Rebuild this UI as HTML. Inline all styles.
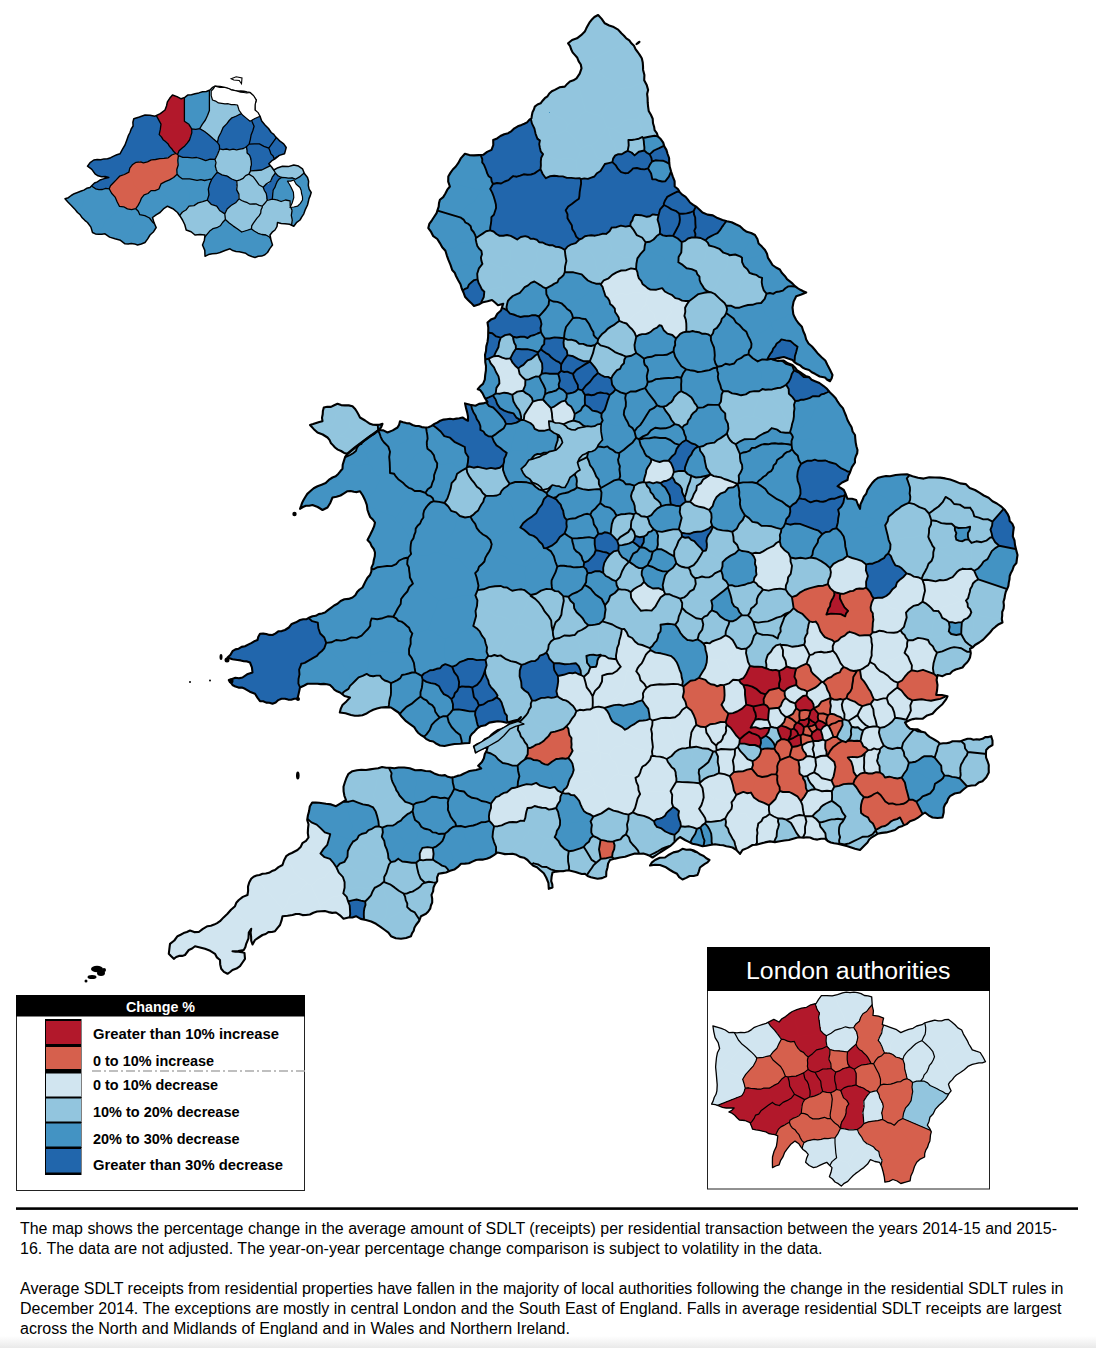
<!DOCTYPE html>
<html><head><meta charset="utf-8"><title>SDLT map</title>
<style>
html,body{margin:0;padding:0;background:#fff;}
body{width:1096px;height:1348px;position:relative;overflow:hidden;font-family:"Liberation Sans",sans-serif;}
svg{position:absolute;left:0;top:0;}
.t{font-family:"Liberation Sans",sans-serif;font-size:16px;fill:#000;}
.lg{font-family:"Liberation Sans",sans-serif;font-weight:bold;font-size:14.5px;fill:#000;}
</style></head><body>
<svg width="1096" height="1348" viewBox="0 0 1096 1348">
<rect width="1096" height="1348" fill="#fff"/>
<clipPath id="land"><path d="M598.1,15 l 3.6,3.9 3.1,4.4 4.4,2.2 4.6,1.6 4.3,2.5 3.3,3.7 2.6,2.4 2.3,2.7 3,2 2.1,2.9 2.6,2.5 1.5,3.3 2.2,2.9 2,2.9 2.1,3.4 0.9,3.9 0.3,3.8 0.1,3.9 1.3,5.1 -0.2,5.2 2.5,4.7 1.4,5 -1,4.1 0.5,4.2 0.1,4.2 0.4,4.2 0.6,4.3 2.2,3.9 1.8,4 0.3,4.4 1.1,3.5 0.5,3.5 2.2,2.9 1.2,3.4 2.9,2.8 2.3,3.3 1.1,3.8 2.1,3.5 1.2,4.1 1.5,4 0.1,4.2 0.5,4.3 1.4,5 1.6,4.9 1.9,4.8 0.1,5.3 3.2,2.5 2.1,3.5 2.6,2.4 3,2 2.3,2.7 2.1,2.9 3.2,2.4 3.4,2.1 3,2.7 2.9,2.8 5,2.1 5.3,0.8 4.7,2.7 5,1.9 4.5,1.2 4.6,1 4.2,2.1 4.2,1.9 3.2,3.1 3.6,2.5 4.3,1.2 3.9,2 2.4,4 1.2,4.5 3.3,3.1 3.1,3.4 2,3.7 1,4.2 2.3,3.5 2.2,3.6 3.5,2.5 3.8,2 2.2,3.6 3,3.1 2,3 2.9,2.2 2.7,2.2 2.4,2.6 2.6,1.9 2.8,1.7 2.9,1.5 2.9,1.2 -4.9,2 -5.1,1.7 -2.6,5.4 -1.1,5.9 0.4,3.3 0.4,3.3 1.3,3 1.6,2.9 2.6,3.6 3.1,3.1 1.3,4.3 1.8,4 1.2,4.5 2.3,4 3.5,3 3,3.5 3.1,3.8 3.5,3.4 3.7,3.3 2.2,4.5 2.6,5 2.4,5 -0.8,3.3 -1.7,2.9 -2.8,-1.4 -2.2,-2.3 -5.3,-1 -4.7,-2.7 -3.2,-1.5 -2.7,-2.3 -3.4,-0.9 -3.2,-1.6 -2.3,-2.1 -2.9,-1.4 -2.7,-1.6 -2.1,-2.4 -4.4,-1.4 -4.3,-1.6 -5.7,1.1 -5.6,1.4 5.5,1.4 5.8,-0.4 4,2.8 4.7,1.7 2.4,2.4 2,2.7 2.8,1.7 2.8,2 3,2.1 3.5,1.2 2.6,2.7 3.4,1.4 4.4,1.8 3.9,2.8 3.7,3 3,3.7 2.9,2.8 2.8,2.9 2,3.5 2.3,3.3 2.9,3.1 1.6,4 1.6,3.9 1.4,4 2,3.7 2.1,3.6 1,4.2 2.4,3.5 0.3,3.8 0.4,3.8 0.7,3.7 1.1,3.7 -0.3,3.2 -1.4,3 -0.9,3.1 0.1,3.2 -3.1,4.7 -1.9,5.3 -1.8,3.6 -0.7,3.9 -5.4,2.5 -4.6,3.7 3.2,1.8 3.1,2 2,4.3 1.7,4.5 4.5,-0.1 4.2,1.3 1.7,4.5 2.1,4.3 0.5,-4.6 2,-4.2 1.3,-3.4 2.4,-2.8 1.3,-4 2.3,-3.4 2.4,-3.4 2.8,-3 3.3,-2.3 3.9,-0.9 3.8,-0.8 4,0.2 5.6,-1.2 5.6,-0.5 5.8,-0.2 5.5,1.9 5.5,1.5 5.7,0.9 5.6,-1.4 5.7,0.3 5.1,0.1 5.1,0.8 5,1.2 4.8,1.6 5.1,2.2 5.6,0.7 4,3.9 5.3,2 4.4,2.7 4.4,2.8 4.8,2.2 3.9,3.5 4.4,2.3 4.1,2.8 3.6,3.4 2.9,4.1 1.6,3.4 0.6,3.8 2.7,2.9 1.4,3.6 -0.6,4.4 -0.4,4.5 1.7,4.1 0.5,4.5 1.2,5 1.3,5 -0.6,4 -0.5,4 -2.6,3.1 -1.3,3.9 -1.6,2.9 -1.2,3.1 -0.2,3.3 -0.7,3.2 -0.4,3.3 -1.2,3 -1.4,3 -0.8,3.2 -0.5,3.4 -1,3.4 0.4,3.5 -0.3,3.4 -1.4,3.3 0,3.6 -0.4,3.4 0.7,3.5 -3.7,1.7 -3.2,2.5 -3.1,2.6 -2.5,3.2 -3.4,3.5 -3.4,3.6 -4,2.9 -4.2,2.5 -2.1,2.3 -2.9,1.5 0.8,4.3 -0.8,4.4 -1.4,2.8 -1.9,2.5 -2.3,2.2 -1.9,2.5 -3.4,1.1 -3.4,0.9 -3.2,1.6 -2.5,2.7 -4,0.5 -3.5,1.9 -5,-1.2 -0.9,5 0.9,5 -0.4,5 -0.9,5 5.7,0 5.6,1.2 -1.3,2.9 -1.9,2.6 -1.9,2.5 -2.4,2 -3.9,3.6 -3.6,4 -5.4,1.6 -4.6,3.4 -3.2,-0.1 -3.1,-0.2 -3.2,0.6 -3,0.9 -5,2.5 2.1,3.4 2.9,2.9 3.9,0.5 3.9,0.1 3.3,2.1 3.9,1 2.1,2.4 2.5,1.9 2.7,1.6 2.7,1.6 2.7,1.6 2.3,2.2 3.2,-0.5 3.2,-0.1 3.2,-0.6 2.9,-1.4 3.9,0 3.8,0.2 3.6,-1.5 3.7,-1.1 3.1,0 2.9,0.9 3,-0.5 3.1,0.4 3,-0.8 2.6,-1.7 3.1,0 2.9,-0.9 1.3,4.3 0,4.5 -3.5,2.1 -2.8,2.9 -0.3,3.9 0.2,3.8 1.5,3.6 1.2,3.7 -0.1,3.8 0.1,3.7 -2.5,4.8 -3.8,3.9 -3.9,1.4 -3.1,2.6 -4,0.3 -4,0.7 -3.8,3.1 -3.7,3.2 -5.3,1 -4.7,2.7 -1.9,2.7 -1.1,3.1 -2,2.5 -1.2,3 -0.1,5.1 -1.2,4.9 -5,0.5 -5,-0.5 -4,-2.2 -3.5,-2.8 -3.6,2.5 -3.4,2.7 -3.8,2.1 -4.2,1.4 -3.3,2.9 -4.1,1.8 -4.1,1.4 -3.5,2.7 -4.3,1.3 -4.3,1.1 -4.5,0.5 -4.4,0.9 -2.8,1.8 -2.9,1.7 -2.6,2.2 -1.7,3 -3.8,3.7 -3.7,3.8 -5,-1.2 -3.7,-1.3 -3.8,-1.3 -5,-1.2 -5,-1.2 -3.4,-0.6 -3.3,-0.7 -3.2,-1.5 -2.6,-2.2 -3.9,-0.1 -3.7,0.9 -3.9,-0.6 -3.5,-1.5 -3.1,-0.2 -3.1,0.3 -3.2,-0.1 -3.1,0 -4.3,1.2 -4.3,1.3 -4.5,0.5 -4.4,0.7 -5.1,0.9 -5,-0.7 -5,1 -4.9,1.4 -3.7,1 -3.8,0.2 -4.8,2.9 -5.2,2.1 -2.5,3.8 -3.4,-3.6 -4.1,-2.7 -3.1,-0.7 -3.1,-0.6 -3.1,-0.9 -3.2,-0.3 -5,-0.8 -5,0.8 -3.7,0.7 -3.8,0.5 -4.9,-1.4 -5.1,-1 -3.7,-1.9 -3.8,-1.9 -5,-3 -2.7,2.1 -2.3,2.5 -2.5,2.4 -2.5,2.2 -5,3.1 -5,3.2 -3.7,2.5 -3.8,2.5 -2.8,-1.7 -3.1,-1.3 -3.3,-0.9 -3.3,0.2 -5.1,-0.3 -4.9,1.5 -4.9,1.7 -5.1,0.8 -5,1.1 -5,1.4 -1.9,3.5 -0.6,4 -1.2,4.3 -0.1,4.4 -4.1,1.9 -4.6,0.7 -3.3,-0.8 -3.3,-0.8 -3.3,-1.2 -2.6,-2.2 -3.2,0.2 -3.2,-0.9 -3,-1.1 -3.1,-0.8 -3.1,-0.8 -3.2,0.1 -3,0.8 -3.2,-0.1 -3.8,0.4 -3.7,0.9 -0.9,4.3 -0.4,4.4 1.1,3.1 0.2,3.2 -3.7,1.3 -0.4,-5.9 -2.2,-5.4 -2.4,-4.3 -3.8,-3.2 -3,-2.8 -3.8,-1.5 -3,-2.7 -2.7,-3 -3.5,-2.3 -4,-0.8 -3.5,-2.1 -4,-1 -3.8,0.2 -3.8,0.1 -3.7,-0.8 -3.7,-0.8 -3.6,2.7 -3.9,2.3 -3.3,1.3 -3.5,0.8 -3.6,-0.1 -3.6,0.5 -3.6,1.6 -3.5,1.7 -4,0.3 -3.9,0.2 -3.1,3.1 -3.6,2.7 -4.2,1.2 -4.1,1.7 -3.8,0.6 -3.7,0.7 -1.4,3.5 0.1,3.8 -2.2,3 -1.5,3.4 -0.4,3.9 -1.6,3.5 0.7,3.8 0,3.8 -1.3,3 -0.7,3.2 -1.9,2.7 -2.3,2.4 -5,2.4 -1.9,4.8 -3.1,4 -1.6,2.7 -0.7,3 -1.7,2.6 -1,2.9 -4.9,1.8 -5.1,0.8 -5.2,-0.6 -4.8,-2 -2.6,-3.6 -3.6,-2.6 -4.3,-3.2 -4.5,-3 -4.8,-2.3 -5.2,-1.5 -5.3,-1.1 -4.7,-2.7 -3.6,1.3 -3.9,0 -5,1.3 -3.5,-3.5 -4,-2.8 -3.8,0.4 -3.7,-0.8 -3.7,-1.1 -3.8,0.2 -3.9,0.3 -3.7,1.2 -3.5,1.8 -3.9,0.5 -3.5,0.1 -3.3,-1.1 -3.4,0 -3.3,1 -5,0.7 -5,0.5 -1,4.5 -1.5,4.3 -2.6,3.1 -2.4,3.1 -3.2,0.8 -3.4,0.1 -2.7,1.9 -3.2,1 -3.8,2.5 -3.7,2.5 -2.5,4.5 -1.3,-3.8 -0.1,-4 -0.5,-4 0.6,-3.9 -2.4,3.7 -0.3,5.8 -2.3,5.5 -0.8,3.2 -1.6,3 -5.6,1 -5.7,0.2 3,0.6 3.1,-0.1 3,0.4 2.9,0.9 0.5,5.8 -2.5,3.7 -2.5,3.7 -3.5,2.4 -4,1.4 -2.4,2 -2.6,1.8 -3.6,-1.9 -2.7,-3.1 -1,-4.4 -0.2,-4.4 -3.1,-2.6 -1.9,-3.6 -4.8,-3 -5.2,-2 -5,-1.4 -5,-1.2 -2.9,2.3 -3.3,1.5 -1.9,2.5 -1.9,2.5 -2.9,0.9 -3.1,0 -2.8,1.1 -2.4,1.8 -2.6,-2.5 -2.4,-2.5 0.6,-5.1 0.6,-4.9 4.3,-3.3 3.2,-4.3 3.1,-1.5 3,-1.6 3.3,-1.1 3.1,-1.5 4.2,1.6 4.6,-0.1 4.1,-3.2 4.6,-2.6 3.4,-0.5 3.2,-1.1 3,-1.5 2.9,-1.9 3.6,-3.8 3.9,-3.6 3.5,-4 4,-3.6 1.3,-3.4 2.5,-2.8 4,-3.1 4.7,-1.9 0.6,-4.2 -0.1,-4.2 1.2,-4.1 2,-3.7 2.4,-2.1 2.9,-1.2 3.1,-0.5 2.9,-1.2 3.3,-0.3 3.2,-0.7 2.9,-1.7 3.1,-1.1 3.5,-2.9 4,-2.1 1.5,-4.5 2.2,-4.3 2.6,-1.9 3,-1.3 2.8,-1.5 2.9,-1.5 3.1,-2.9 1.8,-3.9 3.6,-2.3 2.5,-3.4 -0.7,-4.4 0.2,-4.4 0.5,-4.4 -1.3,-4.3 0.7,-4.5 1.2,-4.4 0.7,-4.6 2.4,-4 3.5,0.1 3.5,0.2 3.4,0.5 3.4,0.5 5.1,0.6 4.9,1.8 5,-3.1 5,-3.1 -1.6,-4.2 -0.8,-4.4 -0.1,-4.6 1.3,-4.3 1.6,-4.5 2.1,-4.2 3.9,-2.6 4.5,-0.9 4.5,-0.5 4.6,0.2 4.1,-0.6 4,-0.6 4.1,-0.5 3.9,-1.3 4.1,0.7 4.1,0.1 4.1,0.5 4.1,-0.8 5.7,0 5.6,0.8 5.4,1.9 5.8,-0.2 4.5,1 4.6,0.3 4.1,2.1 4.3,1.6 3.2,0.5 3.3,-0.4 2.8,1.7 3.2,0.7 3.2,-0.5 3.1,-1.1 3.3,-0.7 2.9,-1.4 3,-1.4 3,-1.4 3.2,-0.5 3.3,-0.5 5.2,-1.4 -3,-2.9 3.7,-3.7 2,-3.8 0.9,-4.2 1.9,-3.5 1,-3.8 -3.2,1 -3.2,1.2 -3.1,1.4 -2.5,2.3 -0.7,-3.2 -1.1,-3 3.8,-2.4 4.2,-1.6 3.2,-3.3 4.1,-1.9 2.5,-2.6 2.8,-2.3 2.9,-2 3.5,-1.1 4.7,-2 4,-3.1 3.7,-1 3.7,-1.1 2.1,-2.4 1.9,-2.6 -3,2.8 -3.5,0.7 -3.5,1 -4.3,1.3 -4.3,-1.1 -4.4,-0.5 -4.4,0.7 -4.4,0.7 -4,2.7 -4.8,1 -3.2,2.2 -2.6,2.9 -2.5,2.3 -1.9,2.8 -0.4,3.2 -0.3,3.3 -4.8,0.3 -4.7,0.5 -5.5,0.2 -5.5,1 -4.5,1 -4.5,-0.5 -3.5,-1.7 -3.2,-2.3 -3.9,-0.8 -3.4,-1.9 -2.5,-2.3 -2.9,-1.7 -2.6,-2.1 -2,-2.7 -1.8,-2.9 -2.8,-2 -2.7,-1.9 -2.7,-2 -4,-4.1 -3.5,-4.6 -3.8,-2.5 -3.7,-2.5 -5,-0.4 -5,0.4 -4,1 -3.8,1.3 -3.7,1.8 -3.5,2.2 -3.6,1.4 -3.8,0.4 -3.8,0.1 -3.8,-0.7 -5.5,-1.8 -5.7,-0.7 1,-3.9 1.7,-3.6 3.9,-3.6 3.6,-3.9 -5.5,-1.5 -4.5,-3.5 -3,-1.2 -2.7,-1.7 -2,-2.4 -2.3,-2.2 -3.1,-0.8 -3.1,-0.3 -3.2,0.2 -3.1,-0.3 -5,-0.1 -5,0.1 -3.7,1.9 -3.8,1.8 -1.2,5.6 -1.3,5.7 -3.2,-0.1 -3.1,1 -3.1,-0.1 -3.1,-0.8 -3.5,0 -3.2,1.3 -2.6,2.4 -3.2,1.3 -3.1,-1 -3.2,-0.2 -3,-1.3 -3.2,-0.1 -2.6,-3.6 -2.4,-3.8 -5.2,-2.1 -4.8,-2.9 -3.1,-1.2 -3.4,0 -3.1,-1 -2.9,-1.6 -1.8,-2.6 -1.9,-2.4 3.3,-1.1 3.3,-1.1 3.6,0.5 3.5,-0.8 4.6,-3.2 5.4,-1.8 -0.6,-5.2 -1.9,-4.8 -3,-1.1 -3.2,-0.2 -3.1,-0.8 -3.2,-0.4 -5.1,-0.7 -4.9,-1.8 3,-2.7 2,-3.6 2.9,-1.8 3.3,-0.7 2.9,-1.8 3.4,-0.7 3.1,-1.6 3.1,-1.5 3,-1.8 3.3,-1.3 0.8,-3.3 1.7,-2.9 3.2,-0.2 3.1,0.4 3,0.9 3.2,0.1 3.1,-1.6 2.7,-2.1 3.4,-0.2 3.3,-1.1 3.9,-2.5 2.8,-3.6 4.3,-1.6 4,-2.3 3.2,-0.7 3.4,-0.2 2.9,-1.6 3,-1.3 3.3,-0.4 2.9,-1.7 3.2,-0.7 3.1,-0.9 2.9,-2.4 3.1,-2.3 3.1,-2.3 3.4,-1.7 3.1,-2.8 3.8,-1.7 4.2,-0.4 3.9,-1.4 2.8,-2.3 1.8,-3.1 2.5,-2.6 2.9,-2 1.6,-3.3 1.6,-3.3 1.8,-3.2 2.5,-2.7 1.4,-3.7 0.1,-3.9 1.7,-3.5 0.6,-3.9 1,-3.7 0.2,-3.8 -1.2,-3.5 -2.2,-2.9 -1.5,-3.4 -2.6,-2.7 2.6,-5 2.4,-5 1.6,-3.6 0.9,-3.9 -2.2,-3 -2.7,-2.6 -1.4,-3.4 -1.2,-3.5 -0.7,-5.1 -1.8,-4.9 -2.2,-4.5 -2.8,-4.3 -3.1,0.9 -3.1,-0.3 -3.1,-0.8 -3.2,0.2 -3.5,2.2 -3.5,2.1 -4,1.2 -4,0.8 -2.1,5.2 -2.9,4.8 -5,2.5 -4.8,-3 -5.2,-2 -3.3,0.7 -3.3,0 -3,1.3 -2.9,1.8 1.1,-2.9 1,-3 1.3,-2.7 1.6,-2.7 2.3,-3.6 3.2,-2.9 3.2,-2.8 3.8,-2 4.1,-1.5 4.1,-1.6 3.1,-3.2 3.7,-2.4 3.2,-1.2 2.5,-2.4 2.1,-2.6 2.2,-2.5 0.2,-4.1 1.2,-3.8 1.2,-3.9 2.4,-3.2 -3.4,-0.9 -3,-1.9 -3.3,-1.4 -2.8,-2.1 -2.1,-2.4 -2.1,-2.2 -1.3,-3 -2,-2.4 -4.8,-3 -5.2,-2 -3.9,-3.6 -3.6,-3.9 3.1,-1 3.1,-1.1 3.1,-1 3.2,-0.7 -0.5,-3.4 0.7,-3.5 0.2,-3.4 0.9,-3.4 3.5,-0.8 3.7,0.2 3.2,-1.6 3.3,-1.5 3.6,1.3 3.8,0.3 3.9,0 3.7,0.8 2.4,2.5 1.9,2.8 1.7,3 1.5,3 5.1,3 4.9,3.3 3,1 3.2,0.1 3.3,-0.1 3,-1 -1.3,3.4 -2.4,2.8 4.6,0.4 4.1,2.1 5.2,-2.1 4.8,-2.9 1.7,-2.9 0.8,-3.4 3.1,1.1 3.2,0.8 3.3,0.3 2.9,1.6 3.1,1 3.2,0 3,1.1 3.2,0.4 3.5,-0.2 3.1,-1.4 2.8,-2 3.1,-1.4 2.8,-1.8 3.2,-1.1 3.2,-0.4 3.3,-0.4 3.2,0.4 3.1,-0.6 3.1,-0.3 3.1,-0.8 2.6,1.7 2.9,1.5 0,-4.2 -0.8,-4.1 -1.2,-4.4 -1,-4.6 5.2,1.3 5.3,1 3.5,-1.8 4,-0.5 4.5,-1.5 -3,-4.5 -1.9,-4 -2.6,-3.5 -2.3,-0.7 2.4,-2.9 2.9,-2.4 1.8,-4.3 0.4,-4.7 0.7,-4.4 0.1,-4.5 -0.7,-3.8 -0.1,-3.7 -0.2,-3.8 1,-3.7 0.3,-4.6 1.2,-4.4 0.6,-4.5 0.1,-4.5 0.1,-5.3 -0.8,-5.2 3.4,-2.9 4.1,-1.6 2.3,-4.3 3.7,-3.2 1.1,-3.4 1.1,-3.4 -5.2,1.5 -3,-2.7 -3,-2.5 -4.5,1.3 -4.5,0.9 -4.3,2.4 -4.7,1.4 -2.9,-3.1 -3.1,-2.9 -3,-3.3 -1.5,-4.2 -1.8,-4 -1.2,-4.3 -2.3,-4 -2.2,-4.2 -1.3,-3.3 -2.5,-2.7 -1.7,-5.2 -2.2,-5.1 -1.5,-4.4 -1.4,-4.5 -3.2,-3.6 -2.3,-4.1 -2.6,-4.1 -4,-2.8 -2.2,-4.3 -2.8,-3.8 1,-4.2 2.6,-3.6 2.3,-3.6 2.4,-3.6 1,-3.3 1.1,-3.2 0.3,-3.5 0.9,-3.3 3.3,-2.7 2.2,-3.6 1.9,-3.8 2.6,-3.2 -1.7,-4.9 0.1,-5.1 2.1,-3.6 2.4,-3.4 3,-3 2.4,-3.3 2.8,-5.1 3.9,-4.3 4.5,1.3 4.6,0.3 4.6,-0.3 4.6,-0.3 3.9,-2.9 4.4,-2 1.8,-4.9 -0.1,-5.1 3.9,-1.5 3.3,-2.4 3.8,-1.8 4,-1 3.3,-2.1 2.9,-2.8 3.4,-2 3.7,-1.4 2.8,-1.2 2.8,-1.3 1.9,-2.3 2.5,-1.9 0.4,-3 0.6,-3 1.4,-2.7 0.9,-2.9 2.7,-2.1 3.1,-1.2 2,-2.6 2.2,-2.5 2.7,-1.9 1.8,-2.8 2.5,-2.2 3,-1.4 4.7,-2.6 5.3,-0.7 2.4,-2.7 2.7,-2.5 3.5,-1.1 3.1,-2 3.2,-4.7 1.8,-5.3 -0.7,-3.8 -2.1,-3.2 -1.4,-3.5 -2.5,-2.9 -2.2,-2.5 -1.5,-3.1 -1,-3.2 -2,-2.8 4,-3.3 4.9,-1.7 4.1,-3.1 3.7,-3.6 1.4,-3 1.6,-3 1.6,-2.9 2,-2.7 3,-3Z"/><path d="M655,860 l 4.8,-2.2 5.2,-0.3 4,-2.8 4.4,-2.3 4.9,-1 4.2,-2.6 3.8,1 4,-0.3 3.8,1.1 3.4,1.9 2.9,2.1 3.3,1.3 2.6,2.4 3.2,1.7 -2,2.4 -2.6,1.5 -2.5,1.8 -2.4,1.8 -1.1,3.8 -1.4,3.7 -3.9,1 -4,0 -3.4,1.9 -3.7,1.6 -3.3,-2.4 -2.2,-3.3 -3.6,-1.8 -3.4,-2 -4.7,-3.1 -5.3,-1.9 -5,-0.3 -5,0.8 2,-3.2Z"/></clipPath>
<g clip-path="url(#land)">
<rect x="0" y="0" width="1096" height="1000" fill="#4393c3"/>
<g shape-rendering="crispEdges">
<path d="M697.6,639.4 l 1.3,-5.3 3.3,-4.4 1.1,-5.3 -1.4,-5.3 2.4,-2.5 3.2,-1.3 1.9,-2.8 2.5,-2.2 4.9,2.1 3.4,4 4.3,2.9 4.9,1.8 -0.8,3.6 -1.6,3.3 -1.2,3.5 -0.3,3.7 -5,3.2 -5.6,2 -2.9,1.1 -2.5,1.9 -3,-0.6 -3.1,0.7 -2.7,-2.3Z" fill="#92c5de" stroke="#92c5de" stroke-width="0.9"/>
<path d="M746.5,648.5 l -5,0.6 -4.7,-1.6 -2,-3.8 -2.1,-3.7 -3.3,-2.9 -3.9,-1.9 0.3,-3.7 1.2,-3.5 1.6,-3.3 0.8,-3.6 3.7,0.1 3.3,-1.6 2.7,-2.4 2.9,-2.1 5.9,0.3 3.1,2.8 2.3,3.5 1.5,5.6 1.9,5.6 -2.7,3 -1.2,3.8 -1.3,3.8 -2.5,3.1Z" fill="#92c5de" stroke="#92c5de" stroke-width="0.9"/>
<path d="M790.1,611.8 l -4.5,1.8 -4.1,2.7 -4.7,1.3 -4.3,2.1 -4.6,1.7 -4.9,0.5 -4.8,0.7 -4.9,-0.9 1.5,5.6 1.9,5.6 5.2,1.8 5.5,0.2 5.5,0.7 4.8,2.9 1,-3.7 2,-3.2 -0.3,-3.8 1.4,-3.6 1.4,-3.6 1.3,-3.6 2.5,-2.8Z" fill="#92c5de" stroke="#92c5de" stroke-width="0.9"/>
<path d="M749,646.6 l 2.5,-3.1 1.3,-3.8 1.2,-3.8 2.7,-3 5.2,1.8 5.5,0.2 5.5,0.7 4.8,2.9 1.9,2.6 0.5,3.2 -4,1.1 -3.1,2.9 -2.1,3.5 -3,2.9 -5.4,0.1 -4.9,-2.1 -4.3,-3.1Z" fill="#92c5de" stroke="#92c5de" stroke-width="0.9"/>
<path d="M790.1,611.8 l 3.5,-3.7 4,3.4 4.8,2.3 3.5,3.9 3.7,3.7 -1,2.8 -0.5,3 -0.7,2.9 0,3.1 -1.6,2.6 -1.1,2.9 0.3,3.1 -0.9,3 -5.8,1.2 -5.9,0.8 -5.7,-1.6 -5.9,-0.4 -0.7,-0.5 -0.5,-3.2 -1.9,-2.6 1,-3.7 2,-3.2 -0.3,-3.8 1.4,-3.6 1.4,-3.6 1.3,-3.6 2.5,-2.8Z" fill="#92c5de" stroke="#92c5de" stroke-width="0.9"/>
<path d="M766,668.4 l -3.9,-1.5 -4,-0.3 -4.1,0.2 -4,-0.9 -2,-4 -0.9,-4.4 -1.1,-4.4 0.5,-4.6 2.5,-1.9 4.3,3 4.3,3.1 4.9,2.1 5.4,-0.1 -1.2,3.2 -0.9,3.4 0.6,3.4 -0.1,3.5Z" fill="#92c5de" stroke="#92c5de" stroke-width="0.9"/>
<path d="M824.9,615.9 l -4.7,2.6 -4.4,3.1 2.1,2.9 1.3,3.5 1.2,3.4 2.1,2.9 2.3,2.9 3.4,1.5 3.5,1.1 2.8,2.3 3.7,-1.8 2.8,-2.9 3.7,-1.8 2.9,-2.8 -3.2,-1.9 -2.8,-2.5 -2.4,-2.9 -1.1,-3.6 -3.3,-1.9 -3.8,-0.1 -2.9,-2.1Z" fill="#d6604d" stroke="#d6604d" stroke-width="0.9"/>
<path d="M857.1,670.5 l -3.5,0.5 -3.5,-0.8 -3.1,-1.8 -3.3,-1.4 -3.2,-3.8 -2,-4.5 -2.3,-4.3 -3.3,-3.7 -0.2,-4.5 1.8,-4.1 3.7,-1.8 2.8,-2.9 3.7,-1.8 2.9,-2.8 2,-1 5.1,1.6 4.8,2.2 5.3,-0.4 5.3,0.1 1.3,3.2 0.1,3.5 0.7,3.3 -0.3,3.5 -0.3,3.4 0.1,3.4 -1.2,3.2 -0.7,3.4 -1.6,2.9 -2.7,1.7 -2.7,1.8 -2.8,1.4Z" fill="#d1e5f0" stroke="#d1e5f0" stroke-width="0.9"/>
<path d="M809.6,655.1 l 3,-0.7 2.5,-1.8 2.9,-0.5 3,-0.3 3,0.7 3,-0.3 3,-0.4 2.9,-1.1 -0.2,-4.5 1.8,-4.1 -2.8,-2.3 -3.5,-1.1 -3.4,-1.5 -2.3,-2.9 -2.1,-2.9 -1.2,-3.4 -1.3,-3.5 -2.1,-2.9 -3.1,0.5 -3.1,-0.7 -1,2.8 -0.5,3 -0.7,2.9 0,3.1 -1.6,2.6 -1.1,2.9 0.3,3.1 -0.9,3 3,5Z" fill="#d1e5f0" stroke="#d1e5f0" stroke-width="0.9"/>
<path d="M806.6,663.7 l 1.4,-4.4 1.6,-4.2 -2.5,-5.3 -3,-5 -5.8,1.2 -5.9,0.8 -5.7,-1.6 -5.9,-0.4 2.2,5.3 -0.1,5.7 2.7,5 0.9,5.7 4.8,1.5 5,0.5 5,-2.6Z" fill="#d1e5f0" stroke="#d1e5f0" stroke-width="0.9"/>
<path d="M766.3,668.2 l 0.1,-3.5 -0.6,-3.4 0.9,-3.4 1.2,-3.2 3,-2.9 2.1,-3.5 3.1,-2.9 4,-1.1 0.7,0.5 2.2,5.3 -0.1,5.7 2.7,5 0.9,5.7 -3.4,2.7 -4,1.8 -3.2,-1.1 -3.3,0.4 -3.3,-0.7Z" fill="#d1e5f0" stroke="#d1e5f0" stroke-width="0.9"/>
<path d="M821.7,681.8 l 1.5,0.3 2.4,-2.1 2.6,-1.9 3.1,-1.1 2.4,-2.1 2.9,-1.5 3.2,-1.1 1.5,-3 2.4,-2.3 -3.2,-3.8 -2,-4.5 -2.3,-4.3 -3.3,-3.7 -2.9,1.1 -3,0.4 -3,0.3 -3,-0.7 -3,0.3 -2.9,0.5 -2.5,1.8 -3,0.7 -1.6,4.2 -1.4,4.4 2.5,1.7 1.5,2.8 0.6,3 1.8,2.5 4.5,3.9Z" fill="#d1e5f0" stroke="#d1e5f0" stroke-width="0.9"/>
<path d="M703.4,643.5 l 3.1,-0.7 3,0.6 2.5,-1.9 2.9,-1.1 5.6,-2 5,-3.2 3.9,1.9 3.3,2.9 2.1,3.7 2,3.8 -1.4,4.3 -2.9,3.4 -3.4,2.8 -3.2,3.1 -4.9,-0.2 -4.5,-1.8 -5,0 -4.4,-2.4 -0.6,-3.4 -1,-3.3 -0.3,-3.5Z" fill="#d1e5f0" stroke="#d1e5f0" stroke-width="0.9"/>
<path d="M723.9,685.1 l 5.2,-1.7 4,-3.6 -1.8,-4.7 -1.2,-4.9 -2,-4.6 -2.2,-4.5 -4.9,-0.2 -4.5,-1.8 -5,0 -4.4,-2.4 -0.4,5.8 -1.7,5.5 -3,4.8 -3,5 3.3,1 3.2,1 2.2,2.6 3,1.8 3.4,0.5 3.1,1.6 3.2,-1.3Z" fill="#d1e5f0" stroke="#d1e5f0" stroke-width="0.9"/>
<path d="M746.5,648.5 l -5,0.6 -4.7,-1.6 -1.4,4.3 -2.9,3.4 -3.4,2.8 -3.2,3.1 2.2,4.5 2,4.6 1.2,4.9 1.8,4.7 5.9,0.4 4.3,-2 2.8,-3.9 1.9,-4.2 2,-4.2 -2,-4 -0.9,-4.4 -1.1,-4.4Z" fill="#d1e5f0" stroke="#d1e5f0" stroke-width="0.9"/>
<path d="M779.1,671 l 4,-1.8 3.4,-2.7 4.8,1.5 5,0.5 -1.2,4.1 -0.7,4.2 1.9,3.9 0,4.3 -3.3,0.8 -3.3,1.3 -2.9,1.8 -2.2,2.6 -3.1,-1.3 -2.4,-2.4 0,-4.3 1.2,-4.1 -0.8,-4.1Z" fill="#b2182b" stroke="#b2182b" stroke-width="0.9"/>
<path d="M807.2,691.5 l -2.9,-1.6 -3.1,-0.7 -2.8,-1.6 -2.1,-2.6 0,-4.3 -1.9,-3.9 0.7,-4.2 1.2,-4.1 5,-2.6 5.3,-2.2 2.5,1.7 1.5,2.8 0.6,3 1.8,2.5 4.5,3.9 4.2,4.2 -3.1,3.1 -3.5,2.8 -4,1.9Z" fill="#d6604d" stroke="#d6604d" stroke-width="0.9"/>
<path d="M857.1,670.5 l -3.5,0.5 -3.5,-0.8 -3.1,-1.8 -3.3,-1.4 -2.4,2.3 -1.5,3 -3.2,1.1 -2.9,1.5 -2.4,2.1 -3.1,1.1 -2.6,1.9 -2.4,2.1 2.8,3.4 1.3,4.2 2.2,3.9 1,4.2 0.6,0.4 2.9,1.4 3.2,0.1 3.1,-0.7 3.1,0.8 3.1,-1.6 1.1,-3.7 2.7,-2.8 1.6,-3.4 0.4,-3.8 0.7,-3.7 0.3,-3.8 2,-3.2Z" fill="#d6604d" stroke="#d6604d" stroke-width="0.9"/>
<path d="M857.1,670.5 l -1.8,3.3 -2,3.2 -0.3,3.8 -0.7,3.7 -0.4,3.8 -1.6,3.4 -2.7,2.8 -1.1,3.7 4,1.9 4.2,1.5 3.6,2.7 4.1,1.8 4,-1.3 4.2,-0.9 3.3,-4.5 -1.7,-3.7 -1.5,-3.8 -2.3,-3.4 -2,-3.5 -2.4,-3.6 -2.7,-3.1 -0.7,-4.2 -0.6,-4.1Z" fill="#d6604d" stroke="#d6604d" stroke-width="0.9"/>
<path d="M721.5,704.8 l 2.8,4.8 4.1,3.9 4.5,-0.4 4.2,-1.6 5,-2.8 4.1,-4.1 -0.6,-5 -0.6,-4.9 0,-5 -1.7,-4.8 -2.6,-1.9 -1.7,-2.8 -5.9,-0.4 -4,3.6 -5.2,1.7 0.5,5 0.2,5.1 -0.5,5.1Z" fill="#d1e5f0" stroke="#d1e5f0" stroke-width="0.9"/>
<path d="M747.1,685.2 l -3.8,-0.3 1.7,4.8 0,5 0.6,4.9 0.6,5 3.5,0.8 3.6,1.1 5.3,-1.1 5.3,-1.2 -0.3,-5.1 2.1,-4.7 -5,-1.6 -3.9,-3.6 -4.6,-2.6Z" fill="#b2182b" stroke="#b2182b" stroke-width="0.9"/>
<path d="M785.7,698.1 l -1,-3.2 -0.1,-3.4 -3.1,-1.3 -2.4,-2.4 -4.9,1.2 -4.9,1.2 -3.6,4.2 -2.1,4.7 0.3,5.1 3.1,1.7 2.1,2.8 4.8,-0.4 4.8,-0.5 2.2,-2.1 1,-2.9 1.5,-2.7Z" fill="#d6604d" stroke="#d6604d" stroke-width="0.9"/>
<path d="M795.2,703.4 l 2.2,-2.8 2.8,-2.3 2.8,-2.3 3.6,-0.6 0.6,-3.9 -2.9,-1.6 -3.1,-0.7 -2.8,-1.6 -2.1,-2.6 -3.3,0.8 -3.3,1.3 -2.9,1.8 -2.2,2.6 0.1,3.4 1,3.2 4.3,3.4Z" fill="#d1e5f0" stroke="#d1e5f0" stroke-width="0.9"/>
<path d="M806.6,695.4 l 0.6,-3.9 3.9,-1.9 4,-1.9 3.5,-2.8 3.1,-3.1 1.5,0.3 2.8,3.4 1.3,4.2 2.2,3.9 1,4.2 -4.6,2 -4.6,1.9 -2.9,4.2 -4.6,2.4 0,0 -0.3,-3.9 -1.8,-3.4 -3,-2.4Z" fill="#d1e5f0" stroke="#d1e5f0" stroke-width="0.9"/>
<path d="M796.2,708.3 l 3.5,2.5 5.4,-0.9 5.5,0.9 3.2,-2.5 -0.3,-3.9 -1.8,-3.4 -3,-2.4 -2.1,-3.2 -3.6,0.6 -2.8,2.3 -2.8,2.3 -2.2,2.8Z" fill="#b2182b" stroke="#b2182b" stroke-width="0.9"/>
<path d="M686.7,706.8 l 0.5,0.4 4.5,-0.7 4.5,0.1 4,2.2 4.4,1 4.4,-1.2 3.6,-2.8 4.4,-1 4.5,0 2.6,-4.5 0.5,-5.1 -0.2,-5.1 -0.5,-5 -3.5,-0.1 -3.2,1.3 -3.1,-1.6 -3.4,-0.5 -3,-1.8 -2.2,-2.6 -3.2,-1 -3.3,-1 -4,2.3 -4.5,0.7 -3.5,2.8 -3.6,2.8 0.5,5.3 -1.1,5.3 2.6,4.6Z" fill="#d6604d" stroke="#d6604d" stroke-width="0.9"/>
<path d="M721.5,704.8 l 2.8,4.8 4.1,3.9 -1.3,4.3 -1.4,4.3 -5.2,-0.1 -5,1.6 -5.4,0.6 -4.4,2.9 -5,-0.3 -4.4,-2 -0.8,-5.1 -1.8,-4.7 -2.4,-4.6 -4.1,-3.2 4.5,-0.7 4.5,0.1 4,2.2 4.4,1 4.4,-1.2 3.6,-2.8 4.4,-1Z" fill="#d6604d" stroke="#d6604d" stroke-width="0.9"/>
<path d="M755.2,719.8 l 0.8,-3.4 -0.6,-3.4 -1.5,-3.1 -0.6,-3.4 5.3,-1.1 5.3,-1.2 3.1,1.7 2.1,2.8 -0.6,5.6 -0.4,5.5 -3.2,0.1 -3.2,-0.5 -3.3,-0.4Z" fill="#b2182b" stroke="#b2182b" stroke-width="0.9"/>
<path d="M777.3,728.1 l -3.3,-0.6 -3.3,-0.7 -1.2,-3.5 -1.4,-3.5 0.4,-5.5 0.6,-5.6 4.8,-0.4 4.8,-0.5 2.6,5.3 4.4,3.9 -1.5,4.8 -3.3,3.8Z" fill="#d1e5f0" stroke="#d1e5f0" stroke-width="0.9"/>
<path d="M796.2,708.3 l -1.7,2.6 -1.5,2.8 -2.6,1.7 -2.7,1.4 -2,0.2 -4.4,-3.9 -2.6,-5.3 2.2,-2.1 1,-2.9 1.5,-2.7 2.3,-2 4.3,3.4 5.2,1.9Z" fill="#d1e5f0" stroke="#d1e5f0" stroke-width="0.9"/>
<path d="M750.4,727.8 l -4.8,-2.5 -3.1,-4.6 -2.2,-4.9 -3.2,-4.3 -4.2,1.6 -4.5,0.4 -1.3,4.3 -1.4,4.3 1,2.6 3.9,3 3,4 2.8,4 3.4,3.5 4.5,-3.9 4.8,-3.6Z" fill="#b2182b" stroke="#b2182b" stroke-width="0.9"/>
<path d="M750.6,727.7 l -0.2,0.1 -1.3,3.9 3,1.7 3.4,0.9 3.2,1.7 2,2.9 5.1,-3.1 2.6,-3.7 1.3,-4.4 -4.9,0.3 -4.7,0.9 -4.6,-1.8Z" fill="#b2182b" stroke="#b2182b" stroke-width="0.9"/>
<path d="M750.6,727.7 l -0.2,0.1 -4.8,-2.5 -3.1,-4.6 -2.2,-4.9 -3.2,-4.3 5,-2.8 4.1,-4.1 3.5,0.8 3.6,1.1 0.6,3.4 1.5,3.1 0.6,3.4 -0.8,3.4 -2.5,3.9Z" fill="#b2182b" stroke="#b2182b" stroke-width="0.9"/>
<path d="M750.6,727.7 l 4.9,-0.6 4.6,1.8 4.7,-0.9 4.9,-0.3 1,-0.9 -1.2,-3.5 -1.4,-3.5 -3.2,0.1 -3.2,-0.5 -3.3,-0.4 -3.2,0.8 -2.5,3.9Z" fill="#d1e5f0" stroke="#d1e5f0" stroke-width="0.9"/>
<path d="M798,722.6 l 1.7,-2.5 -0.4,-4.7 0.4,-4.6 -3.5,-2.5 -1.7,2.6 -1.5,2.8 -2.6,1.7 -2.7,1.4 4.7,2.6 4.2,3.5Z" fill="#d6604d" stroke="#d6604d" stroke-width="0.9"/>
<path d="M807,726.2 l 1.9,-3.5 0,-3.9 -0.3,-1 -4.2,2.2 -4.7,0.1 -1.7,2.5 3.4,1.8 2.5,2.8Z" fill="#b2182b" stroke="#b2182b" stroke-width="0.9"/>
<path d="M818.4,720.4 l -2.9,2.9 -3.4,-2 -3.2,-2.5 -0.3,-1 1.1,-3.5 0.9,-3.5 3.2,-2.5 0,0 2.3,2.7 2.3,2.6 -0.7,3.4Z" fill="#b2182b" stroke="#b2182b" stroke-width="0.9"/>
<path d="M826.7,724.9 l -3.5,2.1 -2.4,3.2 -3.6,-1.2 -1.8,-4.6 0.1,-1.1 2.9,-2.9 4.4,1.5 3.8,2.7Z" fill="#b2182b" stroke="#b2182b" stroke-width="0.9"/>
<path d="M796.6,722.9 l -4.2,-3.5 -4.7,-2.6 -2,0.2 -1.5,4.8 -3.3,3.8 5.2,1.6 4.8,2.4 2.9,-1 0.7,-3.2Z" fill="#d6604d" stroke="#d6604d" stroke-width="0.9"/>
<path d="M802.8,734 l -2.2,1.5 -2.1,-0.6 -1.6,-3.7 -3.1,-2.6 0.7,-3.2 2.1,-2.5 1.4,-0.3 3.4,1.8 2.5,2.8 -0.3,3.4Z" fill="#b2182b" stroke="#b2182b" stroke-width="0.9"/>
<path d="M788.3,740 l 2.4,-4.9 0.2,-5.5 -4.8,-2.4 -5.2,-1.6 -3.6,2.5 1.6,5.6 2.4,5.4 3.4,0.2 3.3,1.1Z" fill="#b2182b" stroke="#b2182b" stroke-width="0.9"/>
<path d="M811.1,736.2 l -4.2,-0.9 -4.1,-1.3 0.8,-3.4 0.3,-3.4 3.1,-1 1.4,0.5 1.8,3.1 2.1,2.8Z" fill="#d6604d" stroke="#d6604d" stroke-width="0.9"/>
<path d="M811.1,736.2 l 2.2,4.6 5,0.2 4.8,-1.3 -0.9,-4.8 -1.4,-4.7 -3.6,-1.2 -2.4,1.9 -2.5,1.7Z" fill="#b2182b" stroke="#b2182b" stroke-width="0.9"/>
<path d="M826.6,724.6 l -3.8,-2.7 -4.4,-1.5 -0.7,-3.4 0.7,-3.4 5,-0.1 4.7,1.7 -1.8,4.6Z" fill="#d6604d" stroke="#d6604d" stroke-width="0.9"/>
<path d="M828.8,726 l -2.1,-1.1 -0.1,-0.3 -0.3,-4.8 1.8,-4.6 2.1,-1.5 3.6,0.5 3.3,1.7 3.4,1.2 2.6,2.6 -0.8,0.9 -3.7,0.4 -3.2,1.8 -3.6,1.1Z" fill="#d6604d" stroke="#d6604d" stroke-width="0.9"/>
<path d="M833.4,736.8 l -2,-5.5 -2.6,-5.3 3,-2.1 3.6,-1.1 3.2,-1.8 3.7,-0.4 0.3,4.5 -2,4.1 -2.2,3.8 -1.6,4.1Z" fill="#d6604d" stroke="#d6604d" stroke-width="0.9"/>
<path d="M833.4,736.8 l -3.8,2.2 -4,1.9 -2.5,-1.2 -0.9,-4.8 -1.4,-4.7 2.4,-3.2 3.5,-2.1 2.1,1.1 2.6,5.3Z" fill="#d1e5f0" stroke="#d1e5f0" stroke-width="0.9"/>
<path d="M807,726.2 l 1.9,-3.5 0,-3.9 3.2,2.5 3.4,2 -0.1,1.1 -3.4,1.4 -3.6,0.9Z" fill="#b2182b" stroke="#b2182b" stroke-width="0.9"/>
<path d="M799.7,720.1 l 4.7,-0.1 4.2,-2.2 1.1,-3.5 0.9,-3.5 -5.5,-0.9 -5.4,0.9 -0.4,4.6Z" fill="#d6604d" stroke="#d6604d" stroke-width="0.9"/>
<path d="M812.3,732.6 l 2.5,-1.7 2.4,-1.9 -1.8,-4.6 -3.4,1.4 -3.6,0.9 1.8,3.1Z" fill="#d6604d" stroke="#d6604d" stroke-width="0.9"/>
<path d="M798.5,734.9 l -4.9,2.9 -5.3,2.2 2.4,-4.9 0.2,-5.5 2.9,-1 3.1,2.6Z" fill="#b2182b" stroke="#b2182b" stroke-width="0.9"/>
<path d="M828.1,715.2 l -4.7,-1.7 -5,0.1 -2.3,-2.6 -2.3,-2.7 4.6,-2.4 2.9,-4.2 4.6,-1.9 4.6,-2 0.6,0.4 -1,3.9 0.8,3.9 -0.8,3.8 0.1,3.9Z" fill="#d6604d" stroke="#d6604d" stroke-width="0.9"/>
<path d="M843.1,719.7 l 1.2,-0.4 0.2,-5.1 -1.9,-4.6 -0.8,-5 1.6,-4.8 -3.1,-0.8 -3.1,0.7 -3.2,-0.1 -2.9,-1.4 -1,3.9 0.8,3.9 -0.8,3.8 0.1,3.9 3.6,0.5 3.3,1.7 3.4,1.2Z" fill="#d1e5f0" stroke="#d1e5f0" stroke-width="0.9"/>
<path d="M846.5,698.2 l -3.1,1.6 -1.6,4.8 0.8,5 1.9,4.6 -0.2,5.1 4.4,1.5 4.4,-2.8 4.4,-2.9 2.2,-4.6 2.7,-4.4 -4.1,-1.8 -3.6,-2.7 -4.2,-1.5Z" fill="#d1e5f0" stroke="#d1e5f0" stroke-width="0.9"/>
<path d="M836.8,737.1 l 2.5,2.3 3.1,1.6 3.4,1.2 1.5,-1.2 2.8,-2.8 1.1,-3.8 -0.3,-3.8 0.9,-3.8 -1.5,-3 -1.6,-3 -4.4,-1.5 -1.2,0.4 -0.8,0.9 0.3,4.5 -2,4.1 -2.2,3.8Z" fill="#92c5de" stroke="#92c5de" stroke-width="0.9"/>
<path d="M847.3,741 l 2.8,-2.8 1.1,-3.8 -0.3,-3.8 0.9,-3.8 3,0.7 3.1,-0.2 2.3,2 2.9,1.1 -1.6,5.2 -1,5.5 -3.3,-0.3 -3.3,0.2 -3.3,-0.5Z" fill="#92c5de" stroke="#92c5de" stroke-width="0.9"/>
<path d="M857.5,715.1 l 2,3.8 2.8,3.2 3.2,2.9 3.7,2.1 -3.4,0.9 -2.7,2.4 -2.9,-1.1 -2.3,-2 -3.1,0.2 -3,-0.7 -1.5,-3 -1.6,-3 4.4,-2.8Z" fill="#d1e5f0" stroke="#d1e5f0" stroke-width="0.9"/>
<path d="M777.3,728.1 l -3.3,-0.6 -3.3,-0.7 -1,0.9 -1.3,4.4 -2.6,3.7 3.1,1.9 2.6,2.5 2.2,2.9 1.3,3.3 2.2,-4.5 4.1,-2.8 -2.4,-5.4Z" fill="#92c5de" stroke="#92c5de" stroke-width="0.9"/>
<path d="M761.2,749.7 l -1.4,-2.7 1.2,-4 -0.3,-4.1 5.1,-3.1 3.1,1.9 2.6,2.5 2.2,2.9 1.3,3.3 -0.6,2.4 -3.3,-0.1 -3.4,-0.3 -3.3,0.2Z" fill="#4393c3" stroke="#4393c3" stroke-width="0.9"/>
<path d="M761.2,749.7 l -1.4,-2.7 -4.9,-2 -5.3,0 -5,-1.4 -5.2,0 -1.6,3.5 2.8,4.3 3.6,3.8 3.4,4 4.9,2 3.5,-2 2.9,-2.9 1.5,-3.2Z" fill="#92c5de" stroke="#92c5de" stroke-width="0.9"/>
<path d="M760.7,738.9 l -2,-2.9 -3.2,-1.7 -3.4,-0.9 -3,-1.7 -4.8,3.6 -4.5,3.9 -0.4,4.4 5.2,0 5,1.4 5.3,0 4.9,2 1.2,-4Z" fill="#b2182b" stroke="#b2182b" stroke-width="0.9"/>
<path d="M788,740.4 l -3.3,-1.1 -3.4,-0.2 -4.1,2.8 -2.2,4.5 -0.6,2.4 1.6,2.8 2.2,2.4 1.3,2.9 0.6,3.2 4.7,-2 4.9,-1.7 1,-4.7 1.4,-4.7 -1.6,-3.6Z" fill="#d6604d" stroke="#d6604d" stroke-width="0.9"/>
<path d="M800.6,735.5 l 0.3,4.5 0.3,4.6 -4.4,1.7 -4.7,0.7 -1.6,-3.6 -2.5,-3 0.3,-0.4 5.3,-2.2 4.9,-2.9Z" fill="#b2182b" stroke="#b2182b" stroke-width="0.9"/>
<path d="M792.1,747 l -1.4,4.7 -1,4.7 4.2,2.4 4.5,1.7 4.6,-1.1 3.6,-3.1 -1,-2.9 -2,-2.4 -1.4,-2.8 0,-3.1 -1,-0.5 -4.4,1.7Z" fill="#d6604d" stroke="#d6604d" stroke-width="0.9"/>
<path d="M811.1,736.2 l 2.2,4.6 -0.2,0.3 -5.7,1.3 -5.2,2.7 -1,-0.5 -0.3,-4.6 -0.3,-4.5 2.2,-1.5 4.1,1.3Z" fill="#d6604d" stroke="#d6604d" stroke-width="0.9"/>
<path d="M813.1,741.1 l 0.7,4.2 -1.2,4 1.3,3.9 0.4,4.1 -3.8,-1 -3.9,0 -1,-2.9 -2,-2.4 -1.4,-2.8 0,-3.1 5.2,-2.7Z" fill="#d1e5f0" stroke="#d1e5f0" stroke-width="0.9"/>
<path d="M813.3,740.8 l 5,0.2 4.8,-1.3 2.5,1.2 -0.4,3.7 0.1,3.7 1.3,3.5 -0.2,3.7 -5.7,0.5 -5.3,2 -1.1,-0.7 -0.4,-4.1 -1.3,-3.9 1.2,-4 -0.7,-4.2Z" fill="#d1e5f0" stroke="#d1e5f0" stroke-width="0.9"/>
<path d="M833.4,736.8 l -3.8,2.2 -4,1.9 -0.4,3.7 0.1,3.7 1.3,3.5 -0.2,3.7 1,0.5 2.5,-4.8 3.4,-4.3 4.3,-3.2 4.8,-2.7 -3.1,-1.6 -2.5,-2.3Z" fill="#d6604d" stroke="#d6604d" stroke-width="0.9"/>
<path d="M847.8,757.7 l -3.3,1.3 -3.3,1.4 -3.2,1.7 -3.7,-0.1 1.1,4.8 -0.8,4.8 -1,4.7 -2,4.4 1.3,3 1.4,3 4.8,-0.8 4.5,-1.8 4.8,-0.3 4.9,0 1.2,-3.8 2.3,-3.4 -3.1,-4.5 -0.8,-5.3 -1.6,-5.1Z" fill="#d6604d" stroke="#d6604d" stroke-width="0.9"/>
<path d="M847.9,757.4 l 1,-3.9 -0.6,-3.9 -0.4,-4 -2.1,-3.4 1.5,-1.2 3.3,-0.5 3.3,0.5 3.3,-0.2 3.3,0.3 1.6,2.5 1.2,2.8 2.8,1.4 2.1,2.3 -3.3,3 -3.4,3.1 -4.5,1.1 -4.6,-0.4Z" fill="#d6604d" stroke="#d6604d" stroke-width="0.9"/>
<path d="M847.9,757.4 l 4.5,-0.5 4.6,0.4 4.5,-1.1 3.4,-3.1 -0.8,4.8 0.1,4.9 -0.3,4.9 0.9,4.8 -4.5,1.1 -3.5,3 -3.1,-4.5 -0.8,-5.3 -1.6,-5.1 -3.5,-4Z" fill="#d1e5f0" stroke="#d1e5f0" stroke-width="0.9"/>
<path d="M737.8,747.1 l -2.8,2 -4.6,0.4 -4.6,-0.3 -4.7,-0.2 -4.5,1.3 -0.4,-4.7 1.8,-2.5 2.7,-1.5 1.8,-2.6 0.7,-3 2.1,-2.3 0.9,-3 -0.3,-3 0.8,-3 3.9,3 3,4 2.8,4 3.4,3.5 -0.4,4.4Z" fill="#d1e5f0" stroke="#d1e5f0" stroke-width="0.9"/>
<path d="M725.7,722.1 l 1,2.6 -0.8,3 0.3,3 -0.9,3 -2.1,2.3 -0.7,3 -1.8,2.6 -2.7,1.5 -1.8,2.5 -4.2,-3.5 -2.5,-4.9 -3.1,-4.6 -0.7,-5.5 4.4,-2.9 5.4,-0.6 5,-1.6Z" fill="#d1e5f0" stroke="#d1e5f0" stroke-width="0.9"/>
<path d="M713.2,751.5 l 2.4,-0.1 1,-1.1 -0.4,-4.7 -4.2,-3.5 -2.5,-4.9 -3.1,-4.6 -0.7,-5.5 -5,-0.3 -4.4,-2 -2,2.3 -1.5,2.6 -1.4,2.7 -0.4,3 -1,5.9 -0.1,6 0.4,0.2 5.9,-0.8 5.7,1.5 6,0.5Z" fill="#d1e5f0" stroke="#d1e5f0" stroke-width="0.9"/>
<path d="M729.7,776.2 l 4.1,-4.1 0,-5.8 -1,-5.8 2,-5.5 0.2,-5.9 -4.6,0.4 -4.6,-0.3 -4.7,-0.2 -4.5,1.3 -1,1.1 2.4,5.1 -0.3,5.7 1.3,5.4 -0.1,5.6 5.6,0.9Z" fill="#d1e5f0" stroke="#d1e5f0" stroke-width="0.9"/>
<path d="M737.8,747.1 l -2.8,2 -0.2,5.9 -2,5.5 1,5.8 0,5.8 4.5,-0.6 4.6,-0.1 4.3,-1.8 4.5,-0.9 1.3,-3.7 -0.5,-3.8 -4.9,-2 -3.4,-4 -3.6,-3.8Z" fill="#d1e5f0" stroke="#d1e5f0" stroke-width="0.9"/>
<path d="M699.9,782.7 l -0.4,-3.3 0,-3.3 -0.8,-3.2 0.4,-3.3 4.7,-3.6 4.5,-3.8 2.7,-5.2 2.2,-5.5 2.4,-0.1 2.4,5.1 -0.3,5.7 1.3,5.4 -0.1,5.6 -4.9,2.1 -5.3,1.3 -4.7,2.6Z" fill="#92c5de" stroke="#92c5de" stroke-width="0.9"/>
<path d="M758.9,756.3 l -2.9,2.9 -3.5,2 0.5,3.8 -1.3,3.7 2.8,3.5 3,3.4 4.6,1.4 4.9,-0.7 4.5,-1.9 4.8,-0.1 1.1,-3.9 -0.2,-4.1 -5.5,-0.4 -4.6,-3 -4.6,-2.7Z" fill="#d6604d" stroke="#d6604d" stroke-width="0.9"/>
<path d="M761.2,749.7 l 3.2,-1.1 3.3,-0.2 3.4,0.3 3.3,0.1 1.6,2.8 2.2,2.4 1.3,2.9 0.6,3.2 -1.9,2.9 -1,3.3 -5.5,-0.4 -4.6,-3 -4.6,-2.7 -3.6,-3.9 1.5,-3.2Z" fill="#d6604d" stroke="#d6604d" stroke-width="0.9"/>
<path d="M736.3,794.9 l 3.5,-1.5 3.5,-1.5 3.7,1.3 3.9,-0.6 2.3,-4 1,-4.5 0.9,-4.6 2.4,-3.9 -3,-3.4 -2.8,-3.5 -4.5,0.9 -4.3,1.8 -4.6,0.1 -4.5,0.6 -4.1,4.1 2,4.5 1.3,4.8 0.9,5Z" fill="#d6604d" stroke="#d6604d" stroke-width="0.9"/>
<path d="M757.5,775.6 l 4.6,1.4 4.9,-0.7 4.5,-1.9 4.8,-0.1 1.1,1.6 -0.3,3.8 0.6,3.9 1.9,3.4 0.2,4 -2.6,3.8 -1.7,4.2 -3.3,3.2 -3.2,3.2 -5,-2.6 -5.4,-2 -4.7,-3.3 -3,-4.9 2.3,-4 1,-4.5 0.9,-4.6Z" fill="#d6604d" stroke="#d6604d" stroke-width="0.9"/>
<path d="M777.2,766.3 l 0.2,4.1 -1.1,3.9 1.1,1.6 5.3,-2.2 5.7,-0.6 5.7,-0.3 5.6,0.9 -0.4,-3.3 0.2,-3.3 -0.7,-3.3 -0.4,-3.3 -4.5,-1.7 -4.2,-2.4 -4.9,1.7 -4.7,2 -1.9,2.9Z" fill="#d6604d" stroke="#d6604d" stroke-width="0.9"/>
<path d="M802.9,778.1 l 0.4,-1.5 -3.6,-2.9 -5.6,-0.9 -5.7,0.3 -5.7,0.6 -5.3,2.2 -0.3,3.8 0.6,3.9 1.9,3.4 0.2,4 3.1,1 3.2,-0.1 3.2,0.1 2.9,1.4 2.6,-4.1 4.3,-2.5 1.2,-4.6Z" fill="#d6604d" stroke="#d6604d" stroke-width="0.9"/>
<path d="M806.6,756.3 l -3.6,3.1 -4.6,1.1 0.4,3.3 0.7,3.3 -0.2,3.3 0.4,3.3 3.6,2.9 3.9,-0.6 3.2,-2.2 3.7,-1.4 1.1,-3.6 1,-3.5 -0.6,-3.6 -0.2,-3.7 -1.1,-0.7 -3.8,-1Z" fill="#d1e5f0" stroke="#d1e5f0" stroke-width="0.9"/>
<path d="M826.4,755.5 l -5.7,0.5 -5.3,2 0.2,3.7 0.6,3.6 -1,3.5 -1.1,3.6 4.4,2.4 3.5,3.5 4.9,1.1 4.7,1.3 2,-4.4 1,-4.7 0.8,-4.8 -1.1,-4.8 -3.4,-3 -3.5,-3Z" fill="#d1e5f0" stroke="#d1e5f0" stroke-width="0.9"/>
<path d="M807.4,791.4 l 3.8,-1.6 4.1,-0.6 -2.2,-3.2 -2.7,-2.9 -1.9,-3.4 -1.3,-3.7 -3.9,0.6 -0.4,1.5 2,3 0.8,3.5 0.2,3.5Z" fill="#92c5de" stroke="#92c5de" stroke-width="0.9"/>
<path d="M699.9,782.7 l 4.1,-3.5 4.7,-2.6 5.3,-1.3 4.9,-2.1 5.6,0.9 5.2,2.1 2,4.5 1.3,4.8 0.9,5 2.4,4.4 -2.1,3.9 -2.7,3.5 -3.7,-0.6 -3.7,-0.4 -3.4,-1.5 -3.8,-0.1 -3.4,-1.7 -2.8,-2.5 -3.7,-1.1 -3.6,-0.8 -0.9,-5.6 -3,-4.7Z" fill="#d1e5f0" stroke="#d1e5f0" stroke-width="0.9"/>
<path d="M705.9,821.5 l 5,0.4 4.9,-0.6 5,-0.7 4.5,-2.2 2.6,-5 3.6,-4.4 0.6,-3.3 -0.6,-3.4 -3.7,-0.6 -3.7,-0.4 -3.4,-1.5 -3.8,-0.1 -3.4,-1.7 -2.8,-2.5 -3.7,-1.1 -3.6,-0.8 0.3,4 -1.1,3.9 -1.3,3.9 -2.2,3.3 1.9,3.1 2.1,3 2,3.1Z" fill="#d1e5f0" stroke="#d1e5f0" stroke-width="0.9"/>
<path d="M736.3,794.9 l 3.5,-1.5 3.5,-1.5 3.7,1.3 3.9,-0.6 3,4.9 4.7,3.3 5.4,2 5,2.6 -0.1,4.4 0.7,4.2 -3,2.3 -3.4,1.5 -1.8,3.5 -3.1,2.2 -3.9,-1.3 -3.3,-2.2 -2.9,-2.9 -1.8,-3.6 -4,-0.5 -4,0.1 -3,-2.8 -3.9,-1.3 0.6,-3.3 -0.6,-3.4 2.7,-3.5Z" fill="#d1e5f0" stroke="#d1e5f0" stroke-width="0.9"/>
<path d="M800.8,801.2 l 1.6,3.9 0.7,5.3 1.1,5.2 -4.7,-0.6 -4.6,1.2 -4.2,2.1 -4.4,1.4 -4,-1.2 -4.1,0 -4.4,-2 -4.2,-2.5 -0.7,-4.2 0.1,-4.4 3.2,-3.2 3.3,-3.2 1.7,-4.2 2.6,-3.8 3.1,1 3.2,-0.1 3.2,0.1 2.9,1.4 5.2,2.9Z" fill="#d1e5f0" stroke="#d1e5f0" stroke-width="0.9"/>
<path d="M802.4,805.1 l 0.7,5.3 1.1,5.2 0.8,0.5 3.7,0.2 3.7,-0.1 2.1,-2.4 2.3,-2.1 2.5,-1.9 1.7,-2.7 2.4,-2 2.7,-1.6 2.9,-1.3 2.9,-1.3 0.2,-4.8 -0.2,-4.8 -4.9,-0.6 -5,0.6 -2.8,1.2 -2.7,1.4 -3,0.8 -2.7,1.4 -1.7,2.7 -2.3,2 -2.4,1.9Z" fill="#d1e5f0" stroke="#d1e5f0" stroke-width="0.9"/>
<path d="M845.5,816.3 l 3.6,-2 3.9,-1.2 4,-0.7 4.1,0.5 -0.3,-4.1 0.3,-4.1 1,-4 1.8,-3.7 -3.1,-2.9 -2.4,-3.5 -2.3,-3.6 -2.8,-3.2 -4.9,0 -4.8,0.3 -4.5,1.8 -4.8,0.8 -2.4,4.6 0.2,4.8 -0.2,4.8 4.3,3 4.1,3.3 2,4.9Z" fill="#92c5de" stroke="#92c5de" stroke-width="0.9"/>
<path d="M812.4,816.2 l 2.1,-2.4 2.3,-2.1 2.5,-1.9 1.7,-2.7 2.4,-2 2.7,-1.6 2.9,-1.3 2.9,-1.3 4.3,3 4.1,3.3 2,4.9 3.2,4.2 -1.3,2.7 -3.2,0.3 -3.1,-0.5 -3.1,0.4 -3.2,0.2 -3.1,0.7 -3,1 -3,0.9 -3.1,0.5 -3.2,-3.5Z" fill="#92c5de" stroke="#92c5de" stroke-width="0.9"/>
<path d="M587,457.2 l 1.1,-4.8 3,-3.9 -3.4,-3.2 -4.4,-1.3 -4.5,-1.2 -3.4,-3.2 -4.4,-0.7 -4.5,-0.2 -4.6,-0.6 -4.1,-1.8 -0.1,4 -1.3,3.7 -1.1,3.8 0,4 1.5,5.2 3.7,4 3.3,-0.1 3.2,1.2 3.2,0.6 3.3,0.4 3.6,-1 3.2,-1.8 3.4,-1.5Z" fill="#92c5de" stroke="#92c5de" stroke-width="0.9"/>
<path d="M600.9,488 l 4.4,-2.5 4.4,-2.5 4.5,-2.6 5,-1.1 1,-3.2 -0.3,-3.3 -0.5,-3.3 0.5,-3.3 -1.3,-3.1 -0.6,-3.4 1.1,-3.2 0.1,-3.4 -3.4,-0.7 -2.7,-2.2 -3.1,-1.5 -2.6,-2.3 -3.4,1 -3.4,-0.7 -3.5,-0.1 -3.3,-0.4 -2.7,2.3 -3,3.9 -1.1,4.8 1.8,3.8 1.2,4.1 2.7,3.4 1.9,3.8 1.6,4 2.6,3.4 0.1,4.4Z" fill="#4393c3" stroke="#4393c3" stroke-width="0.9"/>
<path d="M600.9,488 l -2,-3.9 -0.1,-4.4 -2.6,-3.4 -1.6,-4 -1.9,-3.8 -2.7,-3.4 -1.2,-4.1 -1.8,-3.8 -3.3,1.6 -3.4,1.5 -3.2,1.8 -3.6,1 0.4,3.1 1.3,2.9 0.1,3.1 -0.3,3.1 1.5,2.7 0.4,3.2 -0.4,3.1 0.4,3.1 5.7,1.7 5.8,0.9 5.9,-0.6 5.9,-0.4Z" fill="#92c5de" stroke="#92c5de" stroke-width="0.9"/>
<path d="M576.9,487.4 l -2.5,2.1 -3.1,1.1 -2.8,1.7 -3.2,0.7 -3.3,0.6 -3.1,1 -2.4,2.4 -3.2,0.9 -2.8,-1.2 -2.8,-1.4 -1.3,-2.3 2.9,-3.3 2.1,-4 1.1,-4.3 2.6,-3.6 0.5,-4.5 2,-4 2.2,-3.8 0.7,-4.5 3.3,-0.1 3.2,1.2 3.2,0.6 3.3,0.4 0.4,3.1 1.3,2.9 0.1,3.1 -0.3,3.1 1.5,2.7 0.4,3.2 -0.4,3.1Z" fill="#4393c3" stroke="#4393c3" stroke-width="0.9"/>
<path d="M619.2,479.3 l 1,-3.2 -0.3,-3.3 -0.5,-3.3 0.5,-3.3 -1.3,-3.1 -0.6,-3.4 1.1,-3.2 0.1,-3.4 4.7,-3.4 4.3,-3.7 4.5,-3.6 3.4,-4.6 2.7,1.4 0.4,0.4 1.5,5.7 2.9,5.1 1.1,2.8 1.6,2.6 2.7,1.4 2.3,2 -0.4,3.1 -1.6,2.6 -1.7,2.6 -1.3,2.7 -0.4,3 -0.9,2.9 -0.8,2.9 -0.5,3 -5,1 -4.4,2.7 -4,-1.4 -4.3,0 -2.8,-3.2Z" fill="#4393c3" stroke="#4393c3" stroke-width="0.9"/>
<path d="M672.2,476.8 l -2.3,2.4 -3.1,1.5 -3.3,0.6 -3,1.7 -3.7,-0.8 -3.7,1.1 -3.7,-1.2 -3.7,0.6 -2,-0.7 0.5,-3 0.8,-2.9 0.9,-2.9 0.4,-3 1.3,-2.7 1.7,-2.6 1.6,-2.6 0.4,-3.1 4.1,1.7 4.3,1.1 4.4,-1.3 4.4,-0.1 2.4,2.3 1.4,3 1.2,3.1 0.3,3.2Z" fill="#d1e5f0" stroke="#d1e5f0" stroke-width="0.9"/>
<path d="M639.2,439.6 l 1.5,5.7 2.9,5.1 1.1,2.8 1.6,2.6 2.7,1.4 2.3,2 4.1,1.7 4.3,1.1 4.4,-1.3 4.4,-0.1 3.1,-3.8 3.6,-3.2 1.4,-4.7 2.9,-4 -5,-1.6 -4.2,-3.3 -5,-2.1 -5.4,0.1 -5.2,-0.7 -5.2,0.9 -5.2,0.2Z" fill="#4393c3" stroke="#4393c3" stroke-width="0.9"/>
<path d="M684.8,471 l 0.2,-3.6 1.2,-3.4 1.3,-3.3 1.4,-3.3 2.4,-2.7 1.4,-3.4 2.3,-2.8 3.1,-1.9 -2.8,-2.2 -3.4,-0.9 -2.9,-1.8 -3,-1.7 -3.5,2.1 -3,2.8 -2.9,4 -1.4,4.7 -3.6,3.2 -3.1,3.8 2.4,2.3 1.4,3 1.2,3.1 0.3,3.2 5.4,-1.3Z" fill="#2166ac" stroke="#2166ac" stroke-width="0.9"/>
<path d="M691.3,475.8 l 4.7,1.7 4.9,-0.5 4.7,-1.2 4.7,-1.2 0.3,-0.2 -2.1,-3.1 -2.1,-3.2 -0.8,-3.7 -0.8,-3.6 -0.5,-3.8 -1.9,-3.2 -2.3,-3.1 -0.5,-3.8 -1.5,-0.3 -3.1,1.9 -2.3,2.8 -1.4,3.4 -2.4,2.7 -1.4,3.3 -1.3,3.3 -1.2,3.4 -0.2,3.6 2.8,3Z" fill="#4393c3" stroke="#4393c3" stroke-width="0.9"/>
<path d="M691.3,475.8 l -1.3,5.6 -2.2,5.3 -1.4,5.6 -1.7,5.4 -1.4,-2.8 -1.2,-2.8 -0.2,-3.2 -1.6,-2.8 -2.4,-2 -2.7,-1.7 -1.3,-2.9 -1.7,-2.7 1.6,-4.6 5.4,-1.3 5.6,0.1 2.8,3Z" fill="#92c5de" stroke="#92c5de" stroke-width="0.9"/>
<path d="M691.3,475.8 l 4.7,1.7 4.9,-0.5 4.7,-1.2 4.7,-1.2 -3.6,2.5 -3.6,2.4 -2.3,3.9 -3.9,2.3 -0.6,4.4 -2.4,3.8 -1.5,4.1 -2.3,3.8 -4.4,0 -1,-4.1 1.7,-5.4 1.4,-5.6 2.2,-5.3Z" fill="#92c5de" stroke="#92c5de" stroke-width="0.9"/>
<path d="M735.7,444.2 l 2.1,4.9 2.1,4.9 0.1,3.8 0.5,3.7 1.6,3.4 0.2,3.8 -1.6,3.6 -2,3.2 0.3,3.9 -0.4,3.8 -0.9,0.8 -3.4,-1.3 -3.3,-1.4 -3.4,-1.3 -3.4,-1 -3.3,-1.6 -3.6,-0.6 -3.5,-0.7 -3.2,-1.7 -2.1,-3.1 -2.1,-3.2 -0.8,-3.7 -0.8,-3.6 -0.5,-3.8 -1.9,-3.2 -2.3,-3.1 -0.5,-3.8 3.8,-0.9 3.3,-2.1 3.8,-0.8 3.9,-0.5 2.8,-2.6 3.4,-1.9 3.2,-2.2 3.1,-2.3 1.3,3.3 1.8,3.1 2.5,2.5Z" fill="#92c5de" stroke="#92c5de" stroke-width="0.9"/>
<path d="M739.9,454 l 0.1,3.8 0.5,3.7 1.6,3.4 0.2,3.8 -1.6,3.6 -2,3.2 0.3,3.9 -0.4,3.8 4.5,-0.8 4.6,0 4.6,-0.1 4.5,0.9 1.9,-2.5 2.5,-1.8 2.3,-2.1 2.6,-1.6 2.1,-2.5 2.9,-1.5 1.8,-2.7 0.7,-3.1 2.4,-2.2 1.1,-3.1 2.5,-1.8 2.7,-1.7 1.9,-2.5 2.4,-1.9 3.1,-0.9 2.4,-2.1 -0.5,-4.2 -3.3,-0.7 -3.4,-0.4 -3.3,-0.4 -3.4,0.2 -3.3,-0.4 -3.4,0.2 -3.3,0.8 -3.4,-0.3 -3.3,0.6 -3.1,1.5 -3,1.6 -3.5,0.2 -2.2,2.7 -3.3,1.4 -3.4,0.5Z" fill="#4393c3" stroke="#4393c3" stroke-width="0.9"/>
<path d="M672.2,476.8 l -2.3,2.4 -3.1,1.5 -3.3,0.6 -3,1.7 2,2.4 2.5,1.8 1.6,2.6 1.5,2.8 1.5,2.7 0.5,3.1 0.2,3.1 0.7,3 4.6,1.2 4.7,0.4 2.6,-2.3 2.8,-2 -1,-4.1 -1.4,-2.8 -1.2,-2.8 -0.2,-3.2 -1.6,-2.8 -2.4,-2 -2.7,-1.7 -1.3,-2.9Z" fill="#2166ac" stroke="#2166ac" stroke-width="0.9"/>
<path d="M660.5,483 l 2,2.4 2.5,1.8 1.6,2.6 1.5,2.8 1.5,2.7 0.5,3.1 0.2,3.1 0.7,3 -4.9,0.4 -4.8,1.3 -1.1,-3.4 -2.6,-2.6 -2.9,-2.2 -1.6,-3.3 -2.5,-2.6 -1,-3.5 -2.6,-2.6 -1.3,-3.3 3.7,-0.6 3.7,1.2 3.7,-1.1Z" fill="#4393c3" stroke="#4393c3" stroke-width="0.9"/>
<path d="M600.2,489 l 1.3,3.4 -0.2,3.6 -0.4,3.6 -0.7,3.5 -2.7,2.7 -2.4,3 -3.1,2.4 -1.6,3.5 -3,-0.9 -3.2,0.6 -2.8,1.2 -2.9,1.1 -2.8,1.5 -3,0.3 -3.1,0.4 -2.9,0.9 -2.2,-2.5 -0.9,-3.2 -0.4,-3.3 -1.6,-3 -0.9,-3.2 -2.3,-2.5 -2.1,-2.7 -3,-1.5 3.2,-0.9 2.4,-2.4 3.1,-1 3.3,-0.6 3.2,-0.7 2.8,-1.7 3.1,-1.1 2.5,-2.1 5.7,1.7 5.8,0.9 5.9,-0.6Z" fill="#4393c3" stroke="#4393c3" stroke-width="0.9"/>
<path d="M616.6,515.7 l -2.7,-4.7 -4.2,-3.4 -5.2,-1.3 -4.3,-3.2 0.7,-3.5 0.4,-3.6 0.2,-3.6 -1.3,-3.4 0.7,-1 4.4,-2.5 4.4,-2.5 4.5,-2.6 5,-1.1 4,1.8 2.8,3.2 4.3,0 4,1.4 -0.7,3.5 -1.7,3.2 -0.9,3.6 0.8,3.6 1.8,3 1.1,3.4 0.2,3.6 1.2,3.4 -2.2,1.3 -4.3,-0.9 -4.4,0.6 -4.4,0.3Z" fill="#4393c3" stroke="#4393c3" stroke-width="0.9"/>
<path d="M645.7,482.7 l -2,-0.7 -5,1 -4.4,2.7 -0.7,3.5 -1.7,3.2 -0.9,3.6 0.8,3.6 1.8,3 1.1,3.4 0.2,3.6 1.2,3.4 2.7,1.3 2.4,1.9 3.1,0.3 3,0.6 4.1,-2 2.8,-3.6 3.2,-3.1 3.9,-2.2 -1.1,-3.4 -2.6,-2.6 -2.9,-2.2 -1.6,-3.3 -2.5,-2.6 -1,-3.5 -2.6,-2.6Z" fill="#92c5de" stroke="#92c5de" stroke-width="0.9"/>
<path d="M710.3,474.6 l 0.3,-0.2 3.2,1.7 3.5,0.7 3.6,0.6 3.3,1.6 3.4,1 3.4,1.3 3.3,1.4 3.4,1.3 -0.1,0.2 -4.1,3 -5.1,0.7 -3.3,3.9 -4.8,1.9 -3.7,3.3 -2.5,4.4 -1.5,4.8 -3.4,3.8 -4.8,-2.2 -5.1,-1 -5.1,-1.7 -4.1,-3.3 2.3,-3.8 1.5,-4.1 2.4,-3.8 0.6,-4.4 3.9,-2.3 2.3,-3.9 3.6,-2.4Z" fill="#d1e5f0" stroke="#d1e5f0" stroke-width="0.9"/>
<path d="M671,504.5 l 4.6,1.2 4.7,0.4 -0.2,3 -0.4,3 0.8,2.9 1.2,2.8 -1.5,5.7 -1.4,5.7 -5.7,0.2 -5.5,1.1 -5.6,1.4 -5.7,-0.8 -2.6,-1.9 -2.3,-2.6 -1.8,-2.9 -0.9,-3.4 -1.4,-3.2 4.1,-2 2.8,-3.6 3.2,-3.1 3.9,-2.2 4.8,-1.3Z" fill="#4393c3" stroke="#4393c3" stroke-width="0.9"/>
<path d="M744.9,515.2 l -2.2,-3.5 -1.9,-3.6 -0.9,-4.1 0.3,-4.1 -1.1,-3.9 0.2,-4 -0.6,-4 -1.1,-3.8 -4.1,3 -5.1,0.7 -3.3,3.9 -4.8,1.9 -3.7,3.3 -2.5,4.4 -1.5,4.8 -3.4,3.8 2.1,3.6 0.3,4.1 -0.7,4.2 1.3,3.9 0.8,1 4.4,2.6 5,1 5,0.3 4.9,1.2 4.4,-3.1 2.4,-4.9 3.6,-3.9Z" fill="#4393c3" stroke="#4393c3" stroke-width="0.9"/>
<path d="M790,507.4 l -4.3,-2.8 -4,-3.3 -4.7,-2.1 -4.3,-3 -4.4,-2.9 -2.9,-4.4 -4.2,-3 -4.4,-2.7 -4.5,-0.9 -4.6,0.1 -4.6,0 -4.5,0.8 -0.9,0.8 -0.1,0.2 1.1,3.8 0.6,4 -0.2,4 1.1,3.9 -0.3,4.1 0.9,4.1 1.9,3.6 2.2,3.5 4.1,2.9 3.4,3.8 5.2,0.8 4.1,3.2 5,0 5,0.4 4.7,1.6 4.9,1.2 2.4,-2.5 1.5,-3.2 1.1,-4.2 2.9,-3.3 1.1,-4.1Z" fill="#4393c3" stroke="#4393c3" stroke-width="0.9"/>
<path d="M685.7,501.8 l -2.8,2 -2.6,2.3 -0.2,3 -0.4,3 0.8,2.9 1.2,2.8 -1.5,5.7 -1.4,5.7 2.7,3.5 4,0.7 4.1,0.4 3.8,-1.5 4,-0.5 4.1,-0.2 3.9,-1.5 3.6,-1.8 3.2,-2.5 -1.3,-3.9 0.7,-4.2 -0.3,-4.1 -2.1,-3.6 -4.8,-2.2 -5.1,-1 -5.1,-1.7 -4.1,-3.3Z" fill="#92c5de" stroke="#92c5de" stroke-width="0.9"/>
<path d="M781.3,529.1 l -4.9,-1.2 -4.7,-1.6 -5,-0.4 -5,0 -4.1,-3.2 -5.2,-0.8 -3.4,-3.8 -4.1,-2.9 -2.2,4.8 -3.6,3.9 -2.4,4.9 -4.4,3.1 1.1,4.8 0.3,4.8 3.5,3.5 1.7,4.6 3,1.4 3.4,0.4 3.3,0.6 3,1.6 4,-0.8 4,0.3 3.5,-1.7 3.4,-2.2 3.5,-1.7 3.5,-1.7 2.8,-2.8 3.5,-1.8 0.4,-3.1 -0.4,-3.1 1.2,-2.8Z" fill="#92c5de" stroke="#92c5de" stroke-width="0.9"/>
<path d="M617.2,540.7 l 3,-3.6 4,-2.5 4,-2.5 2.7,-4 0.1,-3.5 0.4,-3.6 1.7,-3.1 0.8,-3.6 -4.3,-0.9 -4.4,0.6 -4.4,0.3 -4.2,1.4 -3.2,3.7 -1.6,4.7 -0.6,4.8 -0.5,4.9 3.3,3.4Z" fill="#92c5de" stroke="#92c5de" stroke-width="0.9"/>
<path d="M594.7,538.4 l 3.6,-4.6 -1.4,-5.1 -3,-4.3 -0.9,-5.1 -2.6,-4.6 -3,-0.9 -3.2,0.6 -2.8,1.2 -2.9,1.1 -2.8,1.5 -3,0.3 -3.1,0.4 -2.9,0.9 -0.3,3.5 0.4,3.5 -0.9,3.4 -1.4,3.2 3.7,2.6 3.8,2.4 5.7,-0.2 5.7,-0.4 5.7,-0.7Z" fill="#4393c3" stroke="#4393c3" stroke-width="0.9"/>
<path d="M610.7,533.8 l -3,-1 -3.2,-0.5 -2.9,1.5 -3.3,0 -1.4,-5.1 -3,-4.3 -0.9,-5.1 -2.6,-4.6 1.6,-3.5 3.1,-2.4 2.4,-3 2.7,-2.7 4.3,3.2 5.2,1.3 4.2,3.4 2.7,4.7 -3.2,3.7 -1.6,4.7 -0.6,4.8Z" fill="#4393c3" stroke="#4393c3" stroke-width="0.9"/>
<path d="M713,526.8 l -1.3,2.8 -1.4,2.9 -1.9,2.5 -1.4,2.9 -0.6,3.1 0.5,3.2 -0.1,3.2 -0.9,3.1 -2.9,0.6 -1.9,-2.7 -2.4,-2.3 -2.3,-2.4 -2.1,-2.5 -3.1,-1.4 -2.5,-2.5 -3.4,0.5 -3.3,-1.3 -0.5,-3.8 4,0.7 4.1,0.4 3.8,-1.5 4,-0.5 4.1,-0.2 3.9,-1.5 3.6,-1.8 3.2,-2.5Z" fill="#2166ac" stroke="#2166ac" stroke-width="0.9"/>
<path d="M656.7,549.2 l 4.9,0.1 4.4,2.3 4,2.6 4.2,2.2 0,-5.5 2.5,-5 1.9,-5.1 3.4,-4.3 -0.5,-3.8 -2.7,-3.5 -5.7,0.2 -5.5,1.1 -5.6,1.4 -5.7,-0.8 1.8,4.4 -0.4,4.6 0.2,4.7Z" fill="#92c5de" stroke="#92c5de" stroke-width="0.9"/>
<path d="M632.7,541.7 l 1.7,-2.6 0.8,-3.1 4.3,1.2 4.5,-0.7 -0.3,5.7 -2.8,5.1 -0.9,0.2 -3.5,-3Z" fill="#2166ac" stroke="#2166ac" stroke-width="0.9"/>
<path d="M643,568.1 l -3.9,0 -3.5,-1.8 -3,-2.2 -3.2,-2.2 1.7,-4.2 2.1,-4.1 4.1,-2.3 2.7,-3.8 0.9,-0.2 3.2,0.4 2.9,1.5 2.6,2 3.2,0.6 -1,3.5 -0.7,3.6 -2,3 -1.5,3.4Z" fill="#4393c3" stroke="#4393c3" stroke-width="0.9"/>
<path d="M609.9,554.4 l 3.7,-3 4.7,-1.1 0.4,-4.9 -1.5,-4.7 -3.2,-3.5 -3.3,-3.4 -3,-1 -3.2,-0.5 -2.9,1.5 -3.3,0 -3.6,4.6 0,5.9 1,5.9 3.7,0.7 3.5,1 3.8,0.6Z" fill="#2166ac" stroke="#2166ac" stroke-width="0.9"/>
<path d="M587.6,573.1 l 4.1,-0.4 3.7,-1.5 4.2,-0.1 3.7,1.9 -0.1,-5.1 1.1,-5 2.5,-4.5 3.1,-4 -3.2,-1.9 -3.8,-0.6 -3.5,-1 -3.7,-0.7 -1.5,4.1 -2.9,3.3 -3.1,3.3 -4,1.7 -0.7,4 2.8,2.7Z" fill="#2166ac" stroke="#2166ac" stroke-width="0.9"/>
<path d="M595.7,550.2 l -1,-5.9 0,-5.9 -5.6,-1.3 -5.7,0.7 -5.7,0.4 -5.7,0.2 0.4,3.4 1,3.3 0.7,3.5 2.2,2.8 3,1.9 2.2,2.8 0.9,3.4 1.8,3.1 4,-1.7 3.1,-3.3 2.9,-3.3Z" fill="#4393c3" stroke="#4393c3" stroke-width="0.9"/>
<path d="M609.9,554.4 l 3.7,-3 4.7,-1.1 1.6,3.7 2.4,3.3 3.5,2 3.1,2.6 -4,4.2 -2.8,5.2 -2,5.5 -4,4.4 -3.6,-1.3 -3.2,-2.2 -3.5,-1.7 -2.5,-3 -0.1,-5.1 1.1,-5 2.5,-4.5Z" fill="#92c5de" stroke="#92c5de" stroke-width="0.9"/>
<path d="M647.6,565.3 l 1.5,-3.4 2,-3 0.7,-3.6 1,-3.5 3.9,-2.6 4.9,0.1 4.4,2.3 4,2.6 4.2,2.2 1.1,3.4 1,3.3 -3.3,4.7 -4.8,3.4 -5.5,0.2 -5.2,-1.8 -4.7,-2.6Z" fill="#4393c3" stroke="#4393c3" stroke-width="0.9"/>
<path d="M643,568.1 l -1.2,3.4 -0.1,3.6 1.6,3.3 0.7,3.5 3.9,4 4.9,2.6 5.6,-0.3 5.2,2.2 -0.9,-5.1 1.1,-5 1.3,-5 3.1,-4.1 -5.5,0.2 -5.2,-1.8 -4.7,-2.6 -5.2,-1.7Z" fill="#4393c3" stroke="#4393c3" stroke-width="0.9"/>
<path d="M688.6,567.7 l 5.1,-2.5 3.6,-4.4 3,-4.8 2.7,-4.9 -1.9,-2.7 -2.4,-2.3 -2.3,-2.4 -2.1,-2.5 -3.1,-1.4 -2.5,-2.5 -3.4,0.5 -3.3,-1.3 -3.4,4.3 -1.9,5.1 -2.5,5 0,5.5 1.1,3.4 1,3.3 2.5,2.3 3.1,1.4 3.3,0.7Z" fill="#92c5de" stroke="#92c5de" stroke-width="0.9"/>
<path d="M738.9,549.6 l -3.7,3.7 -4.6,2.3 -4.3,2.9 -3.7,3.6 -4,-3.1 -4.4,-2.6 -4.7,-2.2 -3.6,-3.7 0.9,-3.1 0.1,-3.2 -0.5,-3.2 0.6,-3.1 1.4,-2.9 1.9,-2.5 1.4,-2.9 1.3,-2.8 4.4,2.6 5,1 5,0.3 4.9,1.2 1.1,4.8 0.3,4.8 3.5,3.5Z" fill="#92c5de" stroke="#92c5de" stroke-width="0.9"/>
<path d="M688.6,567.7 l 5.1,-2.5 3.6,-4.4 3,-4.8 2.7,-4.9 2.9,-0.6 3.6,3.7 4.7,2.2 4.4,2.6 4,3.1 -0.1,4.3 -1.4,4.1 -3.2,1.3 -3.2,1.5 -2.5,2.6 -3.2,1.5 -3.6,0 -3.4,-0.9 -3.4,1.1 -3.5,0.7 -2.4,-2.1 -1.8,-2.6 -0.7,-3.1Z" fill="#92c5de" stroke="#92c5de" stroke-width="0.9"/>
<path d="M663.6,590.4 l 1.6,3.7 4,0.1 3.7,1.6 3.6,1.4 3.6,1.5 4,-1.3 3.3,-2.7 2.6,-3.3 3.7,-2 2.1,-5.4 -0.7,-5.7 -2.4,-2.1 -1.8,-2.6 -0.7,-3.1 -1.6,-2.8 -3.4,-0.2 -3.3,-0.7 -3.1,-1.4 -2.5,-2.3 -3.3,4.7 -4.8,3.4 -3.1,4.1 -1.3,5 -1.1,5Z" fill="#92c5de" stroke="#92c5de" stroke-width="0.9"/>
<path d="M738.9,549.6 l -3.7,3.7 -4.6,2.3 -4.3,2.9 -3.7,3.6 -0.1,4.3 -1.4,4.1 1.4,4.1 0.6,4.2 3.4,2.8 2.1,3.8 3.3,-0.3 3.1,1.3 3.2,-0.3 3.2,-0.7 3.2,-0.6 2.9,-1.3 3.2,-0.6 2.9,-1.3 0.7,-3.7 2.2,-3.2 -0.5,-3.6 0.2,-3.8 -1.3,-3.5 0.4,-3.8 -1.4,-3.4 -2.3,-3 -3,-1.6 -3.3,-0.6 -3.4,-0.4Z" fill="#4393c3" stroke="#4393c3" stroke-width="0.9"/>
<path d="M779.8,541.2 l 1.1,4.9 3.4,3.8 4.1,3 2.1,4.6 0.1,4.2 1.4,4 -0.6,4.1 -0.7,4.1 -2.6,3.4 -0.5,4.3 -1.7,3.8 -0.2,4.2 -5.6,-1 -5.8,0.6 -5.6,1.4 -5.7,-1 -2.1,-2.3 -2.8,-1.5 -1.8,-2.6 -2.7,-1.6 0.7,-3.7 2.2,-3.2 -0.5,-3.6 0.2,-3.8 -1.3,-3.5 0.4,-3.8 -1.4,-3.4 -2.3,-3 4,-0.8 4,0.3 3.5,-1.7 3.4,-2.2 3.5,-1.7 3.5,-1.7 2.8,-2.8Z" fill="#d1e5f0" stroke="#d1e5f0" stroke-width="0.9"/>
<path d="M583.5,566.6 l 0.7,-4 -1.8,-3.1 -0.9,-3.4 -2.2,-2.8 -3,-1.9 -2.2,-2.8 -0.7,-3.5 -1,-3.3 -0.4,-3.4 -3.8,-2.4 -3.7,-2.6 -4.7,3.7 -3.3,5 -4.7,3.6 -5.4,2.5 4.6,3.2 2.9,4.8 1.4,5.3 2,5.1 3.2,-0.9 3.4,0.1 3.2,0.5 3.3,0.2 3.2,0.9 3.4,-0.2 3.3,-0.2Z" fill="#4393c3" stroke="#4393c3" stroke-width="0.9"/>
<path d="M568.4,596.7 l 4.2,-2.9 4.7,-1.8 4.4,-2.7 2.8,-4.4 1.6,-2.7 0.2,-3.2 0.3,-3 1,-2.9 -1.3,-3.8 -2.8,-2.7 -3.2,0.4 -3.3,0.2 -3.4,0.2 -3.2,-0.9 -3.3,-0.2 -3.2,-0.5 -3.4,-0.1 -3.2,0.9 -1.7,5.6 -2.7,5.4 -1.3,2.8 -0.1,3 0.3,3 0.4,3 2.9,1.7 3.4,0.3 2.4,2.3 2.3,2.4Z" fill="#4393c3" stroke="#4393c3" stroke-width="0.9"/>
<path d="M604.9,605.4 l 3.4,-4.3 1.9,-5.2 4.6,-2.9 3.8,-4 -1.9,-3.7 -0.6,-4.1 -3.6,-1.3 -3.2,-2.2 -3.5,-1.7 -2.5,-3 -3.7,-1.9 -4.2,0.1 -3.7,1.5 -4.1,0.4 -1,2.9 -0.3,3 -0.2,3.2 -1.6,2.7 3.3,1.7 3,2.1 2.2,3 2.4,2.8 3.1,2.1 3.1,2.1 1.7,3.3Z" fill="#4393c3" stroke="#4393c3" stroke-width="0.9"/>
<path d="M618.6,589 l -1.9,-3.7 -0.6,-4.1 4,-4.4 2,-5.5 2.8,-5.2 4,-4.2 0.5,0 3.2,2.2 3,2.2 3.5,1.8 3.9,0 -1.2,3.4 -0.1,3.6 1.6,3.3 0.7,3.5 -2.9,3.2 -3.8,1.9 -3.6,2.3 -3,2.9 -2.7,-1.8 -3.1,-0.8 -3.2,0Z" fill="#92c5de" stroke="#92c5de" stroke-width="0.9"/>
<path d="M640.8,610.7 l 5.4,-0.6 5.4,0.5 3.7,-3.9 2.6,-4.8 2.8,-4.7 4.5,-3.1 -1.6,-3.7 -5.2,-2.2 -5.6,0.3 -4.9,-2.6 -3.9,-4 -2.9,3.2 -3.8,1.9 -3.6,2.3 -3,2.9 0.4,5.5 2.8,4.7 3.5,4.1Z" fill="#d1e5f0" stroke="#d1e5f0" stroke-width="0.9"/>
<path d="M695.1,578.3 l 3.5,-0.7 3.4,-1.1 3.4,0.9 3.6,0 3.2,-1.5 2.5,-2.6 3.2,-1.5 3.2,-1.3 1.4,4.1 0.6,4.2 3.4,2.8 2.1,3.8 -0.7,1.8 -4.1,3.5 -4.2,3.3 -4.1,3.3 -4.2,3.3 -4.7,-3 -5.5,-0.4 -4.3,-3.4 -3.1,-4.4 2.1,-5.4Z" fill="#92c5de" stroke="#92c5de" stroke-width="0.9"/>
<path d="M682,607.7 l 4.1,4.3 4.9,3 5.1,3.2 5.8,0.9 2.4,-2.5 3.2,-1.3 1.9,-2.8 2.5,-2.2 0.5,-4.9 -1.1,-4.8 -4.7,-3 -5.5,-0.4 -4.3,-3.4 -3.1,-4.4 -3.7,2 -2.6,3.3 -3.3,2.7 -4,1.3 2.1,4.3Z" fill="#92c5de" stroke="#92c5de" stroke-width="0.9"/>
<path d="M727.9,587.2 l 1.3,3.8 1.2,3.8 1,3.9 0.6,3.9 2.1,3.6 3.6,2.1 1.6,3.7 2.7,3.1 -2.9,2.1 -2.7,2.4 -3.3,1.6 -3.7,-0.1 -4.9,-1.8 -4.3,-2.9 -3.4,-4 -4.9,-2.1 0.5,-4.9 -1.1,-4.8 4.2,-3.3 4.1,-3.3 4.2,-3.3Z" fill="#4393c3" stroke="#4393c3" stroke-width="0.9"/>
<path d="M763,589.6 l -2.1,-2.3 -2.8,-1.5 -1.8,-2.6 -2.7,-1.6 -2.9,1.3 -3.2,0.6 -2.9,1.3 -3.2,0.6 -3.2,0.7 -3.2,0.3 -3.1,-1.3 -3.3,0.3 -0.7,1.8 1.3,3.8 1.2,3.8 1,3.9 0.6,3.9 2.1,3.6 3.6,2.1 1.6,3.7 2.7,3.1 5.9,0.3 2.2,-3.2 1,-3.8 3.1,-2.2 2.6,-2.9 0,-3.9 1.5,-3.7 2.3,-3Z" fill="#92c5de" stroke="#92c5de" stroke-width="0.9"/>
<path d="M790.1,611.8 l 3.5,-3.7 -0.8,-5.5 -0.9,-5.5 -3.5,-3.4 -2.7,-4.1 -5.6,-1 -5.8,0.6 -5.6,1.4 -5.7,-1 -2.4,3.1 -2.3,3 -1.5,3.7 0,3.9 -2.6,2.9 -3.1,2.2 -1,3.8 -2.2,3.2 3.1,2.8 2.3,3.5 4.9,0.9 4.8,-0.7 4.9,-0.5 4.6,-1.7 4.3,-2.1 4.7,-1.3 4.1,-2.7Z" fill="#92c5de" stroke="#92c5de" stroke-width="0.9"/>
<path d="M552.8,631.3 l 1.2,-4.6 1.6,-4.5 3.6,-3.2 2.2,-4.3 0.5,-4.6 0.9,-4.6 1,-4.7 -0.6,-4.7 5.2,0.6 2.1,4 3.3,3.1 0.4,4.5 2.4,4 3.2,2.9 3.1,3.3 2.2,3.9 3.3,2.9 -3.3,2.6 -3.5,2.1 -3.9,1.7 -2.8,3.2 -5.3,0.8 -5.4,-0.2 -4.8,2.5 -5.2,1.1 -1.1,-3.8Z" fill="#92c5de" stroke="#92c5de" stroke-width="0.9"/>
<path d="M588.4,625.3 l 3.5,-0.2 3.4,-0.5 4,-0.8 3.1,-2.5 2.1,-3.6 0.4,-4.1 0.7,-4.1 -0.7,-4.1 -1.6,-3.4 -1.7,-3.3 -3.1,-2.1 -3.1,-2.1 -2.4,-2.8 -2.2,-3 -3,-2.1 -3.3,-1.7 -2.8,4.4 -4.4,2.7 -4.7,1.8 -4.2,2.9 2.1,4 3.3,3.1 0.4,4.5 2.4,4 3.2,2.9 3.1,3.3 2.2,3.9Z" fill="#4393c3" stroke="#4393c3" stroke-width="0.9"/>
<path d="M604.9,605.4 l 3.4,-4.3 1.9,-5.2 4.6,-2.9 3.8,-4 3.1,0.6 3.2,0 3.1,0.8 2.7,1.8 0.4,5.5 2.8,4.7 3.5,4.1 3.4,4.2 -2.1,2.4 -2,2.5 -3.2,0.7 -2.7,2 -1.9,2.6 -2.6,2 -0.9,3 -1.2,3 -2.4,0.3 -4.8,-2 -4.6,-2.7 -5,-1.7 -5,-1.5 2.1,-3.6 0.4,-4.1 0.7,-4.1Z" fill="#92c5de" stroke="#92c5de" stroke-width="0.9"/>
<path d="M624.2,628.9 l 2.6,3.4 1.5,3.9 3.9,1.8 2.7,3.4 3.2,2.7 4.1,0.9 3.9,1.6 3.8,1.5 2.5,-2.1 1.8,-2.8 2.4,-2.4 1.3,-3.1 0.5,-3.5 2.1,-2.7 0.3,-3.4 -0.3,-3.3 -1.3,-4.1 -2.3,-3.5 -2.9,-3 -2.4,-3.6 -5.4,-0.5 -5.4,0.6 -2.1,2.4 -2,2.5 -3.2,0.7 -2.7,2 -1.9,2.6 -2.6,2 -0.9,3Z" fill="#92c5de" stroke="#92c5de" stroke-width="0.9"/>
<path d="M682,607.7 l -1.3,4.4 -1.9,4.2 -0.8,4.6 -2.8,3.9 -3.6,-0.7 -3.7,-0.3 -3.7,0.5 -3.7,0.5 -1.3,-4.1 -2.3,-3.5 -2.9,-3 -2.4,-3.6 3.7,-3.9 2.6,-4.8 2.8,-4.7 4.5,-3.1 4,0.1 3.7,1.6 3.6,1.4 3.6,1.5 2.1,4.3Z" fill="#92c5de" stroke="#92c5de" stroke-width="0.9"/>
<path d="M682,607.7 l 4.1,4.3 4.9,3 5.1,3.2 5.8,0.9 1.4,5.3 -1.1,5.3 -3.3,4.4 -1.3,5.3 -5,1.4 -5.2,-0.9 -3.8,-3.1 -3.1,-3.8 -2.3,-4.3 -3,-3.9 2.8,-3.9 0.8,-4.6 1.9,-4.2Z" fill="#92c5de" stroke="#92c5de" stroke-width="0.9"/>
<path d="M675.2,624.8 l 3,3.9 2.3,4.3 3.1,3.8 3.8,3.1 -3.5,4.7 -3,5 -2.8,1.1 -2.8,1 -1.8,2.5 -2.3,1.9 -5.2,-1.5 -5.2,-1.3 -5.4,-0.7 -4.9,-2.5 -0.6,-2 2.5,-2.1 1.8,-2.8 2.4,-2.4 1.3,-3.1 0.5,-3.5 2.1,-2.7 0.3,-3.4 -0.3,-3.3 3.7,-0.5 3.7,-0.5 3.7,0.3Z" fill="#4393c3" stroke="#4393c3" stroke-width="0.9"/>
<path d="M683.4,686.4 l 3.6,-2.8 3.5,-2.8 4.5,-0.7 4,-2.3 3,-5 3,-4.8 1.7,-5.5 0.4,-5.8 -0.6,-3.4 -1,-3.3 -0.3,-3.5 -1.8,-3 -2.7,-2.3 -3.1,-1.8 -5,1.4 -5.2,-0.9 -3.5,4.7 -3,5 -2.8,1.1 -2.8,1 -1.8,2.5 -2.3,1.9 3,2.7 2.5,3.4 1.6,3.7 1.3,3.9 1.6,3.7 0.5,4 1.1,4 -0.6,4.1Z" fill="#4393c3" stroke="#4393c3" stroke-width="0.9"/>
<path d="M624.2,628.9 l 2.6,3.4 1.5,3.9 3.9,1.8 2.7,3.4 3.2,2.7 4.1,0.9 3.9,1.6 3.8,1.5 0.6,2 -2.4,2.1 -2.2,2.5 -1.4,2.9 -1.3,2.9 -1.5,2.9 -2.4,2.3 -1.8,2.7 -1.2,2.9 -4.3,-0.1 -4.4,-0.3 -3.5,-2 -3.4,-2.2 -2.5,-3.5 -2,-3.9 -0.2,-3.9 0.7,-3.8 0.5,-3.8 1.6,-3.6 0.5,-3.8 1.1,-3.7 0.9,-3.7 0.5,-3.8Z" fill="#d1e5f0" stroke="#d1e5f0" stroke-width="0.9"/>
<path d="M604.6,707.9 l 4.4,-3.6 3.5,-4.4 4.2,-3.8 4.1,-3.8 2.8,-4.9 1.4,-5.5 0.3,-5.7 2.3,-5.3 -3.5,-2 -3.4,-2.2 -3.6,4 -4.5,2.8 -5.3,0.5 -5,1.6 -0.3,5.9 -2.7,5.3 -4.3,4.1 -2.4,5.5 0.2,5.7 -0.2,5.8 2.9,-0.8 3.1,-0.5 3,0.6 2.9,0.8Z" fill="#d1e5f0" stroke="#d1e5f0" stroke-width="0.9"/>
<path d="M604.6,707.9 l 4.4,-3.6 3.5,-4.4 4.2,-3.8 4.1,-3.8 2.8,-4.9 1.4,-5.5 0.3,-5.7 2.3,-5.3 4.4,0.3 4.3,0.1 3,4.1 1.2,4.8 3.6,3.4 2.5,4.2 -2.2,2.6 -1.5,3.1 0.3,3.4 -1,3.4 -4.7,1.3 -4.3,2.1 -4.8,0.7 -4.7,1.3 -4.8,-1.1 -4.9,0.5 -4.7,1.4Z" fill="#d1e5f0" stroke="#d1e5f0" stroke-width="0.9"/>
<path d="M646.6,687.8 l -2.5,-4.2 -3.6,-3.4 -1.2,-4.8 -3,-4.1 1.2,-2.9 1.8,-2.7 2.4,-2.3 1.5,-2.9 1.3,-2.9 1.4,-2.9 2.2,-2.5 2.4,-2.1 4.9,2.5 5.4,0.7 5.2,1.3 5.2,1.5 3,2.7 2.5,3.4 1.6,3.7 1.3,3.9 1.6,3.7 0.5,4 1.1,4 -0.6,4.1 -4.3,-1.5 -4.6,-0.2 -4.5,0.3 -4.5,0.3 -4.6,-0.3 -4.5,0.6 -4.6,0.6Z" fill="#d1e5f0" stroke="#d1e5f0" stroke-width="0.9"/>
<path d="M642.2,700.3 l 1,-3.4 -0.3,-3.4 1.5,-3.1 2.2,-2.6 4,-2.4 4.6,-0.6 4.5,-0.6 4.6,0.3 4.5,-0.3 4.5,-0.3 4.6,0.2 4.3,1.5 1.2,0.8 0.5,5.3 -1.1,5.3 2.6,4.6 1.3,5.2 -4.4,2.9 -2.9,4.3 -4.3,3.3 -5.2,0.7 -4.5,-0.2 -4.4,0.3 -4.2,1.2 -4.3,1.2 -2.7,-1.7 -0.6,-5.1 -1,-5.1 -3.2,-4Z" fill="#d1e5f0" stroke="#d1e5f0" stroke-width="0.9"/>
<path d="M475.2,573.2 l 1.4,4.1 1,4.2 0.9,4.3 -0.9,4.3 -2.2,5.3 -4.7,0 -4.7,-0.2 -4.6,0.6 -4.5,1.1 -4.5,1.4 -4.6,0.4 -4.6,0.9 -4.4,1.2 -2.8,-2.8 -3.4,-1.9 -3.1,-2.4 -3.1,-2.3 -3.6,-1.7 -2.8,-2.8 -3.8,-1.1 -3.3,-2.2 -1.4,-3.1 -1.6,-3 -0.2,-3.4 -0.5,-3.3 -0.3,-3.5 -1.7,-3 0.2,-3.5 0.7,-3.3 3,-3.5 3,1.8 3.6,0.2 3.4,-0.7 3.5,0.4 3.5,-0.2 3.1,-1.6 3.2,-1.5 3.5,0.2 5.3,1.7 5.2,1.6 5,2.5 5.6,0.1 3.4,4.3 3.6,4.2 3.8,4.3Z" fill="#4393c3" stroke="#4393c3" stroke-width="0.9"/>
<path d="M427.7,629.7 l 1.9,-3.4 1.3,-3.7 0.9,-3.7 1.3,-3.7 1.6,-3.5 1.2,-3.7 1.1,-3.7 1.8,-3.5 4.4,-1.2 4.6,-0.9 4.6,-0.4 4.5,-1.4 4.5,-1.1 4.6,-0.6 4.7,0.2 4.7,0 2,5 -0.4,5.5 -1.5,5 0.6,5.2 -1.4,5 -1.4,4.9 -3.4,1.9 -3.2,2.2 -3.6,1.5 -3.4,1.8 -4,-0.2 -3.8,1.6 -3.3,2.2 -3.3,2.1 -4.3,-2.5 -4.6,-2 -3.7,-3.6Z" fill="#4393c3" stroke="#4393c3" stroke-width="0.9"/>
<path d="M427.7,629.7 l 5,1.3 3.7,3.6 4.6,2 4.3,2.5 0,3.2 -1.1,3 0.8,3.1 -0.7,3.2 -0.3,3.2 0.9,3.1 0.7,3.1 -0.3,3.2 -3.1,1.5 -2.2,2.6 -3.4,0.5 -3.2,1.2 -3.4,0.2 -2.9,1.8 -3.1,1.5 -2.3,2.5 -3.1,-1.9 -3.2,-1.6 -0.8,-4.8 -0.7,-4.9 -2,-4.5 -2.8,-3.9 -0.1,-5.4 1.7,-5.1 -0.1,-5.3 1.7,-5.1 3.9,-0.5 3.9,-0.9 3.7,-1.5Z" fill="#4393c3" stroke="#4393c3" stroke-width="0.9"/>
<path d="M445.3,639.1 l 3.3,-2.1 3.3,-2.2 3.8,-1.6 4,0.2 3.4,-1.8 3.6,-1.5 3.2,-2.2 3.4,-1.9 3.6,2.5 3,3.2 2,3.9 2.7,3.4 1,4.3 1.4,4.1 -0.4,4.4 1.7,4.1 -2.8,3.8 -4.4,0.2 -4.4,0.2 -4.3,-1.2 -4.4,0.1 -4.1,1.7 -4.2,1.4 -3.3,3 -4.2,1.7 -3.4,-1.4 -3.5,-1.2 0.3,-3.2 -0.7,-3.1 -0.9,-3.1 0.3,-3.2 0.7,-3.2 -0.8,-3.1 1.1,-3Z" fill="#4393c3" stroke="#4393c3" stroke-width="0.9"/>
<path d="M427.7,629.7 l 1.9,-3.4 1.3,-3.7 0.9,-3.7 1.3,-3.7 1.6,-3.5 1.2,-3.7 1.1,-3.7 1.8,-3.5 -2.8,-2.8 -3.4,-1.9 -3.1,-2.4 -3.1,-2.3 -3.6,-1.7 -2.8,-2.8 -3.8,-1.1 -3.3,-2.2 -3.6,3.4 -2,4.5 -3.3,3.6 -2.9,3.9 -0.4,5 -2.8,4.2 -2.2,4.3 -2.4,4.3 3,1.5 2.1,2.6 3.2,0.7 2.7,1.9 2.4,2.2 2.4,2.1 1.1,3.1 2.1,2.6 3.9,-0.5 3.9,-0.9 3.7,-1.5Z" fill="#4393c3" stroke="#4393c3" stroke-width="0.9"/>
<path d="M412.3,633.5 l -2.1,-2.6 -1.1,-3.1 -2.4,-2.1 -2.4,-2.2 -2.7,-1.9 -3.2,-0.7 -2.1,-2.6 -3,-1.5 -5.5,-0.5 -5.2,1.9 -5.4,1 -5.5,-0.8 -1.3,3.6 -0.2,3.9 -2.2,3.1 -2.7,2.7 1.3,5.8 0.4,5.9 3.1,5.1 1.2,5.9 4.9,-0.6 4.3,-2.6 4.8,0.7 4.9,0.2 4.8,0 4.7,0.4 4.8,0.6 4.6,1.3 -0.1,-5.4 1.7,-5.1 -0.1,-5.3Z" fill="#4393c3" stroke="#4393c3" stroke-width="0.9"/>
<path d="M415.4,672.5 l -3.4,0 -3.3,1 -3.3,0.9 -3.4,0.6 -1.7,3.1 -2.9,2 -3.1,1.6 -3.3,1.4 -3,-1.6 -3.3,-1 -2.7,-2 -2,-2.9 -3.5,0 -3.3,0.7 -3.5,-0.6 -3,-1.8 0.9,-4.9 0.9,-5 0.2,-5.2 2.6,-4.4 4.9,-0.6 4.3,-2.6 4.8,0.7 4.9,0.2 4.8,0 4.7,0.4 4.8,0.6 4.6,1.3 2.8,3.9 2,4.5 0.7,4.9Z" fill="#4393c3" stroke="#4393c3" stroke-width="0.9"/>
<path d="M408.1,557.5 l -4.6,1 -4.3,2 -3.1,3.7 -4.5,1.9 -4.7,-0.1 -4.6,0.6 -4.7,0.6 -4.2,2.2 -4.4,-1.6 -4.4,-1.6 -4.7,0.1 -4.5,-1.6 -4.6,-1 -4.6,0.5 -4.6,0.8 -4.7,-0.3 1.9,3.6 1.2,3.9 1.7,3.8 3.3,2.6 1.8,3.7 2.5,3.2 2.5,3.2 3.4,2.3 1.2,4.1 -0.2,4.2 1.6,4 2.9,3.1 2.7,3.1 2.9,2.8 2.5,3.2 2.9,2.9 5.5,0.8 5.4,-1 5.2,-1.9 5.5,0.5 2.4,-4.3 2.2,-4.3 2.8,-4.2 0.4,-5 2.9,-3.9 3.3,-3.6 2,-4.5 3.6,-3.4 -1.4,-3.1 -1.6,-3 -0.2,-3.4 -0.5,-3.3 -0.3,-3.5 -1.7,-3 0.2,-3.5Z" fill="#4393c3" stroke="#4393c3" stroke-width="0.9"/>
<path d="M490.8,548.1 l 3.3,4 4.5,2.5 4.9,1.4 4.1,3 3.6,3.7 4.8,1.9 5.1,0.7 4.8,1.7 -1.2,5.7 0.8,5.8 -1.5,5.7 0.4,5.9 -3,-0.8 -3.2,0.3 -3,0.5 -3,0.7 -2.6,-1.6 -2.6,-1.7 -3.2,-0.1 -2.8,-1.4 -6,0.2 -5.9,0.9 -5.5,2.2 -6,0.8 0.9,-4.3 -0.9,-4.3 -1,-4.2 -1.4,-4.1 2.6,-2.8 1.2,-3.6 2.8,-2.5 2.6,-2.8 0.9,-3.6 1.8,-3.3 2.1,-3.1Z" fill="#4393c3" stroke="#4393c3" stroke-width="0.9"/>
<path d="M552.2,589.4 l -5.7,-0.5 -5.5,1.7 -4.8,3.2 -5.5,1.2 -3.2,-2.4 -3.1,-2.5 -0.4,-5.9 1.5,-5.7 -0.8,-5.8 1.2,-5.7 2.4,-2.4 1.6,-2.8 2.5,-2.2 2.7,-1.9 2.4,-2.2 2.3,-2.3 1.8,-2.8 2.2,-2.4 2.6,0.2 4.6,3.2 2.9,4.8 1.4,5.3 2,5.1 -1.7,5.6 -2.7,5.4 -1.3,2.8 -0.1,3 0.3,3Z" fill="#4393c3" stroke="#4393c3" stroke-width="0.9"/>
<path d="M530.7,595.9 l -2.7,2.9 -1.3,3.7 -1.1,3.7 -1.6,3.5 -1.4,3.7 -2.7,3 -1.1,3.8 0.1,3.9 -3.4,1.2 -3.9,-4 -4.8,-2.8 -5.3,-1.7 -5.5,-0.6 -4.3,-3.4 -4.8,-2.4 -5,-2.3 -4.9,-2.2 0.4,-5.5 -2,-5 2.2,-5.3 6,-0.8 5.5,-2.2 5.9,-0.9 6,-0.2 2.8,1.4 3.2,0.1 2.6,1.7 2.6,1.6 3,-0.7 3,-0.5 3.2,-0.3 3,0.8 3.1,2.5 3.2,2.4Z" fill="#92c5de" stroke="#92c5de" stroke-width="0.9"/>
<path d="M546.3,652.6 l 1.9,-3.6 0.5,-4 -3.9,-2.4 -3.7,-2.9 -2.3,-4 -3.8,-2.8 -3.2,-3.5 -4.2,-2 -4,-2.5 -4.7,-0.8 -3.4,1.2 -2.4,3.5 -2.2,3.7 -3.1,3 -2.6,3.4 -1.3,4.2 -2,3.8 -1.7,4.1 0.3,4.4 4.8,3.4 5.4,2.3 5.7,1.2 5.2,2.6 3.4,-1 3.2,-1.5 3.3,-1.3 3.6,-0.1 3,-2.2 1.8,-3.2 3.4,-1.1Z" fill="#92c5de" stroke="#92c5de" stroke-width="0.9"/>
<path d="M515.5,625.3 l -2.4,3.5 -2.2,3.7 -3.1,3 -2.6,3.4 -1.3,4.2 -2,3.8 -1.7,4.1 0.3,4.4 -3.1,0.6 -3,-1 -3,1.2 -3.1,-0.3 -1.7,-4.1 0.4,-4.4 -1.4,-4.1 -1,-4.3 -2.7,-3.4 -2,-3.9 -3,-3.2 -3.6,-2.5 1.4,-4.9 1.4,-5 -0.6,-5.2 1.5,-5 4.9,2.2 5,2.3 4.8,2.4 4.3,3.4 5.5,0.6 5.3,1.7 4.8,2.8Z" fill="#92c5de" stroke="#92c5de" stroke-width="0.9"/>
<path d="M552.8,631.3 l -1.2,-5.3 -0.4,-5.4 -2.8,-4.8 -3.6,-4.1 -2.6,-4.7 -3.2,-4.3 -3.8,-3.8 -4.5,-3 -2.7,2.9 -1.3,3.7 -1.1,3.7 -1.6,3.5 -1.4,3.7 -2.7,3 -1.1,3.8 0.1,3.9 4.7,0.8 4,2.5 4.2,2 3.2,3.5 3.8,2.8 2.3,4 3.7,2.9 3.9,2.4 2.2,-3.4 3.3,-2.5 -1.1,-3.8Z" fill="#92c5de" stroke="#92c5de" stroke-width="0.9"/>
<path d="M497.5,695.6 l -1.8,-3.1 -2.3,-2.8 -2.5,-2.6 -1.9,-3 -0.7,-3.5 -1.6,-3.3 -1.3,-3.3 -0.4,-3.6 1.6,-5.2 -1.1,-5.5 2.8,-3.8 3.1,0.3 3,-1.2 3,1 3.1,-0.6 4.8,3.4 5.4,2.3 5.7,1.2 5.2,2.6 -1.8,5.5 -0.2,5.8 1.6,5.5 0.4,5.8 -3.2,1 -3,1.4 -1.9,2.8 -3,1.7 -3.1,1.4 -3.3,0.1 -3.3,-0.7Z" fill="#92c5de" stroke="#92c5de" stroke-width="0.9"/>
<path d="M527.9,712.8 l 1.1,-3.1 1.9,-2.8 -0.1,-3.3 1.2,-3.1 -1.7,-3.9 -2.1,-3.7 -3.6,-2.4 -3,-3 -3.2,1 -3,1.4 -1.9,2.8 -3,1.7 -3.1,1.4 -3.3,0.1 -3.3,-0.7 -3.3,0.4 -0.9,1.8 3.1,2 1.9,3.1 1,3.4 1.2,3.4 0.9,3.5 2.2,2.8 0,3.6 0.9,3.5 4.7,0.4 4.7,-0.5 3.4,-1.6 2.6,-2.6 2.5,-2.7Z" fill="#92c5de" stroke="#92c5de" stroke-width="0.9"/>
<path d="M557.9,676 l 0.3,5.1 -0.7,5 -1.1,5.1 1.2,5 -3.1,1.2 -3.2,0.5 -3.3,-0.8 -3.3,0.8 -3.3,0 -3,1.3 -3.1,1.4 -3.3,-0.1 -1.7,-3.9 -2.1,-3.7 -3.6,-2.4 -3,-3 -0.4,-5.8 -1.6,-5.5 0.2,-5.8 1.8,-5.5 3.4,-1 3.2,-1.5 3.3,-1.3 3.6,-0.1 3,-2.2 1.8,-3.2 3.4,-1.1 3,-1.9 1.8,2.7 1.1,3.2 2.2,2.4 2.4,2.3 0,3.5 0.5,3.4 1.7,3Z" fill="#2166ac" stroke="#2166ac" stroke-width="0.9"/>
<path d="M552.8,631.3 l -1.2,-5.3 -0.4,-5.4 -2.8,-4.8 -3.6,-4.1 -2.6,-4.7 -3.2,-4.3 -3.8,-3.8 -4.5,-3 0,-0.9 5.5,-1.2 4.8,-3.2 5.5,-1.7 5.7,0.5 2.9,1.7 3.4,0.3 2.4,2.3 2.3,2.4 0.6,4.7 -1,4.7 -0.9,4.6 -0.5,4.6 -2.2,4.3 -3.6,3.2 -1.6,4.5Z" fill="#92c5de" stroke="#92c5de" stroke-width="0.9"/>
<path d="M551,732.4 l 4.1,-0.8 4,-1.3 4.2,-1.3 3.2,-2.9 3,-3.3 2.3,-3.9 2.9,-3.5 1.7,-4.2 -1.6,-2.6 -1.7,-2.6 -2.4,-2 -2.3,-2.1 -2.7,-1.5 -3,-0.7 -2.7,-1.5 -2.4,-2 -3.1,1.2 -3.2,0.5 -3.3,-0.8 -3.3,0.8 -3.3,0 -3,1.3 -3.1,1.4 -3.3,-0.1 -1.2,3.1 0.1,3.3 -1.9,2.8 -1.1,3.1 2.9,2.6 2.3,3.2 1.4,3.7 2.7,2.9 3.7,1.3 3.9,1 3.3,2.2Z" fill="#92c5de" stroke="#92c5de" stroke-width="0.9"/>
<path d="M548.5,736.1 l -2.2,2.1 -2.1,2.2 -2.4,1.9 -2.6,1.6 -3,0.7 -2.6,1.7 -2.7,1.4 -3,0.7 -0.8,-3.5 -2.3,-2.8 -1.6,-3.2 -2.4,-2.6 -1.1,-3.5 -1.9,-3 0.5,-3.7 -1.1,-3.5 3.4,-1.6 2.6,-2.6 2.5,-2.7 2.2,-2.9 2.9,2.6 2.3,3.2 1.4,3.7 2.7,2.9 3.7,1.3 3.9,1 3.3,2.2 2.9,2.7Z" fill="#92c5de" stroke="#92c5de" stroke-width="0.9"/>
<path d="M548.5,736.1 l 0,3.1 0.1,3.1 0.9,3 1.5,2.7 0.8,3 1,2.9 2,2.4 1.4,2.7 -4.3,2.7 -3.9,3.1 -3,-0.4 -2.9,-1.2 -2.3,-2.1 -2.9,-0.9 -3.2,-0.1 -2.8,-1.6 -3.2,-0.3 -2.9,1.3 2.9,-5.2 0.2,-5.9 3,-0.7 2.7,-1.4 2.6,-1.7 3,-0.7 2.6,-1.6 2.4,-1.9 2.1,-2.2Z" fill="#d6604d" stroke="#d6604d" stroke-width="0.9"/>
<path d="M548.5,736.1 l 0,3.1 0.1,3.1 0.9,3 1.5,2.7 0.8,3 1,2.9 2,2.4 1.4,2.7 3,-0.3 3.1,-0.4 3,0.5 3,-0.8 2.3,-3.5 2,-3.7 -1.3,-3.1 0.3,-3.3 -0.3,-3.2 0.2,-3.2 -2,-2.7 -0.7,-3.2 -0.4,-3.3 -1.9,-2.7 -3.2,2.9 -4.2,1.3 -4,1.3 -4.1,0.8Z" fill="#d6604d" stroke="#d6604d" stroke-width="0.9"/>
<path d="M527.9,748.4 l -0.2,5.9 -2.9,5.2 -3.8,2.7 -3.4,3.3 -5.1,0.1 -4.8,-1.7 -5,-0.9 -4.1,-3.2 -3.3,-3.8 -4.4,-2.5 -4.8,-1.5 -4.4,-2.5 1.1,-3.3 2.2,-2.8 0.3,-3.5 0.9,-3.3 3.1,-1.3 2.6,-2.1 3.4,0 3.2,-1.2 2.4,-2.3 2.8,-1.8 1.6,-3 2.5,-2.2 4.7,0.4 4.7,-0.5 1.1,3.5 -0.5,3.7 1.9,3 1.1,3.5 2.4,2.6 1.6,3.2 2.3,2.8Z" fill="#92c5de" stroke="#92c5de" stroke-width="0.9"/>
<path d="M481.7,749.5 l 4.4,2.5 4.8,1.5 4.4,2.5 3.3,3.8 4.1,3.2 5,0.9 4.8,1.7 5.1,-0.1 0.5,5.4 1.3,5.3 -1.4,5.2 -0.4,5.4 -3,1 -3,0.5 -2.3,2 -2.4,2 -3,0.6 -2.7,1.4 -2.4,1.9 -2.9,0.9 0.5,-3.2 -1,-3.1 -1.5,-2.8 -1.5,-2.7 -1.9,-2.5 -1,-2.9 -1.8,-2.6 -1.2,-2.9 -2.2,-2.2 -2.6,-1.7 -1.9,-2.6 -0.9,-3 -1.7,-2.7 -2.7,-1.6 -2.6,-1.9 -1.5,-2.7 2.3,-2.4 2.5,-2.2 3.1,-1.4Z" fill="#4393c3" stroke="#4393c3" stroke-width="0.9"/>
<path d="M470.4,756 l -4.7,1.1 -2.4,2.2 -3.3,0.8 -2.8,1.7 -2,2.6 -1,3 -1.3,2.8 0.1,3.2 -0.6,3.1 0.2,3.2 0.2,3.1 0.8,3 0.6,3.1 4.8,1.8 5,0.8 3.5,3.8 4.5,2.5 5,0.8 4.4,2.4 4.9,0.9 4.7,1.7 2.4,-3.3 2.5,-3.2 0.5,-3.2 -1,-3.1 -1.5,-2.8 -1.5,-2.7 -1.9,-2.5 -1,-2.9 -1.8,-2.6 -1.2,-2.9 -2.2,-2.2 -2.6,-1.7 -1.9,-2.6 -0.9,-3 -1.7,-2.7 -2.7,-1.6 -2.6,-1.9Z" fill="#4393c3" stroke="#4393c3" stroke-width="0.9"/>
<path d="M517.6,765.5 l 3.4,-3.3 3.8,-2.7 2.9,-1.3 3.2,0.3 2.8,1.6 3.2,0.1 2.9,0.9 2.3,2.1 2.9,1.2 3,0.4 1,5.8 2.7,5.2 1.1,5.6 1.9,5.5 -4.8,1.2 -4.9,-1.2 -4.8,-1.2 -4,-2.8 -4.6,1.7 -4.9,-0.5 -4.5,1.3 -4.5,1.5 -0.1,-0.1 0.4,-5.4 1.4,-5.2 -1.3,-5.3Z" fill="#4393c3" stroke="#4393c3" stroke-width="0.9"/>
<path d="M556.2,759 l -4.3,2.7 -3.9,3.1 1,5.8 2.7,5.2 1.1,5.6 1.9,5.5 3.1,3.8 4.5,2.1 1.5,-3 2.6,-2 1.5,-2.9 0.8,-3.1 1.2,-3.1 1.7,-2.7 1.2,-2.9 0.9,-3.1 -0.6,-3.3 -0.7,-3.3 -1.8,-2.8 -2.3,-2.6 -3,0.8 -3,-0.5 -3.1,0.4Z" fill="#4393c3" stroke="#4393c3" stroke-width="0.9"/>
<path d="M422.6,679.5 l -0.9,-3.5 -3.1,-1.9 -3.2,-1.6 -3.4,0 -3.3,1 -3.3,0.9 -3.4,0.6 -1.7,3.1 -2.9,2 -3.1,1.6 -3.3,1.4 -0.1,3 0.1,3.1 0,3 -0.2,3.1 -0.9,2.9 -0.6,3 -0.3,3 -0.5,3 -0.3,3.1 1,3 -0.3,3 -0.1,3.1 0.7,3.1 1.6,2.7 -0.8,3 0.7,3.2 1.7,-2.6 1.4,-2.6 -0.2,-3.1 1.1,-2.9 2,-2.2 2.5,-1.7 0.8,-3 2,-2.3 4.1,-4.2 5.1,-2.9 4.5,-3.8 4.5,-3.6 0,-4.4 1.3,-4.1 0.6,-4.3Z" fill="#4393c3" stroke="#4393c3" stroke-width="0.9"/>
<path d="M391,683.1 l -3,-1.6 -3.3,-1 -2.7,-2 -2,-2.9 -3.5,0 -3.3,0.7 -3.5,-0.6 -3,-1.8 -4,1.9 -4.1,1.5 -3.1,3.2 -3.1,3.1 -2.4,2.3 -1.5,3 -2.8,1.7 -2.6,2 -1.2,3.2 0.2,3.4 -1.7,2.9 -2.3,2.4 -0.2,3.2 -1.1,3 -0.4,3.2 -1.1,3 -0.5,3.3 -1.7,2.8 0.2,3.3 0.5,3.2 3.5,-0.1 3.3,1.2 3.1,1.4 3.3,1.1 3.4,-0.5 3.2,-1.3 3.4,-0.1 3.3,-1.1 2.5,2.3 2.8,2 3.2,1.3 3.4,0.3 3.3,0.8 3,1.7 2.2,2.6 3,1.6 3.8,-1.5 2.1,-4.8 1.4,-5 -0.7,-3.2 0.8,-3 -1.6,-2.7 -0.7,-3.1 0.1,-3.1 0.3,-3 -1,-3 0.3,-3.1 0.5,-3 0.3,-3 0.6,-3 0.9,-2.9 0.2,-3.1 0,-3 -0.1,-3.1Z" fill="#92c5de" stroke="#92c5de" stroke-width="0.9"/>
<path d="M439.8,717.6 l -4.3,3.3 -3.8,3.9 -2,5.2 -3.2,4.4 -4,3.7 -5.1,1.9 -4.2,3.6 -5.3,1.5 -5.2,0.6 -5.2,-1.2 -5.1,-1.2 -4.9,-2.1 2.1,-4.8 1.4,-5 1.7,-2.6 1.4,-2.6 -0.2,-3.1 1.1,-2.9 2,-2.2 2.5,-1.7 0.8,-3 2,-2.3 4.1,-4.2 5.1,-2.9 4.5,-3.8 4.5,-3.6 2.8,2.3 3.3,1.6 2.3,3 3.3,1.7 2.3,3 0.8,3.7 2.1,3Z" fill="#4393c3" stroke="#4393c3" stroke-width="0.9"/>
<path d="M439.8,717.6 l -2.4,-2.8 -2.1,-3 -0.8,-3.7 -2.3,-3 -3.3,-1.7 -2.3,-3 -3.3,-1.6 -2.8,-2.3 0,-4.4 1.3,-4.1 0.6,-4.3 0.2,-4.2 3.8,2.4 4.4,1.2 4.4,0.8 3.9,2.4 2,4.1 2.7,3.7 4.2,2 3.4,3 1.6,5.2 -0.1,5.4 -2.7,3.4 -2.9,3.1 -3.9,0Z" fill="#4393c3" stroke="#4393c3" stroke-width="0.9"/>
<path d="M451.4,699.1 l 2.5,-2.5 0.9,-3.4 2.6,-2.5 1.3,-3.2 0.4,-5.6 -1.5,-5.4 -3.4,-4.4 -2,-5.3 -3.4,-1.4 -3.5,-1.2 -3.1,1.5 -2.2,2.6 -3.4,0.5 -3.2,1.2 -3.4,0.2 -2.9,1.8 -3.1,1.5 -2.3,2.5 0.9,3.5 3.8,2.4 4.4,1.2 4.4,0.8 3.9,2.4 2,4.1 2.7,3.7 4.2,2Z" fill="#2166ac" stroke="#2166ac" stroke-width="0.9"/>
<path d="M452.9,709.7 l 5.6,-0.3 5.6,0.8 5.5,1.2 5.7,-0.1 1.6,-3 2,-2.8 -1.7,-4.7 -3.3,-3.7 -0.8,-4.8 -0.9,-4.8 -3.4,-0.9 -3.4,0.2 -3.4,-0.4 -3.3,1.1 -1.3,3.2 -2.6,2.5 -0.9,3.4 -2.5,2.5 1.6,5.2Z" fill="#2166ac" stroke="#2166ac" stroke-width="0.9"/>
<path d="M458.7,687.5 l 0.4,-5.6 -1.5,-5.4 -3.4,-4.4 -2,-5.3 4.2,-1.7 3.3,-3 4.2,-1.4 4.1,-1.7 4.4,-0.1 4.3,1.2 4.4,-0.2 4.4,-0.2 1.1,5.5 -1.6,5.2 -1.8,5.3 -2.5,4.9 -3.6,4.2 -4.9,2.7 -3.4,-0.9 -3.4,0.2 -3.4,-0.4Z" fill="#2166ac" stroke="#2166ac" stroke-width="0.9"/>
<path d="M496.6,697.4 l -4.1,2.7 -4.8,1.3 -4,2.9 -4.8,1.2 -1.7,-4.7 -3.3,-3.7 -0.8,-4.8 -0.9,-4.8 4.9,-2.7 3.6,-4.2 2.5,-4.9 1.8,-5.3 0.4,3.6 1.3,3.3 1.6,3.3 0.7,3.5 1.9,3 2.5,2.6 2.3,2.8 1.8,3.1Z" fill="#2166ac" stroke="#2166ac" stroke-width="0.9"/>
<path d="M496.6,697.4 l -4.1,2.7 -4.8,1.3 -4,2.9 -4.8,1.2 -2,2.8 -1.6,3 -0.2,3.6 1,3.4 0.7,3.5 0.9,3.4 1.9,3.1 1.4,3.3 3,2.1 2.2,2.9 3.1,-1.3 2.6,-2.1 3.4,0 3.2,-1.2 2.4,-2.3 2.8,-1.8 1.6,-3 2.5,-2.2 -0.9,-3.5 0,-3.6 -2.2,-2.8 -0.9,-3.5 -1.2,-3.4 -1,-3.4 -1.9,-3.1Z" fill="#2166ac" stroke="#2166ac" stroke-width="0.9"/>
<path d="M447.3,716.2 l 1.4,5.8 2.9,5 4,4.4 4.6,3.6 1.4,5.5 0.7,5.7 2.8,5.1 0.6,5.8 4.7,-1.1 2.3,-2.4 2.5,-2.2 3.1,-1.4 3.4,-0.5 1.1,-3.3 2.2,-2.8 0.3,-3.5 0.9,-3.3 -2.2,-2.9 -3,-2.1 -1.4,-3.3 -1.9,-3.1 -0.9,-3.4 -0.7,-3.5 -1,-3.4 0.2,-3.6 -5.7,0.1 -5.5,-1.2 -5.6,-0.8 -5.6,0.3 -2.7,3.4Z" fill="#4393c3" stroke="#4393c3" stroke-width="0.9"/>
<path d="M439.8,717.6 l -4.3,3.3 -3.8,3.9 -2,5.2 -3.2,4.4 -4,3.7 -5.1,1.9 -4.2,3.6 -5.3,1.5 3.6,4.1 3.9,3.7 5.5,1 4.4,3.3 3.9,-0.1 4,0 3.8,0.7 3.9,0.4 3.8,1.1 3.5,1.6 4,0.8 3,2.7 2,-2.6 2.8,-1.7 3.3,-0.8 2.4,-2.2 -0.6,-5.8 -2.8,-5.1 -0.7,-5.7 -1.4,-5.5 -4.6,-3.6 -4,-4.4 -2.9,-5 -1.4,-5.8 -3.9,0Z" fill="#4393c3" stroke="#4393c3" stroke-width="0.9"/>
<path d="M375.3,805.3 l -0.2,-5.7 -2.1,-5.3 2.8,-5 0.4,-5.7 1.2,-5.3 1,-5.4 1.6,-5.4 -1.2,-5.5 1.3,-2.8 0.6,-3.1 1.8,-2.6 1.1,-2.9 1.2,2.8 1.3,2.7 0.8,3 2.1,2.3 0.6,3.1 -0.8,3.1 1.3,2.8 1.5,2.7 -0.5,3 0.5,3.1 1,2.9 1.4,2.8 1.4,2.6 1,2.9 1.8,2.4 1.3,2.7 -3.4,-0.6 -3.3,0.9 -3.2,1.1 -3,1.6 -2.9,1.7 -2.4,2.3 -3.2,1Z" fill="#92c5de" stroke="#92c5de" stroke-width="0.9"/>
<path d="M393,825.5 l 2.6,-1.5 2.4,-1.9 2.8,-1.4 1.9,-2.5 2.3,-2 2.4,-2 2.7,-1.4 2.5,-1.8 0.7,-3.1 0.1,-3.1 -3.9,-1.7 -4.2,-1.2 -2.9,-3.2 -2.9,-3.2 -3.4,-0.6 -3.3,0.9 -3.2,1.1 -3,1.6 -2.9,1.7 -2.4,2.3 -3.2,1 -2.8,1.8 -2.3,2 2.7,4.3 1.5,4.8 1.2,4.9 0.5,5 3.4,1.4 5.1,-2.1Z" fill="#92c5de" stroke="#92c5de" stroke-width="0.9"/>
<path d="M448.7,798.8 l -4.1,-1.1 -4.3,0.4 -4.1,-1.1 -4.3,-0.2 -3.7,2.2 -3.6,2.4 -4.2,0.7 -4.2,0.9 -0.4,-3 -1,-2.9 0,-3 -0.1,-3 0.6,-3.1 1.2,-2.8 0.2,-3.2 -1.1,-2.9 0.2,-3.1 1.3,-2.9 2,-2.3 1.8,-2.5 1.7,-2.6 2,-2.4 0.8,-3 -0.1,-3.1 3.9,-0.1 4,0 3.8,0.7 3.9,0.4 3.8,1.1 3.5,1.6 4,0.8 3,2.7 -1,3 -1.3,2.8 0.1,3.2 -0.6,3.1 0.2,3.2 0.2,3.1 0.8,3 0.6,3.1 -2.6,5.1Z" fill="#4393c3" stroke="#4393c3" stroke-width="0.9"/>
<path d="M425.3,757.2 l -4.4,-3.3 -5.5,-1 -3.9,-3.7 -3.6,-4.1 -5.2,0.6 -5.2,-1.2 -5.1,-1.2 -4.9,-2.1 -3.8,1.5 -0.8,3.9 0.7,4 1.2,2.8 1.3,2.7 0.8,3 2.1,2.3 0.6,3.1 -0.8,3.1 1.3,2.8 1.5,2.7 -0.5,3 0.5,3.1 1,2.9 1.4,2.8 1.4,2.6 1,2.9 1.8,2.4 1.3,2.7 2.9,3.2 2.9,3.2 4.2,1.2 3.9,1.7 2.8,-1.8 -0.4,-3 -1,-2.9 0,-3 -0.1,-3 0.6,-3.1 1.2,-2.8 0.2,-3.2 -1.1,-2.9 0.2,-3.1 1.3,-2.9 2,-2.3 1.8,-2.5 1.7,-2.6 2,-2.4 0.8,-3Z" fill="#4393c3" stroke="#4393c3" stroke-width="0.9"/>
<path d="M448.7,798.8 l -0.9,3.7 0.3,3.7 -0.2,3.7 1.5,3.5 1.3,3.4 2.1,3 2.4,2.8 1.1,3.6 0.4,0.1 4.2,-0.3 4.2,1.2 4,-1.1 4.2,-0.6 4,-1.4 3.8,-1.8 4.2,-0.2 4,-1.3 -0.4,-4.4 0.6,-4.3 1.5,-4.1 0,-4.4 -4.7,-1.7 -4.9,-0.9 -4.4,-2.4 -5,-0.8 -4.5,-2.5 -3.5,-3.8 -5,-0.8 -4.8,-1.8 -2.6,5.1Z" fill="#4393c3" stroke="#4393c3" stroke-width="0.9"/>
<path d="M421.3,826.8 l -2.4,-4.1 -3.9,-2.8 -1.4,-4.4 -1,-4.5 0.7,-3.1 0.1,-3.1 2.8,-1.8 4.2,-0.9 4.2,-0.7 3.6,-2.4 3.7,-2.2 4.3,0.2 4.1,1.1 4.3,-0.4 4.1,1.1 -0.9,3.7 0.3,3.7 -0.2,3.7 1.5,3.5 1.3,3.4 2.1,3 2.4,2.8 1.1,3.6 -3.4,0.8 -2.8,2 -2.3,2.5 -2.7,2 -3.2,0.2 -3.2,0.3 -2.9,-1.4 -3.2,-0.2 -2.4,-2.2 -3.1,-1 -3.1,-0.7Z" fill="#4393c3" stroke="#4393c3" stroke-width="0.9"/>
<path d="M524.1,820.9 l -4,-0.1 -3.6,1.5 -3.8,-0.3 -3.9,0.3 -3.6,1.4 -3.5,1.6 -3.8,0.9 -3.8,0.2 -2.3,-2.9 -2.5,-2.7 -0.4,-4.4 0.6,-4.3 1.5,-4.1 0,-4.4 2.4,-3.3 2.5,-3.2 2.9,-0.9 2.4,-1.9 2.7,-1.4 3,-0.6 2.4,-2 2.3,-2 3,-0.5 3,-1 0.1,0.1 3.4,4.9 4,4.5 1.7,5.7 0.7,6 -1,3.2 -0.7,3.3 -0.5,3.3Z" fill="#d1e5f0" stroke="#d1e5f0" stroke-width="0.9"/>
<path d="M562.3,792.8 l 0,0 -4.5,-2.1 -3.1,-3.8 -4.8,1.2 -4.9,-1.2 -4.8,-1.2 -4,-2.8 -4.6,1.7 -4.9,-0.5 -4.5,1.3 -4.5,1.5 3.4,4.9 4,4.5 1.7,5.7 0.7,6 3.8,-0.2 3.3,-1.8 3.6,1 3.6,0.7 3.8,0.2 3.3,1.7 3.6,-0.6 3.6,-1 1.7,-3.8 2.3,-3.4 0.3,-4.2Z" fill="#d1e5f0" stroke="#d1e5f0" stroke-width="0.9"/>
<path d="M574.4,795.3 l 2.5,2.7 2.3,2.8 1.3,3.5 1.5,3.3 1.8,3.3 3.1,2.3 3.5,1.3 3,2.1 -2.8,4.8 -3.8,-0.2 -3.9,0.5 -3.8,0.1 -3.8,0.6 -3.9,0.5 -3.6,1.4 -3.9,0.7 -3.9,-0.2 0.1,-4.4 -1.1,-4.2 -0.9,-4.3 -2,-3.9 1.7,-3.8 2.3,-3.4 0.3,-4.2 1.9,-3.8 3.1,0.8 3.1,-0.2 2.7,1.7Z" fill="#4393c3" stroke="#4393c3" stroke-width="0.9"/>
<path d="M534.4,281.5 l 2.9,1.8 2.9,1.8 2.8,2 3.1,1.3 0.3,5.9 2.8,5.3 -0.6,5.2 -3,4.2 -3.4,3.8 -3.4,3.7 -3.5,-1.3 -3.7,0.1 -3.6,1 -3.7,-0.1 -3.7,0.8 -3.6,-1.1 -3.4,-1.4 -3.6,-0.9 -2.9,-3.2 -0.6,-3.1 0.6,-3.2 0.8,-3.1 2.2,-2.5 2.7,-2.5 3.5,-1.6 3.5,-1.5 2.5,-2.9 2.4,-2.8 3.4,-1.8 2.8,-2.5Z" fill="#4393c3" stroke="#4393c3" stroke-width="0.9"/>
<path d="M538.8,316.5 l 3.4,-3.7 3.4,-3.8 3,-4.2 0.6,-5.2 3.9,1.9 4.3,0.4 4.1,1.4 3.2,2.9 2.4,2.8 3.2,2.1 1.8,3.3 0.9,3.6 -3.5,4.5 -3.5,4.5 -1.4,5.5 -0.6,5.7 -4.8,-0.5 -4.8,-0.3 -4.8,1.1 -4.9,-0.3 -2.1,-2.9 -1.6,-3.2 -0.5,-4.1 1,-3.9 -0.9,-4Z" fill="#4393c3" stroke="#4393c3" stroke-width="0.9"/>
<path d="M726.2,313.1 l 0.9,-3.7 -0.9,-3.7 -1.7,-2.8 -3.4,-2.8 -3.1,-3 -3.2,-3.1 -4,-1.8 -1.3,-0.2 -5.6,0.8 -5.5,1.3 -4.5,3.5 -4.6,3.3 -2.3,3.3 -1.9,3.6 0.2,4.1 -0.9,4 1.4,3.8 0.5,4 0.1,4 -0.2,4 3.2,0.1 3.2,-0.8 3.1,0.8 3.2,0.4 2.9,1.5 3.3,-0.1 3.1,0.8 2.7,1.8 2.1,-2.9 0.9,-3.5 3,-1.9 2.1,-3 1.9,-2.9 1,-3.4 2.6,-2.4Z" fill="#92c5de" stroke="#92c5de" stroke-width="0.9"/>
<path d="M750.3,340.2 l -2.2,-4.1 -1.7,-4.3 -3.6,-2.9 -3,-3.6 -3.8,-2.7 -2.4,-4 -3.7,-2.8 -3.7,-2.7 -1.7,3.1 -2.6,2.4 -1,3.4 -1.9,2.9 -2.1,3 -3,1.9 -0.9,3.5 -2.1,2.9 0,4 1.5,3.7 1.6,3.6 0.5,3.9 0.3,4 -0.4,4 1,3.9 2,3.5 4.4,-0.8 3.7,-2.2 4.4,0.9 4.3,-1.2 2.6,-3.5 4.1,-1.8 3.4,-2.7 4.2,-1.2 0.5,-3.7 2.2,-3.1 0.3,-3.8Z" fill="#4393c3" stroke="#4393c3" stroke-width="0.9"/>
<path d="M510,334.2 l -4.9,0.9 -4.4,2.6 -4.6,-1.3 -3.8,-3.1 -4.7,-0.8 -4.7,0.1 -3.9,-2.8 -3.2,-3.5 -4.3,-2.2 -4.8,-0.7 2.8,-4.1 4.5,-2.3 3.8,-3.2 4.7,-1.5 3.1,-1 2.6,-1.8 3.2,-0.2 3.1,-0.9 3.3,-0.3 3.3,-0.2 3.1,0.8 2.9,1.7 2.9,3.2 1.2,5.1 -0.8,5.2 1.1,5.2Z" fill="#2166ac" stroke="#2166ac" stroke-width="0.9"/>
<path d="M538.8,316.5 l -3.5,-1.3 -3.7,0.1 -3.6,1 -3.7,-0.1 -3.7,0.8 -3.6,-1.1 -3.4,-1.4 -3.6,-0.9 1.2,5.1 -0.8,5.2 1.1,5.2 -1.5,5.1 3,2.6 3.6,0.7 3.7,-0.8 3.8,0 3.5,1.3 3,-2.1 3.7,-0.9 3.3,-1.5 3.4,-1.4 -0.5,-4.1 1,-3.9 -0.9,-4Z" fill="#2166ac" stroke="#2166ac" stroke-width="0.9"/>
<path d="M500.7,337.7 l -4.6,-1.3 -3.8,-3.1 -4.7,-0.8 -4.7,0.1 -3.9,-2.8 -3.2,-3.5 -4.3,-2.2 -4.8,-0.7 -4,2.1 -3.5,3 -4.4,1.1 -4.4,1 -2.9,3.6 -3.3,3 -4.2,1.8 -4.2,1.8 -4.5,0.9 -4.6,-0.4 -4.4,-1.6 -4.6,0.6 -4.7,0.4 -4.4,1.4 -3.5,3.1 -4.2,2.1 3.1,2.2 2.1,3.1 4.8,-2.7 4.9,-2.6 5.4,-0.5 5.5,0.1 5.3,0.7 5.2,1.4 5.5,-0.6 5.1,2.2 4.8,2 5,1.8 5.1,1.2 5.1,1 4.9,2.3 5.5,-0.2 5.2,1 5.3,-1 5.3,-2.5 2,-4.5 2.4,-4.4 0.7,-4.9Z" fill="#2166ac" stroke="#2166ac" stroke-width="0.9"/>
<path d="M513,336.8 l 0.4,3 0.8,3 1.6,2.7 0.1,3.2 -3,4.6 -2.5,5 -4.2,0.5 -4,-1.1 -3.9,-1.8 -4.3,0.3 2,-4.5 2.4,-4.4 0.7,-4.9 1.6,-4.7 4.4,-2.6 4.9,-0.9Z" fill="#92c5de" stroke="#92c5de" stroke-width="0.9"/>
<path d="M541,332.1 l 1.6,3.2 2.1,2.9 -0.4,2.9 -0.1,3 -2.2,2.2 -1.1,2.9 -2.8,3.2 -5.3,-2 -5.5,-1.3 -5.7,0.1 -5.7,-0.5 -0.1,-3.2 -1.6,-2.7 -0.8,-3 -0.4,-3 3.6,0.7 3.7,-0.8 3.8,0 3.5,1.3 3,-2.1 3.7,-0.9 3.3,-1.5Z" fill="#4393c3" stroke="#4393c3" stroke-width="0.9"/>
<path d="M597.5,342.5 l -2.4,2.4 -4,1.1 -4.1,-0.5 -3.8,-1.6 -4.1,-0.2 -3.1,-2.7 -4,-1.2 -4.2,0.1 -3.7,-1.7 -0.1,0 0.6,-5.7 1.4,-5.5 3.5,-4.5 3.5,-4.5 3.1,-0.3 3.2,0.2 3.1,0.9 3.2,0.3 3.5,4.9 2.5,5.4 1.8,2.6 0.3,3.1 1.9,2.4 2.5,1.8Z" fill="#4393c3" stroke="#4393c3" stroke-width="0.9"/>
<path d="M636.2,353 l -4.8,2.8 -5.5,0.9 -3.5,-1.7 -3.8,-1.3 -3.7,-1.6 -3.2,-2.4 -3.4,-2.1 -3.9,-1.2 -3.9,-1 -3,-2.9 0.6,-3.2 2,-3 2.3,-2.6 2.9,-2.2 2.3,-2.6 2.9,-2 3.1,-1.7 2.8,-2.2 2.8,-2.1 3.6,1.4 3.7,1.2 2.8,3.2 3,2.8 2.4,3.4 1.5,4 -0.8,4 -0.9,4.1 0.4,4.1Z" fill="#92c5de" stroke="#92c5de" stroke-width="0.9"/>
<path d="M673.6,351.3 l -3.5,1.8 -3.4,1.7 -3.9,0.3 -3.9,0 -3.9,0.2 -3.5,1.5 -3.8,0.4 -3.6,1.5 -3.9,-2.9 -4,-2.8 -1.3,-3.9 -0.4,-4.1 0.9,-4.1 0.8,-4 2.8,-1.9 3.2,-0.9 3.4,0 3.2,-1.1 2.7,-1.8 2.5,-2.2 3,-1.4 2.4,-2.3 2.1,0.4 2.2,4.5 3.7,3.4 4.9,1.4 3.7,3.5 -1,3.2 0.2,3.3 -1.3,3Z" fill="#4393c3" stroke="#4393c3" stroke-width="0.9"/>
<path d="M673.6,351.3 l 1.6,5.4 2.9,4.8 3.3,4.7 4.7,3.1 3.8,0.9 4,0.5 3.8,1.3 4,-0.4 3.9,-0.8 3.9,-0.7 3.5,-1.8 4,-0.8 0.4,-0.7 -2,-3.5 -1,-3.9 0.4,-4 -0.3,-4 -0.5,-3.9 -1.6,-3.6 -1.5,-3.7 0,-4 -2.7,-1.8 -3.1,-0.8 -3.3,0.1 -2.9,-1.5 -3.2,-0.4 -3.1,-0.8 -3.2,0.8 -3.2,-0.1 -3.1,0.7 -2.9,1.4 -2,2.4 -2.2,2.3 -1,3.2 0.2,3.3 -1.3,3Z" fill="#4393c3" stroke="#4393c3" stroke-width="0.9"/>
<path d="M484.5,399.1 l -3.4,0.9 -3.6,-0.1 -3.4,1.1 -3.6,0 -1.4,-3.1 -2.1,-2.6 -2.8,-1.8 -2.4,-2.3 -2.5,-2.3 -3.3,-1 -3.2,-0.5 -3.3,-0.8 -3.1,-0.8 -3.1,-0.5 -3.2,-0.5 -3.2,0 -2.8,-1.7 -3.1,-0.8 -3.1,-0.8 -3.1,-0.9 -2.6,-3.4 -3.6,-2.4 -3,-3.2 -1.4,-4.1 -1,-4.2 -2.5,-3.6 -2.9,-3.2 -1.7,-3.9 4.8,-2.7 4.9,-2.6 5.4,-0.5 5.5,0.1 5.3,0.7 5.2,1.4 5.5,-0.6 5.1,2.2 4.8,2 5,1.8 5.1,1.2 5.1,1 4.9,2.3 5.5,-0.2 5.2,1 5.3,-1 2,4.7 3.3,3.9 2,4.7 2.5,4.4 0.7,3.5 0.2,3.5 -3,4.5 -0.7,5.5 -2.8,2.1 -4.1,1.9Z" fill="#4393c3" stroke="#4393c3" stroke-width="0.9"/>
<path d="M537.8,353.8 l -2.6,1.7 -2.2,2 -2.5,1.9 -2.9,1 -2.2,2.2 -2,2.3 -2.7,1.5 -2.3,2 1.2,5.4 2.7,3.2 3.1,2.8 3.6,-0.4 3.3,-1.5 3.3,-1.4 3.7,0.1 2.2,-2.8 0.9,-5.2 -0.3,-5.2 -2.5,-4.7Z" fill="#92c5de" stroke="#92c5de" stroke-width="0.9"/>
<path d="M537.8,353.8 l -2.6,1.7 -2.2,2 -2.5,1.9 -2.9,1 -2.2,2.2 -2,2.3 -2.7,1.5 -2.3,2 -3.2,-2.7 -2.7,-3.2 -2.1,-4.2 2.5,-5 3,-4.6 5.7,0.5 5.7,-0.1 5.5,1.3 5.3,2Z" fill="#2166ac" stroke="#2166ac" stroke-width="0.9"/>
<path d="M567.5,355.1 l 5.7,1.2 5.2,2.8 5.5,2.2 6,-0.2 1.6,-4 1.5,-3.9 1,-4.2 1.1,-4.1 -4,1.1 -4.1,-0.5 -3.8,-1.6 -4.1,-0.2 -3.1,-2.7 -4,-1.2 -4.2,0.1 -3.7,-1.7 -0.6,4.4 0.5,4.4 2.8,3.6Z" fill="#92c5de" stroke="#92c5de" stroke-width="0.9"/>
<path d="M540.9,349.2 l 1.1,-2.9 2.2,-2.2 0.1,-3 0.4,-2.9 4.9,0.3 4.8,-1.1 4.8,0.3 4.8,0.5 0.1,0 -0.6,4.4 0.5,4.4 2.8,3.6 0.7,4.5 -3.4,4.5 -2.9,4.8 -2.2,-2.2 -3,-1.4 -2.6,-1.8 -2.5,-2 -2.1,-2.4 -2.9,-1.5 -2.6,-1.9Z" fill="#2166ac" stroke="#2166ac" stroke-width="0.9"/>
<path d="M537.8,353.8 l 1.8,4.9 2.5,4.7 0.3,5.2 -0.9,5.2 4.1,-0.7 4.2,0.7 4.1,0 4.2,0 3.1,-3 -0.2,-3.2 0.2,-3.2 -2.2,-2.2 -3,-1.4 -2.6,-1.8 -2.5,-2 -2.1,-2.4 -2.9,-1.5 -2.6,-1.9 -2.4,-2 -2.8,3.2Z" fill="#2166ac" stroke="#2166ac" stroke-width="0.9"/>
<path d="M561.2,370.8 l 3,1.2 3.1,-0.4 2.8,1.3 2.9,1 3.4,-4 4.5,-2.9 4.5,-2.9 4.6,-2.5 -0.1,-0.5 -6,0.2 -5.5,-2.2 -5.2,-2.8 -5.7,-1.2 -3.4,4.5 -2.9,4.8 -0.2,3.2Z" fill="#2166ac" stroke="#2166ac" stroke-width="0.9"/>
<path d="M625.9,356.7 l -1.6,3.1 -0.3,3.4 -2.5,2.4 -1.4,3.2 -3.1,1.4 -2.3,2.7 -2.1,2.7 -1.3,3.1 -3.3,-1.8 -3.8,-0.2 -3.2,-1.7 -3,-2 -1.4,-3.3 -2.1,-2.8 -2.3,-2.7 -2.2,-2.6 -0.1,-0.5 1.6,-4 1.5,-3.9 1,-4.2 1.1,-4.1 2.4,-2.4 3,2.9 3.9,1 3.9,1.2 3.4,2.1 3.2,2.4 3.7,1.6 3.8,1.3Z" fill="#92c5de" stroke="#92c5de" stroke-width="0.9"/>
<path d="M636.2,353 l -4.8,2.8 -5.5,0.9 -1.6,3.1 -0.3,3.4 -2.5,2.4 -1.4,3.2 -3.1,1.4 -2.3,2.7 -2.1,2.7 -1.3,3.1 0.8,5.9 3.4,4.9 5,2.8 5.5,1.7 4.5,-2.5 5.2,0 4.6,-1.9 4.8,-1.5 1.8,-2.8 0.8,-3.3 -0.7,-3 -0.2,-3 0.7,-3 0.7,-3 -1.1,-3 -2.4,-2.2 -0.7,-3 0.1,-3.1 -3.9,-2.9Z" fill="#4393c3" stroke="#4393c3" stroke-width="0.9"/>
<path d="M673.6,351.3 l 1.6,5.4 2.9,4.8 3.3,4.7 4.7,3.1 -3,4 -1.9,4.5 -4.2,-0.8 -4.2,1.1 -4.3,-0.1 -4.2,0.3 -4.3,0.5 -4.2,0.3 -3.8,2.2 -4.3,0.7 -0.7,-3 -0.2,-3 0.7,-3 0.7,-3 -1.1,-3 -2.4,-2.2 -0.7,-3 0.1,-3.1 3.6,-1.5 3.8,-0.4 3.5,-1.5 3.9,-0.2 3.9,0 3.9,-0.3 3.4,-1.7Z" fill="#4393c3" stroke="#4393c3" stroke-width="0.9"/>
<path d="M663.2,406.7 l 3,-0.8 2.4,-2 2.5,-1.6 1.9,-2.4 1.2,-2.9 2.1,-2.2 2.2,-2.2 2.7,-1.4 0,-3.3 -0.1,-3.4 0.3,-3.3 -0.2,-3.4 -4.2,-0.8 -4.2,1.1 -4.3,-0.1 -4.2,0.3 -4.3,0.5 -4.2,0.3 -3.8,2.2 -4.3,0.7 -0.8,3.3 -1.8,2.8 2.8,4.4 3.2,4.2 3.3,4.1 2.7,4.5 2.9,1.2Z" fill="#4393c3" stroke="#4393c3" stroke-width="0.9"/>
<path d="M718.9,404.8 l -5.4,0.1 -5.4,-0.2 -4.8,2.7 -5.5,0.4 -1.4,-2.7 -1.9,-2.3 -1.3,-2.7 -1.7,-2.5 -2.3,-1.9 -2.5,-1.8 -2.8,-1.3 -2.7,-1.4 0,-3.3 -0.1,-3.4 0.3,-3.3 -0.2,-3.4 1.9,-4.5 3,-4 3.8,0.9 4,0.5 3.8,1.3 4,-0.4 3.9,-0.8 3.9,-0.7 3.5,-1.8 4,-0.8 0.3,3.2 1,2.9 -0.5,3.1 0.5,3.2 1.1,2.8 1.1,3 0.7,3.1 2,2.4 -1.6,3.3 -0.3,3.6 -0.4,3.6Z" fill="#4393c3" stroke="#4393c3" stroke-width="0.9"/>
<path d="M578,389.1 l -0.2,-4.1 -2,-3.6 -1.7,-3.6 -1.1,-3.9 -2.9,-1 -2.8,-1.3 -3.1,0.4 -3,-1.2 -3.1,3 1.1,3.4 0.7,3.6 -1.2,3.5 0.4,3.6 4.3,2.3 3.3,3.5 3.1,-0.4 3.1,-0.7 2.8,-1.3Z" fill="#2166ac" stroke="#2166ac" stroke-width="0.9"/>
<path d="M578,389.1 l -0.2,-4.1 -2,-3.6 -1.7,-3.6 -1.1,-3.9 3.4,-4 4.5,-2.9 4.5,-2.9 4.6,-2.5 2.2,2.6 2.3,2.7 2.1,2.8 1.4,3.3 -4.4,4 -3.5,4.7 -4.4,4 -3.5,4.7Z" fill="#2166ac" stroke="#2166ac" stroke-width="0.9"/>
<path d="M609.7,395 l 3.2,-2.4 2.6,-3.1 -3.4,-4.9 -0.8,-5.9 -3.3,-1.8 -3.8,-0.2 -3.2,-1.7 -3,-2 -4.4,4 -3.5,4.7 -4.4,4 -3.5,4.7 2.8,4.6 3.2,-0.5 3.1,0.7 3.2,-0.4 2.8,-1.7 3.2,-0.6 3.1,0.6 3.2,0.3Z" fill="#2166ac" stroke="#2166ac" stroke-width="0.9"/>
<path d="M541.5,373.8 l -2.2,2.8 1.9,4.3 2.3,4.1 1.9,4.4 -0.3,4.8 3.5,-1.7 3.8,-0.8 3.7,-1.2 3,-2.6 -0.4,-3.6 1.2,-3.5 -0.7,-3.6 -1.1,-3.4 -4.2,0 -4.1,0 -4.2,-0.7Z" fill="#4393c3" stroke="#4393c3" stroke-width="0.9"/>
<path d="M532.9,401.6 l 5,-1.5 5.1,-0.6 2.1,-5.3 0.3,-4.8 -1.9,-4.4 -2.3,-4.1 -1.9,-4.3 -3.7,-0.1 -3.3,1.4 -3.3,1.5 -3.6,0.4 -0.2,5.7 -2.2,5.2 2.9,2.5 3.3,1.8 2.7,2.9Z" fill="#4393c3" stroke="#4393c3" stroke-width="0.9"/>
<path d="M601.5,413.6 l -4.3,-2.1 -4.8,-0.9 -3.4,-3.3 -4,-2.6 -0.2,-4.8 0.2,-4.9 3.2,-0.5 3.1,0.7 3.2,-0.4 2.8,-1.7 3.2,-0.6 3.1,0.6 3.2,0.3 2.9,1.6 -1.8,4.8 -1.5,4.9 -1.6,4.9Z" fill="#2166ac" stroke="#2166ac" stroke-width="0.9"/>
<path d="M657.1,405.3 l -2.7,-4.5 -3.3,-4.1 -3.2,-4.2 -2.8,-4.4 -4.8,1.5 -4.6,1.9 -5.2,0 -4.5,2.5 -0.8,4.1 0.7,4.1 -0.1,4.2 -1.6,3.9 -0.4,4.2 1.7,3.9 2.1,3.6 1.6,3.8 3.4,2.3 1.9,3.5 2.4,-3.7 3.3,-2.8 2.5,-3.6 2.3,-3.8 2.3,-3.8 2.4,-3.7 4,-2Z" fill="#4393c3" stroke="#4393c3" stroke-width="0.9"/>
<path d="M663.2,406.7 l 3,-0.8 2.4,-2 2.5,-1.6 1.9,-2.4 1.2,-2.9 2.1,-2.2 2.2,-2.2 2.7,-1.4 2.7,1.4 2.8,1.3 2.5,1.8 2.3,1.9 1.7,2.5 1.3,2.7 1.9,2.3 1.4,2.7 -1.6,2.9 -2.6,2 -2.1,2.4 -1.2,3.1 -2.2,2.5 -0.9,3.2 -3.1,1.4 -2,2.7 -3.2,-2.8 -4.1,-1.1 -3.3,-4.1 -2.4,-4.7 -3.3,-4.1Z" fill="#92c5de" stroke="#92c5de" stroke-width="0.9"/>
<path d="M523.8,420 l 0.6,-5.3 2.8,-4.5 2.9,-4.3 2.8,-4.3 -1,-3.7 -2.7,-2.9 -3.3,-1.8 -2.9,-2.5 -5.7,0.9 -4.9,3.2 0.4,3.3 0.7,3.4 1.6,2.9 1.8,2.9 2.2,2.7 1.2,3.2 0.8,3.4 0,3.4Z" fill="#92c5de" stroke="#92c5de" stroke-width="0.9"/>
<path d="M520.6,420.1 l -4.3,-2.5 -2.7,-4.2 -4.8,-1.1 -4.6,-1.7 -4.2,-2.5 -2.8,-4 -1.6,-4.6 -2.7,-4 -4.1,1.9 -4.3,1.7 2,3.7 2.6,3.4 4.1,1.3 3.1,3.1 2.8,3 2.6,3.1 2.6,3.3 1.7,3.8 5.3,0.1 5.2,-1.3Z" fill="#2166ac" stroke="#2166ac" stroke-width="0.9"/>
<path d="M521.1,420 l 0,-3.4 -0.8,-3.4 -1.2,-3.2 -2.2,-2.7 -1.8,-2.9 -1.6,-2.9 -0.7,-3.4 -0.4,-3.3 -4,-1.5 -4.2,-0.6 -4.2,1 -4.3,-0.3 -2.8,2.1 2.7,4 1.6,4.6 2.8,4 4.2,2.5 4.6,1.7 4.8,1.1 2.7,4.2 4.3,2.5Z" fill="#4393c3" stroke="#4393c3" stroke-width="0.9"/>
<path d="M534.7,428.8 l 4.4,2 4.8,0 4.6,-1.2 4.7,-0.8 0.3,-5.3 -1.2,-5.1 -0.4,-5.3 -1,-5.1 -4,-4.2 -3.9,-4.3 -5.1,0.6 -5,1.5 -2.8,4.3 -2.9,4.3 -2.8,4.5 -0.6,5.3 3.2,1.5 3.3,1.5 2.8,2.4Z" fill="#d1e5f0" stroke="#d1e5f0" stroke-width="0.9"/>
<path d="M574.7,414 l -0.4,3.3 -0.9,3.2 -4.9,1.3 -4.6,2.2 -3.7,3.5 -3.9,3.2 -3.1,-1.9 0.3,-5.3 -1.2,-5.1 -0.4,-5.3 -1,-5.1 3.7,-1.7 3.3,-2.4 3.4,-2.2 4,-1 2.3,3.6 3.6,2.3 2,3.6Z" fill="#d1e5f0" stroke="#d1e5f0" stroke-width="0.9"/>
<path d="M566.7,393.7 l -3.3,-3.5 -4.3,-2.3 -3,2.6 -3.7,1.2 -3.8,0.8 -3.5,1.7 -2.1,5.3 3.9,4.3 4,4.2 3.7,-1.7 3.3,-2.4 3.4,-2.2 4,-1 1.4,-3.4Z" fill="#4393c3" stroke="#4393c3" stroke-width="0.9"/>
<path d="M585,404.7 l -2.6,2.5 -1.6,3.2 -3.1,1.8 -3,1.8 -1.5,-3.8 -2,-3.6 -3.6,-2.3 -2.3,-3.6 1.4,-3.4 0,-3.6 3.1,-0.4 3.1,-0.7 2.8,-1.3 2.3,-2.2 4.2,1.3 2.8,4.6 -0.2,4.9Z" fill="#4393c3" stroke="#4393c3" stroke-width="0.9"/>
<path d="M601.5,413.6 l -0.1,3.6 1.3,3.3 -1.7,3 -1.8,3 -3.1,1.5 -2.3,2.6 -5.1,-2.5 -5.2,-2.4 -4.5,-3.6 -5.6,-1.6 0.9,-3.2 0.4,-3.3 3,-1.8 3.1,-1.8 1.6,-3.2 2.6,-2.5 4,2.6 3.4,3.3 4.8,0.9Z" fill="#4393c3" stroke="#4393c3" stroke-width="0.9"/>
<path d="M601.5,413.6 l -0.1,3.6 1.3,3.3 2.7,2.2 3.3,1.3 3.4,0.9 3.4,0.6 3.4,0.3 3.5,-0.3 3.4,0.2 3.4,0.1 -1.6,-3.8 -2.1,-3.6 -1.7,-3.9 0.4,-4.2 1.6,-3.9 0.1,-4.2 -0.7,-4.1 0.8,-4.1 -5.5,-1.7 -5,-2.8 -2.6,3.1 -3.2,2.4 -1.8,4.8 -1.5,4.9 -1.6,4.9Z" fill="#4393c3" stroke="#4393c3" stroke-width="0.9"/>
<path d="M593.8,446.2 l 0,-4 1.5,-3.8 -0.3,-4 -1.2,-3.8 2.3,-2.6 3.1,-1.5 1.8,-3 1.7,-3 2.7,2.2 3.3,1.3 3.4,0.9 3.4,0.6 3.4,0.3 3.5,-0.3 3.4,0.2 3.4,0.1 3.4,2.3 1.9,3.5 0.8,3.1 0.8,3.1 -3.4,4.6 -4.5,3.6 -4.3,3.7 -4.7,3.4 -3.4,-0.7 -2.7,-2.2 -3.1,-1.5 -2.6,-2.3 -3.4,1 -3.4,-0.7 -3.5,-0.1Z" fill="#4393c3" stroke="#4393c3" stroke-width="0.9"/>
<path d="M491.9,436.6 l -3.5,-0.3 -3,-1.9 -1.9,-2.9 -3.1,-1.6 0,-3.9 -1.4,-3.7 -2.2,-3.2 -1.3,-3.7 -2.1,-3.2 -1.5,-3.6 -0.8,-3.8 -0.6,-3.8 3.6,0 3.4,-1.1 3.6,0.1 3.4,-0.9 2,3.7 2.6,3.4 4.1,1.3 3.1,3.1 2.8,3 2.6,3.1 2.6,3.3 1.7,3.8 -2.2,4.4 -4.1,2.9 -3.8,3Z" fill="#4393c3" stroke="#4393c3" stroke-width="0.9"/>
<path d="M510.8,451.2 l 0.3,-3.6 0.7,-3.6 1.3,-3.4 0.4,-3.7 1.9,-3.2 0.4,-3.8 -0.4,-3.7 1.1,-3.6 4.1,-2.5 0.5,-0.1 2.7,0 3.2,1.5 3.3,1.5 2.8,2.4 1.6,3.4 -1.2,2.8 -2.3,2.1 -0.8,3 -1.6,2.7 -1.5,2.7 -0.1,3.1 0.3,3.2 -1.3,2.8 -3.8,-0.6 -3.9,0.2 -3.9,-0.4Z" fill="#4393c3" stroke="#4393c3" stroke-width="0.9"/>
<path d="M526.2,451.2 l 2.9,3.4 3.4,2.9 2.1,-2.3 2.9,-1.2 3.1,0.1 2.9,-1.3 5.9,-0.4 5.9,-0.6 0,-4 1.1,-3.8 1.3,-3.7 0.1,-4 -1.5,-5.6 -3.1,-1.9 -4.7,0.8 -4.6,1.2 -4.8,0 -4.4,-2 -1.2,2.8 -2.3,2.1 -0.8,3 -1.6,2.7 -1.5,2.7 -0.1,3.1 0.3,3.2Z" fill="#4393c3" stroke="#4393c3" stroke-width="0.9"/>
<path d="M510.8,451.2 l -4.1,1.7 -3.4,-2.4 -3.2,-2.8 -3.6,-2.3 -2.4,-3.6 -2.2,-5.2 4,-2.5 3.8,-3 4.1,-2.9 2.2,-4.4 5.3,0.1 5.2,-1.3 -1.1,3.6 0.4,3.7 -0.4,3.8 -1.9,3.2 -0.4,3.7 -1.3,3.4 -0.7,3.6Z" fill="#4393c3" stroke="#4393c3" stroke-width="0.9"/>
<path d="M510.8,451.2 l -4.1,1.7 -1,3 -1.5,2.7 -0.1,3.1 -0.9,3 -0.2,5.2 1.7,4.9 2.1,4.7 2.8,4.3 5.6,-1.8 5.8,0 5.8,0.3 5.7,1.5 -1.5,-3.2 -0.1,-3.4 -1.3,-3.2 -0.3,-3.4 0,-3.5 -0.1,-3.5 1.2,-3.3 2.1,-2.8 -3.4,-2.9 -2.9,-3.4 -3.8,-0.6 -3.9,0.2 -3.9,-0.4Z" fill="#4393c3" stroke="#4393c3" stroke-width="0.9"/>
<path d="M593.8,446.2 l 0,-4 1.5,-3.8 -0.3,-4 -1.2,-3.8 -5.1,-2.5 -5.2,-2.4 -4.5,-3.6 -5.6,-1.6 -4.9,1.3 -4.6,2.2 -3.7,3.5 -3.9,3.2 1.5,5.6 4.1,1.8 4.6,0.6 4.5,0.2 4.4,0.7 3.4,3.2 4.5,1.2 4.4,1.3 3.4,3.2Z" fill="#92c5de" stroke="#92c5de" stroke-width="0.9"/>
<path d="M546.4,493 l -3.5,-2.4 -4.1,-1.3 -3.3,-2.6 -3,-2.9 -1.5,-3.2 -0.1,-3.4 -1.3,-3.2 -0.3,-3.4 0,-3.5 -0.1,-3.5 1.2,-3.3 2.1,-2.8 2.1,-2.3 2.9,-1.2 3.1,0.1 2.9,-1.3 5.9,-0.4 5.9,-0.6 1.5,5.2 3.7,4 -0.7,4.5 -2.2,3.8 -2,4 -0.5,4.5 -2.6,3.6 -1.1,4.3 -2.1,4Z" fill="#92c5de" stroke="#92c5de" stroke-width="0.9"/>
<path d="M674.8,424.1 l 4.1,1.1 3.2,2.8 1.6,2.8 0.7,3.1 1.4,2.9 0.2,3.2 -3.5,2.1 -3,2.8 -5,-1.6 -4.2,-3.3 -5,-2.1 -5.4,0.1 -5.2,-0.7 -5.2,0.9 -5.2,0.2 -5.1,1.2 -0.4,-0.4 4.2,-2.8 4.6,-2 3.2,-4 4.4,-2.6 5.1,0.7 5.1,-0.2 5,-1.5Z" fill="#4393c3" stroke="#4393c3" stroke-width="0.9"/>
<path d="M663.2,406.7 l 2.6,4.5 3.3,4.1 2.4,4.7 3.3,4.1 -4.4,2.7 -5,1.5 -5.1,0.2 -5.1,-0.7 -4.4,2.6 -3.2,4 -4.6,2 -4.2,2.8 -2.7,-1.4 -0.8,-3.1 -0.8,-3.1 2.4,-3.7 3.3,-2.8 2.5,-3.6 2.3,-3.8 2.3,-3.8 2.4,-3.7 4,-2 3.4,-2.9 2.9,1.2Z" fill="#4393c3" stroke="#4393c3" stroke-width="0.9"/>
<path d="M727.9,423.8 l -2.5,-4.9 -0.2,-5.5 -3.9,-3.8 -2.4,-4.8 -5.4,0.1 -5.4,-0.2 -4.8,2.7 -5.5,0.4 -1.6,2.9 -2.6,2 -2.1,2.4 -1.2,3.1 -2.2,2.5 -0.9,3.2 -3.1,1.4 -2,2.7 1.6,2.8 0.7,3.1 1.4,2.9 0.2,3.2 3,1.7 2.9,1.8 3.4,0.9 2.8,2.2 1.5,0.3 3.8,-0.9 3.3,-2.1 3.8,-0.8 3.9,-0.5 2.8,-2.6 3.4,-1.9 3.2,-2.2 3.1,-2.3 1.5,-4.8Z" fill="#4393c3" stroke="#4393c3" stroke-width="0.9"/>
<path d="M485.9,495.8 l -3.2,-2.8 -2.3,-3.7 -3.5,-2.6 -2.4,-3.5 -2.8,-3.3 -2.5,-3.6 -2,-3.9 -0.7,-4.3 0.4,-0.7 2.4,-0.9 4.3,1.2 4.4,-0.9 4.2,1.1 4.3,1 4.4,-1 4.4,0.8 4.5,-1 3.4,-3 -0.2,5.2 1.7,4.9 2.1,4.7 2.8,4.3 -2.5,2.5 -3,1.9 -2.5,2.6 -1.5,3.2 -3.3,1.5 -3.6,0.4 -3.6,0Z" fill="#92c5de" stroke="#92c5de" stroke-width="0.9"/>
<path d="M520.3,527.5 l 3,-4.5 4.2,-3.5 4.5,-2.9 4.2,-3.3 2.5,-4.8 3.3,-4.2 1.9,-5.1 3.8,-3.9 2.8,1.4 2.8,1.2 3,1.5 2.1,2.7 2.3,2.5 0.9,3.2 1.6,3 0.4,3.3 0.9,3.2 2.2,2.5 -0.3,3.5 0.4,3.5 -0.9,3.4 -1.4,3.2 -4.7,3.7 -3.3,5 -4.7,3.6 -5.4,2.5 -2.6,-0.2 -1.5,-3.8 -3,-2.7 -2.4,-3.3 -3.3,-2.3 -3.9,-1.2 -3,-2.7 -3,-2.5Z" fill="#2166ac" stroke="#2166ac" stroke-width="0.9"/>
<path d="M491.7,544.3 l 2.4,-3.1 2.3,-3 3.8,-1.5 2.6,-3 3.4,-1.9 3.9,-0.6 3.3,-2 3.5,-1.7 -0.9,-4.8 -1.7,-4.5 -0.7,-4.8 -0.9,-4.7 -2.2,-4.4 -2.6,-4.2 -4.4,-2.4 -3.4,-3.7 -3.3,1.5 -3.6,0.4 -3.6,0 -3.7,-0.1 -1.8,2.8 -0.8,3.2 -2,2.7 -1.6,2.9 -1.5,3 -2.7,2.1 -2.3,2.4 -2.8,1.7 2.1,3.9 2.7,3.4 1.6,4.2 2.8,3.5 3.4,2.9 3.9,2.2 3.3,3.2Z" fill="#4393c3" stroke="#4393c3" stroke-width="0.9"/>
<path d="M491.7,544.3 l 2.4,-3.1 2.3,-3 3.8,-1.5 2.6,-3 3.4,-1.9 3.9,-0.6 3.3,-2 3.5,-1.7 3.4,0 3.4,2 3,2.5 3,2.7 3.9,1.2 3.3,2.3 2.4,3.3 3,2.7 1.5,3.8 -2.2,2.4 -1.8,2.8 -2.3,2.3 -2.4,2.2 -2.7,1.9 -2.5,2.2 -1.6,2.8 -2.4,2.4 -4.8,-1.7 -5.1,-0.7 -4.8,-1.9 -3.6,-3.7 -4.1,-3 -4.9,-1.4 -4.5,-2.5 -3.3,-4Z" fill="#4393c3" stroke="#4393c3" stroke-width="0.9"/>
<path d="M516.9,527.5 l -0.9,-4.8 -1.7,-4.5 -0.7,-4.8 -0.9,-4.7 -2.2,-4.4 -2.6,-4.2 -4.4,-2.4 -3.4,-3.7 1.5,-3.2 2.5,-2.6 3,-1.9 2.5,-2.5 5.6,-1.8 5.8,0 5.8,0.3 5.7,1.5 3,2.9 3.3,2.6 4.1,1.3 3.5,2.4 1.3,2.3 -3.8,3.9 -1.9,5.1 -3.3,4.2 -2.5,4.8 -4.2,3.3 -4.5,2.9 -4.2,3.5 -3,4.5Z" fill="#4393c3" stroke="#4393c3" stroke-width="0.9"/>
<path d="M791.6,445 l 0.5,4.2 2.4,3.6 3.3,3 1,4.3 2.3,3.8 3.2,-1.7 3.3,-1.6 3.7,0.2 3.5,-1.1 3.4,1.1 3.7,0 3.6,-0.3 3.4,1.5 3.5,1 3.4,0.9 2.7,2.4 2.9,2.1 3.2,1.4 3.1,1.8 3.6,-0.1 3.3,1.4 1.6,-1.7 1.4,-2.7 1.9,-2.6 2.2,-2.2 3,-1.2 2,-2.4 1.6,-2.6 2.6,-1.6 2.7,-1.7 2.2,-2.2 1.2,-2.9 1.2,-2.9 0.8,-3 -0.9,-3.1 0.2,-3.2 1.1,-3 1,-2.9 -5.8,0.1 -5.1,2.7 -5.4,1.5 -5.6,0.7 -5.6,1.1 -5.3,1.9 -5,2.7 -5.3,2 -5.1,-2.5 -5.8,-0.2 -5.6,-0.4 -5.7,-0.4 -5.5,-1.7 -5.7,1 -5.8,0.1 -5.2,-2.4 -1.4,3.8Z" fill="#4393c3" stroke="#4393c3" stroke-width="0.9"/>
<path d="M846,494 l 1.5,-1.5 2.4,-4.7 2.1,-4.8 1.2,-5.1 1.4,-5 -3.3,-1.4 -3.6,0.1 -3.1,-1.8 -3.2,-1.4 -2.9,-2.1 -2.7,-2.4 -3.4,-0.9 -3.5,-1 -3.4,-1.5 -3.6,0.3 -3.7,0 -3.4,-1.1 -3.5,1.1 -3.7,-0.2 -3.3,1.6 -3.2,1.7 -2.2,3.9 -1.2,4.3 -0.5,4.4 0.6,4.5 1.7,4.1 0.9,4.4 0.1,4.5 -1.6,4.3 3.1,0.6 3.2,0.4 2.6,1.7 2.8,1.4 3,-1.1 3.1,-0.7 3.1,0.9 3.2,0.2 3,-0.7 2.7,-1.5 3,-0.7 3.1,-0.1 2.8,-1.2 2.8,-1 3.1,-0.6Z" fill="#2166ac" stroke="#2166ac" stroke-width="0.9"/>
<path d="M836.6,527 l -2.3,-2 -2.3,-2 -2.2,-2.1 -2.9,-1.1 -3.1,-0.3 -2.8,-1.2 -3,-0.5 -2.7,-1.5 -2.7,-1.3 -3,-0.8 -2.7,-1.3 -2.4,-1.9 -2.8,-1.4 -1.9,-2.4 -1.8,-2.5 -2.1,-2.1 3,-4.3 3.1,0.6 3.2,0.4 2.6,1.7 2.8,1.4 3,-1.1 3.1,-0.7 3.1,0.9 3.2,0.2 3,-0.7 2.7,-1.5 3,-0.7 3.1,-0.1 2.8,-1.2 2.8,-1 3.1,-0.6 2.5,-1.9 -1.8,4.1 -0.8,4.4 -2.1,4 -3.2,3.1 1,4.3 -0.9,4.4 -0.4,4.4Z" fill="#2166ac" stroke="#2166ac" stroke-width="0.9"/>
<path d="M836.6,527 l 0.1,1.3 -3.9,0.8 -3.1,2.5 -4,0.4 -3.4,2.1 -3.7,-3.4 -4.7,-1.6 -4.6,-1.8 -4.7,-1.6 -4.6,-1.8 -5,-0.3 -4.9,1.1 -4.9,-1.3 1.1,-4.2 2.9,-3.3 1.1,-4.1 -0.3,-4.4 2.6,-2.8 3.3,-2 2.1,2.1 1.8,2.5 1.9,2.4 2.8,1.4 2.4,1.9 2.7,1.3 3,0.8 2.7,1.3 2.7,1.5 3,0.5 2.8,1.2 3.1,0.3 2.9,1.1 2.2,2.1 2.3,2Z" fill="#2166ac" stroke="#2166ac" stroke-width="0.9"/>
<path d="M822.3,534.1 l -2.1,2.5 -2,2.7 -0.5,3.3 -1.9,2.9 -1.8,2.7 -1.1,3.1 -0.4,3.4 -1.9,2.8 5.6,1 5,2.6 4.7,3.2 4.1,3.8 3.4,-4.2 4.7,-2.7 4.9,-1.9 4.3,-3.2 -0.8,-4.9 -1.2,-4.8 -0.4,-5 -1.2,-4.8 -3,-4.6 -4,-3.7 -3.9,0.8 -3.1,2.5 -4,0.4Z" fill="#4393c3" stroke="#4393c3" stroke-width="0.9"/>
<path d="M854.6,472.9 l -1.4,5 -1.2,5.1 -2.1,4.8 -2.4,4.7 2.4,5.1 3.5,4.3 4.2,3.7 3.6,4.2 4.1,3.7 4.1,3.8 5.2,2.1 3.9,4.1 3.5,0.4 3.2,1.4 2.4,-4 1,-4.6 3.6,-2.9 3.4,-3.2 -2.8,-2.3 -2.1,-2.9 -2.5,-2.8 -1.1,-3.5 -2.9,-2.2 -3.3,-1.3 -3.1,-1.9 -3.4,-1.3 -2.5,-2.5 -1.4,-3.3 -3.1,-1.9 -2.5,-2.4 -1.3,-3.4 -2.6,-2.5 -2.2,-2.7 -2.6,-2.5Z" fill="#4393c3" stroke="#4393c3" stroke-width="0.9"/>
<path d="M843.7,536.6 l 1.2,4.8 0.4,5 1.2,4.8 0.8,4.9 4.9,1.9 5,1.3 4.9,1.9 4.1,3.2 3.2,-0.6 3.2,-0.1 2.9,-1.3 3,-1 2.6,-1.8 2.9,-1.4 1.7,-2.8 2.5,-2 2,-4.3 0.3,-4.7 -1.9,-4.6 -1,-4.9 -1.3,-4.8 -1.1,-4.8 -3.2,-1.4 -3.5,-0.4 -4.4,2 -4.7,1.3 -4.9,0.9 -4.8,-1.3 -3.9,2.7 -3.9,2.8 -4.5,1.6Z" fill="#4393c3" stroke="#4393c3" stroke-width="0.9"/>
<path d="M856.2,471.2 l 2.6,2.5 2.2,2.7 2.6,2.5 1.3,3.4 2.5,2.4 3.1,1.9 1.4,3.3 2.5,2.5 3.4,1.3 3.1,1.9 3.3,1.3 2.9,2.2 1.1,3.5 2.5,2.8 2.1,2.9 2.8,2.3 3.2,-2.1 3,-2.4 3.4,-1.8 3.6,-1.5 1.3,-3 0.2,-3.1 -0.7,-3.2 0.4,-3.1 -0.1,-3.2 -1,-3 -1,-2.9 -1.1,-3 2.1,-2.4 1.3,-3 1.1,-3 -0.1,-3.3 0.7,-3.1 -0.5,-3.1 -1,-3.1 0.2,-3.1 0.4,-3.1 1,-2.9 -0.3,-3.2 1,-3 0.6,-3 -0.5,-3.1 -0.6,-3 0.1,-3.1 -2,-2.6 -0.7,-3.1 -0.2,-3.1 -0.7,-3.1 1.3,-2.9 0.3,-3.3 -1,-3 -0.5,-3.1 -3.9,3.1 -2.6,4.2 -4.4,2.3 -4.6,1.6 -2.6,4.2 -2,4.5 -3.6,3.5 -4.7,2 -1,2.9 -1.1,3 -0.2,3.2 0.9,3.1 -0.8,3 -1.2,2.9 -1.2,2.9 -2.2,2.2 -2.7,1.7 -2.6,1.6 -1.6,2.6 -2,2.4 -3,1.2 -2.2,2.2 -1.9,2.6Z" fill="#4393c3" stroke="#4393c3" stroke-width="0.9"/>
<path d="M836.6,527 l 0.1,1.3 4,3.7 3,4.6 3.7,-3.1 4.5,-1.6 3.9,-2.8 3.9,-2.7 4.8,1.3 4.9,-0.9 4.7,-1.3 4.4,-2 -3.9,-4.1 -5.2,-2.1 -4.1,-3.8 -4.1,-3.7 -3.6,-4.2 -4.2,-3.7 -3.5,-4.3 -2.4,-5.1 -1.5,1.5 -1.8,4.1 -0.8,4.4 -2.1,4 -3.2,3.1 1,4.3 -0.9,4.4 -0.4,4.4Z" fill="#4393c3" stroke="#4393c3" stroke-width="0.9"/>
<path d="M908.8,405.6 l 2,-2.7 2.8,-1.9 2.9,-1.7 2.2,-2.5 1.9,-2.8 1.3,-3 2.2,-2.5 1.8,-2.9 3.2,-1.4 2.4,-2.7 1,-3.3 2.1,-2.9 0.4,-3.3 1.4,-3.1 0.7,-3.3 0.8,-3.3 3,-0.2 3,-0.5 2.5,-1.7 2.5,-1.7 3.3,-4.9 4.6,-3.8 2.6,-5.1 2.9,-5 3.7,-4.5 5,-3.1 -0.6,5.4 -1.1,5.3 -0.4,5.4 -0.4,5.4 1.2,5.3 -0.4,5.5 -0.1,5.5 1.9,5.1 -2.8,5.1 -0.2,5.7 0.7,5.6 -0.2,5.6 2.1,5.5 -0.5,5.9 3.5,4.5 3.3,4.6 -1.9,5.2 -0.9,5.4 -0.2,5.5 -0.5,5.5 0.1,5.5 -1.5,5.3 -1.4,5.3 -1.8,5.2 -2.3,5.1 -0.9,5.5 -3.2,4.5 -3.2,4.6 -2.6,4.9 -4,3.9 -4,3.8 -3.1,4.5 -2.9,5.3 -4.1,4.3 -4.9,3.4 -4.7,3.6 -4,-4.4 -5.6,-2 -5,-2.9 -5.6,-1.4 1.3,-3 0.2,-3.1 -0.7,-3.2 0.4,-3.1 -0.1,-3.2 -1,-3 -1,-2.9 -1.1,-3 2.1,-2.4 1.3,-3 1.1,-3 -0.1,-3.3 0.7,-3.1 -0.5,-3.1 -1,-3.1 0.2,-3.1 0.4,-3.1 1,-2.9 -0.3,-3.2 1,-3 0.6,-3 -0.5,-3.1 -0.6,-3 0.1,-3.1 -2,-2.6 -0.7,-3.1 -0.2,-3.1 -0.7,-3.1 1.3,-2.9 0.3,-3.3 -1,-3Z" fill="#92c5de" stroke="#92c5de" stroke-width="0.9"/>
<path d="M970.2,507.8 l 323,-484.4 -206.4,177.5 -1,2.9 -1.8,2.5 -2.1,2.1 -1.9,2.4 -5.4,2.5 -5.2,2.9 -2.6,5.4 -4.7,3.7 -1.6,2.6 -2.1,2.2 0.1,3 -1.2,2.9 -1.9,5.6 -1.9,5.6 -2.2,2.1 -2.3,1.9 -1.9,2.4 -0.9,3 -0.2,3 -0.1,3 -1,3 -1.8,2.4 1.4,2.8 0,3.1 -0.2,3 -0.2,3 -2.7,5.2 -2.5,5.3 -3.9,4.5 -5.1,3 -2.4,2 -2,2.3 -1.4,2.7 -0.5,3.1 -5.5,2.4 -4.9,3.4 -3,-0.1 -2.9,1 -2.9,0.9 -2.7,1.4 -1.6,2.6 -1.9,2.3 -2.3,2 -2.8,1.4 -5.7,1.4 -5,3.1 -5.9,-0.3 -5.5,2.3 -0.6,5.4 -1.1,5.3 -0.4,5.4 -0.4,5.4 1.2,5.3 -0.4,5.5 -0.1,5.5 1.9,5.1 -2.8,5.1 -0.2,5.7 0.7,5.6 -0.2,5.6 2.1,5.5 -0.5,5.9 3.5,4.5 3.3,4.6 -1.9,5.2 -0.9,5.4 -0.2,5.5 -0.5,5.5 0.1,5.5 -1.5,5.3 -1.4,5.3 -1.8,5.2 -2.3,5.1 -0.9,5.5 -3.2,4.5 -3.2,4.6 -2.6,4.9 -4,3.9 -4,3.8 -3.1,4.5 4.9,2.8 3.6,4.3 5.7,0.6 4.7,3.2Z" fill="#92c5de" stroke="#92c5de" stroke-width="0.9"/>
<path d="M992.5,521.6 l 897.7,-1026 -307.2,266.3 -289.8,261.5 -323,484.4 2.7,4 1.4,4.6 4.6,1.2 4.4,1.8 4.9,-0.1Z" fill="#92c5de" stroke="#92c5de" stroke-width="0.9"/>
<path d="M895.6,510.6 l -3.4,3.2 -3.6,2.9 -1,4.6 -2.4,4 1.1,4.8 1.3,4.8 1,4.9 1.9,4.6 4.8,-1.7 3.6,-3.7 4.9,-0.9 4.9,-0.7 5.1,0.3 4.7,-2.1 4.9,0.7 4.9,0.5 0.7,-4.2 0.1,-4.2 1.9,-3.9 0.3,-4.3 -1.1,-3.3 -1.2,-3.4 -4,-4.4 -5.6,-2 -5,-2.9 -5.6,-1.4 -3.6,1.5 -3.4,1.8 -3,2.4Z" fill="#92c5de" stroke="#92c5de" stroke-width="0.9"/>
<path d="M921.7,578.8 l -3.8,-1.6 -4,-0.6 -3.4,-2.1 -3.9,-1.1 -2.4,-2.6 -2.5,-2.5 -3,-2 -3.4,-1 -1.7,-3 -1.5,-3.1 -1.3,-3.3 -2.6,-2.5 2,-4.3 0.3,-4.7 4.8,-1.7 3.6,-3.7 4.9,-0.9 4.9,-0.7 5.1,0.3 4.7,-2.1 4.9,0.7 4.9,0.5 1.2,3 1.6,2.9 1.3,2.9 2,2.6 -1.1,4.1 -0.1,4.3 -1.5,4.1 -3.2,3 -1.4,3.9 -1.9,3.7 -2.1,3.6Z" fill="#92c5de" stroke="#92c5de" stroke-width="0.9"/>
<path d="M964.5,507.8 l -4.7,-3.2 -5.7,-0.6 -3.6,-4.3 -4.9,-2.8 -2.9,5.3 -4.1,4.3 -4.9,3.4 -4.7,3.6 1.2,3.4 1.1,3.3 5.2,0.8 4.8,2.1 5.2,0.7 5.2,-0.1 3.6,-3.7 3.6,-3.6 2,-4.9Z" fill="#92c5de" stroke="#92c5de" stroke-width="0.9"/>
<path d="M990.3,537.5 l -5.3,-2.9 -5.9,-0.3 -4.7,-3.6 -4.2,-4 2.7,-4.9 1.4,-5.4 4.6,1.2 4.4,1.8 4.9,-0.1 4.3,2.3 -0.4,4.1 -1.6,3.9 1.2,3.9 0.8,4Z" fill="#92c5de" stroke="#92c5de" stroke-width="0.9"/>
<path d="M970.1,526.8 l -3.7,0.8 -3.9,0.3 -3.9,0.1 -3.7,-1.2 0,3.3 1.5,3 -0.9,3.2 0.8,3.3 3,1.3 3.2,0.3 2.9,-1.6 3.3,0 -0.8,-3.2 0,-3.4 1.8,-2.9Z" fill="#4393c3" stroke="#4393c3" stroke-width="0.9"/>
<path d="M992.5,537.5 l 2.7,4.7 4,3.6 1075.6,215.2 1170.1,136.8 -10,-1616.4 -529,-506.7 -815.7,720.9 -897.7,1026 -0.4,4.1 -1.6,3.9 1.2,3.9Z" fill="#2166ac" stroke="#2166ac" stroke-width="0.9"/>
<path d="M971.2,568.8 l -4.3,0.3 -4.4,-0.3 -1.6,-4 -3.1,-2.9 -3.2,-2.7 -2.5,-3.4 -4.3,-0.1 -3.7,-2.2 -3.1,-2.9 -3.7,-2 4.2,-1.1 4.4,-0.1 3.2,-3.1 4.3,-1.3 2.6,2.2 1.7,2.9 2.8,1.8 2.9,1.7 1.9,2.9 2.6,2.1 0.5,3.4 1.7,3Z" fill="#92c5de" stroke="#92c5de" stroke-width="0.9"/>
<path d="M990.3,537.5 l -4,3.2 -4.8,1.5 -5.1,-0.9 -4.9,1.6 -0.2,5 -0.2,5.1 0.3,5.1 -1.3,4.9 1.1,5.8 3,2 3.9,-2.3 3.1,-3.3 2.4,-3.7 3.9,-2.4 2.2,-4 2.1,-4 3.4,-3 4,-2.3 -4,-3.6 -2.7,-4.7Z" fill="#92c5de" stroke="#92c5de" stroke-width="0.9"/>
<path d="M922.5,580 l 4.4,-0.3 4.3,0.8 4.5,0.9 4.3,-1.4 3.3,0.4 3.3,-0.6 2.9,-1.5 3.1,-1.1 2.2,-2.5 2.1,-2.6 2.5,-2.1 3.1,-1.2 -1.6,-4 -3.1,-2.9 -3.2,-2.7 -2.5,-3.4 -4.3,-0.1 -3.7,-2.2 -3.1,-2.9 -3.7,-2 -2.9,-0.4 -1.1,4.1 -0.1,4.3 -1.5,4.1 -3.2,3 -1.4,3.9 -1.9,3.7 -2.1,3.6 -1.4,3.9Z" fill="#92c5de" stroke="#92c5de" stroke-width="0.9"/>
<path d="M1216.2,658.8 l -237.9,-79.4 -2.2,-4.2 -1.9,-4.4 3.9,-2.3 3.1,-3.3 2.4,-3.7 3.9,-2.4 2.2,-4 2.1,-4 3.4,-3 4,-2.3 1075.6,215.2 -758.7,-75.4 -3.5,-0.1 -3.1,-1.6 -3,-1.7 -3.3,-1 -2.8,-2.1 -3.4,-1 -3.5,0.4 -3.3,-1.1 -3.4,0.8 -3.1,1.6 -3.3,1.1 -3.4,-0.1 -3.5,-0.7 -3.3,1.1 -3.5,0.1 -3.3,1 -3.5,0.4 -3.4,1 -3.5,-0.8 -3.5,-0.5 -3.2,-1.4 -3.1,-1.6 -3.3,-1.3 -3.1,-1.5 -1.7,-3.1 -2.8,-2.1 -2.4,-2.5 -2.8,-1.8 -1.9,-3 -2.9,-2 -2.7,-2.2Z" fill="#4393c3" stroke="#4393c3" stroke-width="0.9"/>
<path d="M960.6,600.6 l -2.4,-2.8 -3.1,-2 -3.4,-1.6 -2.5,-2.7 -2.3,-3.2 -0.9,-3.7 -3.2,-2 -2.8,-2.6 -4.3,1.4 -4.5,-0.9 -4.3,-0.8 -4.4,0.3 1.8,5.3 0.7,5.5 -1.4,5.4 -1.1,5.5 3.2,1.6 2.8,2.2 2.6,2.4 2.3,2.8 5,0.4 2.2,-2.2 2.4,-2.1 3.3,-0.2 2.7,-1.8 3.2,-0.1 2.8,-1.5 3,-0.9Z" fill="#d1e5f0" stroke="#d1e5f0" stroke-width="0.9"/>
<path d="M960.6,600.6 l -2.4,-2.8 -3.1,-2 -3.4,-1.6 -2.5,-2.7 -2.3,-3.2 -0.9,-3.7 -3.2,-2 -2.8,-2.6 3.3,0.4 3.3,-0.6 2.9,-1.5 3.1,-1.1 2.2,-2.5 2.1,-2.6 2.5,-2.1 3.1,-1.2 4.4,0.3 4.3,-0.3 3,2 1.9,4.4 2.2,4.2 -2.8,1.6 -2.4,2.2 -1.1,3 -1.7,2.8 -0.5,3 -0.9,3.1 -0.8,3.1 -2.1,2.4Z" fill="#d1e5f0" stroke="#d1e5f0" stroke-width="0.9"/>
<path d="M966,600.6 l 2.1,-2.4 0.8,-3.1 0.9,-3.1 0.5,-3 1.7,-2.8 1.1,-3 2.4,-2.2 2.8,-1.6 237.9,79.4 -240.7,-43.8 -4.2,-2.7 -1.2,-3.1 -2.3,-2.4 -0.2,-3.3Z" fill="#92c5de" stroke="#92c5de" stroke-width="0.9"/>
<path d="M974.5,652.6 l 2.5,2 2.4,2 0.8,3.2 1.7,2.7 2.5,1.8 2.4,2 2,2.3 2.3,2.1 3,1 2.4,2 2.4,2.1 3,1 2.8,1.5 2.2,2.3 2.3,2.1 1.4,2.9 305.5,0 -3.5,-0.1 -3.1,-1.6 -3,-1.7 -3.3,-1 -2.8,-2.1 -3.4,-1 -3.5,0.4 -3.3,-1.1 -3.4,0.8 -3.1,1.6 -3.3,1.1 -3.4,-0.1 -3.5,-0.7 -3.3,1.1 -3.5,0.1 -3.3,1 -3.5,0.4 -3.4,1 -3.5,-0.8 -3.5,-0.5 -3.2,-1.4 -3.1,-1.6 -3.3,-1.3 -3.1,-1.5 -1.7,-3.1 -2.8,-2.1 -2.4,-2.5 -2.8,-1.8 -1.9,-3 -2.9,-2 -2.7,-2.2 -3.4,-1.1 -240.7,-43.8 -1.7,3.7 0.1,4.1 -0.5,4 -0.8,3.9 -1.3,3.9 -0.6,4.1 -0.2,4.2 1.7,3.8 1.8,2.7Z" fill="#92c5de" stroke="#92c5de" stroke-width="0.9"/>
<path d="M922.5,580 l 1.8,5.3 0.7,5.5 -1.4,5.4 -1.1,5.5 -4.1,3.1 -5,1.1 -4.1,3 -3.3,3.8 -3.5,-1.1 -3.7,-0.3 -2.9,-2.4 -3.7,-0.7 -3,-2.1 -2.9,-2.2 -1.7,-3.3 -2.4,-2.8 4,-1.8 3.4,-2.8 2.6,-3.6 3.4,-2.8 1.4,-4.3 3.2,-3.1 3.5,-2.7 2.9,-3.3 3.9,1.1 3.4,2.1 4,0.6 3.8,1.6Z" fill="#d1e5f0" stroke="#d1e5f0" stroke-width="0.9"/>
<path d="M872.5,632.5 l -0.1,-3.2 0.3,-3.2 0.1,-3.2 0.6,-3.2 -0.5,-3.2 -0.1,-3.2 -1.9,-2.8 -0.3,-3.3 1.1,-4.6 2,-4.2 4.2,-0.7 4.3,0.1 2.4,2.8 1.7,3.3 2.9,2.2 3,2.1 3.7,0.7 2.9,2.4 3.7,0.3 3.5,1.1 0.7,4.8 -1.4,4.6 -1.3,4.7 -3.4,3.5 -3.2,1.9 -3.6,0.5 -3.6,-0.1 -3.6,-0.2 -3.4,-1.2 -3.7,-0.5 -3.4,1.3Z" fill="#d1e5f0" stroke="#d1e5f0" stroke-width="0.9"/>
<path d="M906.6,573.4 l -2.4,-2.6 -2.5,-2.5 -3,-2 -3.4,-1 -1.7,-3 -1.5,-3.1 -1.3,-3.3 -2.6,-2.5 -2.5,2 -1.7,2.8 -2.9,1.4 -2.6,1.8 -3,1 -2.9,1.3 -3.2,0.1 -3.2,0.6 -0.3,6 2,5.6 -1.8,5.7 0.1,5.9 2.3,2.4 2,2.6 1.3,3.1 1.9,2.7 4.2,-0.7 4.3,0.1 4,-1.8 3.4,-2.8 2.6,-3.6 3.4,-2.8 1.4,-4.3 3.2,-3.1 3.5,-2.7Z" fill="#2166ac" stroke="#2166ac" stroke-width="0.9"/>
<path d="M840,593.5 l 3.5,0.4 3.2,-1.2 3.1,-1.4 3.4,-0.4 2.9,-1.9 3.4,-0.5 3.5,0.3 3.2,-1.2 -0.1,-5.9 1.8,-5.7 -2,-5.6 0.3,-6 -4.1,-3.2 -4.9,-1.9 -5,-1.3 -4.9,-1.9 -4.3,3.2 -4.9,1.9 -4.7,2.7 -3.4,4.2 0.9,4 -0.6,4.2 -1.8,3.7 -0.6,4.1 2.5,4.3 3.7,3.3 2.9,1.1Z" fill="#d1e5f0" stroke="#d1e5f0" stroke-width="0.9"/>
<path d="M929.9,636.4 l 1.3,-3.1 1.5,-2.9 -0.1,-3.4 0.5,-3.3 0.2,-3.4 1.6,-3 -0.2,-3.4 -1.3,-3.2 -2.3,-2.8 -2.6,-2.4 -2.8,-2.2 -3.2,-1.6 -4.1,3.1 -5,1.1 -4.1,3 -3.3,3.8 0.7,4.8 -1.4,4.6 -1.3,4.7 -3.4,3.5 1.6,2.7 2.4,1.9 1.2,2.8 2,2.3 5.4,0.2 4.8,-2.3 5.1,0.7 5,1.4Z" fill="#92c5de" stroke="#92c5de" stroke-width="0.9"/>
<path d="M947.4,649.2 l -5.1,2.1 -5.3,1.4 -2.6,-3 -1.6,-3.5 -3,-2.6 -1.7,-3.6 1.8,-3.6 5.1,0.9 5,-1 3.9,-3.2 4.9,-1.7 2.4,2.6 -1.6,3.7 -2.1,3.4 -0.5,4.1Z" fill="#92c5de" stroke="#92c5de" stroke-width="0.9"/>
<path d="M951.2,634 l -2.4,-2.6 0.8,-4.6 -0.8,-4.7 3.3,0.1 3.2,0.9 3.2,-0.7 3.4,-0.3 -0.5,6 -0.2,5.9 -5,1Z" fill="#4393c3" stroke="#4393c3" stroke-width="0.9"/>
<path d="M974.5,652.6 l 2.5,2 2.4,2 0.8,3.2 1.7,2.7 2.5,1.8 2.4,2 2,2.3 2.3,2.1 3,1 2.4,2 2.4,2.1 3,1 2.8,1.5 2.2,2.3 2.3,2.1 1.4,2.9 -3,1.5 -3,1.2 -3.3,0.2 -3.2,1 -2,2.7 -2.8,1.8 -2.7,1.9 -3.2,1.1 -3.1,0.8 -3,1.3 -3.2,0.6 -3.2,0.6 -3.3,0.6 -3.2,-1 -3.3,0.8 -3,1.3 -3.6,-2.4 -2.7,-3.4 -4.4,-0.6 -3.6,-2.6 -1.1,-2.9 -1.2,-2.8 -1.8,-2.5 -2.6,-1.7 -1.7,-2.5 -1,-2.9 -2.3,-2 -2.3,-1.9 -0.9,-5.4 0.7,-5.5 1.5,-5.2 1.9,-5 5.3,-1.4 5.1,-2.1 3.3,-1.3 3.5,-0.8 3.6,0.5 3.5,0.6 3,1.9 3.1,1.8 3.7,-0.4Z" fill="#92c5de" stroke="#92c5de" stroke-width="0.9"/>
<path d="M928.1,640 l -5,-1.4 -5.1,-0.7 -4.8,2.3 -5.4,-0.2 -0.7,3.3 0,3.3 -1.3,3.1 -1.2,3.1 3.4,3.6 1.8,4.5 2.1,4.5 -0.3,4.9 5.8,1.1 5.6,-1.6 5.4,2 5.4,2 -0.9,-5.4 0.7,-5.5 1.5,-5.2 1.9,-5 -2.6,-3 -1.6,-3.5 -3,-2.6Z" fill="#d1e5f0" stroke="#d1e5f0" stroke-width="0.9"/>
<path d="M869.8,662.2 l 1,0.3 4.6,-0.7 4.4,1.3 4.5,-1.1 4,-2.1 4.6,-0.4 4.2,-1.8 3.3,-3.1 4.2,-1.8 1.2,-3.1 1.3,-3.1 0,-3.3 0.7,-3.3 -2,-2.3 -1.2,-2.8 -2.4,-1.9 -1.6,-2.7 -3.2,1.9 -3.6,0.5 -3.6,-0.1 -3.6,-0.2 -3.4,-1.2 -3.7,-0.5 -3.4,1.3 -3.6,0.5 -2.4,2.8 1.3,3.2 0.1,3.5 0.7,3.3 -0.3,3.5 -0.3,3.4 0.1,3.4 -1.2,3.2Z" fill="#d1e5f0" stroke="#d1e5f0" stroke-width="0.9"/>
<path d="M870.8,662.5 l 4.6,-0.7 4.4,1.3 4.5,-1.1 4,-2.1 4.6,-0.4 4.2,-1.8 3.3,-3.1 4.2,-1.8 3.4,3.6 1.8,4.5 2.1,4.5 -0.3,4.9 -3.7,2.8 -3.1,3.6 -2.8,3.8 -4.2,2.2 -4,-1.6 -3.4,-2.7 -2.9,-3 -3.5,-2.5 -4,-1.7 -3,-3 -2.4,-3.7Z" fill="#d1e5f0" stroke="#d1e5f0" stroke-width="0.9"/>
<path d="M826.4,614.5 l 1,-2.8 0.9,-2.9 1.8,-2.6 0.3,-3.1 1.2,-2.8 1.6,-2.6 1.2,-2.9 -0.3,-3.1 -3.7,-3.3 -2.5,-4.3 -4.6,1.6 -4.9,0.3 -4.6,1.2 -4.7,1.2 -4.6,1.6 -4.2,2.3 -3.7,3.2 -4.7,1.6 0.9,5.5 0.8,5.5 4,3.4 4.8,2.3 3.5,3.9 3.7,3.7 3.1,0.7 3.1,-0.5 4.4,-3.1 4.7,-2.6Z" fill="#d6604d" stroke="#d6604d" stroke-width="0.9"/>
<path d="M826.4,614.5 l 4.7,-0.9 4.9,0.3 4.8,0.2 4.4,2.2 0.7,4.1 0.1,4 1,4.1 2.6,3.3 -2,1 -3.2,-1.9 -2.8,-2.5 -2.4,-2.9 -1.1,-3.6 -3.3,-1.9 -3.8,-0.1 -2.9,-2.1 -3.2,-1.9Z" fill="#d6604d" stroke="#d6604d" stroke-width="0.9"/>
<path d="M849.6,631.8 l 5.1,1.6 4.8,2.2 5.3,-0.4 5.3,0.1 2.4,-2.8 -0.1,-3.2 0.3,-3.2 0.1,-3.2 0.6,-3.2 -0.5,-3.2 -0.1,-3.2 -1.9,-2.8 -0.3,-3.3 -5.2,2.6 -5.8,1.1 -5.7,-0.3 -5.8,0.3 -2,2.4 -0.9,3 0.7,4.1 0.1,4 1,4.1Z" fill="#d6604d" stroke="#d6604d" stroke-width="0.9"/>
<path d="M840,593.5 l 3.5,0.4 3.2,-1.2 3.1,-1.4 3.4,-0.4 2.9,-1.9 3.4,-0.5 3.5,0.3 3.2,-1.2 2.3,2.4 2,2.6 1.3,3.1 1.9,2.7 -2,4.2 -1.1,4.6 -5.2,2.6 -5.8,1.1 -5.7,-0.3 -5.8,0.3 -3.6,-3.5 -2.3,-4.3 -2.3,-4.6Z" fill="#d6604d" stroke="#d6604d" stroke-width="0.9"/>
<path d="M826.4,614.5 l 1,-2.8 0.9,-2.9 1.8,-2.6 0.3,-3.1 1.2,-2.8 1.6,-2.6 1.2,-2.9 -0.3,-3.1 2.9,1.1 3,0.7 -0.1,5 2.3,4.6 2.3,4.3 3.6,3.5 -2,2.4 -0.9,3 -4.4,-2.2 -4.8,-0.2 -4.9,-0.3Z" fill="#b2182b" stroke="#b2182b" stroke-width="0.9"/>
<path d="M790.5,557.5 l 0.1,4.2 1.4,4 -0.6,4.1 -0.7,4.1 -2.6,3.4 -0.5,4.3 -1.7,3.8 -0.2,4.2 2.7,4.1 3.5,3.4 4.7,-1.6 3.7,-3.2 4.2,-2.3 4.6,-1.6 4.7,-1.2 4.6,-1.2 4.9,-0.3 4.6,-1.6 0.6,-4.1 1.8,-3.7 0.6,-4.2 -0.9,-4 -4.1,-3.8 -4.7,-3.2 -5,-2.6 -5.6,-1 -5,1.1 -5,-0.8 -5.1,0.7Z" fill="#92c5de" stroke="#92c5de" stroke-width="0.9"/>
<path d="M822.3,534.1 l -2.1,2.5 -2,2.7 -0.5,3.3 -1.9,2.9 -1.8,2.7 -1.1,3.1 -0.4,3.4 -1.9,2.8 -5,1.1 -5,-0.8 -5.1,0.7 -5,-1 -2.1,-4.6 -4.1,-3 -3.4,-3.8 -1.1,-4.9 0.4,-3.1 -0.4,-3.1 1.2,-2.8 0.3,-3.1 2.4,-2.5 1.5,-3.2 4.9,1.3 4.9,-1.1 5,0.3 4.6,1.8 4.7,1.6 4.6,1.8 4.7,1.6Z" fill="#4393c3" stroke="#4393c3" stroke-width="0.9"/>
<path d="M860,670 l 2.8,-1.4 2.7,-1.8 2.7,-1.7 1.6,-2.9 1,0.3 3.8,2 2.4,3.7 3,3 4,1.7 3.5,2.5 2.9,3 3.4,2.7 4,1.6 -0.4,4.9 -3.1,2.2 -2.9,2.4 -3,2.5 -1.6,3.5 -3.3,0.2 -3.1,0.8 -3.2,0.9 -3.3,-0.7 -1.7,-3.7 -1.5,-3.8 -2.3,-3.4 -2,-3.5 -2.4,-3.6 -2.7,-3.1 -0.7,-4.2Z" fill="#d1e5f0" stroke="#d1e5f0" stroke-width="0.9"/>
<path d="M947.8,693 l -3,3.9 -4.5,2 -4.7,0.9 -4.6,1 -4.7,-0.7 -4.6,-0.8 -4.7,0.5 -4.6,0.6 -4.5,-2.3 -3.4,-3.6 -3,-4 -4.1,-2.9 0.4,-4.9 4.2,-2.2 2.8,-3.8 3.1,-3.6 3.7,-2.8 5.8,1.1 5.6,-1.6 5.4,2 5.4,2 2.3,1.9 2.3,2 1,2.9 1.7,2.5 2.6,1.7 1.8,2.5 1.2,2.8Z" fill="#d6604d" stroke="#d6604d" stroke-width="0.9"/>
<path d="M906.4,719.8 l 2.3,-4.5 2.2,-4.7 -0.6,-5.3 2.1,-4.9 -4.5,-2.3 -3.4,-3.6 -3,-4 -4.1,-2.9 -3.1,2.2 -2.9,2.4 -3,2.5 -1.6,3.5 1.6,5.3 3.9,3.9 1.9,5 0.9,5.3 5.7,0.8Z" fill="#d1e5f0" stroke="#d1e5f0" stroke-width="0.9"/>
<path d="M906.4,719.8 l 2.3,-4.5 2.2,-4.7 -0.6,-5.3 2.1,-4.9 4.6,-0.6 4.7,-0.5 4.6,0.8 4.7,0.7 4.6,-1 4.7,-0.9 4.5,-2 3,-3.9 3.6,2.6 4.4,0.6 2.7,3.4 3.6,2.4 -2.6,1.8 -1.5,2.9 -0.6,3.1 -1.6,2.7 -1.1,2.9 -0.7,3 -2.1,2.4 -0.7,3.1 -4.1,2.5 -3.7,3 -3.7,0.4 -3.6,0.6 -3.8,0 -3.6,0.8 -3.7,0.7 -3.8,-0.2 -3.8,-0.5 -3.4,-1.8 -1.8,-2.6 -0.9,-3.1 -2.8,-1.5Z" fill="#d1e5f0" stroke="#d1e5f0" stroke-width="0.9"/>
<path d="M870.6,703.9 l 2.7,5.2 0.6,5.9 1.8,5.5 1.2,5.7 2.9,1.7 4.7,-0.9 4.1,-2.5 3.7,-3 2.8,-3.8 -0.9,-5.3 -1.9,-5 -3.9,-3.9 -1.6,-5.3 -3.3,0.2 -3.1,0.8 -3.2,0.9 -3.3,-0.7Z" fill="#d1e5f0" stroke="#d1e5f0" stroke-width="0.9"/>
<path d="M862.4,706.1 l -2.7,4.4 -2.2,4.6 2,3.8 2.8,3.2 3.2,2.9 3.7,2.1 3.9,-0.6 3.8,-0.3 -1.2,-5.7 -1.8,-5.5 -0.6,-5.9 -2.7,-5.2 -4.2,0.9Z" fill="#d1e5f0" stroke="#d1e5f0" stroke-width="0.9"/>
<path d="M822.8,76.9 l 3.1,-0.8 3,-1.5 2.3,-2.3 1.9,-2.7 3.2,-0.9 2.5,-2.1 1.4,-3 2.4,-2.2 1.5,-3 2.6,-2.1 3.1,-1 2.8,-1.8 1.3,-2.9 2.4,-2.3 2.5,-2 2.9,-1.5 -121,211.9 -5.5,-2.2 -5.9,0.7 -0.6,-0.8 0.1,-3.9 -1.1,-3.8 0.2,-3.9 2,-3.4 -1.5,-3.5 -0.4,-3.8 -0.6,-3.8 -0.2,-3.8 1.8,-3.4 0.4,-3.8 1.6,-3.3 1.7,-3.4 0.4,-3.8 1.6,-3.4 0.5,-3.8 1.8,-3.4 2.4,-5.3 2,-5.4 -1,-5.8 0.8,-5.9 3.3,-4.8 4.3,-3.8 2.2,-5.3 3.5,-4.6 2.1,-4 3.6,-2.6 2.7,-3.5 1.7,-4.1 2.6,-3.5 2.7,-3.4 2.6,-3.6 1.8,-3.9 2.7,-3.7 2.8,-3.6 4.3,-1.5 4,-2.2 3.1,-3.2 2.6,-3.6 1.4,-4.3 2.7,-3.5 3.9,-2.3 4.4,-1.2 3.4,-2.9 3.6,-2.7 2.8,-3.7 3.8,-2.7 1.3,-4.4Z" fill="#4393c3" stroke="#4393c3" stroke-width="0.9"/>
<path d="M749.5,272.8 l -2.3,-3.7 -3.2,-2.9 -1.9,-4 -0.1,-4.4 3.3,-0.2 3.1,1.3 3.1,-1 3.2,-0.7 3.1,-1 3,-1.2 2.5,-2 2.3,-2.2 3.1,0.9 3.1,0.2 3.1,0.1 3.1,-0.8 3.1,0 3,-1.3 3,-0.5 3.1,0.4 -3.7,3.2 -3.1,4 -3.8,3.3 -4,2.9 -2.7,4.3 -2.8,4.2 -3.2,4.1 -4.8,2.1 -3.3,-1.1 -2.7,-2 -3.4,-0.8Z" fill="#4393c3" stroke="#4393c3" stroke-width="0.9"/>
<path d="M1583,-238.1 l -792.8,487.9 -3.7,3.2 -3.1,4 -3.8,3.3 -4,2.9 -2.7,4.3 -2.8,4.2 -3.2,4.1 -4.8,2.1 -0.4,4.2 0.7,4.2 1.4,4.1 2.7,3.3 3.4,-0.7 3.3,0.9 2.9,-1.9 3.5,-0.5 3.3,-0.9 2.5,-2.4 2.9,-1.8 3.4,-0.2 3.4,0.3 3.3,-0.6 3.2,1.4 3.4,-0.3 3.4,0.7 3.4,-0.4 3.5,-0.5 2.8,-2.1 3.3,0 3.3,0 3.4,-0.2 3,-1.8 3.2,-0.8 3.3,-0.6 3.4,-0.2 3.2,1.1 3.3,-0.4 3.3,0.7 3.4,-0.2 3.2,-0.9 3.3,-0.8 3.4,0.2 3,1.7 3.3,0.8 4.7,0.5 4.6,-0.7 4.6,-0.4 4.6,-0.6 4.5,-1.1 4.2,-2 4.1,-2.3 4.1,-2.2 3.1,-0.7 3,-1.4 3.3,0.3 3.3,-0.4 3.2,-1 3.3,0.6 3.2,0.5 3.1,1.3 3.3,0.5 3.3,-0.5 3.3,-0.2 3.1,-1.4 3.1,1.2 2.8,1.7 3.2,0.8 3.4,0.1 3.1,-0.9 3.3,-0.4 2.9,-1.5 3.1,-1.1 3.2,1.1 3.4,0.1 3,-1.4 3.3,-0.7 3,-1.4 3,-1.2 2.6,-2 2.5,-2.1 3.3,-0.4 3.1,-1.3 2.4,-2.2 2.8,-1.8 3.2,-0.9 3.2,-0.7 2.4,-2.2 2.8,-1.8 3.2,-0.8 2.9,-1.7 3.2,-0.8 3.3,0.3 3.3,-0.7 2.9,-1.7 2.2,-2.4 2.5,-2.2 3.1,-1.2 3.3,-0.2 2.6,-1.9 3.1,-1.1 3,-1.7 3.1,-1 2.6,-2.2 1.7,-3 2.9,-1.6 2.9,-1.5 1.7,-2.9 2.8,-1.9 2.2,-2.6 1.8,-2.9 2.5,-2.3 2.9,-1.7 1.4,-3.1 0.6,-3.3 1,-3.2 1.7,-2.9 206.4,-177.5Z" fill="#4393c3" stroke="#4393c3" stroke-width="0.9"/>
<path d="M709.1,245.5 l 5.3,1.4 5,1.9 4,3.9 5.3,1.7 0.1,-3.9 -1.1,-3.8 0.2,-3.9 2,-3.4 -1.5,-3.5 -0.4,-3.8 -0.6,-3.8 -0.2,-3.8 1.8,-3.4 0.4,-3.8 1.6,-3.3 1.7,-3.4 0.4,-3.8 1.6,-3.4 0.5,-3.8 1.8,-3.4 -0.1,3.7 -1.3,3.4 -1.4,3.3 0.2,3.7 -2.6,2.5 -2.8,2.4 -1,3.5 -2.1,3 -2.1,2.8 -2.1,2.9 -1.9,3 -2.3,2.7 -3.2,1.4 -3.2,1.6 -3.2,1.7 -2.5,2.6 2.4,2.2Z" fill="#4393c3" stroke="#4393c3" stroke-width="0.9"/>
<path d="M861.7,44.8 l -121,211.9 1.3,1.1 3.3,-0.2 3.1,1.3 3.1,-1 3.2,-0.7 3.1,-1 3,-1.2 2.5,-2 2.3,-2.2 3.1,0.9 3.1,0.2 3.1,0.1 3.1,-0.8 3.1,0 3,-1.3 3,-0.5 3.1,0.4 792.8,-487.9 307.2,-266.3 815.7,-720.9 -2.3,-4.5 -3.9,-3.1 -1.8,-4.5 -2.1,-4.4 -2.1,-4.4 -0.9,-4.8 -1.6,-4.7 -3.3,-3.7 -3.6,-3.4 -3.6,-3.3 -1,-4.9 -2.8,-4.2 -2.8,-4.2 -0.5,-5 -1.7,-4.7 -3.6,-3.4 -4.4,-2.5 -5.1,-0.6 -3.8,-3.2 -3.4,-3.7 -3.9,-3.1 -2.3,-4.4 -3.4,-3.5 -3.7,-3.2 -4.1,-2.6 -3.5,-3.4 -4.3,-2.2 -4.3,-2.2 -3.3,-3.6 -4.3,-2.5 -4.6,-1.6 -4.2,-2.4 -1427.6,1096.6Z" fill="#4393c3" stroke="#4393c3" stroke-width="0.9"/>
<path d="M709.1,245.5 l 5.3,1.4 5,1.9 4,3.9 5.3,1.7 0.6,0.8 -2.3,4.9 0.2,5.5 -2.1,5 -4.1,3.6 -2.7,4.5 -1.4,5.1 -2.3,4.8 -3.8,3.6 -1.3,-0.2 -3,-1.3 -2.4,-2.2 -1.6,-2.8 -1.8,-2.7 -1.1,-3 -0.1,-3.3 -2.1,-2.4 -1.2,-3.1 1.7,-3.2 2.2,-2.9 1.6,-3.3 2.8,-2.5 1.5,-3.5 -0.1,-3.7 0.9,-3.6Z" fill="#92c5de" stroke="#92c5de" stroke-width="0.9"/>
<path d="M710.8,292.2 l 4,1.8 3.2,3.1 3.1,3 3.4,2.8 3.4,-3.5 3.9,-3.1 2.7,-4.3 4.4,-2.6 1.2,-4.9 3.1,-4 2.4,-4.5 3.9,-3.2 -2.3,-3.7 -3.2,-2.9 -1.9,-4 -0.1,-4.4 -1.3,-1.1 -5.5,-2.2 -5.9,0.7 -2.3,4.9 0.2,5.5 -2.1,5 -4.1,3.6 -2.7,4.5 -1.4,5.1 -2.3,4.8Z" fill="#92c5de" stroke="#92c5de" stroke-width="0.9"/>
<path d="M726.2,305.7 l 4.6,-0.1 4.2,2.1 4.5,0 4.3,-1.5 4.2,-1.2 4.5,-0.2 4.2,-1.4 4.4,-0.4 3.6,-4.1 1.8,-5.2 -2.7,-3.3 -1.4,-4.1 -0.7,-4.2 0.4,-4.2 -3.3,-1.1 -2.7,-2 -3.4,-0.8 -3.2,-1.2 -3.9,3.2 -2.4,4.5 -3.1,4 -1.2,4.9 -4.4,2.6 -2.7,4.3 -3.9,3.1 -3.4,3.5Z" fill="#92c5de" stroke="#92c5de" stroke-width="0.9"/>
<path d="M709.1,245.5 l -2.3,3 -0.9,3.6 0.1,3.7 -1.5,3.5 -2.8,2.5 -1.6,3.3 -2.2,2.9 -1.7,3.2 -4.6,-2.1 -5,-0.9 -3.9,-3.3 -4.3,-2.6 0.2,-5.3 2.7,-4.6 0.3,-5.1 0.1,-5.2 3.5,-1.2 2.8,-2.4 3.6,-1 3.6,-0.2 5.4,0.7 4.8,2.4 2.4,2.2Z" fill="#92c5de" stroke="#92c5de" stroke-width="0.9"/>
<path d="M673,235.9 l 4.8,2.6 3.9,3.6 -0.1,5.2 -0.3,5.1 -2.7,4.6 -0.2,5.3 -3.2,1.5 -2.8,2 -3.7,-2 -2.9,-2.9 -2.4,-3.5 -3.8,-1.9 -4,-0.9 -3.5,-2.3 -4.1,-0.6 -3.7,-1.9 0.4,-3.8 0.9,-3.7 4.3,-0.5 3.7,-2.3 2.9,-3.2 3.4,-2.6 3,1.7 3.4,0.6 3.3,-0.4Z" fill="#4393c3" stroke="#4393c3" stroke-width="0.9"/>
<path d="M662.2,288.2 l 1.5,-2.8 2.5,-2 1.4,-2.9 0.5,-3.1 1.4,-2.8 1.1,-2.9 1.1,-2.9 0.7,-3 -3.7,-2 -2.9,-2.9 -2.4,-3.5 -3.8,-1.9 -4,-0.9 -3.5,-2.3 -4.1,-0.6 -3.7,-1.9 -3.7,4.1 -3.2,4.5 -1,5.3 -0.3,5.5 1.3,2.9 0.5,3.2 1,3.1 2.3,2.4 1.3,3.1 2.6,2 2.5,2.2 2.8,1.5 6,0.1Z" fill="#4393c3" stroke="#4393c3" stroke-width="0.9"/>
<path d="M696.2,271.2 l 1.2,3.1 2.1,2.4 0.1,3.3 1.1,3 1.8,2.7 1.6,2.8 2.4,2.2 3,1.3 -5.6,0.8 -5.5,1.3 -4.5,3.5 -4.6,3.3 -3.6,0.1 -3.6,-0.4 -3.2,-1.7 -3.6,-0.8 -3,-2.9 -3.8,-1.7 -3.7,-2 -2.6,-3.3 1.5,-2.8 2.5,-2 1.4,-2.9 0.5,-3.1 1.4,-2.8 1.1,-2.9 1.1,-2.9 0.7,-3 2.8,-2 3.2,-1.5 4.3,2.6 3.9,3.3 5,0.9Z" fill="#4393c3" stroke="#4393c3" stroke-width="0.9"/>
<path d="M750.3,340.2 l 1.8,-2.8 2.6,-1.9 2.7,-1.9 3.1,-0.9 3,-1.3 2.6,-1.8 2.2,-2.4 2.8,-1.6 0.7,-2.8 -2.6,-5.3 -4.6,-3.6 -1.1,-5.7 -2.4,-5.2 -4.4,0.4 -4.2,1.4 -4.5,0.2 -4.2,1.2 -4.3,1.5 -4.5,0 -4.2,-2.1 -4.6,0.1 0.9,3.7 -0.9,3.7 3.7,2.7 3.7,2.8 2.4,4 3.8,2.7 3,3.6 3.6,2.9 1.7,4.3Z" fill="#4393c3" stroke="#4393c3" stroke-width="0.9"/>
<path d="M781.4,339.4 l -2.1,-3.9 -3.7,-2.5 -2.5,-3.5 -2,-3.9 0.7,-2.8 2.7,-2.4 3.3,-1.2 3.5,-0.7 3.2,-1.4 2.8,-2.3 3.5,-1 3.5,-0.2 3.6,-0.3 2,-3 1.4,-3.2 1.9,-3.1 3.2,-1.8 3.1,-1.6 3,-1.9 2.5,-2.5 2.3,-2.6 3.6,-0.1 3.1,-1.6 3.4,0.8 3.5,-0.3 3.6,0.4 3.3,-1.4 3.1,-1.5 2.8,-2.1 3.4,-0.9 3.2,-1.4 3.4,0.7 3.4,-0.3 3.4,-0.9 3.4,0.2 3.1,-1.4 3.4,-0.5 4.7,0.5 4.6,-0.7 4.6,-0.4 4.6,-0.6 4.5,-1.1 4.2,-2 4.1,-2.3 4.1,-2.2 -3.7,2.1 -3.6,2.2 -2.7,3.3 -2.7,3.2 -3.4,2.6 -2.1,3.6 -3.3,2.6 -2.8,3.1 -3.4,2.5 -3.7,2 -4.3,0.9 -3.4,2.6 -4.1,1.3 -4.3,-0.5 -4.3,0.4 -3.8,2.1 -3.1,2.9 -2.4,3.4 -2.9,3.1 -3,2.8 -2,3.9 -1.8,3.8 -3.7,2.3 -2.8,3.3 -3.9,1.9 -4.2,0.7 -4.3,0.2 -4.1,1.2 -3.7,2.2 -4.2,1 -3.9,2.1 -2.7,3.4 -3.7,-2.8 -3.4,-2.9 -4.6,-0.6Z" fill="#4393c3" stroke="#4393c3" stroke-width="0.9"/>
<path d="M792.4,365.9 l 1.6,4.5 5.4,2.6 4.4,4 5.9,0.4 5.8,1.5 5.7,1.1 5.9,-0.3 5.8,0.5 5.4,2.3 3.4,-0.1 3.3,0.1 3,-0.4 2.9,-0.6 2.9,-0.8 2.6,-1.5 2.9,-1.1 2.9,-0.7 3,0.1 3,-0.1 2.9,-1.4 2.1,-2.3 3.1,-0.7 3,-0.5 3,-0.7 3.1,-0.6 3.2,-0.1 2.9,1.3 3,-0.9 2.2,-2.3 3.1,0.1 3,-0.8 2.8,-1 2.7,-1.3 2.9,-1 3.1,0.1 2.9,-0.9 3.2,0.3 2.9,1.2 3.1,0.1 2.6,-1.7 2.7,-1.5 3.1,-1.1 3.1,0.6 3,-0.2 3,-0.5 2.5,-1.7 2.5,-1.7 3.3,-4.9 4.6,-3.8 2.6,-5.1 2.9,-5 3.7,-4.5 5,-3.1 5.5,-2.3 5.9,0.3 5,-3.1 5.7,-1.4 2.8,-1.4 2.3,-2 1.9,-2.3 1.6,-2.6 2.7,-1.4 2.9,-0.9 2.9,-1 3,0.1 4.9,-3.4 5.5,-2.4 0.5,-3.1 1.4,-2.7 2,-2.3 2.4,-2 5.1,-3 3.9,-4.5 2.5,-5.3 2.7,-5.2 0.2,-3 0.2,-3 0,-3.1 -1.4,-2.8 1.8,-2.4 1,-3 0.1,-3 0.2,-3 0.9,-3 1.9,-2.4 2.3,-1.9 2.2,-2.1 1.9,-5.6 1.9,-5.6 1.2,-2.9 -0.1,-3 2.1,-2.2 1.6,-2.6 4.7,-3.7 2.6,-5.4 5.2,-2.9 5.4,-2.5 1.9,-2.4 2.1,-2.1 1.8,-2.5 1,-2.9 -1.7,2.9 -1,3.2 -0.6,3.3 -1.4,3.1 -2.9,1.7 -2.5,2.3 -1.8,2.9 -2.2,2.6 -2.8,1.9 -1.7,2.9 -2.9,1.5 -2.9,1.6 -1.7,3 -2.6,2.2 -3.1,1 -3,1.7 -3.1,1.1 -2.6,1.9 -3.3,0.2 -3.1,1.2 -2.5,2.2 -2.2,2.4 -2.9,1.7 -3.3,0.7 -3.3,-0.3 -3.2,0.8 -2.9,1.7 -3.2,0.8 -2.8,1.8 -2.4,2.2 -3.2,0.7 -3.2,0.9 -2.8,1.8 -2.4,2.2 -3.1,1.3 -3.3,0.4 -2.5,2.1 -2.6,2 -3,1.2 -3,1.4 -3.3,0.7 -3,1.4 -3.4,-0.1 -3.2,-1.1 -3.1,1.1 -2.9,1.5 -3.3,0.4 -3.1,0.9 -3.4,-0.1 -3.2,-0.8 -2.8,-1.7 -3.1,-1.2 -3.1,1.4 -3.3,0.2 -3.3,0.5 -3.3,-0.5 -3.1,-1.3 -3.2,-0.5 -3.3,-0.6 -3.2,1 -3.3,0.4 -3.3,-0.3 -3,1.4 -3.1,0.7 -3.7,2.1 -3.6,2.2 -2.7,3.3 -2.7,3.2 -3.4,2.6 -2.1,3.6 -3.3,2.6 -2.8,3.1 -3.4,2.5 -3.7,2 -4.3,0.9 -3.4,2.6 -4.1,1.3 -4.3,-0.5 -4.3,0.4 -3.8,2.1 -3.1,2.9 -2.4,3.4 -2.9,3.1 -3,2.8 -2,3.9 -1.8,3.8 -3.7,2.3 -2.8,3.3 -3.9,1.9 -4.2,0.7 -4.3,0.2 -4.1,1.2 -3.7,2.2 -4.2,1 -3.9,2.1 -2.7,3.4 -1.2,4.8 -1.4,4.8 -0.3,5Z" fill="#4393c3" stroke="#4393c3" stroke-width="0.9"/>
<path d="M767.1,359.7 l -4.9,-0.3 -4.5,2 -4.9,-3.1 -4.3,-4 0.5,-3.7 2.2,-3.1 0.3,-3.8 -1.2,-3.5 1.8,-2.8 2.6,-1.9 2.7,-1.9 3.1,-0.9 3,-1.3 2.6,-1.8 2.2,-2.4 2.8,-1.6 2,3.9 2.5,3.5 3.7,2.5 2.1,3.9 -2.1,2.4 -2.6,1.7 -1.5,2.9 -2.1,2.3 -1,3 -2,2.5 -1.6,2.7Z" fill="#4393c3" stroke="#4393c3" stroke-width="0.9"/>
<path d="M761.1,303 l 2.4,5.2 1.1,5.7 4.6,3.6 2.6,5.3 2.7,-2.4 3.3,-1.2 3.5,-0.7 3.2,-1.4 2.8,-2.3 3.5,-1 3.5,-0.2 3.6,-0.3 2,-3 1.4,-3.2 1.9,-3.1 3.2,-1.8 3.1,-1.6 3,-1.9 2.5,-2.5 2.3,-2.6 3.6,-0.1 3.1,-1.6 3.4,0.8 3.5,-0.3 3.6,0.4 3.3,-1.4 3.1,-1.5 2.8,-2.1 3.4,-0.9 3.2,-1.4 3.4,0.7 3.4,-0.3 3.4,-0.9 3.4,0.2 3.1,-1.4 3.4,-0.5 -3.3,-0.8 -3,-1.7 -3.4,-0.2 -3.3,0.8 -3.2,0.9 -3.4,0.2 -3.3,-0.7 -3.3,0.4 -3.2,-1.1 -3.4,0.2 -3.3,0.6 -3.2,0.8 -3,1.8 -3.4,0.2 -3.3,0 -3.3,0 -2.8,2.1 -3.5,0.5 -3.4,0.4 -3.4,-0.7 -3.4,0.3 -3.2,-1.4 -3.3,0.6 -3.4,-0.3 -3.4,0.2 -2.9,1.8 -2.5,2.4 -3.3,0.9 -3.5,0.5 -2.9,1.9 -3.3,-0.9 -3.4,0.7 -1.8,5.2Z" fill="#4393c3" stroke="#4393c3" stroke-width="0.9"/>
<path d="M767.1,359.7 l 1.4,-2.8 1.6,-2.7 2,-2.5 1,-3 2.1,-2.3 1.5,-2.9 2.6,-1.7 2.1,-2.4 4.4,1 4.6,0.6 3.4,2.9 3.7,2.8 -1.2,4.8 -1.4,4.8 -0.3,5 -2.2,4.6 -3.2,-1.1 -3.3,-0.9 -2.5,-2.2 -3,-1.6 -3.2,-0.9 -3.4,-0.1 -3.4,-0.1Z" fill="#2166ac" stroke="#2166ac" stroke-width="0.9"/>
<path d="M723.2,391.2 l -2,-2.4 -0.7,-3.1 -1.1,-3 -1.1,-2.8 -0.5,-3.2 0.5,-3.1 -1,-2.9 -0.3,-3.2 0.4,-0.7 4.4,-0.8 3.7,-2.2 4.4,0.9 4.3,-1.2 2.6,-3.5 4.1,-1.8 3.4,-2.7 4.2,-1.2 4.3,4 4.9,3.1 -0.4,3.7 1.2,3.4 2.3,2.9 0.9,3.5 -0.6,3.6 -0.7,3.6 1.7,3.2 0.2,3.7 -0.2,0.4 -3,1.8 -4.7,-0.1 -4.6,0.8 -4,2.5 -4.7,0.9 -4.4,-1.3 -4.6,-0.6 -4.1,-2.2Z" fill="#4393c3" stroke="#4393c3" stroke-width="0.9"/>
<path d="M762.3,389 l -0.2,-3.7 -1.7,-3.2 0.7,-3.6 0.6,-3.6 -0.9,-3.5 -2.3,-2.9 -1.2,-3.4 0.4,-3.7 4.5,-2 4.9,0.3 3.3,-0.7 3.4,0.1 3.4,0.1 3.2,0.9 3,1.6 2.5,2.2 3.3,0.9 3.2,1.1 1.6,4.5 -2.2,3.5 -1.1,4 -1.8,3.7 -2.7,3.1 -2.6,1.6 -2.8,1.4 -3.1,0.3 -3.1,0.7 -3,0.9 -3.1,-0.1 -3.1,0.2Z" fill="#4393c3" stroke="#4393c3" stroke-width="0.9"/>
<path d="M786.2,384.7 l 2.7,-3.1 1.8,-3.7 1.1,-4 2.2,-3.5 5.4,2.6 4.4,4 5.9,0.4 5.8,1.5 5.7,1.1 5.9,-0.3 5.8,0.5 5.4,2.3 -1.9,2.3 -2,2.4 -2,2.3 -2.7,1.5 -2.7,1.5 -2.7,1.2 -3.1,0.7 -2.4,2 -3.1,-0.1 -3.1,-0.1 -2.6,1.7 -3,0.9 -2.9,0.9 -3,-0.1 -2.8,1.2 -3,0.2 -2.8,-3.9 -3.6,-3.3 -0.2,-4.9Z" fill="#2166ac" stroke="#2166ac" stroke-width="0.9"/>
<path d="M752.8,416.3 l 1.2,-3.1 0.1,-3.3 1.4,-2.9 1.1,-3.1 1.1,-3 0.6,-3.2 0.5,-3.2 0.3,-3.3 3,-1.8 2.9,1.7 1.8,2.8 2.2,2.3 1.6,2.8 2.4,2.2 2.2,2.4 2.3,2.3 2.6,1.9 1.8,2.8 0.5,3.2 1.8,2.7 1.4,3 0.8,3.2 -0.1,3.4 2.4,2.3 1.5,3.1 0.1,1.1 -4.9,0.1 -4.8,-0.6 -4.1,-2.8 -4.8,-1.2 -4.1,-3.9 -4.4,-3.4 -5,-2.8Z" fill="#92c5de" stroke="#92c5de" stroke-width="0.9"/>
<path d="M752.8,416.3 l -3.3,0.8 -3.3,-0.5 -3.3,0.6 -2.9,1.8 -2.8,1.7 -2.7,2.1 -3.3,0.6 -3.3,0.4 0.5,5 -1.5,4.8 1.3,3.3 1.8,3.1 2.5,2.5 3.2,1.7 4.3,-2.9 4.7,-2.1 5.1,-0.1 5.2,-0.1 4,-3 4.4,-2.5 4.7,-1.8 3.6,-3.6 -4.1,-3.9 -4.4,-3.4 -5,-2.8Z" fill="#92c5de" stroke="#92c5de" stroke-width="0.9"/>
<path d="M762.1,389.4 l 2.9,1.7 1.8,2.8 2.2,2.3 1.6,2.8 2.4,2.2 2.2,2.4 2.3,2.3 2.6,1.9 1.8,2.8 0.5,3.2 1.8,2.7 1.4,3 0.8,3.2 -0.1,3.4 2.4,2.3 1.5,3.1 1.2,-3.7 0.7,-3.8 1.2,-3.7 0.6,-3.9 0,-3.9 0.6,-3.8 -0.5,-4 1.3,-3.7 -2.8,-3.9 -3.6,-3.3 -0.2,-4.9 -2.5,-4.2 -2.6,1.6 -2.8,1.4 -3.1,0.3 -3.1,0.7 -3,0.9 -3.1,-0.1 -3.1,0.2 -3.1,-0.7Z" fill="#92c5de" stroke="#92c5de" stroke-width="0.9"/>
<path d="M752.8,416.3 l 1.2,-3.1 0.1,-3.3 1.4,-2.9 1.1,-3.1 1.1,-3 0.6,-3.2 0.5,-3.2 0.3,-3.3 -4.7,-0.1 -4.6,0.8 -4,2.5 -4.7,0.9 -4.4,-1.3 -4.6,-0.6 -4.1,-2.2 -4.8,0 -1.6,3.3 -0.3,3.6 -0.4,3.6 -2,3.1 2.4,4.8 3.9,3.8 0.2,5.5 2.5,4.9 3.3,-0.4 3.3,-0.6 2.7,-2.1 2.8,-1.7 2.9,-1.8 3.3,-0.6 3.3,0.5Z" fill="#92c5de" stroke="#92c5de" stroke-width="0.9"/>
<path d="M792.9,437.2 l 5.2,2.4 5.8,-0.1 5.7,-1 5.5,1.7 5.7,0.4 5.6,0.4 5.8,0.2 5.1,2.5 5.3,-2 5,-2.7 5.3,-1.9 5.6,-1.1 5.6,-0.7 5.4,-1.5 5.1,-2.7 5.8,-0.1 4.7,-2 3.6,-3.5 2,-4.5 2.6,-4.2 4.6,-1.6 4.4,-2.3 2.6,-4.2 3.9,-3.1 2,-2.7 2.8,-1.9 2.9,-1.7 2.2,-2.5 1.9,-2.8 1.3,-3 2.2,-2.5 1.8,-2.9 3.2,-1.4 2.4,-2.7 1,-3.3 2.1,-2.9 0.4,-3.3 1.4,-3.1 0.7,-3.3 0.8,-3.3 -3.1,-0.6 -3.1,1.1 -2.7,1.5 -2.6,1.7 -3.1,-0.1 -2.9,-1.2 -3.2,-0.3 -2.9,0.9 -3.1,-0.1 -2.9,1 -2.7,1.3 -2.8,1 -3,0.8 -3.1,-0.1 -2.2,2.3 -3,0.9 -2.9,-1.3 -3.2,0.1 -3.1,0.6 -3,0.7 -3,0.5 -3.1,0.7 -2.1,2.3 -2.9,1.4 -3,0.1 -3,-0.1 -2.9,0.7 -2.9,1.1 -2.6,1.5 -2.9,0.8 -2.9,0.6 -3,0.4 -3.4,3.3 -3.9,2.9 -4.1,2.3 -4.4,1.9 -3.6,3.2 -1.9,4.5 -3.4,3.3 -3.2,3.5 -3.1,3.7 -1.7,4.5 -2.4,4.1 -3.6,3.1 -3.2,3.7 -4.5,1.9 -2.7,4 -3.7,2.9Z" fill="#4393c3" stroke="#4393c3" stroke-width="0.9"/>
<path d="M790.3,432.6 l -0.1,-1.1 1.2,-3.7 0.7,-3.8 1.2,-3.7 0.6,-3.9 0,-3.9 0.6,-3.8 -0.5,-4 1.3,-3.7 3,-0.2 2.8,-1.2 3,0.1 2.9,-0.9 3,-0.9 2.6,-1.7 3.1,0.1 3.1,0.1 2.4,-2 3.1,-0.7 2.7,-1.2 2.7,-1.5 2.7,-1.5 2,-2.3 2,-2.4 1.9,-2.3 3.4,-0.1 3.3,0.1 -3.4,3.3 -3.9,2.9 -4.1,2.3 -4.4,1.9 -3.6,3.2 -1.9,4.5 -3.4,3.3 -3.2,3.5 -3.1,3.7 -1.7,4.5 -2.4,4.1 -3.6,3.1 -3.2,3.7 -4.5,1.9 -2.7,4 -3.7,2.9Z" fill="#4393c3" stroke="#4393c3" stroke-width="0.9"/>
<path d="M771.7,428.1 l 4.8,1.2 4.1,2.8 4.8,0.6 4.9,-0.1 1.9,2.7 0.7,1.9 -1.4,3.8 0.1,4 -3.3,-0.7 -3.4,-0.4 -3.3,-0.4 -3.4,0.2 -3.3,-0.4 -3.4,0.2 -3.3,0.8 -3.4,-0.3 -3.3,0.6 -3.1,1.5 -3,1.6 -3.5,0.2 -2.2,2.7 -3.3,1.4 -3.4,0.5 -3.1,1.5 -2.1,-4.9 -2.1,-4.9 4.3,-2.9 4.7,-2.1 5.1,-0.1 5.2,-0.1 4,-3 4.4,-2.5 4.7,-1.8Z" fill="#4393c3" stroke="#4393c3" stroke-width="0.9"/>
<path d="M795.9,502.6 l -3.3,2 -2.6,2.8 -4.3,-2.8 -4,-3.3 -4.7,-2.1 -4.3,-3 -4.4,-2.9 -2.9,-4.4 -4.2,-3 -4.4,-2.7 1.9,-2.5 2.5,-1.8 2.3,-2.1 2.6,-1.6 2.1,-2.5 2.9,-1.5 1.8,-2.7 0.7,-3.1 2.4,-2.2 1.1,-3.1 2.5,-1.8 2.7,-1.7 1.9,-2.5 2.4,-1.9 3.1,-0.9 2.4,-2.1 2.4,3.6 3.3,3 1,4.3 2.3,3.8 -2.2,3.9 -1.2,4.3 -0.5,4.4 0.6,4.5 1.7,4.1 0.9,4.4 0.1,4.5 -1.6,4.3Z" fill="#4393c3" stroke="#4393c3" stroke-width="0.9"/>
<path d="M844.2,819 l -1.7,2.9 -2.3,2.4 -1,3.1 -0.3,3.3 0.2,3.3 1,3.1 -1,3.1 0.2,3.3 5,1 5,-1.2 4.5,-2.1 4.5,-2.2 4.6,-2.3 5.1,-0.1 4.5,-2.3 3.2,-4 0,-0.3 -1.3,-3.3 -1.5,-3.2 -3.1,-2.6 -1.9,-3.6 -3.7,-1.8 -3.1,-2.6 -4.1,-0.5 -4,0.7 -3.9,1.2 -3.6,2Z" fill="#92c5de" stroke="#92c5de" stroke-width="0.9"/>
<path d="M819.4,822.5 l 0.9,4.1 2.7,3.3 2.4,3.5 0.4,4.2 1.9,3.8 0.7,4.2 3.5,2.6 2.2,3.7 3.5,-3.6 1.7,-4.8 -0.2,-3.3 1,-3.1 -1,-3.1 -0.2,-3.3 0.3,-3.3 1,-3.1 2.3,-2.4 1.7,-2.9 -3.2,0.3 -3.1,-0.5 -3.1,0.4 -3.2,0.2 -3.1,0.7 -3,1 -3,0.9Z" fill="#92c5de" stroke="#92c5de" stroke-width="0.9"/>
<path d="M834.1,851.9 l 3.5,-3.6 1.7,-4.8 5,1 5,-1.2 4.5,-2.1 4.5,-2.2 4.6,-2.3 5.1,-0.1 4.5,-2.3 3.2,-4 1012,2180.5 -885.4,-66.5 -195.9,-1762.9 -2,-3.3 -0.6,-3.8 -2.4,-3 -1.2,-3.7 -2.6,-2.8 -2.9,-2.5 -1.5,-3.6 -2,-3.2 1.4,-3.7 -0.5,-4 0.9,-3.8 1.2,-3.7 -1.8,-3.4 -0.8,-3.8 -1.4,-3.7 -0.3,-3.9 2,-3.4 3,-2.5 1.2,-3.8 2.4,-3.1 -0.7,-3.9 0,-4 1.5,-3.6 0.6,-4 -1,-3.7 -1.7,-3.5 -2.3,-3.2 -0.6,-3.9 0.8,-3.8 -0.4,-3.9 0.6,-3.8 0.3,-3.8 0.7,-3.7 1.1,-3.5 2.3,-3.1 0.8,-3.7 2.2,-3.2 0.8,-3.7 0.3,-3.8 0.1,-3.8 -1.9,-3.3 -1.5,-3.5 -0.1,-3.9 -0.8,-3.7 -0.1,-3.9 -1.3,-3.8 1.9,-3.5 0.7,-3.8 0,-3.8 0.3,-3.8 -0.6,-3.8 -1.3,-3.6 2,-3.2 1.2,-3.6 1.1,-3.5 1.5,-3.5 2.9,-2.7 1.5,-3.6 0.7,-3.8 0.3,-3.8 -1,-3.7 -0.5,-3.7 -0.4,-3.7 0.4,-3.8 3.2,-1.4 2.2,-2.7 2.2,-2.7 1.6,-3 1.6,-3.1 0.8,-3.3 1.4,-3.1 2.1,-2.7 1.3,-3.2 0,-3.5 1.7,-2.9 1.8,-2.9 1.1,-3.2 -0.3,-3.5 0.5,-3.4 1.9,-2.9 1.2,-3.3 0.3,-3.5 1.9,-2.8 1.8,-3 1.3,-3.2 1,-3.4 -0.4,-3.4 -0.2,-3.5 -0.1,-3.6 -1.1,-3.4 0.2,-3.6 1.6,-3.3 -2.3,-2.7 -1.2,-3.3 -0.3,-3.6Z" fill="#92c5de" stroke="#92c5de" stroke-width="0.9"/>
<path d="M875.7,830 l 3,-1.7 3,-1.7 3.4,-0.6 3,-1.9 2.5,-2.4 3,-1.7 3.4,-0.9 3,-1.7 0.8,-3.5 1.7,-3.1 0.8,-3.5 0.1,-3.5 -3.6,0.6 -3.7,0.2 -3.6,-1.2 -3.7,0.4 -3.1,1.4 -3.1,1.3 -2.1,2.6 -1.9,2.7 -2.3,2.5 -1.5,2.9 -0.9,3.2 -1,3.1 1.5,3.2Z" fill="#d6604d" stroke="#d6604d" stroke-width="0.9"/>
<path d="M909.1,799.7 l -2.5,2.5 -3.2,1.6 -0.1,3.5 -0.8,3.5 -1.7,3.1 -0.8,3.5 1118.1,2204.2 4.3,0.6 4.4,0.2 -1110.4,-2220.8 -3.4,-1.8Z" fill="#d6604d" stroke="#d6604d" stroke-width="0.9"/>
<path d="M872.9,823.5 l 1,-3.1 0.9,-3.2 1.5,-2.9 2.3,-2.5 1.9,-2.7 2.1,-2.6 3.1,-1.3 3.1,-1.4 -3.5,-2.3 -2.3,-3.3 -2.4,-3.2 -3.1,-2.5 -3.4,1.5 -3,2 -3.5,1.4 -3.7,-0.4 -1.8,3.7 -1,4 -0.3,4.1 0.3,4.1 3.1,2.6 3.7,1.8 1.9,3.6Z" fill="#d6604d" stroke="#d6604d" stroke-width="0.9"/>
<path d="M875.7,830 l 3,-1.7 3,-1.7 3.4,-0.6 3,-1.9 2.5,-2.4 3,-1.7 3.4,-0.9 3,-1.7 1118.1,2204.2 -3.9,2.1 -4.4,0.9 -4.4,-0.6 -4.4,-0.4 -4.2,1.2 -3.6,2.5 -4,1.5 -3.8,2.2 -4.3,-0.9 -4.4,0.7 -3.8,2.2 -4.3,0.9 -4.2,-1.3 -4.3,0 -4.3,1.1 -4.3,-0.9 -3.6,-2.4 -3.8,-2.3 -4.3,-0.4 -4.3,-0.3 -4.2,-1.3 -3.4,-2.9 -4.3,0.4 -4.3,-1.2 -3.6,-2.4 -4.4,-0.6 -4.3,0.3 -4.2,-1.1 -3.3,-2.9 -3.5,-2.5 -4.3,-0.9 -4,-1.5 -1012,-2180.5Z" fill="#92c5de" stroke="#92c5de" stroke-width="0.9"/>
<path d="M864.8,772.5 l 3.7,1 3.9,0 3.7,-1.3 3.9,0.3 3,2 2,3 -3,3.1 -1.2,4.2 -2.2,3.6 -1.1,4.1 -3.4,1.5 -3,2 -3.5,1.4 -3.7,-0.4 -3.1,-2.9 -2.4,-3.5 -2.3,-3.6 -2.8,-3.2 1.2,-3.8 2.3,-3.4 3.5,-3Z" fill="#d6604d" stroke="#d6604d" stroke-width="0.9"/>
<path d="M877.5,792.5 l 3.1,2.5 2.4,3.2 2.3,3.3 3.5,2.3 3.7,-0.4 3.6,1.2 3.7,-0.2 3.6,-0.6 3.2,-1.6 2.5,-2.5 -1.4,-5.7 -1.6,-5.7 -1.2,-5.8 -3.2,-5 -4.2,1 -4.2,-0.8 -4.1,-1 -4.2,0.8 -3,3.1 -1.2,4.2 -2.2,3.6Z" fill="#d6604d" stroke="#d6604d" stroke-width="0.9"/>
<path d="M906.9,769.7 l 4.1,0.4 3.4,2.1 4,0.5 3.7,1.8 3.1,2.5 3.8,1.5 3.3,2.2 2.7,3.1 -1.3,5.3 -3.5,4.3 -3.8,1.6 -3.8,1.3 -2.8,3 -3.4,2.3 -3.4,-1.8 -3.9,-0.1 -1.4,-5.7 -1.6,-5.7 -1.2,-5.8 -3.2,-5 2.4,-4Z" fill="#4393c3" stroke="#4393c3" stroke-width="0.9"/>
<path d="M935,783.8 l 2.7,-1.7 2.7,-1.7 2.5,-2.1 1.5,-2.9 4,0.3 3.7,1.2 3.9,0.5 3.8,1.1 136.4,147.7 -166,-132.8 3.5,-4.3Z" fill="#4393c3" stroke="#4393c3" stroke-width="0.9"/>
<path d="M930.2,793.4 l 166,132.8 1522.1,1522.1 -536.2,579.2 -3.5,-0.5 -3.2,-1.6 -3.3,-1.4 -3.5,0 -3.6,-0.6 -3.4,1.1 -3.5,-1 -3.5,0.7 -3.6,-0.6 -3.5,1.1 -3.5,0.8 -3.5,0.4 -3.5,-0.6 -3.3,-1.3 -3.6,0 -3.3,-1.6 -1110.4,-2220.8 3.4,-2.3 2.8,-3 3.8,-1.3Z" fill="#4393c3" stroke="#4393c3" stroke-width="0.9"/>
<path d="M805,816.1 l 3.7,0.2 3.7,-0.1 3.8,2.8 3.2,3.5 0.9,4.1 2.7,3.3 2.4,3.5 0.4,4.2 1.9,3.8 0.7,4.2 3.5,2.6 2.2,3.7 1.6,3.1 0.3,3.6 1.2,3.3 2.3,2.7 -1.6,3.3 -0.2,3.6 1.1,3.4 0.1,3.6 0.2,3.5 0.4,3.4 -1,3.4 -1.3,3.2 -1.8,3 -1.9,2.8 -0.3,3.5 -1.2,3.3 -1.9,2.9 -0.5,3.4 0.3,3.5 -1.1,3.2 -1.8,2.9 -1.7,2.9 0,3.5 -1.3,3.2 -2.1,2.7 -1.4,3.1 -0.8,3.3 -1.6,3.1 -1.6,3 -2.2,2.7 -2.2,2.7 -3.2,1.4 -1.4,-2.8 -1.8,-2.6 -0.9,-3 -1.1,-3 0.9,-3.1 0.3,-3.2 -1.1,-3.1 -0.6,-3.1 1.2,-3 1.1,-2.9 1.3,-3 0.2,-3.2 -0.5,-3.1 0,-3.2 -0.6,-3.1 -0.9,-3.1 1.4,-5.7 -1.4,-5.7 0.3,-5.8 2.8,-5.2 -3.2,-4.9 -3.4,-4.8 -1.4,-5.7 0.4,-5.9 0.4,-5.7 -1.4,-5.5 2.1,-5.2 1.2,-5.5 2.3,-5.2 -0.1,-5.7 1.4,-5.5Z" fill="#d1e5f0" stroke="#d1e5f0" stroke-width="0.9"/>
<path d="M805,903.6 l 0.9,3.1 0.6,3.1 0,3.2 0.5,3.1 -0.2,3.2 -1.3,3 -1.1,2.9 -1.2,3 0.6,3.1 1.1,3.1 -0.3,3.2 -0.9,3.1 1.1,3 0.9,3 1.8,2.6 1.4,2.8 -0.4,3.8 0.4,3.7 0.5,3.7 1,3.7 -0.3,3.8 -0.7,3.8 -1.5,3.6 -2.9,2.7 -1.5,3.5 -1.1,3.5 -1.2,3.6 -2,3.2 1.3,3.6 0.6,3.8 -0.3,3.8 0,3.8 -0.7,3.8 -1.9,3.5 1.3,3.8 0.1,3.9 0.8,3.7 0.1,3.9 1.5,3.5 1.9,3.3 -0.1,3.8 -0.3,3.8 -0.8,3.7 -2.2,3.2 -0.8,3.7 -2.3,3.1 -1.1,3.5 -0.7,3.7 -0.6,-4.5 -1.8,-4.1 1.4,-4.4 -0.8,-4.5 -2.5,-3.6 -2.2,-3.8 -3.4,-2.9 -1.9,-4.1 -2.3,-3.7 -2,-3.9 0.2,-4.4 -0.6,-4.4 1.1,-4.3 0.6,-4.3 -0.3,-4.6 -2.4,-3.8 0.4,-3.2 -1,-3 0.5,-3.1 0.4,-3.1 -0.8,-3.1 -2.2,-2.3 -1.2,-2.9 -0.8,-3 0.8,-3 -0.2,-3.2 2.2,-2.3 0.9,-3 0.1,-3.2 -0.6,-3 0.5,-3.1 1.3,-2.8 -0.8,-3 -2.1,-2.3 -1.3,-2.8 -2.5,-1.9 -0.4,-3.1 -0.8,-3 -1.8,-2.6 -2.2,-2.2 -0.5,-3 -0.8,-3 -1.5,-2.7 -1.1,-2.8 0.3,-3.2 1.1,-2.9 -1.2,-3 0,-3.1 -0.5,-3.1 0.6,-3 -0.9,-2.9 -0.9,-2.9 -0.5,-3 -0.7,-2.9 -1,-2.9 -0.6,-2.9 -0.9,-3.1 0.5,-3.1 1.2,-2.9 1.5,-2.7 0.4,-3.1 -0.4,-3 0.5,-3 1.2,-2.8 0.5,-3.1 0.5,-3 1.6,-2.7 1.8,-2.5 2,-2.4 1.3,-2.8 1.6,-2.5 2.4,-2 1.2,-2.8 1.4,-2.7 0.2,-3.1 0.3,-3 1.1,-2.9 0.8,-3 -1,-3 0.2,-3.1 4.1,0 4,1.2 4.7,3.4 2.9,5 2.7,5 3.4,4.5 2,5.3 0.9,5.6 1,5.5 1.1,5.6 0.5,5.7 -1.5,5.6 -1.5,5.6 -2.5,5.1 0.6,5.8 2.9,5 0.2,5.7Z" fill="#92c5de" stroke="#92c5de" stroke-width="0.9"/>
<path d="M805,816.1 l 1.4,5.5 -1.4,5.5 0.1,5.7 -2.3,5.2 -1.2,5.5 -2.1,5.2 1.4,5.5 -0.4,5.7 -0.4,5.9 1.4,5.7 3.4,4.8 3.2,4.9 -2.8,5.2 -0.3,5.8 1.4,5.7 -1.4,5.7 -1.3,-5.5 -0.2,-5.7 -2.9,-5 -0.6,-5.8 2.5,-5.1 1.5,-5.6 1.5,-5.6 -0.5,-5.7 -1.1,-5.6 -1,-5.5 -0.9,-5.6 -2,-5.3 -3.4,-4.5 -2.7,-5 -2.9,-5 -4.7,-3.4 4.4,-1.4 4.2,-2.1 4.6,-1.2 4.7,0.6Z" fill="#d1e5f0" stroke="#d1e5f0" stroke-width="0.9"/>
<path d="M742.7,885.2 l 0.7,3.8 0.1,3.9 0.6,3.9 1.5,3.6 2.1,3.6 0.2,4.1 2.9,2.7 2.3,3.3 -0.7,3.9 -0.3,4 1,3.9 2,3.4 1.9,3.5 0.3,3.9 -0.3,3.9 1.2,3.8 0.5,3.9 1.7,3.6 0.2,3.9 0.2,3.9 0.7,3.9 -0.2,3.9 0.2,4 1.7,3.6 -0.6,4.1 1.3,3.9 2,3.6 1.5,3.7 2.4,3.4 1.8,3.6 3.7,1.8 2.8,3.1 0.4,-3.2 -1,-3 0.5,-3.1 0.4,-3.1 -0.8,-3.1 -2.2,-2.3 -1.2,-2.9 -0.8,-3 0.8,-3 -0.2,-3.2 2.2,-2.3 0.9,-3 0.1,-3.2 -0.6,-3 0.5,-3.1 1.3,-2.8 -0.8,-3 -2.1,-2.3 -1.3,-2.8 -2.5,-1.9 -0.4,-3.1 -0.8,-3 -1.8,-2.6 -2.2,-2.2 -0.5,-3 -0.8,-3 -1.5,-2.7 -1.1,-2.8 0.3,-3.2 1.1,-2.9 -1.2,-3 0,-3.1 -0.5,-3.1 0.6,-3 -0.9,-2.9 -0.9,-2.9 -0.5,-3 -0.7,-2.9 -1,-2.9 -0.6,-2.9 -0.9,-3.1 0.5,-3.1 1.2,-2.9 1.5,-2.7 0.4,-3.1 -0.4,-3 0.5,-3 1.2,-2.8 0.5,-3.1 0.5,-3 1.6,-2.7 1.8,-2.5 2,-2.4 1.3,-2.8 1.6,-2.5 2.4,-2 1.2,-2.8 1.4,-2.7 0.2,-3.1 0.3,-3 1.1,-2.9 0.8,-3 -1,-3 0.2,-3.1 -4.4,-2 -4.2,-2.5 -3,2.3 -3.4,1.5 -1.8,3.5 -3.1,2.2 -0.6,3.2 -0.7,3.1 0.5,3.3 -0.6,3.2 0,3.3 0.1,3.3 -2.1,2.7 -0.6,3.4 -1.5,3 -1.5,3 -2.5,2.2 -2.6,2.2 -0.5,3.3 0.1,3.4 -1.3,3.1 -1.3,3 -0.3,3.3 -1,3.2 -0.3,3.3Z" fill="#d1e5f0" stroke="#d1e5f0" stroke-width="0.9"/>
<path d="M604.5,708 l -2.9,-0.8 -3,-0.6 -3.1,0.5 -2.9,0.8 -2.2,1.5 1.5,5.2 0.5,5.5 3.3,4.3 2.5,4.9 0.1,5.4 0.2,5.4 -0.7,5.4 1.3,5.3 1.9,1.9 4,0.6 4,1 2.9,-4.1 3.7,-3.5 5.1,-0.7 4.3,-2.9 -0.2,-3.4 1.3,-3.3 -0.9,-3.3 -0.2,-3.4 -2.8,-2.6 -3.4,-1.9 -3.4,-1.8 -3.1,-2.2 -1.9,-3.4 -1.3,-3.6 -2,-3.4Z" fill="#d1e5f0" stroke="#d1e5f0" stroke-width="0.9"/>
<path d="M594.6,784.2 l -0.8,-3.3 -0.9,-3.3 -2.4,-2.6 -0.8,-3.4 3.6,-4.5 4.5,-3.5 2.7,-5.1 0.5,-5.8 4,0.6 4,1 2.6,5 4.1,3.8 1.9,5.2 1.2,5.5 -4.9,2.5 -4.1,3.5 -2.1,5.1 -3.9,3.9 -4.8,-2.1Z" fill="#d1e5f0" stroke="#d1e5f0" stroke-width="0.9"/>
<path d="M609,754.3 l 2.6,5 4.1,3.8 1.9,5.2 1.2,5.5 4.1,1.6 4.4,-0.3 3.7,2.5 4.5,0.3 3,-1.9 1.6,-3.1 0.9,-3.3 1.5,-3.1 3.1,-1.7 2.4,-2.5 2.2,-2.7 1,-3.4 -2.5,-2.7 -3,-2.4 -3.4,-1.9 -3.9,-0.1 -3.5,-1.1 -3.1,-2.1 -3.4,-1.4 -3.4,-1.4 -4.3,2.9 -5.1,0.7 -3.7,3.5Z" fill="#d1e5f0" stroke="#d1e5f0" stroke-width="0.9"/>
<path d="M574.4,795.3 l 5.3,-2.4 4.8,-3.1 5.3,-2.4 4.8,-3.2 4.4,2.5 4.8,2.1 0.5,5 2,4.8 1.4,4.8 1,5 -3.6,2.5 -3.6,2.5 -4.1,1.6 -4,1.6 -3,-2.1 -3.5,-1.3 -3.1,-2.3 -1.8,-3.3 -1.5,-3.3 -1.3,-3.5 -2.3,-2.8Z" fill="#d1e5f0" stroke="#d1e5f0" stroke-width="0.9"/>
<path d="M625,729.7 l 0.2,3.4 0.9,3.3 -1.3,3.3 0.2,3.4 3.4,1.4 3.4,1.4 3.1,2.1 3.5,1.1 3.9,0.1 3.4,1.9 3,2.4 2.5,2.7 1.3,-0.4 -0.5,-4.4 0.9,-4.4 -0.5,-4.4 -0.6,-4.4 0.2,-4.5 -0.9,-4.4 1.2,-4.3 0.2,-4.5 -2.7,-1.7 -3.2,1.3 -3.4,0.4 -3.5,0.2 -3.1,1.7 -2.8,2 -3,1.6 -2.7,2.1Z" fill="#d1e5f0" stroke="#d1e5f0" stroke-width="0.9"/>
<path d="M603.8,788.8 l 3.9,-3.9 2.1,-5.1 4.1,-3.5 4.9,-2.5 4.1,1.6 4.4,-0.3 3.7,2.5 4.5,0.3 0.9,4.2 1.8,3.8 0.3,4.3 1.6,3.9 -2.5,4.3 -1.2,4.8 -1.3,4.8 -2.3,4.3 -4.2,2.3 -5.1,-1 -4.9,-1.8 -5.2,-1.2 -4.7,-2.2 -1,-5 -1.4,-4.8 -2,-4.8Z" fill="#d1e5f0" stroke="#d1e5f0" stroke-width="0.9"/>
<path d="M604.6,707.9 l 4.7,-1.4 4.7,-1.4 4.9,-0.5 4.8,1.1 4.7,-1.3 4.8,-0.7 4.3,-2.1 4.7,-1.3 2.8,4.3 3.2,4 1,5.1 0.6,5.1 -3.2,1.3 -3.4,0.4 -3.5,0.2 -3.1,1.7 -2.8,2 -3,1.6 -2.7,2.1 -3.1,1.6 -2.8,-2.6 -3.4,-1.9 -3.4,-1.8 -3.1,-2.2 -1.9,-3.4 -1.3,-3.6 -2,-3.4 -2.6,-2.8Z" fill="#4393c3" stroke="#4393c3" stroke-width="0.9"/>
<path d="M560,824.8 l -1.2,3.2 -1.9,2.8 -0.7,3.3 -1.5,3.1 3.6,3.6 2.3,4.5 3.7,3.5 4.5,2.4 3.9,-0.4 3.7,-1.2 3.8,-1.2 3.5,-1.6 2.3,-2.8 2.9,-2.2 1.4,-3.4 2.8,-2.4 -1.8,-3.4 0,-3.8 0.6,-3.8 -1.3,-3.6 -3.8,-0.2 -3.9,0.5 -3.8,0.1 -3.8,0.6 -3.9,0.5 -3.6,1.4 -3.9,0.7Z" fill="#4393c3" stroke="#4393c3" stroke-width="0.9"/>
<path d="M548,839.1 l -2.7,2.3 -1.7,3.3 -1.6,3.2 -1.1,3.4 -1,3.4 -2.1,2.9 -1.5,3.4 -2.8,2.3 -5.3,1.9 -5.4,1.9 -4.5,3.5 -4.9,2.8 -3.5,4.4 -3.6,4.4 -4.9,2.9 -4.2,4 2.6,-5.1 0.7,-5.6 0.5,-5.6 -1.7,-5.4 2.2,-2.3 0.8,-3 1.5,-2.7 2.4,-2 1.2,-2.8 1.8,-2.5 2.7,-1.5 1.9,-2.5 2.6,-1.8 1.8,-2.5 2.9,-1.2 2.2,-2.3 1,-2.9 1.9,-2.5 2,-2.4 1.3,-2.8 5.2,1.1 4.4,3 3.9,3.6Z" fill="#92c5de" stroke="#92c5de" stroke-width="0.9"/>
<path d="M529.5,829.7 l -1.3,2.8 -2,2.4 -1.9,2.5 -1,2.9 -2.2,2.3 -2.9,1.2 -1.8,2.5 -2.6,1.8 -1.9,2.5 -2.7,1.5 -1.8,2.5 -1.2,2.8 -2.4,2 -1.5,2.7 -0.8,3 -2.2,2.3 -0.8,-5.1 -1.3,-5 -1.2,-5.1 0.1,-5.2 -2.1,-4.9 -1.5,-5.1 0.5,-5.4 1.1,-5.2 3.8,-0.2 3.8,-0.9 3.5,-1.6 3.6,-1.4 3.9,-0.3 3.8,0.3 3.6,-1.5 4,0.1 3.8,3.7Z" fill="#92c5de" stroke="#92c5de" stroke-width="0.9"/>
<path d="M554.7,837.2 l 3.6,3.6 2.3,4.5 3.7,3.5 4.5,2.4 -0.8,5.2 0.1,5.2 1,5.1 -0.3,5.3 -4.6,-0.8 -4.6,0.2 -4.5,-0.8 -4.4,-1.3 -4.1,-2.3 -4.7,-0.2 -3.9,-2.4 -4.5,-1.1 2.8,-2.3 1.5,-3.4 2.1,-2.9 1,-3.4 1.1,-3.4 1.6,-3.2 1.7,-3.3 2.7,-2.3 3.2,-1.5Z" fill="#92c5de" stroke="#92c5de" stroke-width="0.9"/>
<path d="M492.7,898.4 l -0.3,4.2 -1.8,3.7 0.4,3.4 1.9,2.9 2,2.8 0.5,3.4 1.2,3.2 0.2,3.4 -0.7,3.3 0,3.4 2.2,2.8 3.2,1.4 2.3,2.6 2.6,2.1 0.3,3.5 1.2,3.2 2.2,2.8 1,3.3 0.1,3.3 -1.3,3.1 -0.5,3.2 -0.1,3.3 -1.5,3 -0.8,3.3 -0.3,3.3 0.6,3.3 0.4,3.3 0.1,3.2 1.1,3.1 0.6,3.3 -0.4,3.3 1.2,3.2 -0.2,3.2 0.5,3.3 154.4,456.4 -17.4,-204.2 -61.6,-344.1 -2.9,-5 -3.5,-4.5 -1,-5.6 -2.5,-5.2 -0.8,-5.7 -1,-5.6 -3.1,-4.9 -2.4,-5.1 -4.6,-0.8 -4.6,0.2 -4.5,-0.8 -4.4,-1.3 -4.1,-2.3 -4.7,-0.2 -3.9,-2.4 -4.5,-1.1 -5.3,1.9 -5.4,1.9 -4.5,3.5 -4.9,2.8 -3.5,4.4 -3.6,4.4 -4.9,2.9 -4.2,4 -3,4.3Z" fill="#92c5de" stroke="#92c5de" stroke-width="0.9"/>
<path d="M596.2,862.7 l -2.5,2.4 -1.9,2.9 -2,2.8 -2,2.8 -1.4,3.2 -1,3.3 -0.5,3.6 0.9,3.4 -1.5,3.1 -0.7,3.4 0.3,3.4 0.4,3.3 1.7,3.1 0,3.4 -0.1,3.4 0.1,3.4 -2.9,-5 -3.5,-4.5 -1,-5.6 -2.5,-5.2 -0.8,-5.7 -1,-5.6 -3.1,-4.9 -2.4,-5.1 0.3,-5.3 -1,-5.1 -0.1,-5.2 0.8,-5.2 3.9,-0.4 3.7,-1.2 3.8,-1.2 3.5,-1.6 2.7,4.3 2.7,4.3 2.6,4.5Z" fill="#92c5de" stroke="#92c5de" stroke-width="0.9"/>
<path d="M600.6,839.9 l -0.8,4.8 -0.8,4.7 0.9,4.8 0.8,4.7 5.7,-0.7 5.7,-1.4 0.5,-4 1.6,-3.6 0.4,-3.9 -1.2,-3.9 -3.2,0.2 -3.3,-0.4 -3.1,-0.8Z" fill="#d6604d" stroke="#d6604d" stroke-width="0.9"/>
<path d="M593.4,816.6 l 4,-1.6 4.1,-1.6 3.6,-2.5 3.6,-2.5 4.7,2.2 5.2,1.2 4.9,1.8 5.1,1 -0.2,5.1 -1.4,4.8 0.6,5.1 -1.6,4.8 -3.2,2 -2.3,3 -3.6,0.8 -3.5,1.2 -3.2,0.2 -3.3,-0.4 -3.1,-0.8 -3.2,-0.5 -3.6,-2.3 -3.9,-1.6 -1.8,-3.4 0,-3.8 0.6,-3.8 -1.3,-3.6Z" fill="#92c5de" stroke="#92c5de" stroke-width="0.9"/>
<path d="M626,834.4 l 2.9,3 1.2,3.9 2.5,3.2 2.8,2.9 2.6,3.2 1.3,3.8 2.2,3.4 2.8,2.9 -0.6,3.2 -0.2,3.2 -1.1,3.1 -0.9,3.2 -0.2,3.2 -0.6,3.2 -0.7,3.3 0.5,3.2 -1.7,-5 -3.8,-3.7 -3.8,-3.6 -2.9,-4.4 -5,-1.8 -4.1,-3.4 -3.5,-3.9 -3.6,-3.7 0.5,-4 1.6,-3.6 0.4,-3.9 -1.2,-3.9 3.5,-1.2 3.6,-0.8 2.3,-3Z" fill="#92c5de" stroke="#92c5de" stroke-width="0.9"/>
<path d="M626,834.4 l 2.9,3 1.2,3.9 2.5,3.2 2.8,2.9 2.6,3.2 1.3,3.8 2.2,3.4 2.8,2.9 3.9,-3.9 1.9,-3.7 1.1,-3.9 -0.1,-4.1 -0.8,-3.9 1.6,-3.7 1.7,-3.5 1,-3.9 2.2,-3.3 -1.9,-2.6 -0.9,-3 -4.8,-3.2 -5.4,-2.1 -5.7,-1.1 -5.3,-2.5 -4.2,2.3 -0.2,5.1 -1.4,4.8 0.6,5.1Z" fill="#92c5de" stroke="#92c5de" stroke-width="0.9"/>
<path d="M674.5,834.9 l -4.7,-1.4 -4.5,-2 -3.8,-3.1 -4.7,-1.6 -2.2,3.3 -1,3.9 -1.7,3.5 -1.6,3.7 0.8,3.9 0.1,4.1 -1.1,3.9 -1.9,3.7 3.2,-2.3 3.5,-1.6 3.4,-1.9 3.3,-2 3.6,-1.5 3.7,-1.4 3.9,0.2 3.9,-0.2 -2.2,-5.4Z" fill="#92c5de" stroke="#92c5de" stroke-width="0.9"/>
<path d="M680,848.7 l 126.4,332.7 195.9,1762.9 -3.1,-0.3 -3,-0.5 -3.1,0.5 -3,-0.1 -325.1,-1482 -17.4,-204.2 -3.1,-315.5 1.3,-2.9 1.6,-2.9 2.5,-1.9 1.8,-2.8 2.1,-2.4 1.3,-2.9 1.3,-2.9 1.7,-2.7 2,-2.6 1.1,-3.1 0.3,-3.3 -0.2,-3.2 0.5,-3.2 0.1,-3.2 0.9,-3.2 2.3,-2.5 2.3,-2.4 2.8,-1.8 2.5,-2.3 1.5,-3 1,-3.3 -0.2,-3.4 1.5,-3 1.4,-3 0,-3.4 0.3,-3.3 -0.7,-3.4 -1.8,-2.9 1.5,-3 1.3,-3.1 1.4,-3.1Z" fill="#92c5de" stroke="#92c5de" stroke-width="0.9"/>
<path d="M688,847.6 l 3.6,2.6 4,1.9 4.5,0.1 4.2,1.9 5.1,0.5 4.5,2.7 4.9,1.5 4,3.4 3.7,3.5 2.1,4.7 4.1,3.2 2.7,4.3 3.2,4 4.1,3.3 0.7,3.8 0.1,3.9 0.6,3.9 1.5,3.6 2.1,3.6 0.2,4.1 2.9,2.7 2.3,3.3 -0.7,3.9 -0.3,4 1,3.9 2,3.4 1.9,3.5 0.3,3.9 -0.3,3.9 1.2,3.8 0.5,3.9 1.7,3.6 0.2,3.9 0.2,3.9 0.7,3.9 -0.2,3.9 0.2,4 1.7,3.6 -0.6,4.1 1.3,3.9 2,3.6 1.5,3.7 2.4,3.4 1.8,3.6 3.7,1.8 2.8,3.1 2.4,3.8 0.3,4.6 -0.6,4.3 -1.1,4.3 0.6,4.4 -0.2,4.4 2,3.9 2.3,3.7 1.9,4.1 3.4,2.9 2.2,3.8 2.5,3.6 0.8,4.5 -1.4,4.4 1.8,4.1 0.6,4.5 -0.3,3.8 -0.6,3.8 0.4,3.9 -0.8,3.8 0.6,3.9 2.3,3.2 1.7,3.5 1,3.7 -0.6,4 -1.5,3.6 0,4 0.7,3.9 -2.4,3.1 -1.2,3.8 -3,2.5 -2,3.4 0.3,3.9 1.4,3.7 0.8,3.8 1.8,3.4 -1.2,3.7 -0.9,3.8 0.5,4 -1.4,3.7 2,3.2 1.5,3.6 2.9,2.5 2.6,2.8 1.2,3.7 2.4,3 0.6,3.8 2,3.3 -126.4,-332.7 0,-0.3 3.9,-0.9Z" fill="#92c5de" stroke="#92c5de" stroke-width="0.9"/>
<path d="M644.3,860.7 l 3.9,-3.9 3.2,-2.3 3.5,-1.6 3.4,-1.9 3.3,-2 3.6,-1.5 3.7,-1.4 3.9,0.2 3.9,-0.2 3.3,2.3 0,0.3 -0.1,3.4 -1.4,3.1 -1.3,3.1 -1.5,3 1.8,2.9 0.7,3.4 -0.3,3.3 0,3.4 -1.4,3 -1.5,3 0.2,3.4 -1,3.3 -1.5,3 -2.5,2.3 -2.8,1.8 -2.3,2.4 -2.3,2.5 -0.9,3.2 -0.1,3.2 -0.5,3.2 0.2,3.2 -0.3,3.3 -1.1,3.1 -2,2.6 -1.7,2.7 -1.3,2.9 -1.3,2.9 -2.1,2.4 -1.8,2.8 -2.5,1.9 -1.6,2.9 -1.3,2.9 2.7,-2.7 1.1,-3.7 0.5,-3.7 0.7,-3.7 -0.1,-3.7 0.8,-3.7 0,-3.7 -1.6,-3.5 -0.6,-3.6 0.5,-3.7 -1.6,-3.3 -0.1,-3.8 -0.8,-3.6 -0.9,-3.6 -2.2,-3.1 -2.4,-2.8 -0.5,-3.2 0.7,-3.3 0.6,-3.2 0.2,-3.2 0.9,-3.2 1.1,-3.1 0.2,-3.2Z" fill="#92c5de" stroke="#92c5de" stroke-width="0.9"/>
<path d="M680.9,826.2 l -2.4,4.9 -4,3.8 -4.7,-1.4 -4.5,-2 -3.8,-3.1 -4.7,-1.6 -1.9,-2.6 -0.9,-3 2.5,-2 3.1,-0.6 2.9,-1 2.5,-1.8 1.4,-2.7 2.2,-2.2 2.4,-2 2.2,-2 3.1,1.8 2.7,2.5 -0.7,3.8 0.7,3.8 1.4,3.6Z" fill="#2166ac" stroke="#2166ac" stroke-width="0.9"/>
<path d="M651.2,756.2 l -1,3.4 -2.2,2.7 -2.4,2.5 -3.1,1.7 -1.5,3.1 -0.9,3.3 -1.6,3.1 -3,1.9 0.9,4.2 1.8,3.8 0.3,4.3 1.6,3.9 3.6,-1.7 3.6,-1.6 3.9,0.4 4,-0.2 3.8,0.8 3.9,-0.3 3.9,0.3 3.8,-0.7 2.9,-4.8 2.9,-4.7 0,-3.2 -0.6,-3.1 -0.2,-3.2 -1.3,-3 -2.6,-1.8 -1.8,-2.7 -2,-2.6 -1.2,-3 -3.3,-1.5 -3.6,-0.9 -3.7,-0.2 -3.6,-0.6Z" fill="#d1e5f0" stroke="#d1e5f0" stroke-width="0.9"/>
<path d="M640.1,794.1 l 3.6,-1.7 3.6,-1.6 3.9,0.4 4,-0.2 3.8,0.8 3.9,-0.3 3.9,0.3 3.8,-0.7 1.6,3.8 -0.2,4.1 -0.1,4 1.3,3.9 -2.2,2 -2.4,2 -2.2,2.2 -1.4,2.7 -2.5,1.8 -2.9,1 -3.1,0.6 -2.5,2 -4.8,-3.2 -5.4,-2.1 -5.7,-1.1 -5.3,-2.5 2.3,-4.3 1.3,-4.8 1.2,-4.8Z" fill="#d1e5f0" stroke="#d1e5f0" stroke-width="0.9"/>
<path d="M696.9,828.9 l -1.6,4.9 -3,4.4 -2.2,4.7 -2.1,4.7 -4.1,-0.1 -3.9,0.9 -3.3,-2.3 -2.2,-5.4 0,-5.8 4,-3.8 2.4,-4.9 4.1,0.5 4.1,-0.4 4,1Z" fill="#92c5de" stroke="#92c5de" stroke-width="0.9"/>
<path d="M696.9,828.9 l -1.6,4.9 -3,4.4 -2.2,4.7 -2.1,4.7 3.6,2.6 4,1.9 4.5,0.1 4.2,1.9 -1.1,-3.3 -0.3,-3.5 1,-3.4 0.6,-3.4 -1.3,-3.2 -0.9,-3.3 -0.8,-3.3 -1.1,-3.2Z" fill="#4393c3" stroke="#4393c3" stroke-width="0.9"/>
<path d="M700.4,827.5 l 1.1,3.2 0.8,3.3 0.9,3.3 1.3,3.2 -0.6,3.4 -1,3.4 0.3,3.5 1.1,3.3 5.1,0.5 4.5,2.7 4.9,1.5 4,3.4 3.7,3.5 2.1,4.7 4.1,3.2 2.7,4.3 -2.9,-2.9 -3.7,-1.9 -2.2,-3.5 -1.2,-3.9 -1.6,-3.6 -1.9,-3.6 -2.7,-2.9 -3,-2.7 -1.4,-3.8 -2.4,-3.3 -0.8,-4 0,-4 -0.4,-4.1 -1.5,-3.7 -2,-3.5 -2.7,-3.1 -2.6,1.7Z" fill="#4393c3" stroke="#4393c3" stroke-width="0.9"/>
<path d="M705,823.4 l 2.7,3.1 2,3.5 1.5,3.7 0.4,4.1 0,4 0.8,4 2.4,3.3 1.4,3.8 3,2.7 2.7,2.9 1.9,3.6 1.6,3.6 1.2,3.9 2.2,3.5 3.7,1.9 2.9,2.9 3.2,4 4.1,3.3 -1.1,-3.2 0.3,-3.3 1,-3.2 0.3,-3.3 0.7,-3.6 -0.5,-3.6 -1.3,-3.4 -0.9,-3.5 -1.6,-3.4 -2.7,-2.6 -0.6,-3.6 -1.1,-3.5 -0.8,-3.5 -2,-3.1 -1.7,-3.1 -1.7,-3.1 -1,-3.6 -2.5,-2.9 0.5,-3.7 -0.7,-3.6 -4.5,2.2 -5,0.7 -4.9,0.6 -5,-0.4Z" fill="#92c5de" stroke="#92c5de" stroke-width="0.9"/>
<path d="M699.1,808.7 l 2.2,-3.3 1.3,-3.9 1.1,-3.9 -0.3,-4 -0.9,-5.6 -3,-4.7 -5.8,-0.7 -5.8,-0.3 -5.7,-0.2 -5.8,-0.5 -2.9,4.7 -2.9,4.8 1.6,3.8 -0.2,4.1 -0.1,4 1.3,3.9 3.1,1.8 2.7,2.5 5.1,0.3 4.9,-1.5 4.9,-1.9Z" fill="#d1e5f0" stroke="#d1e5f0" stroke-width="0.9"/>
<path d="M696.9,828.9 l -3.8,-1.6 -4,-1 -4.1,0.4 -4.1,-0.5 -0.5,-3.8 -1.4,-3.6 -0.7,-3.8 0.7,-3.8 5.1,0.3 4.9,-1.5 4.9,-1.9 5.2,0.6 1.9,3.1 2.1,3 2,3.1 0.8,3.6 -0.9,1.9 -2.6,1.7 -2,2.4Z" fill="#d1e5f0" stroke="#d1e5f0" stroke-width="0.9"/>
<path d="M743.2,872.2 l 1.3,-3 1.3,-3.1 -0.1,-3.4 0.5,-3.3 2.6,-2.2 2.5,-2.2 1.5,-3 1.5,-3 0.6,-3.4 2.1,-2.7 -0.1,-3.3 0,-3.3 0.6,-3.2 -0.5,-3.3 0.7,-3.1 0.6,-3.2 -3.9,-1.3 -3.3,-2.2 -2.9,-2.9 -1.8,-3.6 -4,-0.5 -4,0.1 -3,-2.8 -3.9,-1.3 -3.6,4.4 -2.6,5 0.7,3.6 -0.5,3.7 2.5,2.9 1,3.6 1.7,3.1 1.7,3.1 2,3.1 0.8,3.5 1.1,3.5 0.6,3.6 2.7,2.6 1.6,3.4 0.9,3.5 1.3,3.4 0.5,3.6Z" fill="#d1e5f0" stroke="#d1e5f0" stroke-width="0.9"/>
<path d="M699.9,782.7 l -0.4,-3.3 0,-3.3 -0.8,-3.2 0.4,-3.3 -1.5,-2.8 -2.1,-2.1 -1.7,-2.6 -1.6,-2.6 -0.4,-3.1 0.4,-3 -0.3,-3.2 -1.6,-2.7 -0.4,-0.2 -3.7,0.9 -3.9,0.2 -3.6,1.2 -3.2,2.1 -3.9,4.3 -4.9,3 1.2,3 2,2.6 1.8,2.7 2.6,1.8 1.3,3 0.2,3.2 0.6,3.1 0,3.2 5.8,0.5 5.7,0.2 5.8,0.3 5.8,0.7Z" fill="#92c5de" stroke="#92c5de" stroke-width="0.9"/>
<path d="M699.1,769.6 l -1.5,-2.8 -2.1,-2.1 -1.7,-2.6 -1.6,-2.6 -0.4,-3.1 0.4,-3 -0.3,-3.2 -1.6,-2.7 5.9,-0.8 5.7,1.5 6,0.5 5.3,2.8 -2.2,5.5 -2.7,5.2 -4.5,3.8Z" fill="#92c5de" stroke="#92c5de" stroke-width="0.9"/>
<path d="M669.9,718 l 0.3,4.4 -0.5,4.4 2.1,3.8 1.5,4.1 0.8,4.2 1,4.2 -0.1,4.3 0.5,4.3 3.2,-2.1 3.6,-1.2 3.9,-0.2 3.7,-0.9 0.1,-6 1,-5.9 0.4,-3 1.4,-2.7 1.5,-2.6 2,-2.3 -0.8,-5.1 -1.8,-4.7 -2.4,-4.6 -4.1,-3.2 -0.5,-0.4 -4.4,2.9 -2.9,4.3 -4.3,3.3Z" fill="#d1e5f0" stroke="#d1e5f0" stroke-width="0.9"/>
<path d="M652.5,720.5 l -0.2,4.5 -1.2,4.3 0.9,4.4 -0.2,4.5 0.6,4.4 0.5,4.4 -0.9,4.4 0.5,4.4 3.6,0.6 3.7,0.2 3.6,0.9 3.3,1.5 4.9,-3 3.9,-4.3 -0.5,-4.3 0.1,-4.3 -1,-4.2 -0.8,-4.2 -1.5,-4.1 -2.1,-3.8 0.5,-4.4 -0.3,-4.4 -4.5,-0.2 -4.4,0.3 -4.2,1.2Z" fill="#d1e5f0" stroke="#d1e5f0" stroke-width="0.9"/>
<path d="M307.2,883.8 l -3.9,2.4 -2.5,4 -3.8,2.7 -4.5,1.1 -3.2,3.2 -1.7,4.3 -2.3,4 -3.1,3.3 -3,-3.8 -3.2,-3.6 -3,-3.7 -3.2,-3.6 -4,-2.9 -2.3,-4.4 -3.2,-3.8 -4.4,-2.1 -4.4,-2.5 -2.9,-4.1 -2.4,-4.3 -2.8,-4 -2.1,-4.7 -4,-3.2 -0.1,-5.1 -1.5,-4.8 -2,-4.8 -3.8,-3.6 -4.3,-2.7 -4.8,-1.9 -2.5,-4.4 -3.6,-3.4 -1.2,-5 -3,-4 -3.7,-3.4 -4.1,-2.8 -4.4,-2.3 -4.4,-2.2 -4.1,-3.1 -4.6,-1.9 -5,-0.6 -5.1,-0.5 3.5,0.6 3.4,0.7 3.3,-1.1 3.5,0 3.5,-0.4 3,-1.7 3.3,-0.9 3.4,-0.6 3.2,2.7 3.4,2.5 3.5,2.4 2.9,3.1 2.8,3.3 3.8,1.9 4,1.6 3,3.2 2.9,3.3 4.1,1.7 4.5,-0.1 3.9,2 3.3,2.7 3.6,2.3 3.3,2.7 4.1,1.3 3.7,2.5 4.2,1.6 3.1,3.2 3.8,2.4 2.8,3.4 3.3,3 1.7,4.2 2.3,3.8 3.6,2.6 3.5,2.7 2.3,3.9 1.6,4.2 3.4,2.8 2.8,3.3 4,2Z" fill="#d1e5f0" stroke="#d1e5f0" stroke-width="0.9"/>
<path d="M307.2,983.8 l -181.8,-181.9 3.1,0.8 3.1,0.4 3.2,0.7 3.3,-0.3 2.6,-2 3,-1.4 3.3,0.5 3.2,-1.1 3.2,-0.2 3.2,0.5 2.8,1.7 3.2,0.5 3.1,-0.7 3.1,-0.4 3.1,0.7 3.2,0 5.1,0.5 5,0.6 4.6,1.9 4.1,3.1 4.4,2.2 4.4,2.3 4.1,2.8 3.7,3.4 3,4 1.2,5 3.6,3.4 2.5,4.4 4.8,1.9 4.3,2.7 3.8,3.6 2,4.8 1.5,4.8 0.1,5.1 4,3.2 2.1,4.7 2.8,4 2.4,4.3 2.9,4.1 4.4,2.5 4.4,2.1 3.2,3.8 2.3,4.4 4,2.9 3.2,3.6 3,3.7 3.2,3.6 3,3.8 2.7,4.3 2.7,4.2 1.4,4.9 0.3,5 0.5,5.1 -0.1,5.1 2.7,4.3 2.3,4.6 1.6,4.9 0.7,5.1 3,4.1 3.6,3.7 0.4,5.1 -0.3,5 1.2,5Z" fill="#d1e5f0" stroke="#d1e5f0" stroke-width="0.9"/>
<path d="M307.2,983.8 l -181.8,-181.9 -5.1,-2.6 -5.7,-0.5 -5.5,0.8 -5.4,1.5 -4.7,-3 -4,-3.9 -5.2,-2 -5.4,-0.9 -4.7,-3.1 -5.5,-0.8 -5.2,-1.8 -4.7,-2.9 -5.4,-0.3 -5.5,0.8 -5.3,1.7 -5.5,-0.6 -5.6,-0.7 -5.5,-1.1 -4.3,-3.6 -5.1,-2.3 -5.5,1.3 -5.5,-1.2 -5.5,-0.3 -5.5,0.1 -5.5,-0.9 -5.5,0.4 -5.6,0.9 -5.5,-0.7 -5.4,1.5 -4.7,3.1 -4.5,3.5 -5.4,1.7 -2029.2,-81.9 -97.5,1023.8 1169.9,1348.2 1505.8,-114.8 -177.1,-1918.6 -2.7,-2.1 -2,-2.8 -2.1,-2.9 -0.7,-3.4 -1.6,-3.1 -0.5,-3.5 0.4,-3.4 0.4,-3.4 -1.3,-3.1 -0.9,-3.3 -2.5,-2.3 -1.7,-3 -0.3,-3.4 -1.5,-3 -0.7,-3.4 0.8,-3.3 -2.3,-5.2Z" fill="#d1e5f0" stroke="#d1e5f0" stroke-width="0.9"/>
<path d="M336.5,867.5 l -3,-4.5 -3.5,-4.2 -5.4,-1.6 -4.1,-3.7 -3.9,-1.3 -4.1,-0.3 -3.7,-1.6 -4.1,-0.7 -3.6,-2.1 -3.9,-1.1 -4.1,-0.5 -4.2,-0.2 -4,-0.9 -4.2,0 -4.1,-0.3 -4,-1.3 -3.4,-2.5 -2.9,-3.2 -3.7,-2.2 -4.3,-0.5 3.7,2.5 4.2,1.6 3.1,3.2 3.8,2.4 2.8,3.4 3.3,3 1.7,4.2 2.3,3.8 3.6,2.6 3.5,2.7 2.3,3.9 1.6,4.2 3.4,2.8 2.8,3.3 4,2 2.8,3.4 4.2,1.3 3.3,-2.2 2.4,-3.1 3.8,-1.3 3.7,-1.2 2.1,-3.4 3.2,-2.4 3.3,-2 3.3,-2Z" fill="#d1e5f0" stroke="#d1e5f0" stroke-width="0.9"/>
<path d="M311.4,885.1 l 1.8,5.3 2.4,4.9 2.7,4.9 1.6,5.4 0.8,5.5 0.5,5.6 0.6,5.6 -1.1,5.5 0.2,5.8 -2.7,5.1 -2.7,5 -1.1,5.5 1.7,5.6 3,5 0.9,5.9 -1.8,5.7 -0.9,5.7 -3,4.9 0.7,5.8 -2,5.5 -2.3,-5.2 -3.5,-4.3 -2.3,-4.6 -1.2,-5 0.3,-5 -0.4,-5.1 -3.6,-3.7 -3,-4.1 -0.7,-5.1 -1.6,-4.9 -2.3,-4.6 -2.7,-4.3 0.1,-5.1 -0.5,-5.1 -0.3,-5 -1.4,-4.9 -2.7,-4.2 -2.7,-4.3 3.1,-3.3 2.3,-4 1.7,-4.3 3.2,-3.2 4.5,-1.1 3.8,-2.7 2.5,-4 3.9,-2.4Z" fill="#d1e5f0" stroke="#d1e5f0" stroke-width="0.9"/>
<path d="M344.6,887.8 l 0,-5.7 -1.8,-5.3 -4,-4.1 -2.3,-5.2 -3.3,2 -3.3,2 -3.2,2.4 -2.1,3.4 -3.7,1.2 -3.8,1.3 -2.4,3.1 -3.3,2.2 1.8,5.3 2.4,4.9 2.7,4.9 1.6,5.4 2.6,-2.2 3.1,-1.3 2.6,-2.1 2.7,-2 3,-1.5 3.5,-0.1 3.1,-1.2 2.8,-1.8Z" fill="#d1e5f0" stroke="#d1e5f0" stroke-width="0.9"/>
<path d="M320.5,853.5 l 3.1,-4.6 3.7,-4.1 1.5,-5.3 1.4,-5.3 -5.4,-1.8 -4,-4 -4.1,-3.8 -5.2,-2.2 -4.2,-3.6 -4,-3.8 -3.2,-4.5 -3.7,-4.1 -2.8,-4.9 -1.7,-5.4 -2.4,-5.1 -3,-4.8 -3.7,-4.3 -4.1,-3.9 -5.7,-1.5 -4.4,-3.9 -3,3.7 -2.3,4.2 -3.8,3 -3.6,3 -4.4,2 -3.8,3 -4.4,1.9 -4.9,0.1 -4.6,1.1 -4.7,0.2 -4.1,2.3 -4.5,1.4 -4.4,1.9 -4.9,0.3 -4.6,-1.3 -4.6,-1.2 3.2,2.7 3.4,2.5 3.5,2.4 2.9,3.1 2.8,3.3 3.8,1.9 4,1.6 3,3.2 2.9,3.3 4.1,1.7 4.5,-0.1 3.9,2 3.3,2.7 3.6,2.3 3.3,2.7 4.1,1.3 4.3,0.5 3.7,2.2 2.9,3.2 3.4,2.5 4,1.3 4.1,0.3 4.2,0 4,0.9 4.2,0.2 4.1,0.5 3.9,1.1 3.6,2.1 4.1,0.7 3.7,1.6 4.1,0.3Z" fill="#d1e5f0" stroke="#d1e5f0" stroke-width="0.9"/>
<path d="M351.9,839.6 l -5.6,-0.8 -5.1,-2.7 -5.7,-0.1 -5.3,-1.8 -5.4,-1.8 -4,-4 -4.1,-3.8 -5.2,-2.2 -4.2,-3.6 -4,-3.8 -3.2,-4.5 -3.7,-4.1 -2.8,-4.9 -1.7,-5.4 -2.4,-5.1 -3,-4.8 -3.7,-4.3 -4.1,-3.9 -5.7,-1.5 -4.4,-3.9 4.6,-2.4 4.9,1.6 3.9,3.3 3.2,3.9 3.4,3.7 4.9,1.4 4.5,2.1 4.6,2.3 3.4,3.8 5.1,0.2 4.8,1.6 5.1,0.7 5,-1.2 4.5,2.5 5,0.8 4.7,2 4.2,2.9 2.9,4.1 0.6,4.9 1.4,4.7 1.1,4.7 1.9,4.7 -0.5,5 -0.9,4.9Z" fill="#4393c3" stroke="#4393c3" stroke-width="0.9"/>
<path d="M378.9,826.3 l -3.7,0.5 -3.2,2 -3.5,1.3 -2.5,2.8 -3.7,0.8 -3.4,1.8 -1.7,3.4 -3.2,2.3 -0.7,0.1 -1.4,-1.7 -1,-4.8 0.9,-4.9 0.5,-5 -1.9,-4.7 -1.1,-4.7 -1.4,-4.7 -0.6,-4.9 -2.9,-4.1 4.4,-0.1 4.2,-1 5,1.9 4.9,1.8 5.3,0.8 4.8,2.1 2.7,4.3 1.5,4.8 1.2,4.9Z" fill="#4393c3" stroke="#4393c3" stroke-width="0.9"/>
<path d="M353.3,841.3 l -3.1,4.7 -2.4,5 -0.3,5.8 -3,5 -4.7,1.8 -3.3,3.9 -3,-4.5 -3.5,-4.2 -5.4,-1.6 -4.1,-3.7 3.1,-4.6 3.7,-4.1 1.5,-5.3 1.4,-5.3 5.3,1.8 5.7,0.1 5.1,2.7 5.6,0.8Z" fill="#4393c3" stroke="#4393c3" stroke-width="0.9"/>
<path d="M373,807.3 l -4.8,-2.1 -5.3,-0.8 -4.9,-1.8 -5,-1.9 0.6,-3 1.1,-2.8 1,-2.9 0.1,-3 2.3,-2 1.7,-2.6 1.1,-2.8 1.1,-2.8 2.2,-2.2 2.3,-2 2.7,-1.6 2.9,-1 0.9,-2.9 1.5,-2.7 2.7,-1.7 1.6,-2.7 1.2,5.5 -1.6,5.4 -1,5.4 -1.2,5.3 -0.4,5.7 -2.8,5 2.1,5.3 0.2,5.7Z" fill="#92c5de" stroke="#92c5de" stroke-width="0.9"/>
<path d="M353,800.7 l 0.6,-3 1.1,-2.8 1,-2.9 0.1,-3 2.3,-2 1.7,-2.6 1.1,-2.8 1.1,-2.8 2.2,-2.2 2.3,-2 2.7,-1.6 2.9,-1 0.9,-2.9 1.5,-2.7 2.7,-1.7 1.6,-2.7 1.3,-2.8 0.6,-3.1 1.8,-2.6 1.1,-2.9 -0.7,-4 0.8,-3.9 -3,-1.6 -2.2,-2.6 -3,-1.7 -3.3,-0.8 -3.4,-0.3 -3.2,-1.3 -2.8,-2 -2.5,-2.3 -3.3,1.1 -3.4,0.1 -3.2,1.3 -3.4,0.5 -3.3,-1.1 -3.1,-1.4 -3.3,-1.2 -3.5,0.1 -5.2,1.7 -5.2,1.4 -2.1,3.3 -2.6,2.9 -3.3,2.2 -3.6,1.5 -2.8,2.7 -3.4,2 -2.2,3.2 -1.6,3.6 -2.7,2.8 -3.6,1.4 -3.5,1.7 -3.1,2.2 -3.1,2.3 -3.7,1.2 -3.2,2.2 -3.9,0.6 -1.8,1.8 4.9,1.6 3.9,3.3 3.2,3.9 3.4,3.7 4.9,1.4 4.5,2.1 4.6,2.3 3.4,3.8 5.1,0.2 4.8,1.6 5.1,0.7 5,-1.2 4.5,2.5 5,0.8 4.7,2 4.2,2.9 4.4,-0.1Z" fill="#92c5de" stroke="#92c5de" stroke-width="0.9"/>
<path d="M415.7,839.4 l -4,3.3 -5,1.2 -4,-4.2 -4.2,-4 -2.6,-5.2 -2.9,-5 2.6,-1.5 2.4,-1.9 2.8,-1.4 1.9,-2.5 2.3,-2 2.4,-2 2.7,-1.4 2.5,-1.8 1,4.5 1.4,4.4 3.9,2.8 2.4,4.1 -1.6,3.1 -2.1,2.8 -0.3,3.6Z" fill="#4393c3" stroke="#4393c3" stroke-width="0.9"/>
<path d="M398.2,858.7 l 2.4,-3.6 1.4,-4.1 1.8,-3.9 2.9,-3.2 -4,-4.2 -4.2,-4 -2.6,-5.2 -2.9,-5 -5.6,0.1 -5.1,2.1 0.6,4.6 -1.1,4.5 2.4,3.9 0.8,4.6 1.8,4 1.2,4.4 0.4,4.5 2.5,3.9 4.1,-0.8Z" fill="#4393c3" stroke="#4393c3" stroke-width="0.9"/>
<path d="M354,841.2 l 4.6,3.1 5.5,0.9 2.8,4.6 4.3,3.5 4.5,3 5.2,1.3 4.3,3.1 3.8,3.8 -1.3,4.2 -1.3,4.3 -2.2,4 0,4.6 -4.9,-2.7 -5.6,-1.3 -4.6,-3.2 -4.3,-3.6 -5.8,-0.1 -5.4,-2 -4.4,-3.7 -4.7,-3.2 3,-5 0.3,-5.8 2.4,-5 3.1,-4.7Z" fill="#92c5de" stroke="#92c5de" stroke-width="0.9"/>
<path d="M344.6,887.8 l 0,-5.7 -1.8,-5.3 -4,-4.1 -2.3,-5.2 0,0 3.3,-3.9 4.7,-1.8 4.7,3.2 4.4,3.7 5.4,2 5.8,0.1 4.3,3.6 4.6,3.2 5.6,1.3 4.9,2.7 0,0 -4.4,3.6 -5.1,2.6 -3.8,-0.1 -3.7,0.5 -3.8,-0.2 -3.7,-0.2 -3.8,0.1 -3.8,0.6 -3.6,-1.4Z" fill="#92c5de" stroke="#92c5de" stroke-width="0.9"/>
<path d="M390.9,862.1 l -1.9,2.4 -3.8,-3.8 -4.3,-3.1 -5.2,-1.3 -4.5,-3 -4.3,-3.5 -2.8,-4.6 -5.5,-0.9 -4.6,-3.1 3.2,-2.3 1.7,-3.4 3.4,-1.8 3.7,-0.8 2.5,-2.8 3.5,-1.3 3.2,-2 3.7,-0.5 3.4,1.4 0.6,4.6 -1.1,4.5 2.4,3.9 0.8,4.6 1.8,4 1.2,4.4 0.4,4.5Z" fill="#92c5de" stroke="#92c5de" stroke-width="0.9"/>
<path d="M398.2,858.7 l 4,2.8 4.8,0.5 4.6,0.7 4.7,-0.2 0.9,5.6 1.3,5.4 2.2,5.3 4.3,3.9 -2.8,1.3 -1.9,2.5 -2.5,1.9 -2.6,1.6 -2.6,1.6 -3.1,0.7 -2.9,1.3 -3.1,-0.1 -4.7,-2.8 -4.3,-3.3 -4.5,-3.1 -5.1,-1.9 -0.7,-0.8 0,0 0,-4.6 2.2,-4 1.3,-4.3 1.3,-4.2 1.9,-2.4 4.1,-0.8Z" fill="#92c5de" stroke="#92c5de" stroke-width="0.9"/>
<path d="M422.4,847.9 l -1.5,2.7 -1.2,2.9 0.1,3.1 0,3.1 3.3,0.7 3.2,-0.7 3.3,0.1 3.3,-0.2 0.7,-5.8 -0.8,-5.9 -5.2,-0.8Z" fill="#d1e5f0" stroke="#d1e5f0" stroke-width="0.9"/>
<path d="M445.1,833.5 l 2.7,-2 2.3,-2.5 2.8,-2 3.4,-0.8 0.4,0.1 3.8,3.5 3.6,3.7 1.4,5 2.6,4.5 2.4,4.6 0.7,5.1 3.6,3.8 1.7,5 2.8,4.5 0.8,5.2 -0.8,5.3 1.6,5.1 4.2,3.2 2.2,4.9 3.5,3.8 1.9,4.9 -0.3,4.2 -1.8,3.7 -4.6,-2.4 -3.1,-4.2 -4.5,-2.5 -4.3,-2.7 -4.4,-2.6 -4,-3.1 -5,-1.3 -4.4,-2.6 -1.7,-2.9 -1.6,-3.1 1.6,-5.4 -1.2,-5.5 -1.5,-5.4 1.2,-5.5 -2.2,-5 -2.5,-4.9 -1.6,-5.3 -2.7,-4.8Z" fill="#4393c3" stroke="#4393c3" stroke-width="0.9"/>
<path d="M494.1,826.4 l -2.3,-2.9 -2.5,-2.7 -4,1.3 -4.2,0.2 -3.8,1.8 -4,1.4 -4.2,0.6 -4,1.1 -4.2,-1.2 -4.2,0.3 3.8,3.5 3.6,3.7 1.4,5 2.6,4.5 2.4,4.6 0.7,5.1 3.6,3.8 1.7,5 2.8,4.5 0.8,5.2 -0.8,5.3 1.6,5.1 4.2,3.2 2.2,4.9 3.5,3.8 1.9,4.9 1.5,-5 3,-4.3 2.6,-5.1 0.7,-5.6 0.5,-5.6 -1.7,-5.4 -0.8,-5.1 -1.3,-5 -1.2,-5.1 0.1,-5.2 -2.1,-4.9 -1.5,-5.1 0.5,-5.4Z" fill="#4393c3" stroke="#4393c3" stroke-width="0.9"/>
<path d="M403.5,893.5 l -4.7,-2.8 -4.3,-3.3 -4.5,-3.1 -5.1,-1.9 -0.2,3.3 -1.3,3.1 1.1,3.1 0.5,3.2 1.7,2.9 0.8,3.2 -0.7,3.2 0.7,3.3 -1.4,2.9 0.1,3.3 -0.6,3.3 -2,2.6 -1.3,2.9 -1.5,2.8 -1.1,3 -1.5,2.8 2.4,-4.1 3.6,-3.3 3.8,-3 3.1,-3.7 4.2,-2.2 3.9,-2.7 3.8,-3 4.2,-2.2 0.1,-3.6 -1.6,-3.3 -0.6,-3.5Z" fill="#92c5de" stroke="#92c5de" stroke-width="0.9"/>
<path d="M510.6,1005.5 l 154.4,456.4 325.1,1482 -483.1,17.4 -177.1,-1918.6 2.2,-3.7 0.3,-4.2 0.6,-5.5 1.5,-5.2 2.4,-5 0.9,-5.4 0.5,-5.5 0.2,-5.6 2.8,-4.7 1.5,-5.4 2,-5.5 3.3,-4.7 4.7,-3.3 4.8,-3.2 1.8,-5.5 3.7,-4.6 1.3,-5.6 -0.7,-5.8 2.4,-2.6 1.1,-3.3 0.9,-3.3 2.2,-2.7 1.2,-3.2 2.3,-2.7 1.7,-3 2.7,-2.2 2.4,-4.1 3.6,-3.3 3.8,-3 3.1,-3.7 4.2,-2.2 3.9,-2.7 3.8,-3 4.2,-2.2 3.4,3.2 4.2,2.1 2.4,3.8 2.5,3.9 3.6,3 4.3,1.7 2.3,4.1 3.4,3.1 3.3,3.4 4.2,2.2 4.7,0.2 4.5,1.5 3.9,2.8 4.6,1.2 2.1,4.3 3.3,3.4 2.5,4 3.1,3.5 3.2,3.5 4.2,2.2 3.7,3 3.2,3.6 4.3,2.1 4.9,0.5 1.3,4.5 2.2,4.2 0.4,4.7 1.4,4.6 2.3,4.1 2.5,4.1 4.1,2.5Z" fill="#92c5de" stroke="#92c5de" stroke-width="0.9"/>
<path d="M490.6,906.3 l -4.6,-2.4 -3.1,-4.2 -4.5,-2.5 -4.3,-2.7 -4.4,-2.6 -4,-3.1 -5,-1.3 -4.4,-2.6 -4.1,0.4 -4,-0.4 -3.5,-2.1 -3.9,-1 -3.9,1 -4,-0.4 -4,-0.6 -3.9,0.9 -2.8,1.3 -1.9,2.5 -2.5,1.9 -2.6,1.6 -2.6,1.6 -3.1,0.7 -2.9,1.3 -3.1,-0.1 1.6,3.2 0.6,3.5 1.6,3.3 -0.1,3.6 3.4,3.2 4.2,2.1 2.4,3.8 2.5,3.9 3.6,3 4.3,1.7 2.3,4.1 3.4,3.1 3.3,3.4 4.2,2.2 4.7,0.2 4.5,1.5 3.9,2.8 4.6,1.2 2.1,4.3 3.3,3.4 2.5,4 3.1,3.5 3.2,3.5 4.2,2.2 3.7,3 3.2,3.6 4.3,2.1 4.9,0.5 1.3,4.5 2.2,4.2 0.4,4.7 1.4,4.6 2.3,4.1 2.5,4.1 4.1,2.5 3.4,3.4 -0.5,-3.3 0.2,-3.2 -1.2,-3.2 0.4,-3.3 -0.6,-3.3 -1.1,-3.1 -0.1,-3.2 -0.4,-3.3 -0.6,-3.3 0.3,-3.3 0.8,-3.3 1.5,-3 0.1,-3.3 0.5,-3.2 1.3,-3.1 -0.1,-3.3 -1,-3.3 -2.2,-2.8 -1.2,-3.2 -0.3,-3.5 -2.6,-2.1 -2.3,-2.6 -3.2,-1.4 -2.2,-2.8 0,-3.4 0.7,-3.3 -0.2,-3.4 -1.2,-3.2 -0.5,-3.4 -2,-2.8 -1.9,-2.9Z" fill="#92c5de" stroke="#92c5de" stroke-width="0.9"/>
<path d="M348.1,901.5 l 1.6,4 0.3,4.4 0.2,4.3 -0.8,4.2 -1.1,4.3 0.1,4.4 1.3,4.2 1.9,4 -1.4,4.1 -1,4.3 -1.2,4.2 -2.6,3.6 0,4.4 1.2,4.2 -1.1,4.4 0.8,4.3 -1.2,4.4 0.8,4.5 -2.6,3.7 -1.2,4.3 -3.2,3.1 -2.7,3.5 -2.5,3.7 -0.9,4.4 0.1,4.4 0.1,4.4 1.7,4.1 0.4,4.3 -1,4.4 0.8,4.4 -1.6,4.1 -0.9,4.3 0.6,-5.5 1.5,-5.2 2.4,-5 0.9,-5.4 0.5,-5.5 0.2,-5.6 2.8,-4.7 1.5,-5.4 2,-5.5 3.3,-4.7 4.7,-3.3 4.8,-3.2 1.8,-5.5 3.7,-4.6 1.3,-5.6 -0.7,-5.8 -0.3,-3.4 0,-3.4 0.8,-3.3 1.5,-3 -0.2,-3.4 -1,-3.2 -0.3,-3.4 0.7,-3.3 0,-3.4 -1.3,-3.1 0.4,-3.4 -0.2,-3.3 0.1,-3.3 0.5,-3.3 1.1,-3.2 -0.3,-3.4 -4.3,-0.9 -4.3,-1.1 -4.3,0.9Z" fill="#2166ac" stroke="#2166ac" stroke-width="0.9"/>
<path d="M337.3,437.4 l -4.1,1.6 -3.2,2.9 -3.4,2.7 -4,1.7 -4.3,-0.7 -4.3,1.1 -4.3,0.8 -3.9,1.7 3.7,-2.6 3.2,-3.4 2.7,-3.7 2.9,-3.7 2.9,-3.6 3.5,-3 3.4,-3.3 4.4,-1.6 2.4,-4.3 0.5,-4.9 3.3,-3.5 2.9,-3.9 3.6,-3.2 4.4,-1.8 4.1,-2.4 3.8,-2.8 -1.6,3.6 0.1,3.9 -1.7,3.5 -0.1,3.9 -1.8,3.5 -1.9,3.5 -1.2,3.8 0.8,4 -3.4,2.6 -2.1,3.7 -3.8,1.7Z" fill="#92c5de" stroke="#92c5de" stroke-width="0.9"/>
<path d="M337.3,437.4 l 2.9,-0.9 3.1,0.2 2.6,1.8 3.1,0.5 5,3.1 5.2,2.6 2.1,-0.6 0.5,-1.2 -2.5,-4.3 -2,-4.6 -3,-4 -4.2,-2.8 -3.4,2.6 -2.1,3.7 -3.8,1.7Z" fill="#92c5de" stroke="#92c5de" stroke-width="0.9"/>
<path d="M305.8,449.2 l -3.5,1.4 -3,2.4 -5.5,0.8 -382.2,-44.9 -1951.2,-650.4 -8.1,-448.5 254.1,-269.2 1809.5,1034.3 3.5,2.5 3.3,2.8 3.7,2.2 2.9,3.3 3.3,2.7 3.9,2 4.5,0.2 3.9,2 290.2,194 3.5,3.3 3.1,3.7 2.6,3.9 3,3.8 -0.1,4.9 2.1,4.6 2.5,4.1 3,3.8 4.9,0.2 4.4,2.3 3.8,3 3.8,3 3.8,2.7 3.7,3 3.4,3.5 4.6,1.5 -0.5,4.2 -2,3.8 -2.4,3.5 -0.7,4.2 -2.2,3.5 -2.1,3.6 -1.7,3.9 -1.9,3.7 -1.2,4 -1.2,4 -1.8,3.8 -2,3.7 -3.4,2.7 -3.3,2.8 -1,4.3 -2.3,3.7 -3.8,2.8 -4.1,2.4 -4.4,1.8 -3.6,3.2 -2.9,3.9 -3.3,3.5 -0.5,4.9 -2.4,4.3 -4.4,1.6 -3.4,3.3 -3.5,3 -2.9,3.6 -2.9,3.7 -2.7,3.7 -3.2,3.4Z" fill="#92c5de" stroke="#92c5de" stroke-width="0.9"/>
<path d="M327.3,560.5 l -4.5,1.2 -4.6,0 -4.3,-1.8 -4.6,-0.6 -4.3,1.7 -4.6,0.3 -4.1,2.2 -3.7,2.7 -3.1,-0.2 -3.1,0.6 -3.1,0.3 -3.1,-0.2 -2.9,-1.4 -3.2,0 -2.5,-1.9 -2.9,-1.4 -3,-0.2 -3.1,0.2 -3.1,-0.3 -2.9,-0.9 -2.9,-1 -3.1,0.3 -2.9,-1.1 -3.2,0.2 -332.9,-150.3 382.2,44.9 5,2.3 5.3,1 3.6,4.1 4.1,3.5 4.8,2.2 4.7,2.4 4.6,2.7 3.7,3.9 3.6,4.1 4.7,2.8 2.9,4.5 2.8,4.7 1.8,5 1.1,5.3 1.8,5.1 3.4,4.3 -1.9,2.9 -1.6,3 -1.7,3 -2.5,2.4 -2.4,2.6 -2,2.9 -0.7,3.5 -0.6,3.5 -0.7,3.4 -1.3,3.3 -1.8,3 -2.6,2.4 -1,3.4 -2.5,2.6 -0.5,3.4Z" fill="#4393c3" stroke="#4393c3" stroke-width="0.9"/>
<path d="M364,499.7 l -3,-5.1 -4,-4.3 -5,-3.1 -4.3,-4 -2.5,-5.4 -3.6,-4.7 -2.1,-5.5 -0.8,-5.8 3.8,0.9 3.8,-0.1 3.7,1.2 3.7,0.8 3.7,1.5 4,-0.6 3.7,-1 3.9,-0.5 3.3,3.3 1.3,4.5 3.5,3.1 4.3,1.5 -1.3,3.5 -1.8,3.3 -1.9,3.3 -0.9,3.7 -2.2,3.1 -3.1,2.2 -3.4,1.6Z" fill="#4393c3" stroke="#4393c3" stroke-width="0.9"/>
<path d="M390,473 l -0.1,-5.3 -0.2,-5.3 -0.5,-5.4 0.8,-5.2 -1.7,-5.2 -3.9,-3.8 -4.3,3.4 -4.1,3.6 -5.4,1.5 -4.7,3 2.8,4.4 0.3,5.3 3.3,3.3 1.3,4.5 3.5,3.1 4.3,1.5 4.1,-2.2Z" fill="#4393c3" stroke="#4393c3" stroke-width="0.9"/>
<path d="M414.7,491 l -2.8,-2.1 -3.2,-1.1 -2.7,-2 -2.4,-2.5 -2.6,-2.1 -2.8,-2 -2.2,-2.5 -1.9,-2.9 -4.1,-0.8 -4.5,1.2 -4.1,2.2 -1.3,3.5 -1.8,3.3 -1.9,3.3 -0.9,3.7 -2.2,3.1 -3.1,2.2 -3.4,1.6 -2.8,2.6 -1.1,3 3.6,2.7 4.1,1.8 4.4,1.3 3.7,2.5 4.4,1.2 4.1,1.8 4.3,1.6 3.4,3.1 2.7,-3.3 2.5,-3.5 1.1,-4.2 2.5,-3.7 2.5,-3.5 3.8,-2.3 2.8,-3.3Z" fill="#4393c3" stroke="#4393c3" stroke-width="0.9"/>
<path d="M394.9,518.7 l -3.4,-3.1 -4.3,-1.6 -4.1,-1.8 -4.4,-1.2 -3.7,-2.5 -4.4,-1.3 -4.1,-1.8 -3.6,-2.7 -3.5,1.3 -2.9,2.2 -3,2.2 -1.8,3.3 -1.9,2.9 -1.6,3 -1.7,3 -2.5,2.4 -2.4,2.6 -2,2.9 -0.7,3.5 -0.6,3.5 -0.7,3.4 -1.3,3.3 -1.8,3 -2.6,2.4 -1,3.4 -2.5,2.6 -0.5,3.4 -0.6,3.5 4.8,2.1 4.8,2.1 4.7,0.3 4.6,-0.8 4.6,-0.5 4.6,1 4.5,1.6 4.7,-0.1 4.4,1.6 4.4,1.6 4.2,-2.2 4.7,-0.6 4.6,-0.6 4.7,0.1 4.5,-1.9 3.1,-3.7 4.3,-2 4.6,-1 3,-3.5 -0.7,-3.1 0.1,-3.2 -0.8,-4.2 0.2,-4.4 -1.7,-4 -2.6,-3.5 -2.2,-3.5 -2.5,-3.5 -3.4,-2.6Z" fill="#4393c3" stroke="#4393c3" stroke-width="0.9"/>
<path d="M425.4,492.9 l 2.1,2.2 3,1 2.3,2.2 1,2.9 -3.3,1.3 -2.5,2.5 -2.1,2.7 -1.8,2.9 -0.8,3.4 0.1,3.5 -2,2.8 -1.3,3.2 -2.5,2.3 -1.9,2.8 -0.2,3.4 -1.3,3.2 -0.8,3.2 -2,2.8 -0.6,3.2 -0.3,3.3 -0.8,-4.2 0.2,-4.4 -1.7,-4 -2.6,-3.5 -2.2,-3.5 -2.5,-3.5 -3.4,-2.6 -2.6,-3.3 2.7,-3.3 2.5,-3.5 1.1,-4.2 2.5,-3.7 2.5,-3.5 3.8,-2.3 2.8,-3.3 1.9,-3.9 5.5,0Z" fill="#4393c3" stroke="#4393c3" stroke-width="0.9"/>
<path d="M362.9,502.7 l 1.1,-3 -3,-5.1 -4,-4.3 -5,-3.1 -4.3,-4 -2.5,-5.4 -3.6,-4.7 -2.1,-5.5 -0.8,-5.8 -0.8,-0.6 -4.9,-1 -4.5,-2.2 -5,-1 -4.4,-2.4 -4.9,-0.7 -5,0.3 -4.9,-0.7 -5,-0.5 -5.5,0.8 5,2.3 5.3,1 3.6,4.1 4.1,3.5 4.8,2.2 4.7,2.4 4.6,2.7 3.7,3.9 3.6,4.1 4.7,2.8 2.9,4.5 2.8,4.7 1.8,5 1.1,5.3 1.8,5.1 3.4,4.3 1.8,-3.3 3,-2.2 2.9,-2.2Z" fill="#4393c3" stroke="#4393c3" stroke-width="0.9"/>
<path d="M390,473 l -0.1,-5.3 -0.2,-5.3 -0.5,-5.4 0.8,-5.2 3,-0.9 2.7,-1.6 1.7,-2.6 2.2,-2.2 2.7,-1.6 3.1,-0.5 1.8,-2.5 2.8,-1.6 1.5,-2.8 2.4,-2 2,-2.4 1,-3 2.5,-2 2.3,-2 2.9,-1.3 2.9,-1 -0.4,3.4 -0.9,3.3 0.5,3.4 0.6,3.3 0.3,3.5 -0.8,3.3 0.1,3.4 0.6,3.4 -4.5,3 -5.3,1.5 -3.7,4 -2.7,4.6 -3.1,4.5 -4.1,3.5 -4.6,3 -5.4,0.9Z" fill="#4393c3" stroke="#4393c3" stroke-width="0.9"/>
<path d="M425.4,492.9 l 2.3,-3.6 3.4,-2.4 1.2,-4 1.7,-3.8 0.1,-4 1.4,-3.9 1.5,-3.8 0.2,-4.1 -2.3,-3.9 -1.1,-4.3 -2.7,-3.6 -3.6,-2.7 -4.5,3 -5.3,1.5 -3.7,4 -2.7,4.6 -3.1,4.5 -4.1,3.5 -4.6,3 -5.4,0.9 1.9,2.9 2.2,2.5 2.8,2 2.6,2.1 2.4,2.5 2.7,2 3.2,1.1 2.8,2.1 5.5,0Z" fill="#4393c3" stroke="#4393c3" stroke-width="0.9"/>
<path d="M390,451.8 l 3,-0.9 2.7,-1.6 1.7,-2.6 2.2,-2.2 2.7,-1.6 3.1,-0.5 1.8,-2.5 2.8,-1.6 1.5,-2.8 2.4,-2 2,-2.4 1,-3 2.5,-2 2.3,-2 2.9,-1.3 2.9,-1 0.5,-2.3 -2.6,-4.4 -0.4,-5.1 1.3,-4.9 0.4,-5 -1.3,-4.9 -1.8,-4.6 1,-5 0.2,-5 -2.6,-3.4 -3.6,-2.4 -3,-3.2 -1.4,-4.1 -1,-4.2 -2.5,-3.6 -2.9,-3.2 -1.7,-3.9 -2.1,-3.1 -3.1,-2.2 -4.4,-2.4 -2.8,5.1 -0.3,5.8 -0.2,5.7 -2.4,5.2 -4.5,3.7 -3.3,4.7 -2.8,5.1 -1.5,5.6 -0.5,5.8 2.1,5.4 -0.4,5.8 -2.6,5.2 -1.2,5.6 0,5.6 1.6,5.5 0.5,5.6 1.4,3.2 1.1,3.3 1.5,3.2 2.2,2.8 3.9,3.8Z" fill="#4393c3" stroke="#4393c3" stroke-width="0.9"/>
<path d="M466.3,468.1 l 0.2,0 0.4,-0.7 1,-5.2 0.4,-5.3 -2.9,-4.5 -0.6,-5.4 -5.2,-2.6 -5.2,-2.6 -4.4,-4.1 -5.7,-1.5 -3.6,-4.7 -4.4,-3.8 -4.8,-3.4 -3.5,-4.8 -0.5,2.3 -0.4,3.4 -0.9,3.3 0.5,3.4 0.6,3.3 0.3,3.5 -0.8,3.3 0.1,3.4 0.6,3.4 3.6,2.7 2.7,3.6 1.1,4.3 2.3,3.9 3.7,0.8 3.9,0.2 3.7,-1 3.8,-0.8 2.6,3 3.7,1.6 3.7,1.4Z" fill="#4393c3" stroke="#4393c3" stroke-width="0.9"/>
<path d="M425.4,492.9 l 2.3,-3.6 3.4,-2.4 1.2,-4 1.7,-3.8 0.1,-4 1.4,-3.9 1.5,-3.8 0.2,-4.1 3.7,0.8 3.9,0.2 3.7,-1 3.8,-0.8 2.6,3 3.7,1.6 3.7,1.4 4,-0.4 -4.7,2.7 -4.5,3 -1.7,5.3 -3.8,4.1 -0.9,5.2 -1.6,5.1 -1.7,5 -2.9,4.5 -5.3,-1.1 -5.4,-0.7 -1,-2.9 -2.3,-2.2 -3,-1Z" fill="#4393c3" stroke="#4393c3" stroke-width="0.9"/>
<path d="M470.4,516.6 l 2.8,-1.7 2.3,-2.4 2.7,-2.1 1.5,-3 1.6,-2.9 2,-2.7 0.8,-3.2 1.8,-2.8 -3.2,-2.8 -2.3,-3.7 -3.5,-2.6 -2.4,-3.5 -2.8,-3.3 -2.5,-3.6 -2,-3.9 -0.7,-4.3 -0.2,0 -4.7,2.7 -4.5,3 -1.7,5.3 -3.8,4.1 -0.9,5.2 -1.6,5.1 -1.7,5 -2.9,4.5 3.8,3.5 2.8,4.3 5,1.6 3.8,3.6 5.2,1.5Z" fill="#92c5de" stroke="#92c5de" stroke-width="0.9"/>
<path d="M336.9,564.7 l 1.9,3.6 1.2,3.9 1.7,3.8 3.3,2.6 1.8,3.7 2.5,3.2 2.5,3.2 3.4,2.3 1.2,4.1 -0.2,4.2 1.6,4 2.9,3.1 2.7,3.1 2.9,2.8 2.5,3.2 2.9,2.9 -1.3,3.6 -0.2,3.9 -2.2,3.1 -2.7,2.7 -3.7,3.9 -4.8,2.3 -5.4,-0.5 -5,2.2 -5.1,1 -5.2,-0.6 -4.7,2.3 -5.2,0.6 -1.9,-5.4 -4.1,-4 -1.8,-5.3 -0.6,-5.6 -5.6,-1.4 -4.4,-3.8 -2.2,-5.3 -4.1,-4.1 -2.6,-4.9 -2.9,-4.6 1.1,-5.6 -1.8,-5.4 -0.7,-5.3 -1.1,-5.3 0.6,-5.4 -1.5,-5.3 3.7,-2.7 4.1,-2.2 4.6,-0.3 4.3,-1.7 4.6,0.6 4.3,1.8 4.6,0 4.5,-1.2 4.8,2.1Z" fill="#4393c3" stroke="#4393c3" stroke-width="0.9"/>
<path d="M459.9,516 l -3.8,-3.6 -5,-1.6 -2.8,-4.3 -3.8,-3.5 -5.3,-1.1 -5.4,-0.7 -3.3,1.3 -2.5,2.5 -2.1,2.7 -1.8,2.9 -0.8,3.4 0.1,3.5 -2,2.8 -1.3,3.2 -2.5,2.3 -1.9,2.8 -0.2,3.4 -1.3,3.2 -0.8,3.2 -2,2.8 -0.6,3.2 -0.3,3.3 -0.1,3.2 0.7,3.1 3,1.8 3.6,0.2 3.4,-0.7 3.5,0.4 3.5,-0.2 3.1,-1.6 3.2,-1.5 3.5,0.2 3.2,-4.3 3.2,-4.3 2.5,-4.9 4,-3.7 3,-4.4 1.6,-5.2 1.3,-5.3Z" fill="#4393c3" stroke="#4393c3" stroke-width="0.9"/>
<path d="M491.7,544.3 l -1.5,-4.4 -3.3,-3.2 -3.9,-2.2 -3.4,-2.9 -2.8,-3.5 -1.6,-4.2 -2.7,-3.4 -2.1,-3.9 -5.3,0.9 -5.2,-1.5 -3.2,4.5 -1.3,5.3 -1.6,5.2 -3,4.4 -4,3.7 -2.5,4.9 -3.2,4.3 -3.2,4.3 5.3,1.7 5.2,1.6 5,2.5 5.6,0.1 3.4,4.3 3.6,4.2 3.8,4.3 5.4,1.9 2.6,-2.8 1.2,-3.6 2.8,-2.5 2.6,-2.8 0.9,-3.6 1.8,-3.3 2.1,-3.1 1.6,-3.4Z" fill="#4393c3" stroke="#4393c3" stroke-width="0.9"/>
<path d="M270.3,632.8 l -0.4,4.9 -0.8,5 0,4.9 -0.8,5 -3,3.9 -2,4.7 -2.6,4.2 -1.6,4.8 4.4,1.1 4.3,1.2 3.6,2.8 3.6,2.8 3.2,-2.2 3.9,-0.4 3.7,-0.6 3.8,0 2,-3.2 3.2,-2.2 2.9,-2.3 3.2,-2 0.3,-1.4 -4.1,-4 -4.2,-4 -5.1,-3 -5.8,-0.8 -1.8,-5.4 -3.1,-4.8 -2.8,-5Z" fill="#2166ac" stroke="#2166ac" stroke-width="0.9"/>
<path d="M273.2,770.2 l 1.8,-1.8 -0.2,-5.9 1.2,-5.7 -0.1,-6 -2.4,-5.4 1.8,-5.6 -0.5,-6 1.1,-5.9 3.8,-4.7 -1.7,-5.5 -2.4,-5.2 0.5,-5.9 -1.5,-5.6 0.7,-5.8 1.3,-5.6 -1,-5.7 -0.6,-5.8 -3.6,-2.8 -3.6,-2.8 -4.3,-1.2 -4.4,-1.1 -301.1,115.8 5.4,-1.7 4.5,-3.5 4.7,-3.1 5.4,-1.5 5.5,0.7 5.6,-0.9 5.5,-0.4 5.5,0.9 5.5,-0.1 5.5,0.3 5.5,1.2 5.5,-1.3 5.1,2.3 4.3,3.6 5.5,1.1 5.6,0.7 5.5,0.6 5.3,-1.7 5.5,-0.8 5.4,0.3 4.7,2.9 5.2,1.8 5.5,0.8 4.7,3.1 5.4,0.9 5.2,2 4,3.9 4.7,3 5.4,-1.5 5.5,-0.8 5.7,0.5 5.1,2.6 3.1,0.8 3.1,0.4 3.2,0.7 3.3,-0.3 2.6,-2 3,-1.4 3.3,0.5 3.2,-1.1 3.2,-0.2 3.2,0.5 2.8,1.7 3.2,0.5 3.1,-0.7 3.1,-0.4 3.1,0.7 3.2,0 3.5,0.6 3.4,0.7 3.3,-1.1 3.5,0 3.5,-0.4 3,-1.7 3.3,-0.9 3.4,-0.6 4.6,1.2 4.6,1.3 4.9,-0.3 4.4,-1.9 4.5,-1.4 4.1,-2.3 4.7,-0.2 4.6,-1.1 4.9,-0.1 4.4,-1.9 3.8,-3 4.4,-2 3.6,-3 3.8,-3 2.3,-4.2 3,-3.7Z" fill="#2166ac" stroke="#2166ac" stroke-width="0.9"/>
<path d="M324.2,648.4 l -2.3,2.6 -2.8,2.2 -2.2,2.7 -3.2,1.7 -3,1.8 -3,1.7 -3,1.8 -3.5,0.9 -4.1,-4 -4.2,-4 -5.1,-3 -5.8,-0.8 -1.8,-5.4 -3.1,-4.8 -2.8,-5 -4,-4 -0.4,-4.9 -1.7,-4.7 -0.8,-4.8 -1.2,-4.8 -2.5,-4.3 -2.2,-4.4 -0.8,-5 -0.3,-4.9 -2.3,-4.4 -1.7,-4.6 -2.5,-4.2 -2.1,-4.4 -2.3,-4.4 -1.7,-4.6 -0.5,-5 -2.8,-4.2 3.2,-0.2 2.9,1.1 3.1,-0.3 2.9,1 2.9,0.9 3.1,0.3 3.1,-0.2 3,0.2 2.9,1.4 2.5,1.9 3.2,0 2.9,1.4 3.1,0.2 3.1,-0.3 3.1,-0.6 3.1,0.2 1.5,5.3 -0.6,5.4 1.1,5.3 0.7,5.3 1.8,5.4 -1.1,5.6 2.9,4.6 2.6,4.9 4.1,4.1 2.2,5.3 4.4,3.8 5.6,1.4 0.6,5.6 1.8,5.3 4.1,4 1.9,5.4Z" fill="#2166ac" stroke="#2166ac" stroke-width="0.9"/>
<path d="M244.5,559.2 l -332.9,-150.3 -1951.2,-650.4 -31.6,945.6 2029.2,81.9 301.1,-115.8 1.6,-4.8 2.6,-4.2 2,-4.7 3,-3.9 0.8,-5 0,-4.9 0.8,-5 0.4,-4.9 -0.4,-4.9 -1.7,-4.7 -0.8,-4.8 -1.2,-4.8 -2.5,-4.3 -2.2,-4.4 -0.8,-5 -0.3,-4.9 -2.3,-4.4 -1.7,-4.6 -2.5,-4.2 -2.1,-4.4 -2.3,-4.4 -1.7,-4.6 -0.5,-5Z" fill="#2166ac" stroke="#2166ac" stroke-width="0.9"/>
<path d="M300.9,665.2 l -3.2,2 -2.9,2.3 -3.2,2.2 -2,3.2 -3.8,0 -3.7,0.6 -3.9,0.4 -3.2,2.2 0.6,5.8 1,5.7 -1.3,5.6 -0.7,5.8 1.5,5.6 -0.5,5.9 2.4,5.2 1.7,5.5 -3.8,4.7 -1.1,5.9 0.5,6 -1.8,5.6 2.4,5.4 0.1,6 -1.2,5.7 0.2,5.9 3.9,-0.6 3.2,-2.2 3.7,-1.2 3.1,-2.3 3.1,-2.2 3.5,-1.7 3.6,-1.4 2.7,-2.8 1.6,-3.6 2.2,-3.2 3.4,-2 2.8,-2.7 3.6,-1.5 3.3,-2.2 2.6,-2.9 2.1,-3.3 -3.1,-3.6 -2.7,-3.9 -3.8,-2.8 -3.6,-3.1 -1.4,-4.5 -0.8,-4.6 -2.1,-4.2 -1,-4.6 0.3,-4.9 -1.8,-4.5 -3,-3.8 -2,-4.4 0.1,-4.7 1,-4.6 -0.4,-4.8Z" fill="#2166ac" stroke="#2166ac" stroke-width="0.9"/>
<path d="M366.7,673.9 l -4,1.9 -4.1,1.5 -3.1,3.2 -3.1,3.1 -2.5,-5.3 -1,-5.9 -4.1,-4.2 -2.9,-5.1 -3.4,-4.7 -4.7,-3.5 -4.8,-3.2 -4.8,-3.3 2,-5.5 5.2,-0.6 4.7,-2.3 5.2,0.6 5.1,-1 5,-2.2 5.4,0.5 4.8,-2.3 3.7,-3.9 1.3,5.8 0.4,5.9 3.1,5.1 1.2,5.9 -2.6,4.4 -0.2,5.2 -0.9,5Z" fill="#4393c3" stroke="#4393c3" stroke-width="0.9"/>
<path d="M324.2,648.4 l -2.3,2.6 -2.8,2.2 -2.2,2.7 -3.2,1.7 -3,1.8 -3,1.7 -3,1.8 -3.5,0.9 -0.3,1.4 -1.8,4.4 0.4,4.8 -1,4.6 -0.1,4.7 2,4.4 3,3.8 1.8,4.5 -0.3,4.9 1,4.6 2.1,4.2 0.8,4.6 1.4,4.5 3.6,3.1 3.8,2.8 2.7,3.9 3.1,3.6 5.2,-1.4 5.2,-1.7 -0.5,-3.2 -0.2,-3.3 1.7,-2.8 0.5,-3.3 1.1,-3 0.4,-3.2 1.1,-3 0.2,-3.2 2.3,-2.4 1.7,-2.9 -0.2,-3.4 1.2,-3.2 2.6,-2 2.8,-1.7 1.5,-3 2.4,-2.3 -2.5,-5.3 -1,-5.9 -4.1,-4.2 -2.9,-5.1 -3.4,-4.7 -4.7,-3.5 -4.8,-3.2Z" fill="#4393c3" stroke="#4393c3" stroke-width="0.9"/>
<path d="M1093.6,-191.1 l -515.5,257.7 -5,0.3 -5,-0.3 -3.7,-3.5 -3.1,-4.1 -5,-1.2 -4.3,-2.7 -4.1,-3.1 -3.2,-3.9 -4.2,-3 -5.1,-0.9 -5,0 -4.9,-1.2 -5.2,0.1 -4.6,-2.3 -4.6,-2.5 -5.1,-0.4 -4.6,-2.4 -3.4,-3.9 -3.6,-2 -3.8,-1.3 -3.9,-0.9 -3.9,-1.2 -2.8,-2.9 -3.5,-2.1 -1.9,-3.6 -3.2,-2.7 -3.7,-1.6 -3.9,-0.6 -3.7,-1.7 -3.8,-1.3 -3.1,-2.7 -4,-1.3 -2.6,-3.2 -2.1,-3.5 -155.1,-130.1 -1525.6,-1487.9 267.4,-341.9 3043.4,-37.7 531.1,661.4 -1427.6,1096.6 -2.8,1.7 -2.9,1.1 -3,1.4 -2,2.6 -3.2,0.3 -3.2,-0.3 -3,1.3 -2.8,1.6 -1.9,2.5 -1.7,2.7 -2.2,2.3 -1.8,2.6 -2.2,2.4 -3,1.2 -2.6,1.9 -3.2,0.8 -2.4,1.9 -2.2,2.3 -3,1 -2.4,2.2 -2.8,1.2 -3.1,0.5 -3,0.8 -2.9,1.1 -2.5,2 -3,1 -1.9,2.5 -2.5,1.9 -3,0.7 -2.5,2 -2.7,1.6Z" fill="#92c5de" stroke="#92c5de" stroke-width="0.9"/>
<path d="M1093.6,-191.1 l -515.5,257.7 3.3,-0.4 3.2,0.2 3.1,0.7 3.1,1 2.7,1.7 2.5,2 3,1.1 3,1.2 2,2.6 2.8,1.5 2.9,1.2 2.8,1.4 2.4,2.3 1.7,2.7 2.5,2.2 3.2,0.7 5.1,-1.2 5.2,-0.6 4.7,-2.4 5.1,-1.3 5.2,-1.5 4.2,-3.3 5.2,-1 5.3,-0.1Z" fill="#92c5de" stroke="#92c5de" stroke-width="0.9"/>
<path d="M622.3,88.7 l -3.2,-0.7 -2.5,-2.2 -1.7,-2.7 -2.4,-2.3 -2.8,-1.4 -2.9,-1.2 -2.8,-1.5 -2,-2.6 -3,-1.2 -3,-1.1 -2.5,-2 -2.7,-1.7 -3.1,-1 -3.1,-0.7 -3.2,-0.2 -3.3,0.4 -5,0.3 -5,-0.3 0.8,3.1 -0.2,3.2 0.7,3.1 1.5,2.8 1.9,2.6 2.9,1.6 1.7,2.6 2,2.5 0.6,3 0.4,3 1.3,2.7 0.8,3 0.4,3.1 1.5,2.7 0.4,3 1.3,2.8 3.9,1 3.7,1.8 4,0.6 3.7,1.7 1.5,-4.2 2.1,-3.8 3.2,-3.1 2.1,-3.9 3.8,-2.4 3.2,-3.1 3.2,-3.2Z" fill="#92c5de" stroke="#92c5de" stroke-width="0.9"/>
<path d="M568.1,66.6 l 0.8,3.1 -0.2,3.2 0.7,3.1 1.5,2.8 1.9,2.6 2.9,1.6 1.7,2.6 2,2.5 0.6,3 0.4,3 1.3,2.7 0.8,3 0.4,3.1 1.5,2.7 0.4,3 1.3,2.8 -5.1,2.7 -3.3,4.8 -5.4,2 -4.1,4 -2.5,-2.9 -2.8,-2.6 -3.4,-1.6 -3.3,-1.9 -2.9,-2.5 -3.8,-0.9 -2.4,-3 -3.1,-2.2 -2.8,-2.8 -3.7,-1.3 -2.4,-3 -1.6,-3.6 -2.3,-3.1 -0.9,-3.8 -2.5,-2.9 -2.9,-2.4 -2.4,-3.1 -0.9,-3.8 -1.5,-3.6 -0.3,-3.8 -1.4,-3.7 -2.9,-2.7 -2.8,-2.6 -3.2,-2.1 -2,-3.3 -1.1,-3.6 -1.5,-3.5 0.1,-3.9 -1.8,-3.5 0,-3.9 -2.5,-3 -2.7,-2.7 3.4,3.9 4.6,2.4 5.1,0.4 4.6,2.5 4.6,2.3 5.2,-0.1 4.9,1.2 5,0 5.1,0.9 4.2,3 3.2,3.9 4.1,3.1 4.3,2.7 5,1.2 3.1,4.1Z" fill="#92c5de" stroke="#92c5de" stroke-width="0.9"/>
<path d="M607.8,127.8 l -1,-0.6 -1.1,-2.8 -1.2,-2.7 -1.1,-2.9 -2,-2.3 1.5,-4.2 2.1,-3.8 3.2,-3.1 2.1,-3.9 3.8,-2.4 3.2,-3.1 3.2,-3.2 1.8,-4.1 5.1,-1.2 5.2,-0.6 4.7,-2.4 5.1,-1.3 5.2,-1.5 4.2,-3.3 5.2,-1 5.3,-0.1 -1.2,2.9 -1.9,2.5 -1.4,2.8 -1.6,2.7 -0.8,3.1 -0.9,3 -0.3,3.2 0.7,3.2 -2,2.4 -2.8,1.5 -2.7,1.6 -2.1,2.3 -2.1,2.4 -2.4,2.1 -1.1,2.9 -1.6,2.7 -3.3,1.4 -3.6,-0.2 -3.6,-0.1 -3.4,1.1 -2.3,2.8 -2.7,2.4 -3.3,1.8 -3.6,0.4Z" fill="#92c5de" stroke="#92c5de" stroke-width="0.9"/>
<path d="M606.8,127.2 l -1.1,-2.8 -1.2,-2.7 -1.1,-2.9 -2,-2.3 -3.7,-1.7 -4,-0.6 -3.7,-1.8 -3.9,-1 -5.1,2.7 -3.3,4.8 -5.4,2 -4.1,4 -1.6,2.6 -1.2,2.8 4.9,3.6 4,4.4 1.6,2.6 0.5,3 1.8,2.5 2.3,2 5.1,-2.5 5.7,-0.2 2.4,-1.9 2.6,-1.7 1.4,-2.8 2.2,-2.1 1.7,-2.5 2.2,-2.2 1,-2.9Z" fill="#92c5de" stroke="#92c5de" stroke-width="0.9"/>
<path d="M575.9,160.7 l 2.3,-2.5 1.1,-3.2 0.8,-3.3 0.4,-3.3 -2.3,-2 -1.8,-2.5 -0.5,-3 -1.6,-2.6 -4,-4.4 -4.9,-3.6 -3.2,1.4 -3,1.8 -3.5,-0.1 -3.3,1.3 -3.2,1.4 -3,1.7 -3.1,1.4 -3.2,1.3 -0.7,3.6 0.7,3.6 0.8,3.6 2.3,2.9 3.8,2 4.2,0.9 3.9,1.5 4.1,1.1 4.2,-1.1 4.4,0 4.4,0.2Z" fill="#92c5de" stroke="#92c5de" stroke-width="0.9"/>
<path d="M607.8,127.8 l -1,-0.6 -2,2.4 -1,2.9 -2.2,2.2 -1.7,2.5 -2.2,2.1 -1.4,2.8 -2.6,1.7 -2.4,1.9 3,5 2,5.5 4.5,3.7 4.1,4.1 3.7,-0.9 3.8,-1 0.7,-3.5 2,-3 0.6,-3.7 -0.6,-3.6 -0.4,-3.7 -1.8,-3.3 -2.2,-3 -1,-3.5 -0.5,-3.7Z" fill="#92c5de" stroke="#92c5de" stroke-width="0.9"/>
<path d="M545.8,178.2 l 4,-1.9 4.4,-0.5 4.3,0.4 4.3,0.2 4.1,1.5 4.4,0 4.2,0.5 4.3,-0.2 -1.7,-4.2 -1,-4.4 -0.5,-4.4 -0.7,-4.5 -3.9,-1.9 -4.4,-0.2 -4.4,0 -4.2,1.1 -4.1,-1.1 -3.9,-1.5 -4.2,-0.9 -3.8,-2 -1.8,3.5 -0.4,3.9 0.1,3.8 -0.4,3.8 2.2,4.8Z" fill="#92c5de" stroke="#92c5de" stroke-width="0.9"/>
<path d="M565.4,130.3 l 1.2,-2.8 1.6,-2.6 -2.5,-2.9 -2.8,-2.6 -3.4,-1.6 -3.3,-1.9 -2.9,-2.5 -3.8,-0.9 -2.4,-3 -3.1,-2.2 -2.8,-2.8 -3.7,-1.3 -2.4,-3 -1.6,-3.6 -2.3,-3.1 -0.9,-3.8 -2.5,-2.9 -2.9,-2.4 -2.4,-3.1 -0.9,-3.8 -1.5,-3.6 -0.3,-3.8 -1.4,-3.7 -2.9,-2.7 -2.8,-2.6 -3.2,-2.1 -2,-3.3 -1.1,-3.6 -1.5,-3.5 0.1,-3.9 -1.8,-3.5 0,-3.9 -2.5,-3 -2.7,-2.7 -3.6,-2 -3.8,-1.3 -3.9,-0.9 -3.9,-1.2 -2.8,-2.9 -3.5,-2.1 -1.9,-3.6 -3.2,-2.7 -3.7,-1.6 -3.9,-0.6 -3.7,-1.7 -3.8,-1.3 -3.1,-2.7 -4,-1.3 -2.6,-3.2 -2.1,-3.5 1.4,5.3 2.8,4.7 3.2,4.5 5,2.5 4.1,3.6 2.3,5 2.2,4.9 1.2,5.2 1.9,5.1 0.9,5.3 2.6,4.8 4.1,3.6 3.9,3.7 2,5 1.7,5.1 3.7,4 3.9,3.8 3.8,4.1 2.5,5 2.3,5 3.4,4.6 5.1,2.5 5.7,0.8 4.6,3.3 3.5,4.3 4.3,3.5 2.9,4.7 1.2,5.5 1.3,5.3 2.4,4.8 1.2,5.3 1.9,5.1 2.4,1.6 3.2,-1.3 3.1,-1.4 3,-1.7 3.2,-1.4 3.3,-1.3 3.5,0.1 3,-1.8Z" fill="#92c5de" stroke="#92c5de" stroke-width="0.9"/>
<path d="M604.9,164 l -4.1,-4.1 -4.5,-3.7 -2,-5.5 -3,-5 -5.7,0.2 -5.1,2.5 -0.4,3.3 -0.8,3.3 -1.1,3.2 -2.3,2.5 0.7,4.5 0.5,4.4 1,4.4 1.7,4.2 1.1,1 3.4,-0.8 3.6,0.5 3.3,-1.2 3.2,-1.2 2.6,-3.3 3.5,-2.2 2.2,-3.5Z" fill="#92c5de" stroke="#92c5de" stroke-width="0.9"/>
<path d="M513.2,153.5 l 2.6,-2.6 3.3,-1.7 1.7,-3.4 3,-2.1 3.3,-1.6 3.2,-1.7 3.6,-0.6 3.6,-0.9 -1.9,-5.1 -1.2,-5.3 -2.4,-4.8 -1.3,-5.3 -1.2,-5.5 -2.9,-4.7 -4.3,-3.5 -3.5,-4.3 -4.6,-3.3 -5.7,-0.8 -5.1,-2.5 -3.4,-4.6 -2.3,-5 -2.5,-5 -3.8,-4.1 -3.9,-3.8 -3.7,-4 -1.7,-5.1 -2,-5 -3.9,-3.7 -4.1,-3.6 -2.6,-4.8 -0.9,-5.3 -1.9,-5.1 -1.2,-5.2 -2.2,-4.9 -2.3,-5 -4.1,-3.6 -5,-2.5 -3.2,-4.5 -2.8,-4.7 -1.4,-5.3 -155.1,-130.1 187.1,270 4.4,2.3 4.9,1.3 4.2,2.7 4.1,2.7 4.7,1.8 4.4,2.5 4.9,1.6Z" fill="#2166ac" stroke="#2166ac" stroke-width="0.9"/>
<path d="M540.5,169.2 l 0.4,-3.8 -0.1,-3.8 0.4,-3.9 1.8,-3.5 -2.3,-2.9 -0.8,-3.6 -0.7,-3.6 0.7,-3.6 -2.4,-1.6 -3.6,0.9 -3.6,0.6 -3.2,1.7 -3.3,1.6 -3,2.1 -1.7,3.4 -3.3,1.7 -2.6,2.6 -0.4,5.6 -0.7,5.7 0.4,5.6 0.7,5.7 3.6,0.6 3.5,-1.1 3.4,-1.3 3.7,0.5 3.6,-0.3 3.5,-1.1 3,-2.1Z" fill="#2166ac" stroke="#2166ac" stroke-width="0.9"/>
<path d="M508.5,180.1 l -3.8,1.4 -3.6,2 -4.1,-0.5 -4,1 -1.4,-2.8 -0.4,-3.1 -2.5,-1.9 -1.5,-2.8 -0.9,-2.9 -1.1,-2.8 -1.2,-2.9 -1.8,-2.4 0.1,-3.2 -1.2,-3 -1.4,-2.9 -2.3,-2.2 -0.3,-3.1 0.2,-3 -1.2,-3 0.4,-3.1 4.4,2.3 4.9,1.3 4.2,2.7 4.1,2.7 4.7,1.8 4.4,2.5 4.9,1.6 5.1,-0.3 -0.4,5.6 -0.7,5.7 0.4,5.6 0.7,5.7 -2.4,1.9Z" fill="#2166ac" stroke="#2166ac" stroke-width="0.9"/>
<path d="M579.4,196 l 0.3,-4.2 0.7,-4.2 0.7,-4.1 -0.2,-4.3 -1.1,-1 -4.3,0.2 -4.2,-0.5 -4.4,0 -4.1,-1.5 -4.3,-0.2 -4.3,-0.4 -4.4,0.5 -4,1.9 -1.3,4.9 1.1,5 -2,4.7 0.3,5.1 3.1,3.4 4.2,1.7 3.6,2.8 2.4,3.8 4.2,1.2 4.3,-0.5 2.5,-3.8 3.6,-2.5 3.5,-2.8 3.6,-2.5Z" fill="#2166ac" stroke="#2166ac" stroke-width="0.9"/>
<path d="M530.7,202.3 l -0.5,3.6 -2.1,3 -2.3,2.8 -3.1,1.8 -2.6,-2.6 -3,-2.1 -3.6,-0.8 -3.6,-0.9 -3.3,-1.6 -3.5,-0.7 -3.6,-1 -3.6,0.7 -1,-4 -1.2,-4 -1.5,-3.9 -2,-3.7 2.8,-4.9 4,-1 4.1,0.5 3.6,-2 3.8,-1.4 2.5,3.2 3.1,2.6 3.1,2.4 3.6,1.8 2.6,3 2.4,3 2.8,2.9Z" fill="#2166ac" stroke="#2166ac" stroke-width="0.9"/>
<path d="M530.7,202.3 l -0.5,3.6 -2.1,3 -2.3,2.8 -3.1,1.8 -0.4,5.9 -1.1,5.7 1.9,5.6 2.1,5.4 3.1,0.9 2.5,1.9 3.2,-0.1 3,1 1.3,-4.6 3.4,-3.4 0.8,-4.7 1.8,-4.3 3.4,-3.4 2,-4.2 3.8,-2.8 3.7,-2.8 -2.4,-3.8 -3.6,-2.8 -4.2,-1.7 -3.1,-3.4 -2.6,2.6 -3.6,1 -3.4,0.7Z" fill="#2166ac" stroke="#2166ac" stroke-width="0.9"/>
<path d="M537,239.8 l 2.3,2.5 3.4,0.2 3,1.6 3.3,1.1 3.4,-0.1 3,1.6 3.4,0.3 3.2,1.2 2.8,1.7 2.8,-3.4 3.8,-2.2 4.3,-1.2 3.2,-3.1 0.4,-0.5 -3.1,-2.9 -1.5,-3.8 -2.4,-3.5 -0.5,-4.1 -2.2,-3.4 -2.1,-3.5 0,-4.2 -1.8,-3.8 -4.3,0.5 -4.2,-1.2 -3.7,2.8 -3.8,2.8 -2,4.2 -3.4,3.4 -1.8,4.3 -0.8,4.7 -3.4,3.4Z" fill="#2166ac" stroke="#2166ac" stroke-width="0.9"/>
<path d="M522.7,213.5 l -0.4,5.9 -1.1,5.7 1.9,5.6 2.1,5.4 -4.4,0.9 -3.6,2.5 -3.2,-1.9 -3.3,-1.7 -3.7,-0.9 -3.7,0.8 -3.7,0 -3.2,-1.8 -2.8,-2.5 -3.5,-1.1 0.2,-3.3 0.6,-3.3 0.4,-3.3 0.1,-3.4 2.5,-2.4 1.1,-3.4 1.1,-3.3 -0.2,-3.5 3.6,-0.7 3.6,1 3.5,0.7 3.3,1.6 3.6,0.9 3.6,0.8 3,2.1Z" fill="#2166ac" stroke="#2166ac" stroke-width="0.9"/>
<path d="M530.7,202.3 l -2.1,-3.3 -2.8,-2.9 -2.4,-3 -2.6,-3 -3.6,-1.8 -3.1,-2.4 -3.1,-2.6 -2.5,-3.2 2.3,-2.1 2.4,-1.9 3.6,0.6 3.5,-1.1 3.4,-1.3 3.7,0.5 3.6,-0.3 3.5,-1.1 3,-2.1 3,-2.1 2.2,4.8 3.1,4.2 -1.3,4.9 1.1,5 -2,4.7 0.3,5.1 -2.6,2.6 -3.6,1 -3.4,0.7Z" fill="#2166ac" stroke="#2166ac" stroke-width="0.9"/>
<path d="M579.4,196 l 0.3,-4.2 0.7,-4.2 0.7,-4.1 -0.2,-4.3 3.4,-0.8 3.6,0.5 3.3,-1.2 3.2,-1.2 2.8,2.1 3.1,1.7 1.4,3.2 2.2,2.8 3.1,1.4 3.3,1.2 2,2.9 3.2,1.6 0,0.1 -0.3,0.3 -4.5,0.2 -4.4,1.2 -4.5,-0.9 -4.5,-0.1 -4.7,0.4 -4.1,2.4 -4.7,0.5Z" fill="#2166ac" stroke="#2166ac" stroke-width="0.9"/>
<path d="M615.5,193.4 l 0,0.1 4.6,2.4 5.2,0.6 4.3,2.9 4.7,2.1 3.2,-3.8 4.6,-2.2 1.5,-3.6 -0.4,-3.9 -3.2,-4.3 -3.1,-4.4 -3.9,-3.9 -4.9,-2.5 -2.6,0.4 -4.7,3.6 -2.8,5.2 -1.4,5.6Z" fill="#2166ac" stroke="#2166ac" stroke-width="0.9"/>
<path d="M589.5,205.3 l -0.1,3.8 0.3,3.8 0.1,3.8 -1.2,3.7 1.2,3.6 0.2,3.8 1.6,3.6 -0.3,3.9 3.7,0.4 3.7,-0.9 3.6,-1 3.8,0.1 3.4,-2.6 2.2,-3.7 -2.3,-4.6 -2.5,-4.4 0.2,-5.1 -0.2,-5.1 -4.5,-1 -4.5,1.1 -4.3,-1.5Z" fill="#2166ac" stroke="#2166ac" stroke-width="0.9"/>
<path d="M615.2,193.8 l 0.3,-0.3 4.6,2.4 5.2,0.6 4.3,2.9 4.7,2.1 -0.2,3.4 -0.5,3.3 0.6,3.3 0.9,3.2 -1.9,2.4 -0.7,3 -1.8,2.5 -0.4,3.1 -4.7,0.9 -4.7,-1 -4.5,1.6 -4.7,0.4 -2.3,-4.6 -2.5,-4.4 0.2,-5.1 -0.2,-5.1 3.3,-2.8 2,-3.8 2.3,-3.7Z" fill="#2166ac" stroke="#2166ac" stroke-width="0.9"/>
<path d="M612.4,162.1 l 3.2,3 2.4,3.8 3.1,3.2 4.4,1.2 -4.7,3.6 -2.8,5.2 -1.4,5.6 -1.1,5.7 -3.2,-1.6 -2,-2.9 -3.3,-1.2 -3.1,-1.4 -2.2,-2.8 -1.4,-3.2 -3.1,-1.7 -2.8,-2.1 2.6,-3.3 3.5,-2.2 2.2,-3.5 2.2,-3.5 3.7,-0.9Z" fill="#2166ac" stroke="#2166ac" stroke-width="0.9"/>
<path d="M493,184 l -1.4,-2.8 -0.4,-3.1 -2.5,-1.9 -1.5,-2.8 -0.9,-2.9 -1.1,-2.8 -1.2,-2.9 -1.8,-2.4 0.1,-3.2 -1.2,-3 -1.4,-2.9 -2.3,-2.2 -0.3,-3.1 0.2,-3 -1.2,-3 0.4,-3.1 -187.1,-270 -1525.6,-1487.9 -557.4,659.8 1809.5,1034.3 466.5,115.7 3.9,-0.7 3.9,-1.2Z" fill="#4393c3" stroke="#4393c3" stroke-width="0.9"/>
<path d="M482.4,190.8 l -466.5,-115.7 3.5,2.5 3.3,2.8 3.7,2.2 2.9,3.3 3.3,2.7 3.9,2 4.5,0.2 3.9,2 416,124.9 1.4,-4.2 1.7,-4.1 2.9,-3.4 3.8,-2.5 3.8,-2.2 2.3,-3.8 2.3,-3.8Z" fill="#4393c3" stroke="#4393c3" stroke-width="0.9"/>
<path d="M490.2,188.9 l -3.9,1.2 -3.9,0.7 -3.3,2.9 -2.3,3.8 -2.3,3.8 -3.8,2.2 -3.8,2.5 -2.9,3.4 -1.7,4.1 -1.4,4.2 2.7,1.9 1.8,2.9 2.9,1.4 2.4,2.3 0.7,3.3 2.2,2.5 1.5,2.9 1,3.1 3.3,-2.2 3.3,-2.2 3.4,-2.3 4,-0.9 0.2,-3.3 0.6,-3.3 0.4,-3.3 0.1,-3.4 2.5,-2.4 1.1,-3.4 1.1,-3.3 -0.2,-3.5 -1,-4 -1.2,-4 -1.5,-3.9Z" fill="#4393c3" stroke="#4393c3" stroke-width="0.9"/>
<path d="M475.7,239.2 l 0.4,-1.2 -1,-3.1 -1.5,-2.9 -2.2,-2.5 -0.7,-3.3 -2.4,-2.3 -2.9,-1.4 -1.8,-2.9 -2.7,-1.9 -416,-124.9 290.2,194 5.2,-1.5 5.3,-0.5 5.3,-1.3 4.6,-2.8 4.6,-3 5.4,-0.8 5.4,0.2 5.4,-0.5 3.5,-0.6 3.3,-1.1 2.9,-1.9 3.2,-1.5 3.5,-0.3 3.5,-0.8 3.3,1.3 3.6,0.3 2.9,-1.7 2.6,-2.3 2.9,-1.7 2.7,-2.1 2.4,-2.5 3.1,-1.5 2.9,-1.8 2.9,-1.7 3.5,0.6 3.5,0.4 3.1,-1.5 3.4,-0.9 2.9,-2 2.6,-2.2 3.3,-0.9 3,-1.6 3.5,-0.5 2.8,-2.1 2.7,-2 2.9,-1.7 3.4,-0.2 3.4,0.1 3.2,-1.2Z" fill="#4393c3" stroke="#4393c3" stroke-width="0.9"/>
<path d="M475.7,239.2 l 0.7,3.3 0.8,3.2 1.8,2.8 2.4,2.4 0.6,3.4 -1.1,3.2 0.5,3.3 1,3.1 -3.5,4.5 -3.4,-0.6 -2.7,-2.2 -3.4,-0.1 -3.1,-1.5 -3.2,1.3 -3.2,1 -3.5,0.4 -3.3,-1.3 -3.3,0.3 -3.2,-0.7 -3.3,-0.3 -3.2,0.8 -3.3,-0.5 -3.2,1 -3.3,0.2 -3.2,-0.2 -3.3,0.3 -3.1,1.2 -3.2,0.9 -3.3,-0.9 -3.1,1.3 -3.2,0.6 -3.3,-0.5 -3.2,0.8 -2.8,1.9 -3.1,1.3 -3.3,-0.1 -3.4,0.3 -3.2,1.1 -3.3,-0.3 -3.2,0.9 -2.8,1.8 3.5,-0.6 3.3,-1.1 2.9,-1.9 3.2,-1.5 3.5,-0.3 3.5,-0.8 3.3,1.3 3.6,0.3 2.9,-1.7 2.6,-2.3 2.9,-1.7 2.7,-2.1 2.4,-2.5 3.1,-1.5 2.9,-1.8 2.9,-1.7 3.5,0.6 3.5,0.4 3.1,-1.5 3.4,-0.9 2.9,-2 2.6,-2.2 3.3,-0.9 3,-1.6 3.5,-0.5 2.8,-2.1 2.7,-2 2.9,-1.7 3.4,-0.2 3.4,0.1 3.2,-1.2Z" fill="#4393c3" stroke="#4393c3" stroke-width="0.9"/>
<path d="M376.3,276.6 l -5.4,0.5 -5.4,-0.2 -5.4,0.8 -4.6,3 -4.6,2.8 -5.3,1.3 -5.3,0.5 -5.2,1.5 3.5,3.3 3.1,3.7 2.6,3.9 3,3.8 -0.1,4.9 2.1,4.6 2.5,4.1 3,3.8 4.9,0.2 4.4,2.3 3.8,3 3.8,3 3.8,2.7 3.7,3 3.4,3.5 4.6,1.5 3.1,2.4 3.3,2 2.6,-2.4 3.1,-1.4 3.2,-1.4 3.5,-0.4 1.8,-2.9 2.5,-2.3 2.5,-2.4 1.3,-3.2 2.5,-2.6 3.1,-1.6 3.3,-1.2 3.6,0.1 2.9,-1.9 1.8,-2.9 2.2,-2.7 1.7,-2.9 3.1,-1.6 3.5,-0.2 3.2,-1.1 2.9,-1.8 1.6,-3 2.1,-2.8 2.5,-2.3 2.9,-1.9 2.9,-1.8 1.9,-2.8 2.7,-1.9 3.1,-1.4 1.3,-3.2 2.6,-2.3 2.7,-2.2 3.4,-0.8 -0.4,-5.6 1.7,-5.3 -3.4,-0.6 -2.7,-2.2 -3.4,-0.1 -3.1,-1.5 -3.2,1.3 -3.2,1 -3.5,0.4 -3.3,-1.3 -3.3,0.3 -3.2,-0.7 -3.3,-0.3 -3.2,0.8 -3.3,-0.5 -3.2,1 -3.3,0.2 -3.2,-0.2 -3.3,0.3 -3.1,1.2 -3.2,0.9 -3.3,-0.9 -3.1,1.3 -3.2,0.6 -3.3,-0.5 -3.2,0.8 -2.8,1.9 -3.1,1.3 -3.3,-0.1 -3.4,0.3 -3.2,1.1 -3.3,-0.3 -3.2,0.9Z" fill="#4393c3" stroke="#4393c3" stroke-width="0.9"/>
<path d="M501.5,267.8 l -4.9,-1.4 -4.2,-3 -5,-0.8 -5,1.3 -1,-3.1 -0.5,-3.3 1.1,-3.2 -0.6,-3.4 -2.4,-2.4 -1.8,-2.8 -0.8,-3.2 -0.7,-3.3 0.4,-1.2 3.3,-2.2 3.3,-2.2 3.4,-2.3 4,-0.9 3.5,1.1 2.8,2.5 3.2,1.8 3.7,0 3.7,-0.8 3.7,0.9 3.3,1.7 3.2,1.9 -1.4,3.2 -2.2,2.8 -2.3,2.7 -1.1,3.4 0.3,3.6 -0.3,3.5 -0.5,3.7 -2.2,3 -3.3,0.4Z" fill="#92c5de" stroke="#92c5de" stroke-width="0.9"/>
<path d="M533.8,280.3 l -1.4,-4.9 0.8,-5 1.4,-4.8 2.8,-4.2 -0.4,-4.8 0,-4.9 0.4,-4.9 1.9,-4.5 -2.3,-2.5 -3,-1 -3.2,0.1 -2.5,-1.9 -3.1,-0.9 -4.4,0.9 -3.6,2.5 -1.4,3.2 -2.2,2.8 -2.3,2.7 -1.1,3.4 0.3,3.6 -0.3,3.5 -0.5,3.7 -2.2,3 3.2,2.5 3.7,1.5 2.7,3 1.8,3.6 3.8,0.4 3.8,1 3.3,2.4Z" fill="#92c5de" stroke="#92c5de" stroke-width="0.9"/>
<path d="M534.4,281.5 l 2.9,1.8 2.9,1.8 2.8,2 3.1,1.3 2.8,-1.5 2.9,-1.5 2.6,-1.8 3,-1.2 1.3,-3.1 2.6,-2 2.3,-2.3 1.2,-3 0.3,-5.6 1.3,-5.4 -1,-5.5 -0.6,-5.6 -2.8,-1.7 -3.2,-1.2 -3.4,-0.3 -3,-1.6 -3.4,0.1 -3.3,-1.1 -3,-1.6 -3.4,-0.2 -1.9,4.5 -0.4,4.9 0,4.9 0.4,4.8 -2.8,4.2 -1.4,4.8 -0.8,5 1.4,4.9Z" fill="#92c5de" stroke="#92c5de" stroke-width="0.9"/>
<path d="M501.5,267.8 l -4.9,-1.4 -4.2,-3 -5,-0.8 -5,1.3 -3.5,4.5 -1.7,5.3 0.4,5.6 0.9,3.5 1.7,3.1 1.5,3.3 2.6,2.5 4.5,-1 3.9,-2.4 4.5,-0.3 4.3,-1.4 0,-4.7 0.4,-4.7 -0.1,-4.7Z" fill="#92c5de" stroke="#92c5de" stroke-width="0.9"/>
<path d="M534.4,281.5 l -3.5,1.4 -2.8,2.5 -3.4,1.8 -2.4,2.8 -2.5,2.9 -3.5,1.5 -3.5,1.6 -2.7,2.5 -1.2,-3.6 -1.8,-3.3 -2.3,-3.1 -3.3,-1.9 0,-4.7 0.4,-4.7 -0.1,-4.7 -0.3,-4.7 2.7,-2 3.3,-0.4 3.2,2.5 3.7,1.5 2.7,3 1.8,3.6 3.8,0.4 3.8,1 3.3,2.4 4,0.5Z" fill="#92c5de" stroke="#92c5de" stroke-width="0.9"/>
<path d="M599.8,274.7 l -2.6,-4.5 -1.5,-5 -0.7,-5.1 -2.2,-4.8 -3.2,-4.3 -2,-4.9 -4.7,-2.6 -4,-3.5 0.4,-0.5 3,-1.2 2.6,-2 3.2,-0.7 3.2,-0.3 3.7,0.4 3.7,-0.9 3.6,-1 3.8,0.1 1.6,4 1.1,4.2 2.2,3.8 1.1,4.1 -1.8,3.1 -1.4,3.3 -1.1,3.5 0.4,3.6 -1.2,3.4 -2,2.9 -2.6,2.4Z" fill="#92c5de" stroke="#92c5de" stroke-width="0.9"/>
<path d="M599.8,283.6 l -3.8,0.1 -4.2,-1.3 -3.9,-1.9 -3.2,-3 -3,-3.2 -4.1,-1 -4.2,-1 -4.3,-0.1 -4.3,-0.2 0.3,-5.6 1.3,-5.4 -1,-5.5 -0.6,-5.6 2.8,-3.4 3.8,-2.2 4.3,-1.2 3.2,-3.1 4,3.5 4.7,2.6 2,4.9 3.2,4.3 2.2,4.8 0.7,5.1 1.5,5 2.6,4.5 -0.2,4.5Z" fill="#92c5de" stroke="#92c5de" stroke-width="0.9"/>
<path d="M644.3,249.8 l 0.4,-3.8 0.9,-3.7 -3.5,-4.8 -5.4,-2.4 -2.9,-4.9 -3.5,-4.5 -4.7,0.9 -4.7,-1 -4.5,1.6 -4.7,0.4 -2.2,3.7 -3.4,2.6 1.6,4 1.1,4.2 2.2,3.8 1.1,4.1 3.1,1.8 2.2,2.8 3.4,0.7 2.9,2.1 3.5,0 3.4,-0.5 3.5,0.1 3.3,1.4 3.2,-4.5Z" fill="#92c5de" stroke="#92c5de" stroke-width="0.9"/>
<path d="M636.1,269.2 l -5.1,-0.8 -4.8,1.8 -5,0.3 -4.7,1.9 -4.3,2.5 -3.6,3.4 -4.8,2 -3.1,4.1 -0.9,-0.8 -0.2,-4.4 0.2,-4.5 2.6,-2.5 2.6,-2.4 2,-2.9 1.2,-3.4 -0.4,-3.6 1.1,-3.5 1.4,-3.3 1.8,-3.1 3.1,1.8 2.2,2.8 3.4,0.7 2.9,2.1 3.5,0 3.4,-0.5 3.5,0.1 3.3,1.4 -1,5.3Z" fill="#92c5de" stroke="#92c5de" stroke-width="0.9"/>
<path d="M628.4,140 l 3.6,0 3.4,-0.6 3.5,-0.7 3.2,-1.6 1.1,0.9 0.6,3.1 0.2,3.1 0.4,3.2 -0.1,3.1 -5.5,1.2 -4.2,3.7 -3.1,-2.9 -3.8,-1.7 1,-5.4Z" fill="#92c5de" stroke="#92c5de" stroke-width="0.9"/>
<path d="M649.7,154.4 l 4.2,-3.9 5.3,-2.3 5.1,-2.5 4.1,-4 5.1,-3.2 5.9,-0.9 4.4,-3.8 3.2,-5 -5.6,1.6 -5.8,0.8 -5.1,2.9 -4.5,3.7 -5.7,-0.9 -5.7,-1.2 -5.7,1.1 -5.7,1.2 0.6,3.1 0.2,3.1 0.4,3.2 -0.1,3.1 2.5,2.2Z" fill="#4393c3" stroke="#4393c3" stroke-width="0.9"/>
<path d="M648.1,168.4 l 1.7,-3.6 2.2,-3.3 3.5,-1.2 3.7,0.3 3.7,0.1 3.4,1.5 3.2,1.8 3.7,-0.1 3.5,1.2 3.7,-0.3 -5.2,2.5 -4.1,4 -2.2,5.4 -3.5,4.5 -3.3,0.3 -3.3,-0.7 -3.1,-1.4 -3.4,-0.1 -1.2,-5.8Z" fill="#4393c3" stroke="#4393c3" stroke-width="0.9"/>
<path d="M549.2,299.6 l 3.9,1.9 4.3,0.4 4.1,1.4 3.2,2.9 4.8,-1.4 3.7,-3.4 4.3,-2.4 4.8,-1.3 3.8,-3.1 3.3,-3.6 2.8,-4.1 3.8,-3.2 -4.2,-1.3 -3.9,-1.9 -3.2,-3 -3,-3.2 -4.1,-1 -4.2,-1 -4.3,-0.1 -4.3,-0.2 -1.2,3 -2.3,2.3 -2.6,2 -1.3,3.1 -3,1.2 -2.6,1.8 -2.9,1.5 -2.8,1.5 0.3,5.9Z" fill="#4393c3" stroke="#4393c3" stroke-width="0.9"/>
<path d="M650.4,289.6 l -3.1,4.2 -5.1,-0.3 -5,-1.1 -5,0.5 -4.8,1.7 -5.1,-1 -5.1,0.6 -4.5,2.6 -5,1.1 -2.3,-1.9 -0.9,-3 -1,-3 -0.9,-3.1 -1.9,-2.5 3.1,-4.1 4.8,-2 3.6,-3.4 4.3,-2.5 4.7,-1.9 5,-0.3 4.8,-1.8 5.1,0.8 1.3,2.9 0.5,3.2 1,3.1 2.3,2.4 1.3,3.1 2.6,2 2.5,2.2Z" fill="#d1e5f0" stroke="#d1e5f0" stroke-width="0.9"/>
<path d="M663.8,203.7 l -5.7,-1.2 -5.7,-1.5 -4.7,-3.5 -5.6,-2 1.5,-3.6 -0.4,-3.9 1.6,-2.8 2.2,-2.3 2.4,-2.3 2.9,-1.3 3.4,0.1 3.1,1.4 3.3,0.7 3.3,-0.3 1.6,3.8 1,3.9 -1.2,3.9 0.4,4.1 -2,3.3Z" fill="#2166ac" stroke="#2166ac" stroke-width="0.9"/>
<path d="M710.8,189.7 l 3.3,-1.8 3.7,-0.1 3.6,-0.5 3.5,-1.1 2.4,-2.8 2.7,-2.5 3.4,-1.5 2.9,-2.2 3.1,-2 3.3,-1.7 2.1,-3.1 2.2,-2.8 2.5,-2.8 1,-3.6 2,-3 2,-2.9 2.1,-4 3.6,-2.6 2.7,-3.5 1.7,-4.1 2.6,-3.5 2.7,-3.4 2.6,-3.6 1.8,-3.9 2.7,-3.7 2.8,-3.6 4.3,-1.5 4,-2.2 3.1,-3.2 2.6,-3.6 1.4,-4.3 2.7,-3.5 -3,3.1 -2.8,3.4 -2.2,3.9 -3.6,2.6 -3.8,2.4 -4,1.7 -4.5,0.3 -4.2,1.3 -3.9,2.2 -4.5,0 -4.2,0.7 -4.3,-0.3 -3.8,2.1 -3.6,2.4 -4,1.4 -4.1,1.4 -3.5,2.6 -2.6,3.5 -3.4,2.7 -3.2,2.9 -4.1,1.6 -3.6,2.8 -4.4,0.7 -4.4,-0.4 -3.2,2.7 -3.6,2.2 -3.2,2.8 -3.7,1.9 -2.8,3.3 -3.5,2.5 -3.5,2.6 -4.3,0.7 -5.2,2.5 -4.1,4 -2.2,5.4 -3.5,4.5 1.6,3.8 1,3.9 -1.2,3.9 0.4,4.1 5,-2.7 5.1,-2.5 5.7,0.1 5.7,-0.1 5.2,-2.2 5.7,0.1 5.6,0Z" fill="#2166ac" stroke="#2166ac" stroke-width="0.9"/>
<path d="M673,235.9 l 2.8,-5.2 2.8,-5.3 0.9,-2.8 0.4,-3 -0.3,-3 -0.5,-3 -3.4,-2.8 -4.2,-1.4 -3.6,-2.4 -3.9,-2 -3.9,4.3 -1.5,5.6 -1,4.8 1.4,4.6 1,4.7 -0.1,4.7 3,1.7 3.4,0.6 3.3,-0.4Z" fill="#2166ac" stroke="#2166ac" stroke-width="0.9"/>
<path d="M673,235.9 l 4.8,2.6 3.9,3.6 3.5,-1.2 2.8,-2.4 3.6,-1 3.6,-0.2 0.2,-3.4 -1.1,-3.2 1.4,-3.2 -0.3,-3.4 -0.1,-3.3 -0.1,-3.3 -1.2,-3.1 -0.3,-3.4 -3.5,1.5 -3.6,0.9 -3.7,0.3 -3.8,-0.1 0.5,3 0.3,3 -0.4,3 -0.9,2.8 -2.8,5.3Z" fill="#2166ac" stroke="#2166ac" stroke-width="0.9"/>
<path d="M705.4,240.4 l 2.5,-2.6 3.2,-1.7 3.2,-1.6 3.2,-1.4 2.3,-2.7 1.9,-3 2.1,-2.9 2.1,-2.8 2.1,-3 1,-3.5 2.8,-2.4 2.6,-2.5 -0.2,-3.7 1.4,-3.3 1.3,-3.4 0.1,-3.7 2.4,-5.3 2,-5.4 -1,-5.8 0.8,-5.9 3.3,-4.8 4.3,-3.8 2.2,-5.3 3.5,-4.6 -2,2.9 -2,3 -1,3.6 -2.5,2.8 -2.2,2.8 -2.1,3.1 -3.3,1.7 -3.1,2 -2.9,2.2 -3.4,1.5 -2.7,2.5 -2.4,2.8 -3.5,1.1 -3.6,0.5 -3.7,0.1 -3.3,1.8 -2.6,2.4 -2.7,2.2 -1.5,3.2 -1.1,3.4 -3.1,1.7 -2.8,2.2 -1.8,3.1 -1.5,3.1 0.3,3.4 1.2,3.1 0.1,3.3 0.1,3.3 0.3,3.4 -1.4,3.2 1.1,3.2 -0.2,3.4 5.4,0.7Z" fill="#2166ac" stroke="#2166ac" stroke-width="0.9"/>
<path d="M679.1,213.6 l 3.8,0.1 3.7,-0.3 3.6,-0.9 3.5,-1.5 1.5,-3.1 1.8,-3.1 2.8,-2.2 3.1,-1.7 1.1,-3.4 1.5,-3.2 2.7,-2.2 2.6,-2.4 -5.6,-0.1 -5.6,0 -5.7,-0.1 -5.2,2.2 -5.7,0.1 -5.7,-0.1 -5.1,2.5 -5,2.7 -2,3.3 -1.4,3.5 0.2,1.3 3.9,2 3.6,2.4 4.2,1.4Z" fill="#2166ac" stroke="#2166ac" stroke-width="0.9"/>
<path d="M659.9,233.7 l -3.4,2.6 -2.9,3.2 -3.7,2.3 -4.3,0.5 -3.5,-4.8 -5.4,-2.4 -2.9,-4.9 -3.5,-4.5 0.4,-3.1 1.8,-2.5 0.7,-3 1.9,-2.4 6,0.5 5.7,1.6 3.1,-0.5 2.6,-1.9 3,0.3 3.1,0.2 -1,4.8 1.4,4.6 1,4.7Z" fill="#92c5de" stroke="#92c5de" stroke-width="0.9"/>
<path d="M626.5,323.5 l 1.5,-3.1 2.7,-2.2 2.7,-2 2.2,-2.6 3.1,-1.5 2.9,-1.9 1.6,-3.1 2.3,-2.6 1.3,-5.3 0.5,-5.4 -5.1,-0.3 -5,-1.1 -5,0.5 -4.8,1.7 -5.1,-1 -5.1,0.6 -4.5,2.6 -5,1.1 1.7,2.9 0.7,3.2 2.6,2.1 2.1,2.6 0.3,3.3 1.9,2.8 1.7,2.8 0.5,3.3 3.6,1.4Z" fill="#d1e5f0" stroke="#d1e5f0" stroke-width="0.9"/>
<path d="M659.4,325.3 l -2.2,-2.4 -1.4,-2.9 -1.2,-3 -0.6,-3.1 -2.4,-2.2 -2.6,-1.9 -1.1,-3 -2.4,-2.3 1.3,-5.3 0.5,-5.4 3.1,-4.2 6,0.1 5.8,-1.5 2.6,3.3 3.7,2 3.8,1.7 3,2.9 -1.5,3.7 -2.1,3.4 -0.9,4 0.4,4 -3,2.7 -1.7,3.6 -2.5,3.1 -2.5,3.1Z" fill="#d1e5f0" stroke="#d1e5f0" stroke-width="0.9"/>
<path d="M676,338.5 l 2.2,-2.3 2,-2.4 2.9,-1.4 3.1,-0.7 0.2,-4 -0.1,-4 -0.5,-4 -1.4,-3.8 0.9,-4 -0.2,-4.1 1.9,-3.6 2.3,-3.3 -3.6,0.1 -3.6,-0.4 -3.2,-1.7 -3.6,-0.8 -1.5,3.7 -2.1,3.4 -0.9,4 0.4,4 -3,2.7 -1.7,3.6 -2.5,3.1 -2.5,3.1 2.2,4.5 3.7,3.4 4.9,1.4Z" fill="#d1e5f0" stroke="#d1e5f0" stroke-width="0.9"/>
<path d="M659.4,325.3 l -2.2,-2.4 -1.4,-2.9 -1.2,-3 -0.6,-3.1 -2.4,-2.2 -2.6,-1.9 -1.1,-3 -2.4,-2.3 -2.3,2.6 -1.6,3.1 -2.9,1.9 -3.1,1.5 -2.2,2.6 -2.7,2 -2.7,2.2 -1.5,3.1 2.8,3.2 3,2.8 2.4,3.4 1.5,4 2.8,-1.9 3.2,-0.9 3.4,0 3.2,-1.1 2.7,-1.8 2.5,-2.2 3,-1.4Z" fill="#d1e5f0" stroke="#d1e5f0" stroke-width="0.9"/>
<path d="M599.8,283.6 l -3.8,0.1 -3.8,3.2 -2.8,4.1 -3.3,3.6 -3.8,3.1 -4.8,1.3 -4.3,2.4 -3.7,3.4 -4.8,1.4 2.4,2.8 3.2,2.1 1.8,3.3 0.9,3.6 3.1,-0.3 3.2,0.2 3.1,0.9 3.2,0.3 3.2,-2.2 3.4,-1.9 1.7,-3.6 3,-2.6 3.4,-2.2 2,-3.4 1.6,-3.6 1.5,-3.6 -0.9,-3 -1,-3 -0.9,-3.1 -1.9,-2.5Z" fill="#4393c3" stroke="#4393c3" stroke-width="0.9"/>
<path d="M598.1,339.3 l -2.5,-1.8 -1.9,-2.4 -0.3,-3.1 -1.8,-2.6 -2.5,-5.4 -3.5,-4.9 3.2,-2.2 3.4,-1.9 1.7,-3.6 3,-2.6 3.4,-2.2 2,-3.4 1.6,-3.6 1.5,-3.6 2.3,1.9 1.7,2.9 0.7,3.2 2.6,2.1 2.1,2.6 0.3,3.3 1.9,2.8 1.7,2.8 0.5,3.3 -2.8,2.1 -2.8,2.2 -3.1,1.7 -2.9,2 -2.3,2.6 -2.9,2.2 -2.3,2.6Z" fill="#4393c3" stroke="#4393c3" stroke-width="0.9"/>
<path d="M510.1,298.5 l -2.2,2.5 -0.8,3.1 -0.6,3.2 0.6,3.1 -2.9,-1.7 -3.1,-0.8 -3.3,0.2 -3.3,0.3 -3.1,0.9 -3.2,0.2 -2.6,1.8 -3.1,1 -0.5,-5.2 -0.6,-5.3 2.4,-4.8 0.5,-5.3 4.5,-1 3.9,-2.4 4.5,-0.3 4.3,-1.4 3.3,1.9 2.3,3.1 1.8,3.3Z" fill="#92c5de" stroke="#92c5de" stroke-width="0.9"/>
<path d="M763.4,679.8 l 1.4,-5.7 1.2,-5.7 -3.9,-1.5 -4,-0.3 -4.1,0.2 -4,-0.9 -2,4.2 -1.9,4.2 -2.8,3.9 -4.3,2 1.7,2.8 2.6,1.9 3.8,0.3 3.6,-2.6 4,-1.7 4.5,0.4Z" fill="#b2182b" stroke="#b2182b" stroke-width="0.9"/>
<path d="M763.4,679.8 l 1.4,-5.7 1.2,-5.7 0.3,-0.2 3,1.4 3.3,0.7 3.3,-0.4 3.2,1.1 0.4,4.3 0.8,4.1 -1.2,4.1 0,4.3 -4.9,1.2 -4.9,1.2 -2.3,-5.6Z" fill="#b2182b" stroke="#b2182b" stroke-width="0.9"/>
<path d="M763.4,679.8 l 3.6,4.8 2.3,5.6 -3.6,4.2 -5,-1.6 -3.9,-3.6 -4.6,-2.6 -5.1,-1.4 3.6,-2.6 4,-1.7 4.5,0.4Z" fill="#b2182b" stroke="#b2182b" stroke-width="0.9"/>
<path d="M815.3,789.2 l -2.2,-3.2 -2.7,-2.9 -1.9,-3.4 -1.3,-3.7 3.2,-2.2 3.7,-1.4 4.4,2.4 3.5,3.5 4.9,1.1 4.7,1.3 1.3,3 1.4,3 -2.4,4.6 -4.9,-0.6 -5,0.6 -3.3,-1.1Z" fill="#d1e5f0" stroke="#d1e5f0" stroke-width="0.9"/>
<path d="M807.4,791.4 l 3.8,-1.6 4.1,-0.6 3.4,1 3.3,1.1 -2.8,1.2 -2.7,1.4 -3,0.8 -2.7,1.4 -1.7,2.7 -2.3,2 -2.4,1.9 -2,2.4 -1.6,-3.9 3.6,-4.7Z" fill="#d1e5f0" stroke="#d1e5f0" stroke-width="0.9"/>
<path d="M807.4,791.4 l -3,5.1 -3.6,4.7 -3.4,-4.9 -5.2,-2.9 2.6,-4.1 4.3,-2.5 1.2,-4.6 2.6,-4.1 2,3 0.8,3.5 0.2,3.5Z" fill="#d6604d" stroke="#d6604d" stroke-width="0.9"/>
<path d="M400.9,347.3 l -4.4,-2.4 -2.9,-2.4 2.6,-2.4 3.1,-1.4 3.2,-1.4 3.5,-0.4 1.8,-2.9 2.5,-2.3 2.5,-2.4 1.3,-3.2 2.5,-2.6 3.1,-1.6 3.3,-1.2 3.6,0.1 2.9,-1.9 1.8,-2.9 2.2,-2.7 1.7,-2.9 3.1,-1.6 3.5,-0.2 3.2,-1.1 2.9,-1.8 1.6,-3 2.1,-2.8 2.5,-2.3 2.9,-1.9 2.9,-1.8 1.9,-2.8 2.7,-1.9 3.1,-1.4 1.3,-3.2 2.6,-2.3 2.7,-2.2 3.4,-0.8 0.9,3.5 1.7,3.1 1.5,3.3 2.6,2.5 -0.5,5.3 -2.4,4.8 0.6,5.3 0.5,5.2 -4.7,1.5 -3.8,3.2 -4.5,2.3 -2.8,4.1 -4,2.1 -3.5,3 -4.4,1.1 -4.4,1 -2.9,3.6 -3.3,3 -4.2,1.8 -4.2,1.8 -4.5,0.9 -4.6,-0.4 -4.4,-1.6 -4.6,0.6 -4.7,0.4 -4.4,1.4 -3.5,3.1Z" fill="#2166ac" stroke="#2166ac" stroke-width="0.9"/>
<path d="M906.4,719.8 l -5.6,-1.3 -5.7,-0.8 -2.8,3.8 -3.7,3 -4.1,2.5 -4.7,0.9 -0.9,4.6 1.2,4.5 1.6,4.4 2.1,4.1 4,2.5 4.6,1 4.6,-1.2 4.7,0.5 1.4,-5.6 3.5,-4.7 3.7,-4.3 3.7,-4.3 -1.8,-2.6 -0.9,-3.1 -2.8,-1.5Z" fill="#92c5de" stroke="#92c5de" stroke-width="0.9"/>
<path d="M914,729.4 l 3.4,1.8 3.8,0.5 3.8,0.2 3.7,-0.7 3.6,-0.8 3.8,0 3.6,-0.6 3.7,-0.4 -0.9,3.6 -0.2,3.7 -1.3,3.5 -1.4,3.4 -1.9,3.3 -0.7,3.7 -1.2,3.4 -1.1,3.6 -3.2,-1.5 -3.5,0.1 -3.6,0 -3.1,1.7 -2.7,2.1 -3,1.7 -3.3,0.6 -3.4,0.4 -1.9,-3.6 -2.6,-3.1 -0.6,-4.1 -2.1,-3.6 1.4,-5.6 3.5,-4.7 3.7,-4.3Z" fill="#92c5de" stroke="#92c5de" stroke-width="0.9"/>
<path d="M943.4,729.4 l -0.9,3.6 -0.2,3.7 -1.3,3.5 -1.4,3.4 -1.9,3.3 -0.7,3.7 -1.2,3.4 -1.1,3.6 3.2,4 3.3,4 0.4,5.3 2.8,4.5 4,0.3 3.7,1.2 3.9,0.5 3.8,1.1 0.9,-3.5 -0.3,-3.6 -0.1,-3.5 0.8,-3.5 1.8,-3 1.7,-3.1 2.2,-2.9 1,-3.4 -2.7,-3.5 -0.6,-4.3 -3.2,-2.9 -3.4,-2.4 -2,-3.7 -3,-3.1 -1,-4.1 -0.7,-4.1 -4.1,2.5Z" fill="#92c5de" stroke="#92c5de" stroke-width="0.9"/>
<path d="M962.1,702 l -2.6,1.8 -1.5,2.9 -0.6,3.1 -1.6,2.7 -1.1,2.9 -0.7,3 -2.1,2.4 -0.7,3.1 0.7,4.1 1,4.1 3,3.1 2,3.7 3.4,2.4 3.2,2.9 0.6,4.3 2.7,3.5 2282.1,240.2 -0.8,-3 0.1,-3.1 -1.9,-2.5 -1.1,-2.9 -1.8,-2.7 -0.7,-3.1 -0.6,-3.1 1,-3.1 0.3,-3.1 -0.4,-3.1 -0.5,-3.1 -1.9,-2.6 -1.2,-2.9 -2.1,-2.3 -1,-3 -0.3,-3 0.9,-3 1.2,-2.8 1.8,-2.5 0.6,-3.1 0.4,-3.1 0.4,-3 1.7,-2.7 0.3,-3.1 -0.6,-3.3 0.9,-3.1 -1,-3 -1.4,-2.9 1.7,-2.7 0.5,-3.2 1,-3.1 -0.5,-3.2 -1170.1,-136.8 -758.7,-75.4 -305.5,0 -3,1.5 -3,1.2 -3.3,0.2 -3.2,1 -2,2.7 -2.8,1.8 -2.7,1.9 -3.2,1.1 -3.1,0.8 -3,1.3 -3.2,0.6 -3.2,0.6 -3.3,0.6 -3.2,-1 -3.3,0.8Z" fill="#92c5de" stroke="#92c5de" stroke-width="0.9"/>
<path d="M959.8,778.5 l 0.9,-3.5 -0.3,-3.6 -0.1,-3.5 0.8,-3.5 1.8,-3 1.7,-3.1 2.2,-2.9 1,-3.4 2282.1,240.2 43.9,744.8 -675.5,711.3 -1522.1,-1522.1Z" fill="#92c5de" stroke="#92c5de" stroke-width="0.9"/>
<path d="M880,772.5 l 3,2 2,3 4.2,-0.8 4.1,1 4.2,0.8 4.2,-1 2.4,-4 2.8,-3.8 1,-3.5 1,-3.5 -1.9,-3.6 -2.6,-3.1 -0.6,-4.1 -2.1,-3.6 -4.7,-0.5 -4.6,1.2 -4.6,-1 -4,-2.5 -3.8,3.4 -0.3,3.1 -1.5,2.7 -0.2,3.1 -1,2.9 1.1,2.9 1.5,2.7 0,3.1Z" fill="#92c5de" stroke="#92c5de" stroke-width="0.9"/>
<path d="M869.2,727.1 l -3.4,0.9 -2.7,2.4 -1.6,5.2 -1,5.5 1.6,2.5 1.2,2.8 2.8,1.4 2.1,2.3 3.1,-0.2 2.7,-1.5 2.9,1 3.1,-0.5 3.8,-3.4 -2.1,-4.1 -1.6,-4.4 -1.2,-4.5 0.9,-4.6 -2.9,-1.7 -3.8,0.3Z" fill="#d1e5f0" stroke="#d1e5f0" stroke-width="0.9"/>
<path d="M847.9,757.4 l 1,-3.9 -0.6,-3.9 -0.4,-4 -2.1,-3.4 -3.4,-1.2 -4.8,2.7 -4.3,3.2 -3.4,4.3 -2.5,4.8 3.5,3 3.4,3 3.7,0.1 3.2,-1.7 3.3,-1.4 3.3,-1.3Z" fill="#d6604d" stroke="#d6604d" stroke-width="0.9"/>
<path d="M864.8,772.5 l 3.7,1 3.9,0 3.7,-1.3 3.9,0.3 -0.4,-3.1 0,-3.1 -1.5,-2.7 -1.1,-2.9 1,-2.9 0.2,-3.1 1.5,-2.7 0.3,-3.1 -3.1,0.5 -2.9,-1 -2.7,1.5 -3.1,0.2 -3.3,3 -0.8,4.8 0.1,4.9 -0.3,4.9Z" fill="#d1e5f0" stroke="#d1e5f0" stroke-width="0.9"/>
<path d="M906.9,769.7 l 4.1,0.4 3.4,2.1 4,0.5 3.7,1.8 3.1,2.5 3.8,1.5 3.3,2.2 2.7,3.1 2.7,-1.7 2.7,-1.7 2.5,-2.1 1.5,-2.9 -2.8,-4.5 -0.4,-5.3 -3.3,-4 -3.2,-4 -3.2,-1.5 -3.5,0.1 -3.6,0 -3.1,1.7 -2.7,2.1 -3,1.7 -3.3,0.6 -3.4,0.4 -1,3.5Z" fill="#4393c3" stroke="#4393c3" stroke-width="0.9"/>
<path d="M970.2,526.7 l -0.1,0.1 -3.7,0.8 -3.9,0.3 -3.9,0.1 -3.7,-1.2 -3.2,-3.1 3.6,-3.7 3.6,-3.6 2,-4.9 3.6,-3.7 5.7,0 2.7,4 1.4,4.6 -1.4,5.4Z" fill="#92c5de" stroke="#92c5de" stroke-width="0.9"/>
<path d="M990.3,537.5 l -4,3.2 -4.8,1.5 -5.1,-0.9 -4.9,1.6 -2.8,-3.3 -0.8,-3.2 0,-3.4 1.8,-2.9 0.4,-3.3 0.1,-0.1 4.2,4 4.7,3.6 5.9,0.3Z" fill="#92c5de" stroke="#92c5de" stroke-width="0.9"/>
<path d="M971.5,542.9 l -0.2,5 -0.2,5.1 0.3,5.1 -1.3,4.9 -1.7,-3 -0.5,-3.4 -2.6,-2.1 -1.9,-2.9 -2.9,-1.7 -2.8,-1.8 -1.7,-2.9 -2.6,-2.2 2.9,-3.4 3,1.3 3.2,0.3 2.9,-1.6 3.3,0Z" fill="#92c5de" stroke="#92c5de" stroke-width="0.9"/>
<path d="M954.9,526.8 l 0,3.3 1.5,3 -0.9,3.2 0.8,3.3 -2.9,3.4 -4.3,1.3 -3.2,3.1 -4.4,0.1 -4.2,1.1 -2.9,-0.4 -2,-2.6 -1.3,-2.9 -1.6,-2.9 -1.2,-3 0.7,-4.2 0.1,-4.2 1.9,-3.9 0.3,-4.3 5.2,0.8 4.8,2.1 5.2,0.7 5.2,-0.1Z" fill="#92c5de" stroke="#92c5de" stroke-width="0.9"/>
<path d="M960.6,600.6 l -2.6,1.7 -3,0.9 -2.8,1.5 -3.2,0.1 -2.7,1.8 -3.3,0.2 -2.4,2.1 -2.2,2.2 2.3,3.2 1.5,3.6 3.5,1.7 3.1,2.5 3.3,0.1 3.2,0.9 3.2,-0.7 3.4,-0.3 2.4,-2.6 3.2,-1.4 2.4,-2.6 1.4,-3.2 -1.2,-3.1 -2.3,-2.4 -0.2,-3.3 -1.6,-2.9Z" fill="#d1e5f0" stroke="#d1e5f0" stroke-width="0.9"/>
<path d="M972.2,646.7 l -1.7,-3.8 0.2,-4.2 0.6,-4.1 1.3,-3.9 0.8,-3.9 0.5,-4 -0.1,-4.1 1.7,-3.7 -4.2,-2.7 -1.4,3.2 -2.4,2.6 -3.2,1.4 -2.4,2.6 -0.5,6 -0.2,5.9 2,3.8 2.2,3.7 3.2,2.8Z" fill="#92c5de" stroke="#92c5de" stroke-width="0.9"/>
<path d="M974.5,652.6 l -3.4,-1.1 -3.7,0.4 -3.1,-1.8 -3,-1.9 -3.5,-0.6 -3.6,-0.5 -3.5,0.8 -3.3,1.3 -0.4,-4 0.5,-4.1 2.1,-3.4 1.6,-3.7 5,1 5,-1 2,3.8 2.2,3.7 3.2,2.8 3.6,2.4 1.8,2.7Z" fill="#92c5de" stroke="#92c5de" stroke-width="0.9"/>
<path d="M929.9,636.4 l 1.3,-3.1 1.5,-2.9 -0.1,-3.4 0.5,-3.3 0.2,-3.4 1.6,-3 -0.2,-3.4 -1.3,-3.2 5,0.4 2.3,3.2 1.5,3.6 3.5,1.7 3.1,2.5 0.8,4.7 -0.8,4.6 -4.9,1.7 -3.9,3.2 -5,1Z" fill="#92c5de" stroke="#92c5de" stroke-width="0.9"/>
<path d="M600.7,858.9 l 5.7,-0.7 5.7,-1.4 3.6,3.7 3.5,3.9 4.1,3.4 5,1.8 2.9,4.4 3.8,3.6 3.8,3.7 1.7,5 2.4,2.8 2.2,3.1 0.9,3.6 0.8,3.6 0.1,3.8 1.6,3.3 -0.5,3.7 0.6,3.6 1.6,3.5 0,3.7 -0.8,3.7 0.1,3.7 -0.7,3.7 -0.5,3.7 -1.1,3.7 -2.7,2.7 3.1,315.5 -61.6,-344.1 -0.1,-3.4 0.1,-3.4 0,-3.4 -1.7,-3.1 -0.4,-3.3 -0.3,-3.4 0.7,-3.4 1.5,-3.1 -0.9,-3.4 0.5,-3.6 1,-3.3 1.4,-3.2 2,-2.8 2,-2.8 1.9,-2.9 2.5,-2.4Z" fill="#92c5de" stroke="#92c5de" stroke-width="0.9"/>
<path d="M593.1,836 l -2.8,2.4 -1.4,3.4 -2.9,2.2 -2.3,2.8 2.7,4.3 2.7,4.3 2.6,4.5 4.5,2.8 4.5,-3.8 -0.8,-4.7 -0.9,-4.8 0.8,-4.7 0.8,-4.8 -3.6,-2.3Z" fill="#92c5de" stroke="#92c5de" stroke-width="0.9"/>
<path d="M416.3,862.5 l 0.9,5.6 1.3,5.4 2.2,5.3 4.3,3.9 3.9,-0.9 4,0.6 4,0.4 3.9,-1 3.9,1 3.5,2.1 4,0.4 4.1,-0.4 -1.7,-2.9 -1.6,-3.1 -1.4,-3.3 -2.4,-2.7 -1.3,-3.5 -2.5,-2.7 -3.4,-1.1 -3,-2.1 -3.2,-1.8 -2.9,-2.1 -3.3,0.2 -3.3,-0.1 -3.2,0.7 -3.3,-0.7Z" fill="#92c5de" stroke="#92c5de" stroke-width="0.9"/>
<path d="M415.7,839.4 l -4,3.3 -5,1.2 -2.9,3.2 -1.8,3.9 -1.4,4.1 -2.4,3.6 4,2.8 4.8,0.5 4.6,0.7 4.7,-0.2 3.5,-2.8 0,-3.1 -0.1,-3.1 1.2,-2.9 1.5,-2.7 -3,-4.5Z" fill="#4393c3" stroke="#4393c3" stroke-width="0.9"/>
<path d="M432.8,847.9 l 0.8,5.9 -0.7,5.8 2.9,2.1 3.2,1.8 3,2.1 3.4,1.1 2.5,2.7 1.3,3.5 2.4,2.7 1.4,3.3 1.6,-5.4 -1.2,-5.5 -1.5,-5.4 1.2,-5.5 -2.2,-5 -2.5,-4.9 -1.6,-5.3 -2.7,-4.8 -1.6,3.8 -2.9,2.9 -3.1,2.5Z" fill="#4393c3" stroke="#4393c3" stroke-width="0.9"/>
<path d="M415.7,839.4 l 1.6,-3.1 0.3,-3.6 2.1,-2.8 1.6,-3.1 2.7,1.7 3.1,0.7 3.1,1 2.4,2.2 3.2,0.2 2.9,1.4 3.2,-0.3 3.2,-0.2 -1,3.6 -1.6,3.8 -2.9,2.9 -3.1,2.5 -3.7,1.6 -5.2,-0.8 -5.2,0.8 -3,-4.5Z" fill="#4393c3" stroke="#4393c3" stroke-width="0.9"/>
<path d="M344.6,887.8 l 3.9,-0.7 3.6,1.4 3.8,-0.6 3.8,-0.1 3.7,0.2 3.8,0.2 3.7,-0.5 3.8,0.1 -2.1,3.6 -1.6,4 -2.8,3.1 -3,3 -4.3,-0.9 -4.3,-1.1 -4.3,0.9 -4.2,1.1 -1.4,-4.6 -3.4,-3.5Z" fill="#92c5de" stroke="#92c5de" stroke-width="0.9"/>
<path d="M374.7,887.8 l 5.1,-2.6 4.4,-3.6 0.7,0.8 -0.2,3.3 -1.3,3.1 1.1,3.1 0.5,3.2 1.7,2.9 0.8,3.2 -0.7,3.2 0.7,3.3 -1.4,2.9 0.1,3.3 -0.6,3.3 -2,2.6 -1.3,2.9 -1.5,2.8 -1.1,3 -1.5,2.8 -2.7,2.2 -1.7,3 -2.3,2.7 -1.2,3.2 -2.2,2.7 -0.9,3.3 -1.1,3.3 -2.4,2.6 -0.3,-3.4 0,-3.4 0.8,-3.3 1.5,-3 -0.2,-3.4 -1,-3.2 -0.3,-3.4 0.7,-3.3 0,-3.4 -1.3,-3.1 0.4,-3.4 -0.2,-3.3 0.1,-3.3 0.5,-3.3 1.1,-3.2 -0.3,-3.4 3,-3 2.8,-3.1 1.6,-4Z" fill="#92c5de" stroke="#92c5de" stroke-width="0.9"/>
<path d="M343.3,893.4 l -2.8,1.8 -3.1,1.2 -3.5,0.1 -3,1.5 -2.7,2 -2.6,2.1 -3.1,1.3 -2.6,2.2 0.8,5.5 0.5,5.6 0.6,5.6 -1.1,5.5 0.2,5.8 -2.7,5.1 -2.7,5 -1.1,5.5 1.7,5.6 3,5 0.9,5.9 -1.8,5.7 -0.9,5.7 -3,4.9 0.7,5.8 -2,5.5 -0.8,3.3 0.7,3.4 1.5,3 0.3,3.4 1.7,3 2.5,2.3 0.9,3.3 1.3,3.1 -0.4,3.4 -0.4,3.4 0.5,3.5 1.6,3.1 0.7,3.4 2.1,2.9 2,2.8 2.7,2.1 2.2,-3.7 0.3,-4.2 0.9,-4.3 1.6,-4.1 -0.8,-4.4 1,-4.4 -0.4,-4.3 -1.7,-4.1 -0.1,-4.4 -0.1,-4.4 0.9,-4.4 2.5,-3.7 2.7,-3.5 3.2,-3.1 1.2,-4.3 2.6,-3.7 -0.8,-4.5 1.2,-4.4 -0.8,-4.3 1.1,-4.4 -1.2,-4.2 0,-4.4 2.6,-3.6 1.2,-4.2 1,-4.3 1.4,-4.1 -1.9,-4 -1.3,-4.2 -0.1,-4.4 1.1,-4.3 0.8,-4.2 -0.2,-4.3 -0.3,-4.4 -1.6,-4 -1.4,-4.6Z" fill="#d1e5f0" stroke="#d1e5f0" stroke-width="0.9"/>
<path d="M350.1,427.2 l -0.8,-4 1.2,-3.8 1.9,-3.5 1.8,-3.5 0.1,-3.9 1.7,-3.5 -0.1,-3.9 1.6,-3.6 2.3,-3.7 1,-4.3 3.3,-2.8 3.4,-2.7 2,-3.7 1.8,-3.8 1.2,-4 1.2,-4 1.9,-3.7 1.7,-3.9 2.1,-3.6 2.2,-3.5 0.7,-4.2 2.4,-3.5 2,-3.8 0.5,-4.2 3.1,2.4 3.3,2 2.9,2.4 -2.8,5.1 -0.3,5.8 -0.2,5.7 -2.4,5.2 -4.5,3.7 -3.3,4.7 -2.8,5.1 -1.5,5.6 -0.5,5.8 2.1,5.4 -0.4,5.8 -2.6,5.2 -1.2,5.6 0,5.6 1.6,5.5 0.5,5.6 -3.8,3.6 -4.6,2.3 -4.1,3.2 -3.9,3.5 -2.5,-4.3 -2,-4.6 -3,-4Z" fill="#92c5de" stroke="#92c5de" stroke-width="0.9"/>
<path d="M337.3,437.4 l -4.1,1.6 -3.2,2.9 -3.4,2.7 -4,1.7 -4.3,-0.7 -4.3,1.1 -4.3,0.8 -3.9,1.7 -3.5,1.4 -3,2.4 5,0.5 4.9,0.7 5,-0.3 4.9,0.7 4.4,2.4 5,1 4.5,2.2 4.9,1 2.8,-1.8 3,-1.7 3.3,-1.3 3.1,-1.4 3,-1.8 2.8,-2.2 1.1,-3.4 2.2,-2.9 -5.2,-2.6 -5,-3.1 -3.1,-0.5 -2.6,-1.8 -3.1,-0.2Z" fill="#92c5de" stroke="#92c5de" stroke-width="0.9"/>
<path d="M384.4,442.8 l -2.2,-2.8 -1.5,-3.2 -1.1,-3.3 -1.4,-3.2 -3.8,3.6 -4.6,2.3 -4.1,3.2 -3.9,3.5 -0.5,1.2 2.1,5.2 2.5,5 4.7,-3 5.4,-1.5 4.1,-3.6Z" fill="#4393c3" stroke="#4393c3" stroke-width="0.9"/>
<path d="M369,464 l -3.9,0.5 -3.7,1 -4,0.6 -3.7,-1.5 -3.7,-0.8 -3.7,-1.2 -3.8,0.1 -3.8,-0.9 -0.8,-0.6 2.8,-1.8 3,-1.7 3.3,-1.3 3.1,-1.4 3,-1.8 2.8,-2.2 1.1,-3.4 2.2,-2.9 2.1,-0.6 2.1,5.2 2.5,5 2.8,4.4Z" fill="#4393c3" stroke="#4393c3" stroke-width="0.9"/>
<path d="M480.4,429.9 l -3.9,4.4 -4.7,3.4 -3.5,4.6 -3.5,4.7 -5.2,-2.6 -5.2,-2.6 -4.4,-4.1 -5.7,-1.5 -3.6,-4.7 -4.4,-3.8 -4.8,-3.4 -3.5,-4.8 -2.6,-4.4 -0.4,-5.1 1.3,-4.9 0.4,-5 -1.3,-4.9 -1.8,-4.6 1,-5 0.2,-5 3.1,0.9 3.1,0.8 3.1,0.8 2.8,1.7 3.2,0 3.2,0.5 3.1,0.5 3.1,0.8 3.3,0.8 3.2,0.5 3.3,1 2.5,2.3 2.4,2.3 2.8,1.8 2.1,2.6 1.4,3.1 0.6,3.8 0.8,3.8 1.5,3.6 2.1,3.2 1.3,3.7 2.2,3.2 1.4,3.7Z" fill="#2166ac" stroke="#2166ac" stroke-width="0.9"/>
<path d="M494.1,441.8 l -3.3,3.2 -3.7,2.7 -4.3,1.6 -4.2,1.8 -2.1,4 -2.5,3.7 -2.7,3.7 -2,4 -2.4,0.9 1,-5.2 0.4,-5.3 -2.9,-4.5 -0.6,-5.4 3.5,-4.7 3.5,-4.6 4.7,-3.4 3.9,-4.4 3.1,1.6 1.9,2.9 3,1.9 3.5,0.3Z" fill="#2166ac" stroke="#2166ac" stroke-width="0.9"/>
<path d="M494.1,441.8 l -3.3,3.2 -3.7,2.7 -4.3,1.6 -4.2,1.8 -2.1,4 -2.5,3.7 -2.7,3.7 -2,4 4.3,1.2 4.4,-0.9 4.2,1.1 4.3,1 4.4,-1 4.4,0.8 4.5,-1 3.4,-3 0.9,-3 0.1,-3.1 1.5,-2.7 1,-3 -3.4,-2.4 -3.2,-2.8 -3.6,-2.3Z" fill="#2166ac" stroke="#2166ac" stroke-width="0.9"/>
<path d="M512.5,362.5 l -2.1,-4.2 -4.2,0.5 -4,-1.1 -3.9,-1.8 -4.3,0.3 -5.3,2.5 2,4.7 3.3,3.9 2,4.7 2.5,4.4 2.6,-4.2 3.6,-3.5 3.9,-3.1Z" fill="#d1e5f0" stroke="#d1e5f0" stroke-width="0.9"/>
<path d="M523,390.7 l 2.2,-5.2 0.2,-5.7 -3.1,-2.8 -2.7,-3.2 -4.7,3.1 -5.3,1.8 -5.4,1.6 -4.8,3.1 -3,4.5 -0.7,5.5 4.3,0.3 4.2,-1 4.2,0.6 4,1.5 4.9,-3.2Z" fill="#d1e5f0" stroke="#d1e5f0" stroke-width="0.9"/>
<path d="M587.1,662.8 l -0.3,-3.4 -0.4,-3.4 3.5,-1.1 3.6,-0.1 3.5,0.6 3.6,-0.7 0.6,0.7 -2.5,2.1 -1.3,3 -0.3,3.2 -1.1,3 -5.6,0.5Z" fill="#4393c3" stroke="#4393c3" stroke-width="0.9"/>
<path d="M581,675 l -2.9,-1 -2.7,-1.5 -3,0.8 -3,-0.4 -5.7,1.9 -5.8,1.2 -1.9,-2.9 -1.7,-3 -0.5,-3.4 0,-3.5 5.5,0 5.5,1 5.5,-0.3 5.5,-0.7 2.9,3 1.9,4.2Z" fill="#2166ac" stroke="#2166ac" stroke-width="0.9"/>
<path d="M554.2,639.1 l -3.3,2.5 -2.2,3.4 -0.5,4 -1.9,3.6 1.8,2.7 1.1,3.2 2.2,2.4 2.4,2.3 5.5,0 5.5,1 5.5,-0.3 5.5,-0.7 1.6,-2.6 2.1,-2.2 1.1,-2.9 2,-2.5 -2.7,-4.2 -0.8,-5 -2.8,-4.1 -1.4,-4.8 -5.3,0.8 -5.4,-0.2 -4.8,2.5Z" fill="#92c5de" stroke="#92c5de" stroke-width="0.9"/>
<path d="M581,675 l -0.4,-4.6 -1.9,-4.2 4,-2.2 4.4,-1.2 3.3,4.4 -2.1,5.6 -4.4,4Z" fill="#92c5de" stroke="#92c5de" stroke-width="0.9"/>
<path d="M574.9,634.9 l 1.4,4.8 2.8,4.1 0.8,5 2.7,4.2 3.8,3 3.5,-1.1 3.6,-0.1 3.5,0.6 3.6,-0.7 0.6,-3.9 -1.1,-3.8 -0.4,-3.8 -0.7,-3.7 -0.2,-3.9 0,-4 -1.7,-3.5 -1.8,-3.5 -3.4,0.5 -3.5,0.2 -3.3,2.6 -3.5,2.1 -3.9,1.7Z" fill="#92c5de" stroke="#92c5de" stroke-width="0.9"/>
<path d="M587.1,662.8 l -0.3,-3.4 -0.4,-3.4 -3.8,-3 -2,2.5 -1.1,2.9 -2.1,2.2 -1.6,2.6 2.9,3 4,-2.2Z" fill="#92c5de" stroke="#92c5de" stroke-width="0.9"/>
<path d="M602.4,621.3 l 5,1.5 5,1.7 4.6,2.7 4.8,2 -0.5,3.8 -0.9,3.7 -1.1,3.7 -0.5,3.8 -1.6,3.6 -0.5,3.8 -0.7,3.8 0.2,3.9 -3.9,-0.5 -3.8,-0.6 -3.3,-2.2 -4,-0.6 -0.6,-0.7 0.6,-3.9 -1.1,-3.8 -0.4,-3.8 -0.7,-3.7 -0.2,-3.9 0,-4 -1.7,-3.5 -1.8,-3.5 4,-0.8Z" fill="#92c5de" stroke="#92c5de" stroke-width="0.9"/>
<path d="M581,675 l -2.9,-1 -2.7,-1.5 -3,0.8 -3,-0.4 -5.7,1.9 -5.8,1.2 0.3,5.1 -0.7,5 -1.1,5.1 1.2,5 2.4,2 2.7,1.5 3,0.7 2.7,1.5 2.3,2.1 2.4,2 1.7,2.6 1.6,2.6 3.4,-1.4 3.6,0.4 3.5,-0.7 3.5,-0.1 2.2,-1.5 0.2,-5.8 -0.2,-5.7 -2.6,-4.8 -3.3,-4.3 -1.3,-5.2 -1.5,-5.3Z" fill="#d1e5f0" stroke="#d1e5f0" stroke-width="0.9"/>
<path d="M596,666.7 l 3.1,4.5 3.2,4.4 5,-1.6 5.3,-0.5 4.5,-2.8 3.6,-4 -2.5,-3.5 -2,-3.9 -3.9,-0.5 -3.8,-0.6 -3.3,-2.2 -4,-0.6 -2.5,2.1 -1.3,3 -0.3,3.2Z" fill="#d1e5f0" stroke="#d1e5f0" stroke-width="0.9"/>
<path d="M583.9,676.8 l 1.5,5.3 1.3,5.2 3.3,4.3 2.6,4.8 2.4,-5.5 4.3,-4.1 2.7,-5.3 0.3,-5.9 -3.2,-4.4 -3.1,-4.5 -5.6,0.5 -2.1,5.6Z" fill="#d1e5f0" stroke="#d1e5f0" stroke-width="0.9"/>
<path d="M630.9,528.1 l 3,3.5 1.3,4.4 4.3,1.2 4.5,-0.7 2.7,-1.6 1.7,-2.7 3,-0.9 2.3,-2.1 -2.3,-2.6 -1.8,-2.9 -0.9,-3.4 -1.4,-3.2 -3,-0.6 -3.1,-0.3 -2.4,-1.9 -2.7,-1.3 -2.2,1.3 -0.8,3.6 -1.7,3.1 -0.4,3.6Z" fill="#92c5de" stroke="#92c5de" stroke-width="0.9"/>
<path d="M652.8,551.8 l -3.2,-0.6 -2.6,-2 -2.9,-1.5 -3.2,-0.4 2.8,-5.1 0.3,-5.7 2.7,-1.6 1.7,-2.7 3,-0.9 2.3,-2.1 2.6,1.9 1.8,4.4 -0.4,4.6 0.2,4.7 -1.2,4.4Z" fill="#4393c3" stroke="#4393c3" stroke-width="0.9"/>
<path d="M628.9,561.9 l -3.1,-2.6 -3.5,-2 -2.4,-3.3 -1.6,-3.7 0.4,-4.9 3.6,-0.3 3.6,-0.8 3.5,-1 3.3,-1.6 3.8,2.8 3.5,3 -2.7,3.8 -4.1,2.3 -2.1,4.1 -1.7,4.2Z" fill="#4393c3" stroke="#4393c3" stroke-width="0.9"/>
<path d="M632.7,541.7 l 1.7,-2.6 0.8,-3.1 -1.3,-4.4 -3,-3.5 -2.7,4 -4,2.5 -4,2.5 -3,3.6 1.5,4.7 3.6,-0.3 3.6,-0.8 3.5,-1Z" fill="#92c5de" stroke="#92c5de" stroke-width="0.9"/>
<path d="M572.6,750.8 l 3.3,0.4 3.3,-0.8 3.3,1 3.4,-0.6 3.4,0.2 3.2,1.4 3.3,-0.8 3.3,-0.8 -1.3,-5.3 0.7,-5.4 -0.2,-5.4 -0.1,-5.4 -2.5,-4.9 -3.3,-4.3 -0.5,-5.5 -1.5,-5.2 -3.5,0.1 -3.5,0.7 -3.6,-0.4 -3.4,1.4 -1.7,4.2 -2.9,3.5 -2.3,3.9 -3,3.3 1.9,2.7 0.4,3.3 0.7,3.2 2,2.7 -0.2,3.2 0.3,3.2 -0.3,3.3Z" fill="#d1e5f0" stroke="#d1e5f0" stroke-width="0.9"/>
<path d="M574.4,795.3 l 5.3,-2.4 4.8,-3.1 5.3,-2.4 4.8,-3.2 -0.8,-3.3 -0.9,-3.3 -2.4,-2.6 -0.8,-3.4 -4.1,-0.2 -4,1.1 -4,-1.1 -3.9,-1.4 -0.9,3.1 -1.2,2.9 -1.7,2.7 -1.2,3.1 -0.8,3.1 -1.5,2.9 -2.6,2 -1.5,3 0,0 3.1,0.8 3.1,-0.2 2.7,1.7Z" fill="#d1e5f0" stroke="#d1e5f0" stroke-width="0.9"/>
<path d="M568.3,758 l 2.3,2.6 1.8,2.8 0.7,3.3 0.6,3.3 3.9,1.4 4,1.1 4,-1.1 4.1,0.2 3.6,-4.5 4.5,-3.5 2.7,-5.1 0.5,-5.8 -1.9,-1.9 -3.3,0.8 -3.3,0.8 -3.2,-1.4 -3.4,-0.2 -3.4,0.6 -3.3,-1 -3.3,0.8 -3.3,-0.4 -2,3.7Z" fill="#d1e5f0" stroke="#d1e5f0" stroke-width="0.9"/>
<path d="M519.6,373.8 l -4.7,3.1 -5.3,1.8 -5.4,1.6 -4.8,3.1 -0.2,-3.5 -0.7,-3.5 2.6,-4.2 3.6,-3.5 3.9,-3.1 3.9,-3.1 2.7,3.2 3.2,2.7Z" fill="#d1e5f0" stroke="#d1e5f0" stroke-width="0.9"/>
<path d="M627.7,150.8 l 3.8,1.7 3.1,2.9 -1.5,3 0,3.4 -0.6,3.3 0.6,3.3 -2.3,2.4 -2.7,2.1 -2.6,0.4 -4.4,-1.2 -3.1,-3.2 -2.4,-3.8 -3.2,-3 0.7,-3.5 2,-3 3.2,-1.4 3.5,0 2.9,-1.8Z" fill="#2166ac" stroke="#2166ac" stroke-width="0.9"/>
<path d="M633.1,168.4 l -0.6,-3.3 0.6,-3.3 0,-3.4 1.5,-3 4.2,-3.7 5.5,-1.2 2.5,2.2 2.9,1.7 1.7,3.4 0.6,3.7 -2.2,3.3 -1.7,3.6 -3.7,1 -3.8,-0.4 -3.7,-1Z" fill="#2166ac" stroke="#2166ac" stroke-width="0.9"/>
<path d="M649.7,154.4 l 4.2,-3.9 5.3,-2.3 5.1,-2.5 4.1,-4 5.1,-3.2 5.9,-0.9 4.4,-3.8 3.2,-5 4.5,-2.3 2.9,-4 3.7,-3.1 3.3,-3.5 4.8,-1.5 5,0.5 4.5,-2.1 4.3,-2.4 4.4,-2.1 4.8,-0.4 4.8,-0.5 4.8,-0.3 4.9,0 4.9,-0.7 4.4,2.2 4.7,1.5 4.8,-0.8 4.3,-2.5 4.8,0.6 4.8,0.3 4.7,-0.8 4.8,-0.9 3.3,-3.7 4.5,-1.9 4.3,-2.4 2.7,-4.1 4.5,-1.7 4.3,-2 4,-2.6 4,-2.6 2.3,-4.3 3,-3.8 -1.7,4.3 -1.3,4.4 -3.8,2.7 -2.8,3.7 -3.6,2.7 -3.4,2.9 -4.4,1.2 -3.9,2.3 -3,3.1 -2.8,3.4 -2.2,3.9 -3.6,2.6 -3.8,2.4 -4,1.7 -4.5,0.3 -4.2,1.3 -3.9,2.2 -4.5,0 -4.2,0.7 -4.3,-0.3 -3.8,2.1 -3.6,2.4 -4,1.4 -4.1,1.4 -3.5,2.6 -2.6,3.5 -3.4,2.7 -3.2,2.9 -4.1,1.6 -3.6,2.8 -4.4,0.7 -4.4,-0.4 -3.2,2.7 -3.6,2.2 -3.2,2.8 -3.7,1.9 -2.8,3.3 -3.5,2.5 -3.5,2.6 -4.3,0.7 -3.7,0.3 -3.5,-1.2 -3.7,0.1 -3.2,-1.8 -3.4,-1.5 -3.7,-0.1 -3.7,-0.3 -3.5,1.2 -0.6,-3.7Z" fill="#2166ac" stroke="#2166ac" stroke-width="0.9"/>
<path d="M607.8,127.8 l 1.4,3.3 0.5,3.7 1,3.5 2.2,3 1.8,3.3 0.4,3.7 0.6,3.6 -0.6,3.7 3.2,-1.4 3.5,0 2.9,-1.8 3,-1.6 1,-5.4 -0.3,-5.4 -3.4,-3.7 -4.1,-2.9 -4.4,-2.5 -4.2,-2.7Z" fill="#92c5de" stroke="#92c5de" stroke-width="0.9"/>
<path d="M612.3,128.2 l 3.6,-0.4 3.3,-1.8 2.7,-2.4 2.3,-2.8 3.4,-1.1 3.6,0.1 3.6,0.2 3.3,-1.4 1.7,4.5 1.4,4.5 -0.1,4.8 1,4.7 -3.2,1.6 -3.5,0.7 -3.4,0.6 -3.6,0 -3.4,-3.7 -4.1,-2.9 -4.4,-2.5Z" fill="#92c5de" stroke="#92c5de" stroke-width="0.9"/>
<path d="M822.8,76.9 l 3.1,-0.8 3,-1.5 2.3,-2.3 1.9,-2.7 3.2,-0.9 2.5,-2.1 1.4,-3 2.4,-2.2 1.5,-3 2.6,-2.1 3.1,-1 2.8,-1.8 1.3,-2.9 2.4,-2.3 2.5,-2 2.9,-1.5 316.4,-285.4 -2.8,1.7 -2.9,1.1 -3,1.4 -2,2.6 -3.2,0.3 -3.2,-0.3 -3,1.3 -2.8,1.6 -1.9,2.5 -1.7,2.7 -2.2,2.3 -1.8,2.6 -2.2,2.4 -3,1.2 -2.6,1.9 -3.2,0.8 -2.4,1.9 -2.2,2.3 -3,1 -2.4,2.2 -2.8,1.2 -3.1,0.5 -3,0.8 -2.9,1.1 -2.5,2 -3,1 -1.9,2.5 -2.5,1.9 -3,0.7 -2.5,2 -2.7,1.6 -3.1,0.7 -431.3,268.4 -1.2,2.9 -1.9,2.5 -1.4,2.8 -1.6,2.7 -0.8,3.1 -0.9,3 -0.3,3.2 0.7,3.2 -2,2.4 -2.8,1.5 -2.7,1.6 -2.1,2.3 -2.1,2.4 -2.4,2.1 -1.1,2.9 -1.6,2.7 1.7,4.5 1.4,4.5 -0.1,4.8 1,4.7 1.1,0.9 5.7,-1.2 5.7,-1.1 5.7,1.2 5.7,0.9 4.5,-3.7 5.1,-2.9 5.8,-0.8 5.6,-1.6 4.5,-2.3 2.9,-4 3.7,-3.1 3.3,-3.5 4.8,-1.5 5,0.5 4.5,-2.1 4.3,-2.4 4.4,-2.1 4.8,-0.4 4.8,-0.5 4.8,-0.3 4.9,0 4.9,-0.7 4.4,2.2 4.7,1.5 4.8,-0.8 4.3,-2.5 4.8,0.6 4.8,0.3 4.7,-0.8 4.8,-0.9 3.3,-3.7 4.5,-1.9 4.3,-2.4 2.7,-4.1 4.5,-1.7 4.3,-2 4,-2.6 4,-2.6 2.3,-4.3Z" fill="#92c5de" stroke="#92c5de" stroke-width="0.9"/>
<path d="M633.1,168.4 l 3.8,-0.4 3.7,1 3.8,0.4 3.7,-1 3,5.1 1.2,5.8 -2.9,1.3 -2.4,2.3 -2.2,2.3 -1.6,2.8 -3.2,-4.3 -3.1,-4.4 -3.9,-3.9 -4.9,-2.5 2.7,-2.1Z" fill="#2166ac" stroke="#2166ac" stroke-width="0.9"/>
<path d="M664,205 l -0.2,-1.3 -5.7,-1.2 -5.7,-1.5 -4.7,-3.5 -5.6,-2 -4.6,2.2 -3.2,3.8 -0.2,3.4 -0.5,3.3 0.6,3.3 0.9,3.2 6,0.5 5.7,1.6 3.1,-0.5 2.6,-1.9 3,0.3 3.1,0.2 1.5,-5.6Z" fill="#2166ac" stroke="#2166ac" stroke-width="0.9"/>
<path d="M579.4,196 l 4.4,1.5 4.7,-0.5 4.1,-2.4 4.7,-0.4 4.5,0.1 4.5,0.9 4.4,-1.2 4.5,-0.2 -0.7,4.3 -2.3,3.7 -2,3.8 -3.3,2.8 -4.5,-1 -4.5,1.1 -4.3,-1.5 -4.1,-1.7 -3.1,-0.8 -2.7,-1.7 -2.4,-2.1 -2.4,-2Z" fill="#2166ac" stroke="#2166ac" stroke-width="0.9"/>
<path d="M578.9,198.7 l -3.6,2.5 -3.5,2.8 -3.6,2.5 -2.5,3.8 1.8,3.8 0,4.2 2.1,3.5 2.2,3.4 0.5,4.1 2.4,3.5 1.5,3.8 3.1,2.9 3,-1.2 2.6,-2 3.2,-0.7 3.2,-0.3 0.3,-3.9 -1.6,-3.6 -0.2,-3.8 -1.2,-3.6 1.2,-3.7 -0.1,-3.8 -0.3,-3.8 0.1,-3.8 -3.1,-0.8 -2.7,-1.7 -2.4,-2.1Z" fill="#2166ac" stroke="#2166ac" stroke-width="0.9"/>
<path d="M556.1,808 l -3.6,1 -3.6,0.6 -3.3,-1.7 -3.8,-0.2 -3.6,-0.7 -3.6,-1 -3.3,1.8 -3.8,0.2 -1,3.2 -0.7,3.3 -0.5,3.3 -1.2,3.1 3.8,3.7 1.6,5.1 5.2,1.1 4.4,3 3.9,3.6 5,1.7 3.2,-1.5 3.5,-0.4 1.5,-3.1 0.7,-3.3 1.9,-2.8 1.2,-3.2 0.1,-4.4 -1.1,-4.2 -0.9,-4.3Z" fill="#92c5de" stroke="#92c5de" stroke-width="0.9"/>
</g>
<path d="M15.9,75.1 l 3.5,2.5 3.3,2.8 3.7,2.2 2.9,3.3 3.3,2.7 3.9,2 4.5,0.2 3.9,2 M44.9,92.8 l 416,124.9 M2618.3,2448.3 l -1522.1,-1522.1 M3249.9,992.2 l -2282.1,-240.2 M967.8,752 l -1,3.4 -2.2,2.9 -1.7,3.1 -1.8,3 -0.8,3.5 0.1,3.5 0.3,3.6 -0.9,3.5 M1096.2,926.2 l -136.4,-147.7 M2026.8,3022.4 l -1110.4,-2220.8 M2018.1,3021.6 l -1118.1,-2204.2 M903.4,803.8 l 3.2,-1.6 2.5,-2.5 M916.4,801.6 l -3.4,-1.8 -3.9,-0.1 M916.4,801.6 l 3.4,-2.3 2.8,-3 3.8,-1.3 3.8,-1.6 M944.4,775.4 l 4,0.3 3.7,1.2 3.9,0.5 3.8,1.1 M944.4,775.4 l -1.5,2.9 -2.5,2.1 -2.7,1.7 -2.7,1.7 M930.2,793.4 l 3.5,-4.3 1.3,-5.3 M537.5,138.9 l -1.9,-5.1 -1.2,-5.3 -2.4,-4.8 -1.3,-5.3 -1.2,-5.5 -2.9,-4.7 -4.3,-3.5 -3.5,-4.3 -4.6,-3.3 -5.7,-0.8 -5.1,-2.5 -3.4,-4.6 -2.3,-5 -2.5,-5 -3.8,-4.1 -3.9,-3.8 -3.7,-4 -1.7,-5.1 -2,-5 -3.9,-3.7 -4.1,-3.6 -2.6,-4.8 -0.9,-5.3 -1.9,-5.1 -1.2,-5.2 -2.2,-4.9 -2.3,-5 -4.1,-3.6 -5,-2.5 -3.2,-4.5 -2.8,-4.7 -1.4,-5.3 M289.4,-131.1 l 155.1,130.1 M289.4,-131.1 l 187.1,270 M537.5,138.9 l 2.4,1.6 M967.8,752 l -2.7,-3.5 -0.6,-4.3 -3.2,-2.9 -3.4,-2.4 -2,-3.7 -3,-3.1 -1,-4.1 -0.7,-4.1 M934.7,757.6 l 3.2,4 3.3,4 0.4,5.3 2.8,4.5 M934.7,757.6 l 1.1,-3.6 1.2,-3.4 0.7,-3.7 1.9,-3.3 1.4,-3.4 1.3,-3.5 0.2,-3.7 0.9,-3.6 M951.2,723.9 l -4.1,2.5 -3.7,3 M484.3,291.7 l -0.5,5.3 -2.4,4.8 0.6,5.3 0.5,5.2 M482.5,312.3 l -4.7,1.5 -3.8,3.2 -4.5,2.3 -2.8,4.1 M396.5,344.9 l -2.9,-2.4 M477.6,279.3 l -3.4,0.8 -2.7,2.2 -2.6,2.3 -1.3,3.2 -3.1,1.4 -2.7,1.9 -1.9,2.8 -2.9,1.8 -2.9,1.9 -2.5,2.3 -2.1,2.8 -1.6,3 -2.9,1.8 -3.2,1.1 -3.5,0.2 -3.1,1.6 -1.7,2.9 -2.2,2.7 -1.8,2.9 -2.9,1.9 -3.6,-0.1 -3.3,1.2 -3.1,1.6 -2.5,2.6 -1.3,3.2 -2.5,2.4 -2.5,2.3 -1.8,2.9 -3.5,0.4 -3.2,1.4 -3.1,1.4 -2.6,2.4 M477.6,279.3 l 0.9,3.5 1.7,3.1 1.5,3.3 2.6,2.5 M396.5,344.9 l 4.4,2.4 M466.7,323.4 l -4,2.1 -3.5,3 -4.4,1.1 -4.4,1 -2.9,3.6 -3.3,3 -4.2,1.8 -4.2,1.8 -4.5,0.9 -4.6,-0.4 -4.4,-1.6 -4.6,0.6 -4.7,0.4 -4.4,1.4 -3.5,3.1 -4.2,2.1 M478.9,268.4 l 3.5,-4.5 M482.4,263.9 l -1,-3.1 -0.5,-3.3 1.1,-3.2 -0.6,-3.4 -2.4,-2.4 -1.8,-2.8 -0.8,-3.2 -0.7,-3.3 M335.1,286.8 l 3.5,3.3 3.1,3.7 2.6,3.9 3,3.8 -0.1,4.9 2.1,4.6 2.5,4.1 3,3.8 4.9,0.2 4.4,2.3 3.8,3 3.8,3 3.8,2.7 3.7,3 3.4,3.5 4.6,1.5 M477.6,279.3 l -0.4,-5.6 1.7,-5.3 M393.6,342.5 l -3.3,-2 -3.1,-2.4 M44.9,92.8 l 290.2,194 M460.9,217.7 l 2.7,1.9 1.8,2.9 2.9,1.4 2.4,2.3 0.7,3.3 2.2,2.5 1.5,2.9 1,3.1 M476.1,238 l -0.4,1.2 M539.9,140.5 l -0.7,3.6 0.7,3.6 0.8,3.6 2.3,2.9 M-1793.6,-959.2 l 1809.5,1034.3 M-2039.6,-241.5 l 1951.2,650.4 M-88.4,408.9 l 382.2,44.9 M293.8,453.8 l 5.5,-0.8 M359.2,444.7 l 2.1,-0.6 M361.3,444.1 l 0.5,-1.2 M299.3,453 l 5,0.5 4.9,0.7 5,-0.3 4.9,0.7 4.4,2.4 5,1 4.5,2.2 4.9,1 M337.9,461.2 l 2.8,-1.8 3,-1.7 3.3,-1.3 3.1,-1.4 3,-1.8 2.8,-2.2 1.1,-3.4 2.2,-2.9 M396.5,344.9 l -2.8,5.1 -0.3,5.8 -0.2,5.7 -2.4,5.2 -4.5,3.7 -3.3,4.7 -2.8,5.1 -1.5,5.6 -0.5,5.8 2.1,5.4 -0.4,5.8 -2.6,5.2 -1.2,5.6 0,5.6 1.6,5.5 0.5,5.6 M378.2,430.3 l -3.8,3.6 -4.6,2.3 -4.1,3.2 -3.9,3.5 M175.1,801.6 l -3.2,0 -3.1,-0.7 -3.1,0.4 -3.1,0.7 -3.2,-0.5 -2.8,-1.7 -3.2,-0.5 -3.2,0.2 -3.2,1.1 -3.3,-0.5 -3,1.4 -2.6,2 -3.3,0.3 -3.2,-0.7 -3.1,-0.4 -3.1,-0.8 M507,2961.3 l -177.1,-1918.6 M-2071.2,704.1 l 2029.2,81.9 M-42,786 l 5.4,-1.7 4.5,-3.5 4.7,-3.1 5.4,-1.5 5.5,0.7 5.6,-0.9 5.5,-0.4 5.5,0.9 5.5,-0.1 5.5,0.3 5.5,1.2 5.5,-1.3 5.1,2.3 4.3,3.6 5.5,1.1 5.6,0.7 5.5,0.6 5.3,-1.7 5.5,-0.8 5.4,0.3 4.7,2.9 5.2,1.8 5.5,0.8 4.7,3.1 5.4,0.9 5.2,2 4,3.9 4.7,3 5.4,-1.5 5.5,-0.8 5.7,0.5 5.1,2.6 M175.1,801.6 l 3.5,0.6 3.4,0.7 3.3,-1.1 3.5,0 3.5,-0.4 3,-1.7 3.3,-0.9 3.4,-0.6 M202,798.2 l 4.6,1.2 4.6,1.3 4.9,-0.3 4.4,-1.9 4.5,-1.4 4.1,-2.3 4.7,-0.2 4.6,-1.1 4.9,-0.1 4.4,-1.9 3.8,-3 4.4,-2 3.6,-3 3.8,-3 2.3,-4.2 3,-3.7 M275,768.4 l -1.8,1.8 M268.6,772.6 l 4.6,-2.4 M275,768.4 l 3.9,-0.6 3.2,-2.2 3.7,-1.2 3.1,-2.3 3.1,-2.2 3.5,-1.7 3.6,-1.4 2.7,-2.8 1.6,-3.6 2.2,-3.2 3.4,-2 2.8,-2.7 3.6,-1.5 3.3,-2.2 2.6,-2.9 2.1,-3.3 M323.4,732.6 l -3.1,-3.6 -2.7,-3.9 -3.8,-2.8 -3.6,-3.1 -1.4,-4.5 -0.8,-4.6 -2.1,-4.2 -1,-4.6 0.3,-4.9 -1.8,-4.5 -3,-3.8 -2,-4.4 0.1,-4.7 1,-4.6 -0.4,-4.8 1.8,-4.4 M742,257.8 l 0.1,4.4 1.9,4 3.2,2.9 2.3,3.7 M762.1,277.9 l -3.3,-1.1 -2.7,-2 -3.4,-0.8 -3.2,-1.2 M870.4,283.3 l -3.3,-0.8 -3,-1.7 -3.4,-0.2 -3.3,0.8 -3.2,0.9 -3.4,0.2 -3.3,-0.7 -3.3,0.4 -3.2,-1.1 -3.4,0.2 -3.3,0.6 -3.2,0.8 -3,1.8 -3.4,0.2 -3.3,0 -3.3,0 -2.8,2.1 -3.5,0.5 -3.4,0.4 -3.4,-0.7 -3.4,0.3 -3.2,-1.4 -3.3,0.6 -3.4,-0.3 -3.4,0.2 -2.9,1.8 -2.5,2.4 -3.3,0.9 -3.5,0.5 -2.9,1.9 -3.3,-0.9 -3.4,0.7 M766.5,293.7 l -1.8,5.2 -3.6,4.1 M424.8,380.6 l 3.1,0.9 3.1,0.8 3.1,0.8 2.8,1.7 3.2,0 3.2,0.5 3.1,0.5 3.1,0.8 3.3,0.8 3.2,0.5 3.3,1 2.5,2.3 2.4,2.3 2.8,1.8 2.1,2.6 1.4,3.1 M424.8,380.6 l -0.2,5 -1,5 1.8,4.6 1.3,4.9 -0.4,5 -1.3,4.9 0.4,5.1 2.6,4.4 M428,419.5 l 3.5,4.8 4.8,3.4 4.4,3.8 3.6,4.7 5.7,1.5 4.4,4.1 5.2,2.6 5.2,2.6 M470.5,401 l 0.6,3.8 0.8,3.8 1.5,3.6 2.1,3.2 1.3,3.7 2.2,3.2 1.4,3.7 0,3.9 M762.1,277.9 l -0.4,4.2 0.7,4.2 1.4,4.1 2.7,3.3 M1086.8,200.9 l 206.4,-177.5 M1086.8,200.9 l -1.7,2.9 -1,3.2 -0.6,3.3 -1.4,3.1 -2.9,1.7 -2.5,2.3 -1.8,2.9 -2.2,2.6 -2.8,1.9 -1.7,2.9 -2.9,1.5 -2.9,1.6 -1.7,3 -2.6,2.2 -3.1,1 -3,1.7 -3.1,1.1 -2.6,1.9 -3.3,0.2 -3.1,1.2 -2.5,2.2 -2.2,2.4 -2.9,1.7 -3.3,0.7 -3.3,-0.3 -3.2,0.8 -2.9,1.7 -3.2,0.8 -2.8,1.8 -2.4,2.2 -3.2,0.7 -3.2,0.9 -2.8,1.8 -2.4,2.2 -3.1,1.3 -3.3,0.4 -2.5,2.1 -2.6,2 -3,1.2 -3,1.4 -3.3,0.7 -3,1.4 -3.4,-0.1 -3.2,-1.1 -3.1,1.1 -2.9,1.5 -3.3,0.4 -3.1,0.9 -3.4,-0.1 -3.2,-0.8 -2.8,-1.7 -3.1,-1.2 -3.1,1.4 -3.3,0.2 -3.3,0.5 -3.3,-0.5 -3.1,-1.3 -3.2,-0.5 -3.3,-0.6 -3.2,1 -3.3,0.4 -3.3,-0.3 -3,1.4 -3.1,0.7 M905.8,274.5 l -4.1,2.2 -4.1,2.3 -4.2,2 -4.5,1.1 -4.6,0.6 -4.6,0.4 -4.6,0.7 -4.7,-0.5 M1293.2,23.4 l 289.8,-261.5 M866.2,564.4 l 3.2,-0.6 3.2,-0.1 2.9,-1.3 3,-1 2.6,-1.8 2.9,-1.4 1.7,-2.8 2.5,-2 M888.2,553.4 l 2.6,2.5 1.3,3.3 1.5,3.1 1.7,3 3.4,1 3,2 2.5,2.5 2.4,2.6 M866.2,587.6 l 2.3,2.4 2,2.6 1.3,3.1 1.9,2.7 M873.7,598.4 l 4.2,-0.7 4.3,0.1 M866.2,587.6 l -0.1,-5.9 1.8,-5.7 -2,-5.6 0.3,-6 M882.2,597.8 l 4,-1.8 3.4,-2.8 2.6,-3.6 3.4,-2.8 1.4,-4.3 3.2,-3.1 3.5,-2.7 2.9,-3.3 M873.7,598.4 l -2,4.2 -1.1,4.6 M870.6,607.2 l 0.3,3.3 1.9,2.8 0.1,3.2 0.5,3.2 -0.6,3.2 -0.1,3.2 -0.3,3.2 0.1,3.2 M906,612.7 l 0.7,4.8 -1.4,4.6 -1.3,4.7 -3.4,3.5 M900.6,630.3 l -3.2,1.9 -3.6,0.5 -3.6,-0.1 -3.6,-0.2 -3.4,-1.2 -3.7,-0.5 -3.4,1.3 -3.6,0.5 M962.5,568.8 l -3.1,1.2 -2.5,2.1 -2.1,2.6 -2.2,2.5 -3.1,1.1 -2.9,1.5 -3.3,0.6 -3.3,-0.4 M934.4,548.2 l -1.1,4.1 -0.1,4.3 -1.5,4.1 -3.2,3 -1.4,3.9 -1.9,3.7 -2.1,3.6 -1.4,3.9 M940,580 l -4.3,1.4 -4.5,-0.9 -4.3,-0.8 -4.4,0.3 M921.7,578.8 l 0.8,1.2 M888.2,553.4 l 2,-4.3 0.3,-4.7 M906.6,573.4 l 3.9,1.1 3.4,2.1 4,0.6 3.8,1.6 M928.3,536.8 l 1.2,3 1.6,2.9 1.3,2.9 2,2.6 M906,612.7 l 3.3,-3.8 4.1,-3 5,-1.1 4.1,-3.1 M922.5,601.7 l 1.1,-5.5 1.4,-5.4 -0.7,-5.5 -1.8,-5.3 M934.7,757.6 l -3.2,-1.5 -3.5,0.1 -3.6,0 -3.1,1.7 -2.7,2.1 -3,1.7 -3.3,0.6 -3.4,0.4 M908.9,762.7 l -1,3.5 -1,3.5 M909.1,799.7 l -1.4,-5.7 -1.6,-5.7 -1.2,-5.8 -3.2,-5 M901.7,777.5 l 2.4,-4 2.8,-3.8 M885.2,525.3 l 1.1,4.8 1.3,4.8 1,4.9 1.9,4.6 M928.3,536.8 l 0.7,-4.2 0.1,-4.2 1.9,-3.9 0.3,-4.3 M929,513.5 l 1.2,3.4 1.1,3.3 M929,513.5 l -4,-4.4 -5.6,-2 -5,-2.9 -5.6,-1.4 M885.2,525.3 l 2.4,-4 1,-4.6 3.6,-2.9 3.4,-3.2 M908.8,502.8 l -3.6,1.5 -3.4,1.8 -3,2.4 -3.2,2.1 M945.6,496.9 l -2.9,5.3 -4.1,4.3 -4.9,3.4 -4.7,3.6 M971,331.8 l -5,3.1 -3.7,4.5 -2.9,5 -2.6,5.1 -4.6,3.8 -3.3,4.9 -2.5,1.7 -2.5,1.7 -3,0.5 -3,0.2 M937.9,362.3 l -0.8,3.3 -0.7,3.3 -1.4,3.1 -0.4,3.3 -2.1,2.9 -1,3.3 -2.4,2.7 -3.2,1.4 -1.8,2.9 -2.2,2.5 -1.3,3 -1.9,2.8 -2.2,2.5 -2.9,1.7 -2.8,1.9 -2,2.7 M908.8,502.8 l 1.3,-3 0.2,-3.1 -0.7,-3.2 0.4,-3.1 -0.1,-3.2 -1,-3 -1,-2.9 -1.1,-3 2.1,-2.4 1.3,-3 1.1,-3 -0.1,-3.3 0.7,-3.1 -0.5,-3.1 -1,-3.1 0.2,-3.1 0.4,-3.1 1,-2.9 -0.3,-3.2 1,-3 0.6,-3 -0.5,-3.1 -0.6,-3 0.1,-3.1 -2,-2.6 -0.7,-3.1 -0.2,-3.1 -0.7,-3.1 1.3,-2.9 0.3,-3.3 -1,-3 -0.5,-3.1 M651.3,459.2 l 4.1,1.7 4.3,1.1 4.4,-1.3 4.4,-0.1 M668.5,460.6 l 3.1,-3.8 3.6,-3.2 1.4,-4.7 2.9,-4 M651.3,459.2 l -2.3,-2 -2.7,-1.4 -1.6,-2.6 -1.1,-2.8 -2.9,-5.1 -1.5,-5.7 M679.5,444.9 l -5,-1.6 -4.2,-3.3 -5,-2.1 -5.4,0.1 -5.2,-0.7 -5.2,0.9 -5.2,0.2 -5.1,1.2 M729.4,621.1 l -4.9,-1.8 -4.3,-2.9 -3.4,-4 -4.9,-2.1 M711.9,610.3 l 0.5,-4.9 -1.1,-4.8 M742,615.1 l -2.7,-3.1 -1.6,-3.7 -3.6,-2.1 -2.1,-3.6 -0.6,-3.9 -1,-3.9 -1.2,-3.8 -1.3,-3.8 M729.4,621.1 l 3.7,0.1 3.3,-1.6 2.7,-2.4 2.9,-2.1 M711.3,600.6 l 4.2,-3.3 4.1,-3.3 4.2,-3.3 4.1,-3.5 M2605.7,-1337.2 l -1427.6,1096.6 M2705.9,-1225.3 l -815.7,720.9 M1890.2,-504.4 l -307.2,266.3 M740.7,256.7 l 1.3,1.1 M1178.1,-240.6 l -316.4,285.4 M-1236.2,-1619 l 1525.6,1487.9 M589.9,361.1 l -6,0.2 -5.5,-2.2 -5.2,-2.8 -5.7,-1.2 M595.1,344.9 l -1.1,4.1 -1,4.2 -1.5,3.9 -1.6,4 M595.1,344.9 l -4,1.1 -4.1,-0.5 -3.8,-1.6 -4.1,-0.2 -3.1,-2.7 -4,-1.2 -4.2,0.1 -3.7,-1.7 M564.1,338.2 l -0.6,4.4 0.5,4.4 2.8,3.6 0.7,4.5 M564.8,272 l 4.3,0.2 4.3,0.1 4.2,1 4.1,1 3,3.2 3.2,3 3.9,1.9 4.2,1.3 M564.8,272 l -1.2,3 -2.3,2.3 -2.6,2 -1.3,3.1 -3,1.2 -2.6,1.8 -2.9,1.5 -2.8,1.5 M564.7,306.2 l -3.2,-2.9 -4.1,-1.4 -4.3,-0.4 -3.9,-1.9 M546.1,288.4 l 0.3,5.9 2.8,5.3 M466.7,323.4 l 4.8,0.7 4.3,2.2 3.2,3.5 3.9,2.8 4.7,-0.1 4.7,0.8 3.8,3.1 4.6,1.3 M400.9,347.3 l 3.1,2.2 2.1,3.1 M406.1,352.6 l 4.8,-2.7 4.9,-2.6 5.4,-0.5 5.5,0.1 5.3,0.7 5.2,1.4 5.5,-0.6 5.1,2.2 4.8,2 5,1.8 5.1,1.2 5.1,1 4.9,2.3 5.5,-0.2 5.2,1 5.3,-1 M488.7,358.7 l 5.3,-2.5 M494,356.2 l 2,-4.5 2.4,-4.4 0.7,-4.9 1.6,-4.7 M539.3,242.3 l 3.4,0.2 3,1.6 3.3,1.1 3.4,-0.1 3,1.6 3.4,0.3 3.2,1.2 2.8,1.7 M539.3,242.3 l -2.3,-2.5 M578.9,240 l 0.4,-0.5 M565.7,210.3 l 1.8,3.8 0,4.2 2.1,3.5 2.2,3.4 0.5,4.1 2.4,3.5 1.5,3.8 3.1,2.9 M564.8,249.9 l 2.8,-3.4 3.8,-2.2 4.3,-1.2 3.2,-3.1 M517.2,239.5 l 3.6,-2.5 4.4,-0.9 M517.2,239.5 l -3.2,-1.9 -3.3,-1.7 -3.7,-0.9 -3.7,0.8 -3.7,0 -3.2,-1.8 -2.8,-2.5 -3.5,-1.1 M490.1,230.4 l 0.2,-3.3 0.6,-3.3 0.4,-3.3 0.1,-3.4 2.5,-2.4 1.1,-3.4 1.1,-3.3 -0.2,-3.5 M476.1,238 l 3.3,-2.2 3.3,-2.2 3.4,-2.3 4,-0.9 M495.9,204.5 l -1,-4 -1.2,-4 -1.5,-3.9 -2,-3.7 M476.5,138.9 l -0.4,3.1 1.2,3 -0.2,3 0.3,3.1 2.3,2.2 1.4,2.9 1.2,3 -0.1,3.2 1.8,2.4 1.2,2.9 1.1,2.8 0.9,2.9 1.5,2.8 2.5,1.9 0.4,3.1 1.4,2.8 M490.2,188.9 l 2.8,-4.9 M378.2,430.3 l 1.4,3.2 1.1,3.3 1.5,3.2 2.2,2.8 M424.8,380.6 l -2.6,-3.4 -3.6,-2.4 -3,-3.2 -1.4,-4.1 -1,-4.2 -2.5,-3.6 -2.9,-3.2 -1.7,-3.9 M428,419.5 l -0.5,2.3 M384.4,442.8 l 3.9,3.8 1.7,5.2 M390,451.8 l -0.8,5.2 0.5,5.4 0.2,5.3 0.1,5.3 M427.5,421.8 l -0.4,3.4 -0.9,3.3 0.5,3.4 0.6,3.3 0.3,3.5 -0.8,3.3 0.1,3.4 0.6,3.4 M394.1,473.8 l -4.1,-0.8 M330.2,834.2 l -1.4,5.3 -1.5,5.3 -3.7,4.1 -3.1,4.6 M268.6,772.6 l 4.4,3.9 5.7,1.5 4.1,3.9 3.7,4.3 3,4.8 2.4,5.1 1.7,5.4 2.8,4.9 3.7,4.1 3.2,4.5 4,3.8 4.2,3.6 5.2,2.2 4.1,3.8 4,4 5.4,1.8 M726.7,724.7 l -1,-2.6 M716.2,745.6 l 1.8,-2.5 2.7,-1.5 1.8,-2.6 0.7,-3 2.1,-2.3 0.9,-3 -0.3,-3 0.8,-3 M716.2,745.6 l -4.2,-3.5 -2.5,-4.9 -3.1,-4.6 -0.7,-5.5 M705.7,727.1 l 4.4,-2.9 5.4,-0.6 5,-1.6 5.2,0.1 M300.9,665.2 l 0.3,-1.4 M-88.4,408.9 l 332.9,150.3 M591.3,235.3 l 3.7,0.4 3.7,-0.9 3.6,-1 3.8,0.1 M591.3,235.3 l -3.2,0.3 -3.2,0.7 -2.6,2 -3,1.2 M564.8,272 l 0.3,-5.6 1.3,-5.4 -1,-5.5 -0.6,-5.6 M596,283.7 l 3.8,-0.1 M564.7,306.2 l 2.4,2.8 3.2,2.1 1.8,3.3 0.9,3.6 M585.6,319.1 l -3.2,-0.3 -3.1,-0.9 -3.2,-0.2 -3.1,0.3 M605.4,296 l -0.9,-3 -1,-3 -0.9,-3.1 -1.9,-2.5 M600.7,284.4 l -0.9,-0.8 M761.1,303 l -4.4,0.4 -4.2,1.4 -4.5,0.2 -4.2,1.2 -4.3,1.5 -4.5,0 -4.2,-2.1 -4.6,0.1 M724.5,302.9 l 1.7,2.8 M740.7,256.7 l -5.5,-2.2 -5.9,0.7 M724.5,302.9 l -3.4,-2.8 -3.1,-3 -3.2,-3.1 -4,-1.8 M643.2,138 l -1.1,-0.9 M861.7,44.8 l -2.9,1.5 -2.5,2 -2.4,2.3 -1.3,2.9 -2.8,1.8 -3.1,1 -2.6,2.1 -1.5,3 -2.4,2.2 -1.4,3 -2.5,2.1 -3.2,0.9 -1.9,2.7 -2.3,2.3 -3,1.5 -3.1,0.8 M643.2,138 l 5.7,-1.2 5.7,-1.1 5.7,1.2 5.7,0.9 4.5,-3.7 5.1,-2.9 5.8,-0.8 5.6,-1.6 M687,128.8 l 4.5,-2.3 2.9,-4 3.7,-3.1 3.3,-3.5 4.8,-1.5 5,0.5 4.5,-2.1 4.3,-2.4 4.4,-2.1 4.8,-0.4 4.8,-0.5 4.8,-0.3 4.9,0 4.9,-0.7 4.4,2.2 4.7,1.5 4.8,-0.8 4.3,-2.5 4.8,0.6 4.8,0.3 4.7,-0.8 4.8,-0.9 3.3,-3.7 4.5,-1.9 4.3,-2.4 2.7,-4.1 4.5,-1.7 4.3,-2 4,-2.6 4,-2.6 2.3,-4.3 3,-3.8 M737,196.2 l 2.4,-5.3 2,-5.4 -1,-5.8 0.8,-5.9 3.3,-4.8 4.3,-3.8 2.2,-5.3 3.5,-4.6 M754.5,155.3 l 2.1,-4 3.6,-2.6 2.7,-3.5 1.7,-4.1 2.6,-3.5 2.7,-3.4 2.6,-3.6 1.8,-3.9 2.7,-3.7 2.8,-3.6 4.3,-1.5 4,-2.2 3.1,-3.2 2.6,-3.6 1.4,-4.3 2.7,-3.5 M728.7,254.4 l 0.6,0.8 M797.9,101.1 l 3.9,-2.3 4.4,-1.2 3.4,-2.9 3.6,-2.7 2.8,-3.7 3.8,-2.7 1.3,-4.4 1.7,-4.3 M680.4,164.8 l -3.7,0.3 -3.5,-1.2 -3.7,0.1 -3.2,-1.8 -3.4,-1.5 -3.7,-0.1 -3.7,-0.3 -3.5,1.2 M680.4,164.8 l 4.3,-0.7 3.5,-2.6 3.5,-2.5 2.8,-3.3 3.7,-1.9 3.2,-2.8 3.6,-2.2 3.2,-2.7 4.4,0.4 4.4,-0.7 3.6,-2.8 4.1,-1.6 3.2,-2.9 3.4,-2.7 2.6,-3.5 3.5,-2.6 4.1,-1.4 4,-1.4 3.6,-2.4 3.8,-2.1 4.3,0.3 4.2,-0.7 4.5,0 3.9,-2.2 4.2,-1.3 4.5,-0.3 4,-1.7 3.8,-2.4 3.6,-2.6 2.2,-3.9 2.8,-3.4 3,-3.1 M687,128.8 l -3.2,5 -4.4,3.8 -5.9,0.9 -5.1,3.2 -4.1,4 -5.1,2.5 -5.3,2.3 -4.2,3.9 M652,161.5 l -0.6,-3.7 -1.7,-3.4 M643.2,138 l 0.6,3.1 0.2,3.1 0.4,3.2 -0.1,3.1 M644.3,150.5 l 2.5,2.2 2.9,1.7 M652.3,179.3 l -1.2,-5.8 -3,-5.1 M648.1,168.4 l -3.7,1 -3.8,-0.4 -3.7,-1 -3.8,0.4 M628.1,172.9 l 2.7,-2.1 2.3,-2.4 M665.4,181.2 l 3.5,-4.5 2.2,-5.4 4.1,-4 5.2,-2.5 M665.4,181.2 l -3.3,0.3 -3.3,-0.7 -3.1,-1.4 -3.4,-0.1 M652,161.5 l -2.2,3.3 -1.7,3.6 M634.6,155.4 l 4.2,-3.7 5.5,-1.2 M510.4,358.3 l -4.2,0.5 -4,-1.1 -3.9,-1.8 -4.3,0.3 M488.7,358.7 l 2,4.7 3.3,3.9 2,4.7 2.5,4.4 M510.4,358.3 l 2.1,4.2 M495.7,393.4 l 0.7,-5.5 3,-4.5 M495.7,393.4 l -2.8,2.1 M498.5,376.4 l 0.7,3.5 0.2,3.5 M470.5,401 l 3.6,0 3.4,-1.1 3.6,0.1 3.4,-0.9 M492.9,395.5 l -4.1,1.9 -4.3,1.7 M469.3,466.5 l 4.3,1.2 4.4,-0.9 4.2,1.1 4.3,1 4.4,-1 4.4,0.8 4.5,-1 3.4,-3 M503.2,464.7 l 0.9,-3 0.1,-3.1 1.5,-2.7 1,-3 M506.7,452.9 l -3.4,-2.4 -3.2,-2.8 -3.6,-2.3 -2.4,-3.6 M484.5,399.1 l 2,3.7 2.6,3.4 4.1,1.3 3.1,3.1 2.8,3 2.6,3.1 2.6,3.3 1.7,3.8 M480.4,429.9 l 3.1,1.6 1.9,2.9 3,1.9 3.5,0.3 M506,423.8 l -2.2,4.4 -4.1,2.9 -3.8,3 -4,2.5 M464.8,447 l 0.6,5.4 2.9,4.5 -0.4,5.3 -1,5.2 M466.9,467.4 l 2.4,-0.9 M491.9,436.6 l 2.2,5.2 M962.5,568.8 l 4.4,0.3 4.3,-0.3 M945.6,496.9 l 4.9,2.8 3.6,4.3 5.7,0.6 4.7,3.2 M931.3,520.2 l 5.2,0.8 4.8,2.1 5.2,0.7 5.2,-0.1 M956.3,539.6 l -0.8,-3.3 0.9,-3.2 -1.5,-3 0,-3.3 M951.7,523.7 l 3.2,3.1 M971,331.8 l 5.5,-2.3 5.9,0.3 5,-3.1 5.7,-1.4 2.8,-1.4 2.3,-2 1.9,-2.3 1.6,-2.6 2.7,-1.4 2.9,-0.9 2.9,-1 3,0.1 4.9,-3.4 5.5,-2.4 0.5,-3.1 1.4,-2.7 2,-2.3 2.4,-2 5.1,-3 3.9,-4.5 2.5,-5.3 2.7,-5.2 0.2,-3 0.2,-3 0,-3.1 -1.4,-2.8 1.8,-2.4 1,-3 0.1,-3 0.2,-3 0.9,-3 1.9,-2.4 2.3,-1.9 2.2,-2.1 1.9,-5.6 1.9,-5.6 1.2,-2.9 -0.1,-3 2.1,-2.2 1.6,-2.6 4.7,-3.7 2.6,-5.4 5.2,-2.9 5.4,-2.5 1.9,-2.4 2.1,-2.1 1.8,-2.5 1,-2.9 M964.5,507.8 l 5.7,0 M866.2,587.6 l -3.2,1.2 -3.5,-0.3 -3.4,0.5 -2.9,1.9 -3.4,0.4 -3.1,1.4 -3.2,1.2 -3.5,-0.4 M848.1,610.9 l -3.6,-3.5 -2.3,-4.3 -2.3,-4.6 0.1,-5 M827.9,584.1 l 0.6,-4.1 1.8,-3.7 0.6,-4.2 -0.9,-4 M830,568.1 l 3.4,-4.2 4.7,-2.7 4.9,-1.9 4.3,-3.2 M827.9,584.1 l 2.5,4.3 3.7,3.3 M866.2,564.4 l -4.1,-3.2 -4.9,-1.9 -5,-1.3 -4.9,-1.9 M834.1,591.7 l 2.9,1.1 3,0.7 M911.6,670.3 l 0.3,-4.9 -2.1,-4.5 -1.8,-4.5 -3.4,-3.6 M911.6,670.3 l -3.7,2.8 -3.1,3.6 -2.8,3.8 -4.2,2.2 M897.8,682.7 l -4,-1.6 -3.4,-2.7 -2.9,-3 -3.5,-2.5 -4,-1.7 -3,-3 -2.4,-3.7 -3.8,-2 M974.2,570.8 l 3.9,-2.3 3.1,-3.3 2.4,-3.7 3.9,-2.4 2.2,-4 2.1,-4 3.4,-3 4,-2.3 M2074.8,761 l -1075.6,-215.2 M978.3,579.4 l -2.2,-4.2 -1.9,-4.4 M978.3,579.4 l 237.9,79.4 M2074.8,761 l -758.7,-75.4 M1316.1,685.6 l -3.5,-0.1 -3.1,-1.6 -3,-1.7 -3.3,-1 -2.8,-2.1 -3.4,-1 -3.5,0.4 -3.3,-1.1 -3.4,0.8 -3.1,1.6 -3.3,1.1 -3.4,-0.1 -3.5,-0.7 -3.3,1.1 -3.5,0.1 -3.3,1 -3.5,0.4 -3.4,1 -3.5,-0.8 -3.5,-0.5 -3.2,-1.4 -3.1,-1.6 -3.3,-1.3 -3.1,-1.5 -1.7,-3.1 -2.8,-2.1 -2.4,-2.5 -2.8,-1.8 -1.9,-3 -2.9,-2 -2.7,-2.2 -3.4,-1.1 M911.6,670.3 l 5.8,1.1 5.6,-1.6 5.4,2 5.4,2 M897.4,687.6 l 4.1,2.9 3,4 3.4,3.6 4.5,2.3 M897.4,687.6 l 0.4,-4.9 M912.4,700.4 l 4.6,-0.6 4.7,-0.5 4.6,0.8 4.7,0.7 4.6,-1 4.7,-0.9 4.5,-2 3,-3.9 M933.8,673.8 l 2.3,1.9 2.3,2 1,2.9 1.7,2.5 2.6,1.7 1.8,2.5 1.2,2.8 1.1,2.9 M3244.9,897.8 l -1170.1,-136.8 M951.2,723.9 l 0.7,-3.1 2.1,-2.4 0.7,-3 1.1,-2.9 1.6,-2.7 0.6,-3.1 1.5,-2.9 2.6,-1.8 M1316.1,685.6 l -305.5,0 M1010.6,685.6 l -3,1.5 -3,1.2 -3.3,0.2 -3.2,1 -2,2.7 -2.8,1.8 -2.7,1.9 -3.2,1.1 -3.1,0.8 -3,1.3 -3.2,0.6 -3.2,0.6 -3.3,0.6 -3.2,-1 -3.3,0.8 -3,1.3 M938.4,611.1 l 2.3,3.2 1.5,3.6 3.5,1.7 3.1,2.5 M948.8,622.1 l 3.3,0.1 3.2,0.9 3.2,-0.7 3.4,-0.3 M961.9,622.1 l 2.4,-2.6 3.2,-1.4 2.4,-2.6 1.4,-3.2 M971.3,612.3 l -1.2,-3.1 -2.3,-2.4 -0.2,-3.3 -1.6,-2.9 M933.4,610.7 l 5,0.4 M922.5,601.7 l 3.2,1.6 2.8,2.2 2.6,2.4 2.3,2.8 M978.3,579.4 l -2.8,1.6 -2.4,2.2 -1.1,3 -1.7,2.8 -0.5,3 -0.9,3.1 -0.8,3.1 -2.1,2.4 M971.2,568.8 l 3,2 M901.7,748.3 l -4.7,-0.5 -4.6,1.2 -4.6,-1 -4,-2.5 M901.7,748.3 l 1.4,-5.6 3.5,-4.7 3.7,-4.3 3.7,-4.3 M895.1,717.7 l -2.8,3.8 -3.7,3 -4.1,2.5 -4.7,0.9 M895.1,717.7 l 5.7,0.8 5.6,1.3 M879.8,727.9 l -0.9,4.6 1.2,4.5 1.6,4.4 2.1,4.1 M914,729.4 l -1.8,-2.6 -0.9,-3.1 -2.8,-1.5 -2.1,-2.4 M943.4,729.4 l -3.7,0.4 -3.6,0.6 -3.8,0 -3.6,0.8 -3.7,0.7 -3.8,-0.2 -3.8,-0.5 -3.4,-1.8 M908.9,762.7 l -1.9,-3.6 -2.6,-3.1 -0.6,-4.1 -2.1,-3.6 M897.4,687.6 l -3.1,2.2 -2.9,2.4 -3,2.5 -1.6,3.5 M912.4,700.4 l -2.1,4.9 0.6,5.3 -2.2,4.7 -2.3,4.5 M886.8,698.2 l 1.6,5.3 3.9,3.9 1.9,5 0.9,5.3 M962.1,702 l -3.6,-2.4 -2.7,-3.4 -4.4,-0.6 -3.6,-2.6 M888.8,803.8 l -3.5,-2.3 -2.3,-3.3 -2.4,-3.2 -3.1,-2.5 M903.4,803.8 l -3.6,0.6 -3.7,0.2 -3.6,-1.2 -3.7,0.4 M901.7,777.5 l -4.2,1 -4.2,-0.8 -4.1,-1 -4.2,0.8 M877.5,792.5 l -3.4,1.5 -3,2 -3.5,1.4 -3.7,-0.4 M863.9,797 l -1.8,3.7 -1,4 -0.3,4.1 0.3,4.1 M861.1,812.9 l 3.1,2.6 3.7,1.8 1.9,3.6 3.1,2.6 M900,817.4 l -3,1.7 -3.4,0.9 -3,1.7 -2.5,2.4 -3,1.9 -3.4,0.6 -3,1.7 -3,1.7 M872.9,823.5 l 1.5,3.2 1.3,3.3 M1887.7,3010.8 l -1012,-2180.5 M875.7,830.3 l 0,-0.3 M847.3,556.1 l -0.8,-4.9 -1.2,-4.8 -0.4,-5 -1.2,-4.8 M908.8,405.6 l -3.9,3.1 -2.6,4.2 -4.4,2.3 -4.6,1.6 -2.6,4.2 -2,4.5 -3.6,3.5 -4.7,2 M880.4,431 l -1,2.9 -1.1,3 -0.2,3.2 0.9,3.1 -0.8,3 -1.2,2.9 -1.2,2.9 -2.2,2.2 -2.7,1.7 -2.6,1.6 -1.6,2.6 -2,2.4 -3,1.2 -2.2,2.2 -1.9,2.6 -1.4,2.7 M847.5,492.5 l 2.4,-4.7 2.1,-4.8 1.2,-5.1 1.4,-5 M856.2,471.2 l -1.6,1.7 M634.5,431.6 l 2.4,-3.7 3.3,-2.8 2.5,-3.6 2.3,-3.8 2.3,-3.8 2.4,-3.7 4,-2 3.4,-2.9 M634.5,431.6 l 0.8,3.1 0.8,3.1 M636.1,437.8 l 2.7,1.4 M638.8,439.2 l 4.2,-2.8 4.6,-2 3.2,-4 4.4,-2.6 5.1,0.7 5.1,-0.2 5,-1.5 4.4,-2.7 M674.8,424.1 l -3.3,-4.1 -2.4,-4.7 -3.3,-4.1 -2.6,-4.5 M657.1,405.3 l 2.9,1.2 3.2,0.2 M645.1,388.1 l -4.8,1.5 -4.6,1.9 -5.2,0 -4.5,2.5 M645.1,388.1 l 2.8,4.4 3.2,4.2 3.3,4.1 2.7,4.5 M626,394 l -0.8,4.1 0.7,4.1 -0.1,4.2 -1.6,3.9 -0.4,4.2 1.7,3.9 2.1,3.6 1.6,3.8 M629.2,425.8 l 3.4,2.3 1.9,3.5 M682.1,428 l -3.2,-2.8 -4.1,-1.1 M686,440 l -0.2,-3.2 -1.4,-2.9 -0.7,-3.1 -1.6,-2.8 M639.2,439.6 l -0.4,-0.4 M679.5,444.9 l 3,-2.8 3.5,-2.1 M681.2,391.2 l 2.7,1.4 2.8,1.3 2.5,1.8 2.3,1.9 1.7,2.5 1.3,2.7 1.9,2.3 1.4,2.7 M681.2,391.2 l -2.7,1.4 -2.2,2.2 -2.1,2.2 -1.2,2.9 -1.9,2.4 -2.5,1.6 -2.4,2 -3,0.8 M697.8,407.8 l -1.6,2.9 -2.6,2 -2.1,2.4 -1.2,3.1 -2.2,2.5 -0.9,3.2 -3.1,1.4 -2,2.7 M647.7,382 l 4.3,-0.7 3.8,-2.2 4.2,-0.3 4.3,-0.5 4.2,-0.3 4.3,0.1 4.2,-1.1 4.2,0.8 M681.2,377.8 l 0.2,3.4 -0.3,3.3 0.1,3.4 0,3.3 M645.1,388.1 l 1.8,-2.8 0.8,-3.3 M727.9,587.2 l 0.7,-1.8 M753.6,581.6 l -2.9,1.3 -3.2,0.6 -2.9,1.3 -3.2,0.6 -3.2,0.7 -3.2,0.3 -3.1,-1.3 -3.3,0.3 M753.6,581.6 l 2.7,1.6 1.8,2.6 2.8,1.5 2.1,2.3 M742,615.1 l 5.9,0.3 M747.9,615.4 l 2.2,-3.2 1,-3.8 3.1,-2.2 2.6,-2.9 0,-3.9 1.5,-3.7 2.3,-3 2.4,-3.1 M607.7,297.9 l 1.7,2.9 0.7,3.2 2.6,2.1 2.1,2.6 0.3,3.3 1.9,2.8 1.7,2.8 0.5,3.3 M619.2,320.9 l 3.6,1.4 3.7,1.2 M607.7,297.9 l -2.3,-1.9 M585.6,319.1 l 3.5,4.9 2.5,5.4 1.8,2.6 0.3,3.1 1.9,2.4 2.5,1.8 M619.2,320.9 l -2.8,2.1 -2.8,2.2 -3.1,1.7 -2.9,2 -2.3,2.6 -2.9,2.2 -2.3,2.6 -2,3 M573,318 l -3.5,4.5 -3.5,4.5 -1.4,5.5 -0.6,5.7 M595.1,344.9 l 2.4,-2.4 M564,338.2 l 0.1,0 M598.1,339.3 l -0.6,3.2 M590,361.6 l -0.1,-0.5 M598,373 l -1.4,-3.3 -2.1,-2.8 -2.3,-2.7 -2.2,-2.6 M598,373 l 3,2 3.2,1.7 3.8,0.2 3.3,1.8 M611.3,378.7 l 1.3,-3.1 2.1,-2.7 2.3,-2.7 3.1,-1.4 1.4,-3.2 2.5,-2.4 0.3,-3.4 1.6,-3.1 M597.5,342.5 l 3,2.9 3.9,1 3.9,1.2 3.4,2.1 3.2,2.4 3.7,1.6 3.8,1.3 3.5,1.7 M512.5,362.5 l 2.7,3.2 3.2,2.7 M518.4,368.4 l 1.2,5.4 M561.2,364.4 l -2.2,-2.2 -3,-1.4 -2.6,-1.8 -2.5,-2 -2.1,-2.4 -2.9,-1.5 -2.6,-1.9 -2.4,-2 M561.2,364.4 l -0.2,3.2 0.2,3.2 M558.1,373.8 l 3.1,-3 M558.1,373.8 l -4.2,0 -4.1,0 -4.2,-0.7 -4.1,0.7 M541.5,373.8 l 0.9,-5.2 -0.3,-5.2 -2.5,-4.7 -1.8,-4.9 M540.9,349.2 l -2.8,3.2 M538.1,352.4 l -0.3,1.4 M544.7,338.2 l -0.4,2.9 -0.1,3 -2.2,2.2 -1.1,2.9 M544.7,338.2 l 4.9,0.3 4.8,-1.1 4.8,0.3 4.8,0.5 M567.5,355.1 l -3.4,4.5 -2.9,4.8 M573,373.9 l -2.9,-1 -2.8,-1.3 -3.1,0.4 -3,-1.2 M590,361.6 l -4.6,2.5 -4.5,2.9 -4.5,2.9 -3.4,4 M539.3,376.6 l 2.2,-2.8 M545.1,394.2 l 0.3,-4.8 -1.9,-4.4 -2.3,-4.1 -1.9,-4.3 M559.1,387.9 l -0.4,-3.6 1.2,-3.5 -0.7,-3.6 -1.1,-3.4 M545.1,394.2 l 3.5,-1.7 3.8,-0.8 3.7,-1.2 3,-2.6 M525.4,379.8 l -3.1,-2.8 -2.7,-3.2 M539.3,376.6 l -3.7,-0.1 -3.3,1.4 -3.3,1.5 -3.6,0.4 M518.4,368.4 l 2.3,-2 2.7,-1.5 2,-2.3 2.2,-2.2 2.9,-1 2.5,-1.9 2.2,-2 2.6,-1.7 M510.4,358.3 l 2.5,-5 3,-4.6 M515.9,348.7 l 5.7,0.5 5.7,-0.1 5.5,1.3 5.3,2 M510,313.6 l 3.6,0.9 3.4,1.4 3.6,1.1 3.7,-0.8 3.7,0.1 3.6,-1 3.7,-0.1 3.5,1.3 M510,334.2 l 3,2.6 M513,336.8 l 3.6,0.7 3.7,-0.8 3.8,0 3.5,1.3 3,-2.1 3.7,-0.9 3.3,-1.5 3.4,-1.4 M541,332.1 l -0.5,-4.1 1,-3.9 -0.9,-4 -1.8,-3.6 M500.7,337.7 l 4.4,-2.6 4.9,-0.9 M482.5,312.3 l 3.1,-1 2.6,-1.8 3.2,-0.2 3.1,-0.9 3.3,-0.3 3.3,-0.2 3.1,0.8 2.9,1.7 M507.1,310.4 l 2.9,3.2 M515.9,348.7 l -0.1,-3.2 -1.6,-2.7 -0.8,-3 -0.4,-3 M544.7,338.2 l -2.1,-2.9 -1.6,-3.2 M549.2,299.6 l -0.6,5.2 -3,4.2 -3.4,3.8 -3.4,3.7 M510.1,298.5 l 2.7,-2.5 3.5,-1.6 3.5,-1.5 2.5,-2.9 2.4,-2.8 3.4,-1.8 2.8,-2.5 3.5,-1.4 M507.1,310.4 l -0.6,-3.1 0.6,-3.2 0.8,-3.1 2.2,-2.5 M546.1,288.4 l -3.1,-1.3 -2.8,-2 -2.9,-1.8 -2.9,-1.8 M537,239.8 l -3,-1 -3.2,0.1 -2.5,-1.9 -3.1,-0.9 M513.2,176.1 l -2.4,1.9 -2.3,2.1 M513.2,176.1 l 3.6,0.6 3.5,-1.1 3.4,-1.3 3.7,0.5 3.6,-0.3 3.5,-1.1 3,-2.1 3,-2.1 M540.5,169.2 l 2.2,4.8 3.1,4.2 M493,184 l 4,-1 4.1,0.5 3.6,-2 3.8,-1.4 M543,154.2 l -1.8,3.5 -0.4,3.9 0.1,3.8 -0.4,3.8 M579.8,178.2 l -4.3,0.2 -4.2,-0.5 -4.4,0 -4.1,-1.5 -4.3,-0.2 -4.3,-0.4 -4.4,0.5 -4,1.9 M466.9,467.4 l -0.4,0.7 M427.5,448.8 l 3.6,2.7 2.7,3.6 1.1,4.3 2.3,3.9 M466.5,468.1 l -0.2,0 M320.5,853.5 l 4.1,3.7 5.4,1.6 3.5,4.2 3,4.5 M336.5,867.5 l 0,0 M990.1,2943.9 l -325.1,-1482 M1002.3,2944.3 l -195.9,-1762.9 M665,1461.9 l -17.4,-204.2 M647.6,1257.7 l -3.1,-315.5 M758.3,823.5 l -0.6,3.2 -0.7,3.1 0.5,3.3 -0.6,3.2 0,3.3 0.1,3.3 -2.1,2.7 -0.6,3.4 -1.5,3 -1.5,3 -2.5,2.2 -2.6,2.2 -0.5,3.3 0.1,3.4 -1.3,3.1 -1.3,3 M731.5,809 l -3.6,4.4 -2.6,5 M725.3,818.4 l 0.7,3.6 -0.5,3.7 2.5,2.9 1,3.6 1.7,3.1 1.7,3.1 2,3.1 0.8,3.5 1.1,3.5 0.6,3.6 2.7,2.6 1.6,3.4 0.9,3.5 1.3,3.4 0.5,3.6 -0.7,3.6 M778.1,1002.3 l -2.8,-3.1 -3.7,-1.8 -1.8,-3.6 -2.4,-3.4 -1.5,-3.7 -2,-3.6 -1.3,-3.9 0.6,-4.1 -1.7,-3.6 -0.2,-4 0.2,-3.9 -0.7,-3.9 -0.2,-3.9 -0.2,-3.9 -1.7,-3.6 -0.5,-3.9 -1.2,-3.8 0.3,-3.9 -0.3,-3.9 -1.9,-3.5 -2,-3.4 -1,-3.9 0.3,-4 0.7,-3.9 -2.3,-3.3 -2.9,-2.7 -0.2,-4.1 -2.1,-3.6 -1.5,-3.6 -0.6,-3.9 -0.1,-3.9 -0.7,-3.8 M778.1,1002.3 l 0.4,-3.2 -1,-3 0.5,-3.1 0.4,-3.1 -0.8,-3.1 -2.2,-2.3 -1.2,-2.9 -0.8,-3 0.8,-3 -0.2,-3.2 2.2,-2.3 0.9,-3 0.1,-3.2 -0.6,-3 0.5,-3.1 1.3,-2.8 -0.8,-3 -2.1,-2.3 -1.3,-2.8 -2.5,-1.9 -0.4,-3.1 -0.8,-3 -1.8,-2.6 -2.2,-2.2 -0.5,-3 -0.8,-3 -1.5,-2.7 -1.1,-2.8 0.3,-3.2 1.1,-2.9 -1.2,-3 0,-3.1 -0.5,-3.1 0.6,-3 -0.9,-2.9 -0.9,-2.9 -0.5,-3 -0.7,-2.9 -1,-2.9 -0.6,-2.9 -0.9,-3.1 0.5,-3.1 1.2,-2.9 1.5,-2.7 0.4,-3.1 -0.4,-3 0.5,-3 1.2,-2.8 0.5,-3.1 0.5,-3 1.6,-2.7 1.8,-2.5 2,-2.4 1.3,-2.8 1.6,-2.5 2.4,-2 1.2,-2.8 1.4,-2.7 0.2,-3.1 0.3,-3 1.1,-2.9 0.8,-3 -1,-3 0.2,-3.1 M758.3,823.5 l 3.1,-2.2 1.8,-3.5 3.4,-1.5 3,-2.3 M778.2,818.5 l -4.4,-2 -4.2,-2.5 M743.2,872.2 l -0.3,3.3 -1,3.2 -0.3,3.3 1.1,3.2 M323.4,732.6 l 5.2,-1.4 5.2,-1.7 M301.2,663.8 l 3.5,-0.9 3,-1.8 3,-1.7 3,-1.8 3.2,-1.7 2.2,-2.7 2.8,-2.2 2.3,-2.6 M333.8,729.5 l -0.5,-3.2 -0.2,-3.3 1.7,-2.8 0.5,-3.3 1.1,-3 0.4,-3.2 1.1,-3 0.2,-3.2 2.3,-2.4 1.7,-2.9 -0.2,-3.4 1.2,-3.2 2.6,-2 2.8,-1.7 1.5,-3 2.4,-2.3 M292.6,566.2 l 1.5,5.3 -0.6,5.4 1.1,5.3 0.7,5.3 1.8,5.4 -1.1,5.6 2.9,4.6 2.6,4.9 4.1,4.1 2.2,5.3 4.4,3.8 5.6,1.4 0.6,5.6 1.8,5.3 4.1,4 1.9,5.4 M244.5,559.2 l 3.2,-0.2 2.9,1.1 3.1,-0.3 2.9,1 2.9,0.9 3.1,0.3 3.1,-0.2 3,0.2 2.9,1.4 2.5,1.9 3.2,0 2.9,1.4 3.1,0.2 3.1,-0.3 3.1,-0.6 3.1,0.2 M326.2,642.9 l -2,5.5 M292.6,566.2 l 3.7,-2.7 4.1,-2.2 4.6,-0.3 4.3,-1.7 4.6,0.6 4.3,1.8 4.6,0 4.5,-1.2 M365.3,631.7 l -3.7,3.9 -4.8,2.3 -5.4,-0.5 -5,2.2 -5.1,1 -5.2,-0.6 -4.7,2.3 -5.2,0.6 M371.7,618.4 l -1.3,3.6 -0.2,3.9 -2.2,3.1 -2.7,2.7 M327.3,560.5 l 4.8,2.1 4.8,2.1 M667.2,196.9 l -2,3.3 -1.4,3.5 M754.5,155.3 l -2,2.9 -2,3 -1,3.6 -2.5,2.8 -2.2,2.8 -2.1,3.1 -3.3,1.7 -3.1,2 -2.9,2.2 -3.4,1.5 -2.7,2.5 -2.4,2.8 -3.5,1.1 -3.6,0.5 -3.7,0.1 -3.3,1.8 M667.2,196.9 l 5,-2.7 5.1,-2.5 5.7,0.1 5.7,-0.1 5.2,-2.2 5.7,0.1 5.6,0 5.6,0.1 M625.5,173.3 l -4.4,-1.2 -3.1,-3.2 -2.4,-3.8 -3.2,-3 M594.4,176.5 l 2.6,-3.3 3.5,-2.2 2.2,-3.5 2.2,-3.5 M604.9,164 l 3.7,-0.9 3.8,-1 M628.1,172.9 l -2.6,0.4 M580.9,179.2 l 3.4,-0.8 3.6,0.5 3.3,-1.2 3.2,-1.2 M579.8,178.2 l 1.1,1 M578.9,198.7 l 0.5,-2.7 M630.3,225.7 l 0.4,-3.1 1.8,-2.5 0.7,-3 1.9,-2.4 M630.3,225.7 l -4.7,0.9 -4.7,-1 -4.5,1.6 -4.7,0.4 M606.1,233.9 l 3.4,-2.6 2.2,-3.7 M580.9,179.2 l 0.2,4.3 -0.7,4.1 -0.7,4.2 -0.3,4.2 M565.7,210.3 l 2.5,-3.8 3.6,-2.5 3.5,-2.8 3.6,-2.5 M637.4,258.4 l -1,5.3 -0.3,5.5 M637.4,258.4 l 3.2,-4.5 3.7,-4.1 M636.1,269.2 l 1.3,2.9 0.5,3.2 1,3.1 2.3,2.4 1.3,3.1 2.6,2 2.5,2.2 2.8,1.5 M650.4,289.6 l 6,0.1 5.8,-1.5 M600.7,284.4 l 3.1,-4.1 4.8,-2 3.6,-3.4 4.3,-2.5 4.7,-1.9 5,-0.3 4.8,-1.8 5.1,0.8 M630.3,225.7 l 3.5,4.5 2.9,4.9 5.4,2.4 3.5,4.8 M645.6,242.3 l -0.9,3.7 -0.4,3.8 M710.9,336.2 l 2.1,-2.9 0.9,-3.5 3,-1.9 2.1,-3 1.9,-2.9 1,-3.4 2.6,-2.4 1.7,-3.1 M710.9,336.2 l 0,4 1.5,3.7 1.6,3.6 0.5,3.9 0.3,4 -0.4,4 1,3.9 2,3.5 M726.2,313.1 l 3.7,2.7 3.7,2.8 2.4,4 3.8,2.7 3,3.6 3.6,2.9 1.7,4.3 2.2,4.1 M717.4,366.8 l 4.4,-0.8 3.7,-2.2 4.4,0.9 4.3,-1.2 2.6,-3.5 4.1,-1.8 3.4,-2.7 4.2,-1.2 M748.5,354.3 l 0.5,-3.7 2.2,-3.1 0.3,-3.8 -1.2,-3.5 M689.3,300.9 l 4.6,-3.3 4.5,-3.5 5.5,-1.3 5.6,-0.8 M689.3,300.9 l -2.3,3.3 -1.9,3.6 0.2,4.1 -0.9,4 1.4,3.8 0.5,4 0.1,4 -0.2,4 M726.2,305.7 l 0.9,3.7 -0.9,3.7 M686.2,331.7 l 3.2,0.1 3.2,-0.8 3.1,0.8 3.2,0.4 2.9,1.5 3.3,-0.1 3.1,0.8 2.7,1.8 M710.8,292.2 l -1.3,-0.2 M797.5,346.7 l -3.7,-2.8 -3.4,-2.9 -4.6,-0.6 -4.4,-1 M797.5,346.7 l -1.2,4.8 -1.4,4.8 -0.3,5 -2.2,4.6 M781.4,339.4 l -2.1,2.4 -2.6,1.7 -1.5,2.9 -2.1,2.3 -1,3 -2,2.5 -1.6,2.7 -1.4,2.8 M792.4,365.9 l -3.2,-1.1 -3.3,-0.9 -2.5,-2.2 -3,-1.6 -3.2,-0.9 -3.4,-0.1 -3.4,-0.1 -3.3,0.7 M845,382.5 l -3.3,-0.1 -3.4,0.1 M794,370.4 l 5.4,2.6 4.4,4 5.9,0.4 5.8,1.5 5.7,1.1 5.9,-0.3 5.8,0.5 5.4,2.3 M937.9,362.3 l -3.1,-0.6 -3.1,1.1 -2.7,1.5 -2.6,1.7 -3.1,-0.1 -2.9,-1.2 -3.2,-0.3 -2.9,0.9 -3.1,-0.1 -2.9,1 -2.7,1.3 -2.8,1 -3,0.8 -3.1,-0.1 -2.2,2.3 -3,0.9 -2.9,-1.3 -3.2,0.1 -3.1,0.6 -3,0.7 -3,0.5 -3.1,0.7 -2.1,2.3 -2.9,1.4 -3,0.1 -3,-0.1 -2.9,0.7 -2.9,1.1 -2.6,1.5 -2.9,0.8 -2.9,0.6 -3,0.4 M794,370.4 l -1.6,-4.5 M757.7,361.4 l -4.9,-3.1 -4.3,-4 M757.7,361.4 l 4.5,-2 4.9,0.3 M681.7,242.1 l -0.1,5.2 -0.3,5.1 -2.7,4.6 -0.2,5.3 M681.7,242.1 l 3.5,-1.2 2.8,-2.4 3.6,-1 3.6,-0.2 M695.2,237.3 l 5.4,0.7 4.8,2.4 M678.4,262.3 l 4.3,2.6 3.9,3.3 5,0.9 4.6,2.1 M705.4,240.4 l 2.4,2.2 1.3,2.9 M737,196.2 l -0.1,3.7 -1.3,3.4 -1.4,3.3 0.2,3.7 -2.6,2.5 -2.8,2.4 -1,3.5 -2.1,3 -2.1,2.8 -2.1,2.9 -1.9,3 -2.3,2.7 -3.2,1.4 -3.2,1.6 -3.2,1.7 -2.5,2.6 M710.8,189.7 l -2.6,2.4 -2.7,2.2 -1.5,3.2 -1.1,3.4 -3.1,1.7 -2.8,2.2 -1.8,3.1 -1.5,3.1 M693.7,211 l 0.3,3.4 1.2,3.1 0.1,3.3 0.1,3.3 0.3,3.4 -1.4,3.2 1.1,3.2 -0.2,3.4 M709.5,292 l -3,-1.3 -2.4,-2.2 -1.6,-2.8 -1.8,-2.7 -1.1,-3 -0.1,-3.3 -2.1,-2.4 -1.2,-3.1 M675.3,298.1 l 3.6,0.8 3.2,1.7 3.6,0.4 3.6,-0.1 M675.3,298.1 l -3,-2.9 -3.8,-1.7 -3.7,-2 -2.6,-3.3 M728.7,254.4 l -5.3,-1.7 -4,-3.9 -5,-1.9 -5.3,-1.4 M615.1,155.6 l 3.2,-1.4 3.5,0 2.9,-1.8 3,-1.6 M627.7,150.8 l 1,-5.4 -0.3,-5.4 M612.4,162.1 l 0.7,-3.5 2,-3 M634.6,155.4 l -3.1,-2.9 -3.8,-1.7 M642.1,137.1 l -3.2,1.6 -3.5,0.7 -3.4,0.6 -3.6,0 M495.7,393.4 l 4.3,0.3 4.2,-1 4.2,0.6 4,1.5 M525.4,379.8 l -0.2,5.7 -2.2,5.2 M512.4,394.8 l 4.9,-3.2 5.7,-0.9 M543,399.5 l 2.1,-5.3 M543,399.5 l -5.1,0.6 -5,1.5 M523,390.7 l 2.9,2.5 3.3,1.8 2.7,2.9 1,3.7 M555.3,451.8 l -5.9,0.6 -5.9,0.4 -2.9,1.3 -3.1,-0.1 -2.9,1.2 -2.1,2.3 M555.3,451.8 l 1.5,5.2 3.7,4 M532.5,457.5 l -2.1,2.8 -1.2,3.3 0.1,3.5 0,3.5 0.3,3.4 1.3,3.2 0.1,3.4 1.5,3.2 M532.5,483.8 l 3,2.9 3.3,2.6 4.1,1.3 3.5,2.4 M560.5,461 l -0.7,4.5 -2.2,3.8 -2,4 -0.5,4.5 -2.6,3.6 -1.1,4.3 -2.1,4 -2.9,3.3 M593.8,430.6 l 2.3,-2.6 3.1,-1.5 1.8,-3 1.7,-3 M636.1,437.8 l -3.4,4.6 -4.5,3.6 -4.3,3.7 -4.7,3.4 M593.8,430.6 l 1.2,3.8 0.3,4 -1.5,3.8 0,4 M619.2,453.1 l -3.4,-0.7 -2.7,-2.2 -3.1,-1.5 -2.6,-2.3 -3.4,1 -3.4,-0.7 -3.5,-0.1 -3.3,-0.4 M573.4,420.5 l 5.6,1.6 4.5,3.6 5.2,2.4 5.1,2.5 M557.8,436.3 l -1.5,-5.6 M556.3,430.7 l 3.9,-3.2 3.7,-3.5 4.6,-2.2 4.9,-1.3 M557.8,436.3 l 4.1,1.8 4.6,0.6 4.5,0.2 4.4,0.7 3.4,3.2 4.5,1.2 4.4,1.3 3.4,3.2 M591.1,448.5 l 2.7,-2.3 M509.6,483.8 l -2.8,-4.3 -2.1,-4.7 -1.7,-4.9 0.2,-5.2 M509.6,483.8 l -2.5,2.5 -3,1.9 -2.5,2.6 -1.5,3.2 M466.5,468.1 l 0.7,4.3 2,3.9 2.5,3.6 2.8,3.3 2.4,3.5 3.5,2.6 2.3,3.7 3.2,2.8 M500.1,494 l -3.3,1.5 -3.6,0.4 -3.6,0 -3.7,-0.1 M956.3,539.6 l 3,1.3 3.2,0.3 2.9,-1.6 3.3,0 M968.7,539.6 l 2.8,3.3 M954.9,526.8 l 3.7,1.2 3.9,-0.1 3.9,-0.3 3.7,-0.8 M968.7,539.6 l -0.8,-3.2 0,-3.4 1.8,-2.9 0.4,-3.3 M907.8,640 l -0.7,3.3 0,3.3 -1.3,3.1 -1.2,3.1 M907.8,640 l -2,-2.3 -1.2,-2.8 -2.4,-1.9 -1.6,-2.7 M870.8,662.5 l -1,-0.3 M872.5,632.5 l -2.4,2.8 M870.1,635.3 l 1.3,3.2 0.1,3.5 0.7,3.3 -0.3,3.5 -0.3,3.4 0.1,3.4 -1.2,3.2 -0.7,3.4 M809.6,621.4 l -1,2.8 -0.5,3 -0.7,2.9 0,3.1 -1.6,2.6 -1.1,2.9 0.3,3.1 -0.9,3 M815.8,621.6 l -3.1,0.5 -3.1,-0.7 M815.8,621.6 l 2.1,2.9 1.3,3.5 1.2,3.4 2.1,2.9 2.3,2.9 3.4,1.5 3.5,1.1 2.8,2.3 M834.5,642.1 l -1.8,4.1 0.2,4.5 M832.9,650.7 l -2.9,1.1 -3,0.4 -3,0.3 -3,-0.7 -3,0.3 -2.9,0.5 -2.5,1.8 -3,0.7 M804.1,644.8 l 3,5 2.5,5.3 M796.3,685 l 2.1,2.6 2.8,1.6 3.1,0.7 2.9,1.6 M796.3,685 l 0,-4.3 -1.9,-3.9 0.7,-4.2 1.2,-4.1 M796.3,668.5 l 5,-2.6 5.3,-2.2 M806.6,663.7 l 2.5,1.7 1.5,2.8 0.6,3 1.8,2.5 4.5,3.9 4.2,4.2 M821.7,681.8 l -3.1,3.1 -3.5,2.8 -4,1.9 -3.9,1.9 M780.8,644.8 l 5.9,0.4 5.7,1.6 5.9,-0.8 5.8,-1.2 M780.8,644.8 l 2.2,5.3 -0.1,5.7 2.7,5 0.9,5.7 M786.5,666.5 l 4.8,1.5 5,0.5 M809.6,655.1 l -1.6,4.2 -1.4,4.4 M823.2,682.1 l 2.4,-2.1 2.6,-1.9 3.1,-1.1 2.4,-2.1 2.9,-1.5 3.2,-1.1 1.5,-3 2.4,-2.3 M823.2,682.1 l -1.5,-0.3 M832.9,650.7 l 3.3,3.7 2.3,4.3 2,4.5 3.2,3.8 M807.2,691.5 l -0.6,3.9 M823.2,682.1 l 2.8,3.4 1.3,4.2 2.2,3.9 1,4.2 M813.8,708.3 l 4.6,-2.4 2.9,-4.2 4.6,-1.9 4.6,-2 M813.8,708.3 l 0,0 M813.8,708.3 l -0.3,-3.9 -1.8,-3.4 -3,-2.4 -2.1,-3.2 M845.2,616.3 l -4.4,-2.2 -4.8,-0.2 -4.9,-0.3 -4.7,0.9 M849.6,631.8 l -2,1 M848.1,610.9 l -2,2.4 -0.9,3 M834.1,591.7 l 0.3,3.1 -1.2,2.9 -1.6,2.6 -1.2,2.8 -0.3,3.1 -1.8,2.6 -0.9,2.9 -1,2.8 M870.1,635.3 l -5.3,-0.1 -5.3,0.4 -4.8,-2.2 -5.1,-1.6 M834.5,642.1 l 3.7,-1.8 2.8,-2.9 3.7,-1.8 2.9,-2.8 M827.9,584.1 l -4.6,1.6 -4.9,0.3 -4.6,1.2 -4.7,1.2 -4.6,1.6 -4.2,2.3 -3.7,3.2 -4.7,1.6 M793.6,608.1 l -0.8,-5.5 -0.9,-5.5 M809.6,621.4 l -3.7,-3.7 -3.5,-3.9 -4.8,-2.3 -4,-3.4 M948.8,622.1 l 0.8,4.7 -0.8,4.6 M907.8,640 l 5.4,0.2 4.8,-2.3 5.1,0.7 5,1.4 M933.8,673.8 l -0.9,-5.4 0.7,-5.5 1.5,-5.2 1.9,-5 M937,652.7 l -2.6,-3 -1.6,-3.5 -3,-2.6 -1.7,-3.6 M883.8,745.5 l -3.8,3.4 M885,777.5 l -2,-3 -3,-2 M880,748.9 l -0.3,3.1 -1.5,2.7 -0.2,3.1 -1,2.9 1.1,2.9 1.5,2.7 0,3.1 0.4,3.1 M839.3,843.5 l 5,1 5,-1.2 4.5,-2.1 4.5,-2.2 4.6,-2.3 5.1,-0.1 4.5,-2.3 3.2,-4 M806.4,1181.4 l -2,-3.3 -0.6,-3.8 -2.4,-3 -1.2,-3.7 -2.6,-2.8 -2.9,-2.5 -1.5,-3.6 -2,-3.2 1.4,-3.7 -0.5,-4 0.9,-3.8 1.2,-3.7 -1.8,-3.4 -0.8,-3.8 -1.4,-3.7 -0.3,-3.9 2,-3.4 3,-2.5 1.2,-3.8 2.4,-3.1 -0.7,-3.9 0,-4 1.5,-3.6 0.6,-4 -1,-3.7 -1.7,-3.5 -2.3,-3.2 -0.6,-3.9 0.8,-3.8 -0.4,-3.9 0.6,-3.8 0.3,-3.8 M795.6,1067.6 l 0.7,-3.7 1.1,-3.5 2.3,-3.1 0.8,-3.7 2.2,-3.2 0.8,-3.7 0.3,-3.8 0.1,-3.8 -1.9,-3.3 -1.5,-3.5 -0.1,-3.9 -0.8,-3.7 -0.1,-3.9 -1.3,-3.8 1.9,-3.5 0.7,-3.8 0,-3.8 0.3,-3.8 -0.6,-3.8 -1.3,-3.6 2,-3.2 1.2,-3.6 1.1,-3.5 1.5,-3.5 2.9,-2.7 1.5,-3.6 0.7,-3.8 0.3,-3.8 -1,-3.7 -0.5,-3.7 -0.4,-3.7 0.4,-3.8 M839.3,843.5 l -1.7,4.8 -3.5,3.6 M808.9,952.1 l 3.2,-1.4 2.2,-2.7 2.2,-2.7 1.6,-3 1.6,-3.1 0.8,-3.3 1.4,-3.1 2.1,-2.7 1.3,-3.2 0,-3.5 1.7,-2.9 1.8,-2.9 1.1,-3.2 -0.3,-3.5 0.5,-3.4 1.9,-2.9 1.2,-3.3 0.3,-3.5 1.9,-2.8 1.8,-3 1.3,-3.2 1,-3.4 -0.4,-3.4 -0.2,-3.5 -0.1,-3.6 -1.1,-3.4 0.2,-3.6 1.6,-3.3 -2.3,-2.7 -1.2,-3.3 -0.3,-3.6 -1.6,-3.1 M831.9,800.9 l -2.9,1.3 -2.9,1.3 -2.7,1.6 -2.4,2 -1.7,2.7 -2.5,1.9 -2.3,2.1 -2.1,2.4 M831.9,800.9 l 4.3,3 4.1,3.3 2,4.9 3.2,4.2 M845.5,816.3 l -1.3,2.7 M844.2,819 l -3.2,0.3 -3.1,-0.5 -3.1,0.4 -3.2,0.2 -3.1,0.7 -3,1 -3,0.9 -3.1,0.5 M819.4,822.5 l -3.2,-3.5 -3.8,-2.8 M853.3,783.8 l -4.9,0 -4.8,0.3 -4.5,1.8 -4.8,0.8 M831.9,791.3 l 2.4,-4.6 M831.9,791.3 l 0.2,4.8 -0.2,4.8 M863.9,797 l -3.1,-2.9 -2.4,-3.5 -2.3,-3.6 -2.8,-3.2 M839.3,843.5 l -0.2,-3.3 1,-3.1 -1,-3.1 -0.2,-3.3 0.3,-3.3 1,-3.1 2.3,-2.4 1.7,-2.9 M834.1,851.9 l -2.2,-3.7 -3.5,-2.6 -0.7,-4.2 -1.9,-3.8 -0.4,-4.2 -2.4,-3.5 -2.7,-3.3 -0.9,-4.1 M643.7,482 l 0.5,-3 0.8,-2.9 0.9,-2.9 0.4,-3 1.3,-2.7 1.7,-2.6 1.6,-2.6 0.4,-3.1 M643.7,482 l -5,1 -4.4,2.7 M619.2,453.1 l -0.1,3.4 -1.1,3.2 0.6,3.4 1.3,3.1 -0.5,3.3 0.5,3.3 0.3,3.3 -1,3.2 M634.3,485.7 l -4,-1.4 -4.3,0 -2.8,-3.2 -4,-1.8 M656.3,531.1 l -2.6,-1.9 M656.3,531.1 l 1.8,4.4 -0.4,4.6 0.2,4.7 -1.2,4.4 M653.7,529.2 l -2.3,2.1 -3,0.9 -1.7,2.7 -2.7,1.6 M644,536.5 l -0.3,5.7 -2.8,5.1 M640.9,547.3 l 3.2,0.4 2.9,1.5 2.6,2 3.2,0.6 M656.7,549.2 l -3.9,2.6 M682,536.5 l -3.4,4.3 -1.9,5.1 -2.5,5 0,5.5 M682,536.5 l -0.5,-3.8 M674.2,556.4 l -4.2,-2.2 -4,-2.6 -4.4,-2.3 -4.9,-0.1 M681.5,532.7 l -2.7,-3.5 M678.8,529.2 l -5.7,0.2 -5.5,1.1 -5.6,1.4 -5.7,-0.8 M681.5,532.7 l 4,0.7 4.1,0.4 3.8,-1.5 4,-0.5 4.1,-0.2 3.9,-1.5 3.6,-1.8 3.2,-2.5 M682,536.5 l 3.3,1.3 3.4,-0.5 2.5,2.5 3.1,1.4 2.1,2.5 2.3,2.4 2.4,2.3 1.9,2.7 M703,551.1 l 2.9,-0.6 M705.9,550.5 l 0.9,-3.1 0.1,-3.2 -0.5,-3.2 0.6,-3.1 1.4,-2.9 1.9,-2.5 1.4,-2.9 1.3,-2.8 M712.2,525.8 l 0.8,1 M830,568.1 l -4.1,-3.8 -4.7,-3.2 -5,-2.6 -5.6,-1 M791.9,597.1 l -3.5,-3.4 -2.7,-4.1 M785.7,589.6 l 0.2,-4.2 1.7,-3.8 0.5,-4.3 2.6,-3.4 0.7,-4.1 0.6,-4.1 -1.4,-4 -0.1,-4.2 M810.6,557.5 l -5,1.1 -5,-0.8 -5.1,0.7 -5,-1 M710.6,474.4 l 3.2,1.7 3.5,0.7 3.6,0.6 3.3,1.6 3.4,1 3.4,1.3 3.3,1.4 3.4,1.3 M710.6,474.4 l -0.3,0.2 M737.6,484.2 l -4.1,3 -5.1,0.7 -3.3,3.9 -4.8,1.9 -3.7,3.3 -2.5,4.4 -1.5,4.8 -3.4,3.8 M709.2,510 l -4.8,-2.2 -5.1,-1 -5.1,-1.7 -4.1,-3.3 M737.7,484 l -0.1,0.2 M690.1,501.8 l 2.3,-3.8 1.5,-4.1 2.4,-3.8 0.6,-4.4 3.9,-2.3 2.3,-3.9 3.6,-2.4 3.6,-2.5 M680.3,506.1 l 2.6,-2.3 2.8,-2 M678.8,529.2 l 1.4,-5.7 1.5,-5.7 -1.2,-2.8 -0.8,-2.9 0.4,-3 0.2,-3 M709.2,510 l 2.1,3.6 0.3,4.1 -0.7,4.2 1.3,3.9 M690.1,501.8 l -4.4,0 M661.3,506.2 l 4.8,-1.3 4.9,-0.4 M661.3,506.2 l -1.1,-3.4 -2.6,-2.6 -2.9,-2.2 -1.6,-3.3 -2.5,-2.6 -1,-3.5 -2.6,-2.6 -1.3,-3.3 M671,504.5 l -0.7,-3 -0.2,-3.1 -0.5,-3.1 -1.5,-2.7 -1.5,-2.8 -1.6,-2.6 -2.5,-1.8 -2,-2.4 M645.7,482.7 l 3.7,-0.6 3.7,1.2 3.7,-1.1 3.7,0.8 M647.3,517.1 l 1.4,3.2 0.9,3.4 1.8,2.9 2.3,2.6 M647.3,517.1 l 4.1,-2 2.8,-3.6 3.2,-3.1 3.9,-2.2 M680.3,506.1 l -4.7,-0.4 -4.6,-1.2 M643.7,482 l 2,0.7 M636.1,513 l -1.2,-3.4 -0.2,-3.6 -1.1,-3.4 -1.8,-3 -0.8,-3.6 0.9,-3.6 1.7,-3.2 0.7,-3.5 M647.3,517.1 l -3,-0.6 -3.1,-0.3 -2.4,-1.9 -2.7,-1.3 M756.7,632.9 l 5.2,1.8 5.5,0.2 5.5,0.7 4.8,2.9 M756.7,632.9 l -1.9,-5.6 -1.5,-5.6 M753.3,621.7 l 4.9,0.9 4.8,-0.7 4.9,-0.5 4.6,-1.7 4.3,-2.1 4.7,-1.3 4.1,-2.7 4.5,-1.8 M777.7,638.5 l 1,-3.7 2,-3.2 -0.3,-3.8 1.4,-3.6 1.4,-3.6 1.3,-3.6 2.5,-2.8 3.1,-2.4 M763,589.6 l 5.7,1 5.6,-1.4 5.8,-0.6 5.6,1 M747.9,615.4 l 3.1,2.8 2.3,3.5 M793.6,608.1 l -3.5,3.7 M780.1,644.3 l 0.7,0.5 M728.6,585.4 l -2.1,-3.8 -3.4,-2.8 -0.6,-4.2 -1.4,-4.1 M721.1,570.5 l -3.2,1.3 -3.2,1.5 -2.5,2.6 -3.2,1.5 -3.6,0 -3.4,-0.9 -3.4,1.1 -3.5,0.7 M693.7,589.4 l 2.1,-5.4 -0.7,-5.7 M722.6,562.1 l -0.1,4.3 -1.4,4.1 M703,551.1 l -2.7,4.9 -3,4.8 -3.6,4.4 -5.1,2.5 M695.1,578.3 l -2.4,-2.1 -1.8,-2.6 -0.7,-3.1 -1.6,-2.8 M674.2,556.4 l 1.1,3.4 1,3.3 M676.3,563.1 l 2.5,2.3 3.1,1.4 3.3,0.7 3.4,0.2 M636.2,336.9 l -0.8,4 -0.9,4.1 0.4,4.1 1.3,3.9 M636.2,336.9 l 2.8,-1.9 3.2,-0.9 3.4,0 3.2,-1.1 2.7,-1.8 2.5,-2.2 3,-1.4 2.4,-2.3 M644.1,358.7 l 3.6,-1.5 3.8,-0.4 3.5,-1.5 3.9,-0.2 3.9,0 3.9,-0.3 3.4,-1.7 3.5,-1.8 M644.1,358.7 l -3.9,-2.9 -4,-2.8 M661.5,325.7 l -2.1,-0.4 M661.5,325.7 l 2.2,4.5 3.7,3.4 4.9,1.4 3.7,3.5 M676,338.5 l -1,3.2 0.2,3.3 -1.3,3 -0.3,3.3 M626.5,323.5 l 2.8,3.2 3,2.8 2.4,3.4 1.5,4 M625.9,356.7 l 5.5,-0.9 4.8,-2.8 M681.2,377.8 l 1.9,-4.5 3,-4 M647.7,382 l -0.7,-3 -0.2,-3 0.7,-3 0.7,-3 -1.1,-3 -2.4,-2.2 -0.7,-3 0.1,-3.1 M686.1,369.3 l -4.7,-3.1 -3.3,-4.7 -2.9,-4.8 -1.6,-5.4 M615.5,389.5 l -3.4,-4.9 -0.8,-5.9 M615.5,389.5 l 5,2.8 5.5,1.7 M686.2,331.7 l -3.1,0.7 -2.9,1.4 -2,2.4 -2.2,2.3 M717,367.5 l -4,0.8 -3.5,1.8 -3.9,0.7 -3.9,0.8 -4,0.4 -3.8,-1.3 -4,-0.5 -3.8,-0.9 M717,367.5 l 0.4,-0.7 M550.9,408 l 3.7,-1.7 3.3,-2.4 3.4,-2.2 4,-1 M550.9,408 l -4,-4.2 -3.9,-4.3 M559.1,387.9 l 4.3,2.3 3.3,3.5 M565.3,400.7 l 1.4,-3.4 0,-3.6 M553.2,428.8 l 3.1,1.9 M573.4,420.5 l 0.9,-3.2 0.4,-3.3 M553.2,428.8 l 0.3,-5.3 -1.2,-5.1 -0.4,-5.3 -1,-5.1 M565.3,400.7 l 2.3,3.6 3.6,2.3 2,3.6 1.5,3.8 M573,373.9 l 1.1,3.9 1.7,3.6 2,3.6 0.2,4.1 M566.7,393.7 l 3.1,-0.4 3.1,-0.7 2.8,-1.3 2.3,-2.2 M598,373 l -4.4,4 -3.5,4.7 -4.4,4 -3.5,4.7 M582.2,390.4 l -4.2,-1.3 M365.2,901.5 l -4.3,-0.9 -4.3,-1.1 -4.3,0.9 -4.2,1.1 M365.2,901.5 l 3,-3 2.8,-3.1 1.6,-4 2.1,-3.6 M348.1,901.5 l -1.4,-4.6 -3.4,-3.5 M343.3,893.4 l 1.3,-5.6 M363.7,954.3 l -0.3,-3.4 0,-3.4 0.8,-3.3 1.5,-3 -0.2,-3.4 -1,-3.2 -0.3,-3.4 0.7,-3.3 0,-3.4 -1.3,-3.1 0.4,-3.4 -0.2,-3.3 0.1,-3.3 0.5,-3.3 1.1,-3.2 -0.3,-3.4 M332.4,1034.8 l 0.6,-5.5 1.5,-5.2 2.4,-5 0.9,-5.4 0.5,-5.5 0.2,-5.6 2.8,-4.7 1.5,-5.4 2,-5.5 3.3,-4.7 4.7,-3.3 4.8,-3.2 1.8,-5.5 3.7,-4.6 1.3,-5.6 -0.7,-5.8 M332.4,1034.8 l 0.9,-4.3 1.6,-4.1 -0.8,-4.4 1,-4.4 -0.4,-4.3 -1.7,-4.1 -0.1,-4.4 -0.1,-4.4 0.9,-4.4 2.5,-3.7 2.7,-3.5 3.2,-3.1 1.2,-4.3 2.6,-3.7 -0.8,-4.5 1.2,-4.4 -0.8,-4.3 1.1,-4.4 -1.2,-4.2 0,-4.4 2.6,-3.6 1.2,-4.2 1,-4.3 1.4,-4.1 -1.9,-4 -1.3,-4.2 -0.1,-4.4 1.1,-4.3 0.8,-4.2 -0.2,-4.3 -0.3,-4.4 -1.6,-4 M384.9,882.4 l -0.7,-0.8 M384.2,881.6 l -4.4,3.6 -5.1,2.6 M344.5,861.8 l -4.7,1.8 -3.3,3.9 M384.2,881.6 l 0,0 M336.5,867.5 l 2.3,5.2 4,4.1 1.8,5.3 0,5.7 M329.9,1042.7 l 2.2,-3.7 0.3,-4.2 M407.2,907.1 l 0.1,-3.6 -1.6,-3.3 -0.6,-3.5 -1.6,-3.2 M407.2,907.1 l 3.4,3.2 4.2,2.1 2.4,3.8 2.5,3.9 3.6,3 4.3,1.7 2.3,4.1 3.4,3.1 3.3,3.4 4.2,2.2 4.7,0.2 4.5,1.5 3.9,2.8 4.6,1.2 2.1,4.3 3.3,3.4 2.5,4 3.1,3.5 3.2,3.5 4.2,2.2 3.7,3 3.2,3.6 4.3,2.1 4.9,0.5 1.3,4.5 2.2,4.2 0.4,4.7 1.4,4.6 2.3,4.1 2.5,4.1 4.1,2.5 3.4,3.4 M403.5,893.5 l 3.1,0.1 2.9,-1.3 3.1,-0.7 2.6,-1.6 2.6,-1.6 2.5,-1.9 1.9,-2.5 2.8,-1.3 M425,882.7 l 3.9,-0.9 4,0.6 4,0.4 3.9,-1 3.9,1 3.5,2.1 4,0.4 4.1,-0.4 M456.3,884.9 l 4.4,2.6 5,1.3 4,3.1 4.4,2.6 4.3,2.7 4.5,2.5 3.1,4.2 4.6,2.4 M510.6,1005.5 l -0.5,-3.3 0.2,-3.2 -1.2,-3.2 0.4,-3.3 -0.6,-3.3 -1.1,-3.1 -0.1,-3.2 -0.4,-3.3 -0.6,-3.3 0.3,-3.3 0.8,-3.3 1.5,-3 0.1,-3.3 0.5,-3.2 1.3,-3.1 -0.1,-3.3 -1,-3.3 -2.2,-2.8 -1.2,-3.2 -0.3,-3.5 -2.6,-2.1 -2.3,-2.6 -3.2,-1.4 -2.2,-2.8 0,-3.4 0.7,-3.3 -0.2,-3.4 -1.2,-3.2 -0.5,-3.4 -2,-2.8 -1.9,-2.9 -0.4,-3.4 M384.9,882.4 l 5.1,1.9 4.5,3.1 4.3,3.3 4.7,2.8 M665,1461.9 l -154.4,-456.4 M780.1,644.3 l -4,1.1 -3.1,2.9 -2.1,3.5 -3,2.9 M756.7,632.9 l -2.7,3 -1.2,3.8 -1.3,3.8 -2.5,3.1 M733.1,679.8 l 5.9,0.4 M736.8,647.5 l 4.7,1.6 5,-0.6 M739,680.2 l 4.3,-2 2.8,-3.9 1.9,-4.2 2,-4.2 M750,665.9 l -2,-4 -0.9,-4.4 -1.1,-4.4 0.5,-4.6 M729.4,621.1 l -0.8,3.6 -1.6,3.3 -1.2,3.5 -0.3,3.7 M725.5,635.2 l 3.9,1.9 3.3,2.9 2.1,3.7 2,3.8 M749,646.6 l -2.5,1.9 M742.7,885.2 l -4.1,-3.3 -3.2,-4 M704.3,854.1 l 5.1,0.5 4.5,2.7 4.9,1.5 4,3.4 3.7,3.5 2.1,4.7 4.1,3.2 2.7,4.3 M778.1,1002.3 l 2.4,3.8 0.3,4.6 -0.6,4.3 -1.1,4.3 0.6,4.4 -0.2,4.4 2,3.9 2.3,3.7 1.9,4.1 3.4,2.9 2.2,3.8 2.5,3.6 0.8,4.5 -1.4,4.4 1.8,4.1 0.6,4.5 M704.3,854.1 l -4.2,-1.9 -4.5,-0.1 -4,-1.9 -3.6,-2.6 M680,848.4 l 3.9,-0.9 4.1,0.1 M656.8,826.8 l 4.7,1.6 3.8,3.1 4.5,2 4.7,1.4 M648.2,856.8 l 3.2,-2.3 3.5,-1.6 3.4,-1.9 3.3,-2 3.6,-1.5 3.7,-1.4 3.9,0.2 3.9,-0.2 M676.7,846.1 l -2.2,-5.4 0,-5.8 M779.8,791 l -2.6,3.8 -1.7,4.2 -3.3,3.2 -3.2,3.2 M779.8,791 l -0.2,-4 -1.9,-3.4 -0.6,-3.9 0.3,-3.8 M769,805.4 l -5,-2.6 -5.4,-2 -4.7,-3.3 -3,-4.9 M777.4,775.9 l -1.1,-1.6 M776.3,774.3 l -4.8,0.1 -4.5,1.9 -4.9,0.7 -4.6,-1.4 M586,913.6 l -2.9,-5 -3.5,-4.5 -1,-5.6 -2.5,-5.2 -0.8,-5.7 -1,-5.6 -3.1,-4.9 -2.4,-5.1 M647.6,1257.7 l -61.6,-344.1 M533.5,863.3 l 4.5,1.1 3.9,2.4 4.7,0.2 4.1,2.3 4.4,1.3 4.5,0.8 4.6,-0.2 4.6,0.8 M490.6,906.3 l 1.8,-3.7 0.3,-4.2 M533.5,863.3 l -5.3,1.9 -5.4,1.9 -4.5,3.5 -4.9,2.8 -3.5,4.4 -3.6,4.4 -4.9,2.9 -4.2,4 M497.2,889.1 l -3,4.3 -1.5,5 M352.4,683.6 l 3.1,-3.1 3.1,-3.2 4.1,-1.5 4,-1.9 M648.2,856.8 l -3.9,3.9 M644.5,942.2 l 2.7,-2.7 1.1,-3.7 0.5,-3.7 0.7,-3.7 -0.1,-3.7 0.8,-3.7 0,-3.7 -1.6,-3.5 -0.6,-3.6 0.5,-3.7 -1.6,-3.3 -0.1,-3.8 -0.8,-3.6 -0.9,-3.6 -2.2,-3.1 -2.4,-2.8 M680,848.4 l -3.3,-2.3 M640.5,886.3 l -0.5,-3.2 0.7,-3.3 0.6,-3.2 0.2,-3.2 0.9,-3.2 1.1,-3.1 0.2,-3.2 0.6,-3.2 M690.3,747.5 l 5.9,-0.8 5.7,1.5 6,0.5 5.3,2.8 M713.2,751.5 l -2.2,5.5 -2.7,5.2 -4.5,3.8 -4.7,3.6 M716.2,745.6 l 0.4,4.7 M705.7,727.1 l -5,-0.3 -4.4,-2 M696.3,724.8 l -2,2.3 -1.5,2.6 -1.4,2.7 -0.4,3 -1,5.9 -0.1,6 M689.9,747.3 l 0.4,0.2 M716.6,750.3 l -1,1.1 M715.6,751.4 l -2.4,0.1 M718.9,773.2 l -4.9,2.1 -5.3,1.3 -4.7,2.6 -4.1,3.5 M718.9,773.2 l 5.6,0.9 5.2,2.1 M729.7,776.2 l 2,4.5 1.3,4.8 0.9,5 2.4,4.4 M703.4,793.6 l -0.9,-5.6 -3,-4.7 M731.5,802.3 l 2.7,-3.5 2.1,-3.9 M699.5,783.3 l 0.4,-0.6 M715.6,751.4 l 2.4,5.1 -0.3,5.7 1.3,5.4 -0.1,5.6 M699.1,769.6 l -0.4,3.3 0.8,3.2 0,3.3 0.4,3.3 M735,749.1 l -4.6,0.4 -4.6,-0.3 -4.7,-0.2 -4.5,1.3 M735,749.1 l -0.2,5.9 -2,5.5 1,5.8 0,5.8 M733.8,772.1 l -4.1,4.1 M751.7,768.7 l 2.8,3.5 3,3.4 M733.8,772.1 l 4.5,-0.6 4.6,-0.1 4.3,-1.8 4.5,-0.9 M750.9,792.6 l -3.9,0.6 -3.7,-1.3 -3.5,1.5 -3.5,1.5 M731.5,809 l 0.6,-3.3 -0.6,-3.4 M769.6,814 l -0.7,-4.2 0.1,-4.4 M689.9,747.3 l -3.7,0.9 -3.9,0.2 -3.6,1.2 -3.2,2.1 M675.5,751.7 l -3.9,4.3 -4.9,3 M666.7,759 l 1.2,3 2,2.6 1.8,2.7 2.6,1.8 1.3,3 0.2,3.2 0.6,3.1 0,3.2 M676.4,781.6 l 5.8,0.5 5.7,0.2 5.8,0.3 5.8,0.7 M673.2,806.9 l -2.2,2 -2.4,2 -2.2,2.2 -1.4,2.7 -2.5,1.8 -2.9,1 -3.1,0.6 -2.5,2 M673.2,806.9 l -1.3,-3.9 0.1,-4 0.2,-4.1 -1.6,-3.8 M654,821.2 l -4.8,-3.2 -5.4,-2.1 -5.7,-1.1 -5.3,-2.5 M632.8,812.3 l 2.3,-4.3 1.3,-4.8 1.2,-4.8 2.5,-4.3 M371.7,618.4 l 5.5,0.8 5.4,-1 5.2,-1.9 5.5,0.5 M336.9,564.7 l 4.7,0.3 4.6,-0.8 4.6,-0.5 4.6,1 4.5,1.6 4.7,-0.1 4.4,1.6 4.4,1.6 4.2,-2.2 4.7,-0.6 4.6,-0.6 4.7,0.1 4.5,-1.9 3.1,-3.7 4.3,-2 4.6,-1 M393.3,616.8 l 2.4,-4.3 2.2,-4.3 2.8,-4.2 0.4,-5 2.9,-3.9 3.3,-3.6 2,-4.5 3.6,-3.4 M412.9,583.6 l -1.4,-3.1 -1.6,-3 -0.2,-3.4 -0.5,-3.3 -0.3,-3.5 -1.7,-3 0.2,-3.5 0.7,-3.3 M410.5,547.7 l 0.3,-3.3 0.6,-3.2 2,-2.8 0.8,-3.2 1.3,-3.2 0.2,-3.4 1.9,-2.8 2.5,-2.3 1.3,-3.2 2,-2.8 -0.1,-3.5 0.8,-3.4 1.8,-2.9 2.1,-2.7 2.5,-2.5 3.3,-1.3 M433.8,501.2 l -1,-2.9 -2.3,-2.2 -3,-1 -2.1,-2.2 M414.7,491 l 5.5,0 5.2,1.9 M411.1,554 l -3,3.5 M411.1,554 l -0.7,-3.1 0.1,-3.2 M394.1,473.8 l 1.9,2.9 2.2,2.5 2.8,2 2.6,2.1 2.4,2.5 2.7,2 3.2,1.1 2.8,2.1 M444.5,503 l 2.9,-4.5 1.7,-5 1.6,-5.1 0.9,-5.2 3.8,-4.1 1.7,-5.3 4.5,-3 4.7,-2.7 M444.5,503 l -5.3,-1.1 -5.4,-0.7 M437.2,463.3 l -0.2,4.1 -1.5,3.8 -1.4,3.9 -0.1,4 -1.7,3.8 -1.2,4 -3.4,2.4 -2.3,3.6 M658.6,214.9 l 1.5,-5.6 3.9,-4.3 M658.6,214.9 l -1,4.8 1.4,4.6 1,4.7 -0.1,4.7 M664,205 l 3.9,2 3.6,2.4 4.2,1.4 3.4,2.8 M679.1,213.6 l 0.5,3 0.3,3 -0.4,3 -0.9,2.8 -2.8,5.3 -2.8,5.2 M659.9,233.7 l 3,1.7 3.4,0.6 3.3,-0.4 3.4,0.3 M635.1,214.7 l 6,0.5 5.7,1.6 3.1,-0.5 2.6,-1.9 3,0.3 3.1,0.2 M663.8,203.7 l 0.2,1.3 M645.6,242.3 l 4.3,-0.5 3.7,-2.3 2.9,-3.2 3.4,-2.6 M693.7,211 l -3.5,1.5 -3.6,0.9 -3.7,0.3 -3.8,-0.1 M681.7,242.1 l -3.9,-3.6 -4.8,-2.6 M516.5,422.6 l 4.1,-2.5 M520.6,420.1 l 0.5,-0.1 M521.1,420 l 2.7,0 M523.8,420 l 3.2,1.5 3.3,1.5 2.8,2.4 1.6,3.4 M506,423.8 l 5.3,0.1 5.2,-1.3 M492.9,395.5 l 2.7,4 1.6,4.6 2.8,4 4.2,2.5 4.6,1.7 4.8,1.1 2.7,4.2 4.3,2.5 M512.4,394.8 l 0.4,3.3 0.7,3.4 1.6,2.9 1.8,2.9 2.2,2.7 1.2,3.2 0.8,3.4 0,3.4 M532.9,401.6 l -2.8,4.3 -2.9,4.3 -2.8,4.5 -0.6,5.3 M553.2,428.8 l -4.7,0.8 -4.6,1.2 -4.8,0 -4.4,-2 M557.8,436.3 l -0.1,4 -1.3,3.7 -1.1,3.8 0,4 M509.6,483.8 l 5.6,-1.8 5.8,0 5.8,0.3 5.7,1.5 M573.5,463.1 l 0.4,3.1 1.3,2.9 0.1,3.1 -0.3,3.1 1.5,2.7 0.4,3.2 -0.4,3.1 0.4,3.1 M573.5,463.1 l 3.6,-1 3.2,-1.8 3.4,-1.5 3.3,-1.6 M587,457.2 l 1.8,3.8 1.2,4.1 2.7,3.4 1.9,3.8 1.6,4 2.6,3.4 0.1,4.4 2,3.9 M576.9,487.4 l 5.7,1.7 5.8,0.9 5.9,-0.6 5.9,-0.4 M600.2,489 l 0.7,-1 M560.5,461 l 3.3,-0.1 3.2,1.2 3.2,0.6 3.3,0.4 M553.3,497.9 l -2.8,-1.2 -2.8,-1.4 M546.4,493 l 1.3,2.3 M553.3,497.9 l 3.2,-0.9 2.4,-2.4 3.1,-1 3.3,-0.6 3.2,-0.7 2.8,-1.7 3.1,-1.1 2.5,-2.1 M591.1,448.5 l -3,3.9 -1.1,4.8 M619.2,479.3 l -5,1.1 -4.5,2.6 -4.4,2.5 -4.4,2.5 M600.2,503.1 l 0.7,-3.5 0.4,-3.6 0.2,-3.6 -1.3,-3.4 M590.4,514.7 l 1.6,-3.5 3.1,-2.4 2.4,-3 2.7,-2.7 M553.3,497.9 l 3,1.5 2.1,2.7 2.3,2.5 0.9,3.2 1.6,3 0.4,3.3 0.9,3.2 2.2,2.5 M590.4,514.7 l -3,-0.9 -3.2,0.6 -2.8,1.2 -2.9,1.1 -2.8,1.5 -3,0.3 -3.1,0.4 -2.9,0.9 M590.4,514.7 l 2.6,4.6 0.9,5.1 3,4.3 1.4,5.1 M566.7,519.8 l -0.3,3.5 0.4,3.5 -0.9,3.4 -1.4,3.2 M564.5,533.4 l 3.7,2.6 3.8,2.4 M598.3,533.8 l -3.6,4.6 M572,538.4 l 5.7,-0.2 5.7,-0.4 5.7,-0.7 5.6,1.3 M546.4,548.2 l 5.4,-2.5 4.7,-3.6 3.3,-5 4.7,-3.7 M547.7,495.3 l -3.8,3.9 -1.9,5.1 -3.3,4.2 -2.5,4.8 -4.2,3.3 -4.5,2.9 -4.2,3.5 -3,4.5 M546.4,548.2 l -2.6,-0.2 M543.8,548 l -1.5,-3.8 -3,-2.7 -2.4,-3.3 -3.3,-2.3 -3.9,-1.2 -3,-2.7 -3,-2.5 -3.4,-2 M974.3,516.4 l 4.6,1.2 4.4,1.8 4.9,-0.1 4.3,2.3 M992.5,521.6 l -0.4,4.1 -1.6,3.9 1.2,3.9 0.8,4 M992.5,537.5 l -2.2,0 M970.2,507.8 l 2.7,4 1.4,4.6 M1890.2,-504.4 l -897.7,1026 M971.5,542.9 l 4.9,-1.6 5.1,0.9 4.8,-1.5 4,-3.2 M999.2,545.8 l -4,-3.6 -2.7,-4.7 M796.3,685 l -3.3,0.8 -3.3,1.3 -2.9,1.8 -2.2,2.6 M786.5,666.5 l -3.4,2.7 -4,1.8 M784.6,691.5 l -3.1,-1.3 -2.4,-2.4 M779.1,687.8 l 0,-4.3 1.2,-4.1 -0.8,-4.1 -0.4,-4.3 M767.9,654.7 l -1.2,3.2 -0.9,3.4 0.6,3.4 -0.1,3.5 M779.1,671 l -3.2,-1.1 -3.3,0.4 -3.3,-0.7 -3,-1.4 M750,665.9 l 4,0.9 4.1,-0.2 4,0.3 3.9,1.5 M766.3,668.2 l -0.3,0.2 M751.7,768.7 l 1.3,-3.7 -0.5,-3.8 M735,749.1 l 2.8,-2 M752.5,761.2 l -4.9,-2 -3.4,-4 -3.6,-3.8 -2.8,-4.3 M739.8,739.2 l -3.4,-3.5 -2.8,-4 -3,-4 -3.9,-3 M739.8,739.2 l -0.4,4.4 M739.4,743.6 l -1.6,3.5 M739.8,739.2 l 4.5,-3.9 4.8,-3.6 M728.4,713.5 l -1.3,4.3 -1.4,4.3 M728.4,713.5 l 4.5,-0.4 4.2,-1.6 M749.1,731.7 l 3,1.7 3.4,0.9 3.2,1.7 2,2.9 M739.4,743.6 l 5.2,0 5,1.4 5.3,0 4.9,2 M759.8,747 l 1.2,-4 -0.3,-4.1 M961.2,634 l 2,3.8 2.2,3.7 3.2,2.8 3.6,2.4 M961.2,634 l -5,1 -5,-1 M947.4,649.2 l 3.3,-1.3 3.5,-0.8 3.6,0.5 3.5,0.6 3,1.9 3.1,1.8 3.7,-0.4 3.4,1.1 M972.2,646.7 l 1.8,2.7 0.5,3.2 M961.9,622.1 l -0.5,6 -0.2,5.9 M948.8,631.4 l 2.4,2.6 M937,652.7 l 5.3,-1.4 5.1,-2.1 M1010.6,685.6 l -1.4,-2.9 -2.3,-2.1 -2.2,-2.3 -2.8,-1.5 -3,-1 -2.4,-2.1 -2.4,-2 -3,-1 -2.3,-2.1 -2,-2.3 -2.4,-2 -2.5,-1.8 -1.7,-2.7 -0.8,-3.2 -2.4,-2 -2.5,-2 M814.1,772.4 l 1.1,-3.6 1,-3.5 -0.6,-3.6 -0.2,-3.7 M814.1,772.4 l 4.4,2.4 3.5,3.5 4.9,1.1 4.7,1.3 M831.6,780.7 l 2,-4.4 1,-4.7 0.8,-4.8 -1.1,-4.8 M834.3,762 l -3.4,-3 -3.5,-3 M815.4,758 l 5.3,-2 5.7,-0.5 M827.4,756 l -1,-0.5 M863.1,730.4 l -2.9,-1.1 -2.3,-2 -3.1,0.2 -3,-0.7 M851.8,726.8 l -0.9,3.8 0.3,3.8 -1.1,3.8 -2.8,2.8 M863.1,730.4 l -1.6,5.2 -1,5.5 M860.5,741.1 l -3.3,-0.3 -3.3,0.2 -3.3,-0.5 -3.3,0.5 M786.3,819.7 l 4.4,-1.4 4.2,-2.1 4.6,-1.2 4.7,0.6 M786.3,819.7 l 4.7,3.4 2.9,5 2.7,5 3.4,4.5 2,5.3 0.9,5.6 1,5.5 1.1,5.6 0.5,5.7 -1.5,5.6 -1.5,5.6 -2.5,5.1 0.6,5.8 2.9,5 0.2,5.7 1.3,5.5 M805,903.6 l 1.4,-5.7 -1.4,-5.7 0.3,-5.8 2.8,-5.2 -3.2,-4.9 -3.4,-4.8 -1.4,-5.7 0.4,-5.9 0.4,-5.7 -1.4,-5.5 2.1,-5.2 1.2,-5.5 2.3,-5.2 -0.1,-5.7 1.4,-5.5 -1.4,-5.5 M804.2,815.6 l 0.8,0.5 M778.2,818.5 l 4.1,0 4,1.2 M808.9,952.1 l -1.4,-2.8 -1.8,-2.6 -0.9,-3 -1.1,-3 0.9,-3.1 0.3,-3.2 -1.1,-3.1 -0.6,-3.1 1.2,-3 1.1,-2.9 1.3,-3 0.2,-3.2 -0.5,-3.1 0,-3.2 -0.6,-3.1 -0.9,-3.1 M812.4,816.2 l -3.7,0.1 -3.7,-0.2 M780.1,760.1 l -1.9,2.9 -1,3.3 M780.1,760.1 l -0.6,-3.2 -1.3,-2.9 -2.2,-2.4 -1.6,-2.8 M774.4,748.8 l -3.3,-0.1 -3.4,-0.3 -3.3,0.2 -3.2,1.1 M758.9,756.3 l 1.5,-3.2 0.8,-3.4 M799.7,773.7 l -0.4,-3.3 0.2,-3.3 -0.7,-3.3 -0.4,-3.3 M776.3,774.3 l 1.1,-3.9 -0.2,-4.1 M789.7,756.4 l 4.2,2.4 4.5,1.7 M789.7,756.4 l -4.9,1.7 -4.7,2 M752.5,761.2 l 3.5,-2 2.9,-2.9 M760.7,738.9 l 5.1,-3.1 M775,746.4 l -1.3,-3.3 -2.2,-2.9 -2.6,-2.5 -3.1,-1.9 M775,746.4 l -0.6,2.4 M759.8,747 l 1.4,2.7 M798.4,760.5 l 4.6,-1.1 3.6,-3.1 M803.3,776.6 l 3.9,-0.6 M807.2,776 l 3.2,-2.2 3.7,-1.4 M799.7,773.7 l 3.6,2.9 M815.4,758 l -1.1,-0.7 M814.3,757.3 l -3.8,-1 -3.9,0 M831.9,791.3 l -4.9,-0.6 -5,0.6 M804.2,815.6 l -1.1,-5.2 -0.7,-5.3 M807.2,776 l 1.3,3.7 1.9,3.4 2.7,2.9 2.2,3.2 M834.3,786.7 l -1.4,-3 -1.3,-3 M822,791.3 l -3.3,-1.1 -3.4,-1 M795.3,401 l -1.3,3.7 0.5,4 -0.6,3.8 0,3.9 -0.6,3.9 -1.2,3.7 -0.7,3.8 -1.2,3.7 M795.3,401 l -2.8,-3.9 -3.6,-3.3 -0.2,-4.9 -2.5,-4.2 M786.2,384.7 l -2.6,1.6 -2.8,1.4 -3.1,0.3 -3.1,0.7 -3,0.9 -3.1,-0.1 -3.1,0.2 -3.1,-0.7 M762.3,389 l -0.2,0.4 M794,370.4 l -2.2,3.5 -1.1,4 -1.8,3.7 -2.7,3.1 M838.3,382.5 l -1.9,2.3 -2,2.4 -2,2.3 -2.7,1.5 -2.7,1.5 -2.7,1.2 -3.1,0.7 -2.4,2 -3.1,-0.1 -3.1,-0.1 -2.6,1.7 -3,0.9 -2.9,0.9 -3,-0.1 -2.8,1.2 -3,0.2 M790.2,431.5 l 0.1,1.1 M792.2,435.3 l -1.9,-2.7 M792.2,435.3 l 0.7,1.9 M854.6,472.9 l -3.3,-1.4 -3.6,0.1 -3.1,-1.8 -3.2,-1.4 -2.9,-2.1 -2.7,-2.4 -3.4,-0.9 -3.5,-1 -3.4,-1.5 -3.6,0.3 -3.7,0 -3.4,-1.1 -3.5,1.1 -3.7,-0.2 -3.3,1.6 -3.2,1.7 M801.1,463.9 l -2.3,-3.8 -1,-4.3 -3.3,-3 -2.4,-3.6 M792.1,449.2 l -0.5,-4.2 M792.9,437.2 l -1.4,3.8 0.1,4 M792.1,449.2 l -2.4,2.1 -3.1,0.9 -2.4,1.9 -1.9,2.5 -2.7,1.7 -2.5,1.8 -1.1,3.1 -2.4,2.2 -0.7,3.1 -1.8,2.7 -2.9,1.5 -2.1,2.5 -2.6,1.6 -2.3,2.1 -2.5,1.8 -1.9,2.5 M738.6,483.2 l 4.5,-0.8 4.6,0 4.6,-0.1 4.5,0.9 M738.6,483.2 l 0.4,-3.8 -0.3,-3.9 2,-3.2 1.6,-3.6 -0.2,-3.8 -1.6,-3.4 -0.5,-3.7 -0.1,-3.8 M791.6,445 l -3.3,-0.7 -3.4,-0.4 -3.3,-0.4 -3.4,0.2 -3.3,-0.4 -3.4,0.2 -3.3,0.8 -3.4,-0.3 -3.3,0.6 -3.1,1.5 -3,1.6 -3.5,0.2 -2.2,2.7 -3.3,1.4 -3.4,0.5 -3.1,1.5 M762.1,389.4 l -3,1.8 M717,367.5 l 0.3,3.2 1,2.9 -0.5,3.1 0.5,3.2 1.1,2.8 1.1,3 0.7,3.1 2,2.4 M759.1,391.2 l -4.7,-0.1 -4.6,0.8 -4,2.5 -4.7,0.9 -4.4,-1.3 -4.6,-0.6 -4.1,-2.2 -4.8,0 M697.8,407.8 l 5.5,-0.4 4.8,-2.7 5.4,0.2 5.4,-0.1 M723.2,391.2 l -1.6,3.3 -0.3,3.6 -0.4,3.6 -2,3.1 M732.3,531.9 l 4.4,-3.1 2.4,-4.9 3.6,-3.9 2.2,-4.8 M732.3,531.9 l 1.1,4.8 0.3,4.8 3.5,3.5 1.7,4.6 M744.9,515.2 l 4.1,2.9 3.4,3.8 5.2,0.8 4.1,3.2 5,0 5,0.4 4.7,1.6 4.9,1.2 M751.6,553.6 l -3,-1.6 -3.3,-0.6 -3.4,-0.4 -3,-1.4 M751.6,553.6 l 4,-0.8 4,0.3 3.5,-1.7 3.4,-2.2 3.5,-1.7 3.5,-1.7 2.8,-2.8 3.5,-1.8 M779.8,541.2 l 0.4,-3.1 -0.4,-3.1 1.2,-2.8 0.3,-3.1 M737.6,484.2 l 1.1,3.8 0.6,4 -0.2,4 1.1,3.9 -0.3,4.1 0.9,4.1 1.9,3.6 2.2,3.5 M713,526.8 l 4.4,2.6 5,1 5,0.3 4.9,1.2 M722.6,562.1 l 3.7,-3.6 4.3,-2.9 4.6,-2.3 3.7,-3.7 M753.6,581.6 l 0.7,-3.7 2.2,-3.2 -0.5,-3.6 0.2,-3.8 -1.3,-3.5 0.4,-3.8 -1.4,-3.4 -2.3,-3 M790.5,557.5 l -2.1,-4.6 -4.1,-3 -3.4,-3.8 -1.1,-4.9 M684.7,497.7 l 1.7,-5.4 1.4,-5.6 2.2,-5.3 1.3,-5.6 M684.7,497.7 l -1.4,-2.8 -1.2,-2.8 -0.2,-3.2 -1.6,-2.8 -2.4,-2 -2.7,-1.7 -1.3,-2.9 -1.7,-2.7 M673.8,472.2 l -1.6,4.6 M673.8,472.2 l 5.4,-1.3 5.6,0.1 M684.8,471 l 2.8,3 3.7,1.8 M685.7,501.8 l -1,-4.1 M710.3,474.6 l -4.7,1.2 -4.7,1.2 -4.9,0.5 -4.7,-1.7 M660.5,483 l 3,-1.7 3.3,-0.6 3.1,-1.5 2.3,-2.4 M668.5,460.6 l 2.4,2.3 1.4,3 1.2,3.1 0.3,3.2 M698.1,446.6 l -2.8,-2.2 -3.4,-0.9 -2.9,-1.8 -3,-1.7 M698.1,446.6 l -3.1,1.9 -2.3,2.8 -1.4,3.4 -2.4,2.7 -1.4,3.3 -1.3,3.3 -1.2,3.4 -0.2,3.6 M699.6,446.9 l -1.5,-0.3 M710.6,474.4 l -2.1,-3.1 -2.1,-3.2 -0.8,-3.7 -0.8,-3.6 -0.5,-3.8 -1.9,-3.2 -2.3,-3.1 -0.5,-3.8 M585,395 l -0.2,4.9 0.2,4.8 M585,395 l 3.2,-0.5 3.1,0.7 3.2,-0.4 2.8,-1.7 3.2,-0.6 3.1,0.6 3.2,0.3 2.9,1.6 M585,404.7 l 4,2.6 3.4,3.3 4.8,0.9 4.3,2.1 M609.7,395 l -1.8,4.8 -1.5,4.9 -1.6,4.9 -3.3,4 M574.7,414 l 3,-1.8 3.1,-1.8 1.6,-3.2 2.6,-2.5 M582.2,390.4 l 2.8,4.6 M615.5,389.5 l -2.6,3.1 -3.2,2.4 M602.7,420.5 l -1.3,-3.3 0.1,-3.6 M273.2,770.2 l 4.9,1.6 3.9,3.3 3.2,3.9 3.4,3.7 4.9,1.4 4.5,2.1 4.6,2.3 3.4,3.8 5.1,0.2 4.8,1.6 5.1,0.7 5,-1.2 4.5,2.5 5,0.8 4.7,2 4.2,2.9 M383.7,742.7 l -3,-1.6 -2.2,-2.6 -3,-1.7 -3.3,-0.8 -3.4,-0.3 -3.2,-1.3 -2.8,-2 -2.5,-2.3 -3.3,1.1 -3.4,0.1 -3.2,1.3 -3.4,0.5 -3.3,-1.1 -3.1,-1.4 -3.3,-1.2 -3.5,0.1 M383.7,742.7 l -0.8,3.9 0.7,4 M344.4,801.8 l 4.4,-0.1 4.2,-1 M344.5,861.8 l 3,-5 0.3,-5.8 2.4,-5 3.1,-4.7 M384.2,881.6 l 0,-4.6 2.2,-4 1.3,-4.3 1.3,-4.2 M353.3,841.3 l 0.7,-0.1 M383.6,750.6 l 1.2,2.8 1.3,2.7 0.8,3 2.1,2.3 0.6,3.1 -0.8,3.1 1.3,2.8 1.5,2.7 -0.5,3 0.5,3.1 1,2.9 1.4,2.8 1.4,2.6 1,2.9 1.8,2.4 1.3,2.7 M353,800.7 l 5,1.9 4.9,1.8 5.3,0.8 4.8,2.1 M354,841.2 l 3.2,-2.3 1.7,-3.4 3.4,-1.8 3.7,-0.8 2.5,-2.8 3.5,-1.3 3.2,-2 3.7,-0.5 M373,807.3 l 2.7,4.3 1.5,4.8 1.2,4.9 0.5,5 M453,878.9 l 1.6,3.1 1.7,2.9 M432.9,859.6 l -3.3,0.2 -3.3,-0.1 -3.2,0.7 -3.3,-0.7 M432.9,859.6 l 2.9,2.1 3.2,1.8 3,2.1 3.4,1.1 2.5,2.7 1.3,3.5 2.4,2.7 1.4,3.3 M425,882.7 l -4.3,-3.9 -2.2,-5.3 -1.3,-5.4 -0.9,-5.6 M419.8,859.7 l -3.5,2.8 M679,811.2 l -0.7,3.8 0.7,3.8 1.4,3.6 0.5,3.8 M680.9,826.2 l 4.1,0.5 4.1,-0.4 4,1 3.8,1.6 M699.1,808.7 l 1.9,3.1 2.1,3 2,3.1 0.8,3.6 M705.9,821.5 l -0.9,1.9 M705,823.4 l -2.6,1.7 -2,2.4 M700.4,827.5 l -3.5,1.4 M656.8,826.8 l -1.9,-2.6 -0.9,-3 M674.5,834.9 l 4,-3.8 2.4,-4.9 M673.2,806.9 l 3.1,1.8 2.7,2.5 M676.4,781.6 l -2.9,4.7 -2.9,4.8 M703.4,793.6 l 0.3,4 -1.1,3.9 -1.3,3.9 -2.2,3.3 M688,847.6 l 2.1,-4.7 2.2,-4.7 3,-4.4 1.6,-4.9 M725.3,818.4 l -4.5,2.2 -5,0.7 -4.9,0.6 -5,-0.4 M735.4,877.9 l -2.9,-2.9 -3.7,-1.9 -2.2,-3.5 -1.2,-3.9 -1.6,-3.6 -1.9,-3.6 -2.7,-2.9 -3,-2.7 -1.4,-3.8 -2.4,-3.3 -0.8,-4 0,-4 -0.4,-4.1 -1.5,-3.7 -2,-3.5 -2.7,-3.1 M704.3,854.1 l -1.1,-3.3 -0.3,-3.5 1,-3.4 0.6,-3.4 -1.3,-3.2 -0.9,-3.3 -0.8,-3.3 -1.1,-3.2 M383.7,742.7 l 3.8,-1.5 M387.5,741.2 l 2.1,-4.8 1.4,-5 M366.7,673.9 l 3,1.8 3.5,0.6 3.3,-0.7 3.5,0 2,2.9 2.7,2 3.3,1 3,1.6 M391,731.4 l -0.7,-3.2 0.8,-3 -1.6,-2.7 -0.7,-3.1 0.1,-3.1 0.3,-3 -1,-3 0.3,-3.1 0.5,-3 0.3,-3 0.6,-3 0.9,-2.9 0.2,-3.1 0,-3 -0.1,-3.1 0.1,-3 M635.5,777.9 l 3,-1.9 1.6,-3.1 0.9,-3.3 1.5,-3.1 3.1,-1.7 2.4,-2.5 2.2,-2.7 1,-3.4 M635.5,777.9 l 0.9,4.2 1.8,3.8 0.3,4.3 1.6,3.9 M666.7,759 l -3.3,-1.5 -3.6,-0.9 -3.7,-0.2 -3.6,-0.6 M652.5,755.8 l -1.3,0.4 M477,605.9 l 0.4,-5.5 -2,-5 M477.6,590.1 l -2.2,5.3 M477.6,590.1 l 6,-0.8 5.5,-2.2 5.9,-0.9 6,-0.2 2.8,1.4 3.2,0.1 2.6,1.7 2.6,1.6 3,-0.7 3,-0.5 3.2,-0.3 3,0.8 M524.4,590.1 l 3.1,2.5 3.2,2.4 M530.7,595 l 0,0.9 M473.3,626 l 1.4,-4.9 1.4,-5 -0.6,-5.2 1.5,-5 M488.3,655.9 l -1.7,-4.1 0.4,-4.4 -1.4,-4.1 -1,-4.3 -2.7,-3.4 -2,-3.9 -3,-3.2 -3.6,-2.5 M500.5,655.4 l -3.1,0.6 -3,-1 -3,1.2 -3.1,-0.3 M459.9,516 l 5.2,1.5 5.3,-0.9 M470.4,516.6 l 2.1,3.9 2.7,3.4 1.6,4.2 2.8,3.5 3.4,2.9 3.9,2.2 3.3,3.2 1.5,4.4 M475.2,573.2 l 2.6,-2.8 1.2,-3.6 2.8,-2.5 2.6,-2.8 0.9,-3.6 1.8,-3.3 2.1,-3.1 1.6,-3.4 M490.8,548.1 l 0.9,-3.8 M477.6,590.1 l 0.9,-4.3 -0.9,-4.3 -1,-4.2 -1.4,-4.1 M444.5,503 l 3.8,3.5 2.8,4.3 5,1.6 3.8,3.6 M485.9,495.8 l -1.8,2.8 -0.8,3.2 -2,2.7 -1.6,2.9 -1.5,3 -2.7,2.1 -2.3,2.4 -2.8,1.7 M445.3,664.2 l -3.1,1.5 -2.2,2.6 -3.4,0.5 -3.2,1.2 -3.4,0.2 -2.9,1.8 -3.1,1.5 -2.3,2.5 M409.1,654.4 l 2.8,3.9 2,4.5 0.7,4.9 0.8,4.8 M409.1,654.4 l -0.1,-5.4 1.7,-5.1 -0.1,-5.3 1.7,-5.1 M415.4,672.5 l 3.2,1.6 3.1,1.9 M488.3,655.9 l -2.8,3.8 M452.2,666.8 l 4.2,-1.7 3.3,-3 4.2,-1.4 4.1,-1.7 4.4,-0.1 4.3,1.2 4.4,-0.2 4.4,-0.2 M452.2,666.8 l -3.4,-1.4 -3.5,-1.2 M391,683.1 l 3.3,-1.4 3.1,-1.6 2.9,-2 1.7,-3.1 3.4,-0.6 3.3,-0.9 3.3,-1 3.4,0 M393.3,616.8 l 3,1.5 2.1,2.6 3.2,0.7 2.7,1.9 2.4,2.2 2.4,2.1 1.1,3.1 2.1,2.6 M452.2,666.8 l 2,5.3 3.4,4.4 1.5,5.4 -0.4,5.6 M485,670.4 l -1.8,5.3 -2.5,4.9 -3.6,4.2 -4.9,2.7 M485.5,659.7 l 1.1,5.5 -1.6,5.2 M472.2,687.5 l -3.4,-0.9 -3.4,0.2 -3.4,-0.4 -3.3,1.1 M633.9,514.3 l -4.3,-0.9 -4.4,0.6 -4.4,0.3 -4.2,1.4 M633.9,514.3 l -0.8,3.6 -1.7,3.1 -0.4,3.6 -0.1,3.5 M630.9,528.1 l -2.7,4 -4,2.5 -4,2.5 -3,3.6 M616.6,515.7 l -3.2,3.7 -1.6,4.7 -0.6,4.8 -0.5,4.9 M610.7,533.8 l 3.3,3.4 3.2,3.5 M636.1,513 l -2.2,1.3 M600.2,503.1 l 4.3,3.2 5.2,1.3 4.2,3.4 2.7,4.7 M644,536.5 l -4.5,0.7 -4.3,-1.2 M635.2,536 l -1.3,-4.4 -3,-3.5 M598.3,533.8 l 3.3,0 2.9,-1.5 3.2,0.5 3,1 M810.6,710.8 l -5.5,-0.9 -5.4,0.9 M810.6,710.8 l -0.9,3.5 -1.1,3.5 M808.6,717.8 l -4.2,2.2 -4.7,0.1 M799.7,710.8 l -0.4,4.6 0.4,4.7 M808.9,718.8 l 3.2,2.5 3.4,2 M815.5,723.3 l 2.9,-2.9 M808.9,718.8 l -0.3,-1 M813.8,708.3 l -3.2,2.5 M813.8,708.3 l 2.3,2.7 2.3,2.6 M818.4,713.6 l -0.7,3.4 0.7,3.4 M765.7,694.4 l 3.6,-4.2 M765.7,694.4 l -5,-1.6 -3.9,-3.6 -4.6,-2.6 -5.1,-1.4 M746.2,704.6 l 3.5,0.8 3.6,1.1 M753.3,706.5 l 5.3,-1.1 5.3,-1.2 M743.3,684.9 l 1.7,4.8 0,5 0.6,4.9 0.6,5 M743.3,684.9 l 3.8,0.3 M763.9,704.2 l -0.3,-5.1 2.1,-4.7 M779.1,687.8 l -4.9,1.2 -4.9,1.2 M743.3,684.9 l -2.6,-1.9 -1.7,-2.8 M770.7,726.8 l -1.2,-3.5 -1.4,-3.5 M770.7,726.8 l -1,0.9 M769.7,727.7 l -4.9,0.3 -4.7,0.9 -4.6,-1.8 -4.9,0.6 M768.1,719.8 l -3.2,0.1 -3.2,-0.5 -3.3,-0.4 -3.2,0.8 M755.2,719.8 l -2.5,3.9 -2.1,4 M765.8,735.8 l 2.6,-3.7 1.3,-4.4 M753.3,706.5 l 0.6,3.4 1.5,3.1 0.6,3.4 -0.8,3.4 M763.9,704.2 l 3.1,1.7 2.1,2.8 M769.1,708.7 l -0.6,5.6 -0.4,5.5 M737.1,711.5 l 5,-2.8 4.1,-4.1 M879.8,727.9 l -2.9,-1.7 M863.1,730.4 l 2.7,-2.4 3.4,-0.9 M880,748.9 l -3.1,0.5 -2.9,-1 -2.7,1.5 -3.1,0.2 M860.5,741.1 l 1.6,2.5 1.2,2.8 2.8,1.4 2.1,2.3 M876.9,726.2 l -3.8,0.3 -3.9,0.6 M851.8,726.8 l -1.5,-3 -1.6,-3 M869.2,727.1 l -3.7,-2.1 -3.2,-2.9 -2.8,-3.2 -2,-3.8 M848.7,720.8 l 4.4,-2.8 4.4,-2.9 M864.9,753.1 l -3.4,3.1 -4.5,1.1 -4.6,-0.4 -4.5,0.5 M864.9,753.1 l -0.8,4.8 0.1,4.9 -0.3,4.9 0.9,4.8 M856.8,776.6 l -3.1,-4.5 -0.8,-5.3 -1.6,-5.1 -3.5,-4 M856.8,776.6 l 3.5,-3 4.5,-1.1 M847.8,757.7 l 0.1,-0.3 M868.2,750.1 l -3.3,3 M845.8,742.2 l 1.5,-1.2 M880,772.5 l -3.9,-0.3 -3.7,1.3 -3.9,0 -3.7,-1 M853.3,783.8 l 1.2,-3.8 2.3,-3.4 M842.4,741 l -4.8,2.7 -4.3,3.2 -3.4,4.3 -2.5,4.8 M842.4,741 l 3.4,1.2 M792.2,793.4 l 5.2,2.9 3.4,4.9 M800.8,801.2 l 3.6,-4.7 3,-5.1 M802.9,778.1 l 2,3 0.8,3.5 0.2,3.5 1.5,3.3 M779.8,791 l 3.1,1 3.2,-0.1 3.2,0.1 2.9,1.4 M802.4,805.1 l -1.6,-3.9 M803.3,776.6 l -0.4,1.5 M815.3,789.2 l -4.1,0.6 -3.8,1.6 M781.3,529.1 l 2.4,-2.5 1.5,-3.2 M810.6,557.5 l 1.9,-2.8 0.4,-3.4 1.1,-3.1 1.8,-2.7 1.9,-2.9 0.5,-3.3 2,-2.7 2.1,-2.5 M785.2,523.4 l 4.9,1.3 4.9,-1.1 5,0.3 4.6,1.8 4.7,1.6 4.6,1.8 4.7,1.6 3.7,3.4 M737.7,484 l 0.9,-0.8 M756.8,483.2 l 4.4,2.7 4.2,3 2.9,4.4 4.4,2.9 4.3,3 4.7,2.1 4,3.3 4.3,2.8 M785.2,523.4 l 1.1,-4.2 2.9,-3.3 1.1,-4.1 -0.3,-4.4 M843.7,536.6 l -3,-4.6 -4,-3.7 M836.7,528.3 l -3.9,0.8 -3.1,2.5 -4,0.4 -3.4,2.1 M726.9,433.6 l 1.5,-4.8 -0.5,-5 M726.9,433.6 l 1.3,3.3 1.8,3.1 2.5,2.5 3.2,1.7 M735.7,444.2 l 4.3,-2.9 4.7,-2.1 5.1,-0.1 5.2,-0.1 4,-3 4.4,-2.5 4.7,-1.8 3.6,-3.6 M699.6,446.9 l 3.8,-0.9 3.3,-2.1 3.8,-0.8 3.9,-0.5 2.8,-2.6 3.4,-1.9 3.2,-2.2 3.1,-2.3 M718.9,404.8 l 2.4,4.8 3.9,3.8 0.2,5.5 2.5,4.9 M739.9,454 l -2.1,-4.9 -2.1,-4.9 M790.3,432.6 l -4.9,0.1 -4.8,-0.6 -4.1,-2.8 -4.8,-1.2 M382.3,827.7 l 5.1,-2.1 5.6,-0.1 M382.3,827.7 l 0.6,4.6 -1.1,4.5 2.4,3.9 0.8,4.6 1.8,4 1.2,4.4 0.4,4.5 2.5,3.9 M390.9,862.1 l 4.1,-0.8 3.2,-2.6 M399.5,795.5 l 2.9,3.2 2.9,3.2 4.2,1.2 3.9,1.7 M378.9,826.3 l 3.4,1.4 M413.4,804.8 l -0.1,3.1 -0.7,3.1 M412.6,811 l -2.5,1.8 -2.7,1.4 -2.4,2 -2.3,2 -1.9,2.5 -2.8,1.4 -2.4,1.9 -2.6,1.5 M389,864.5 l 1.9,-2.4 M416.3,862.5 l -4.7,0.2 -4.6,-0.7 -4.8,-0.5 -4,-2.8 M416.2,803 l 4.2,-0.9 4.2,-0.7 3.6,-2.4 3.7,-2.2 4.3,0.2 4.1,1.1 4.3,-0.4 4.1,1.1 M425.3,757.2 l 3.9,-0.1 4,0 3.8,0.7 3.9,0.4 3.8,1.1 3.5,1.6 4,0.8 3,2.7 M455.2,764.4 l -1,3 -1.3,2.8 0.1,3.2 -0.6,3.1 0.2,3.2 0.2,3.1 0.8,3 0.6,3.1 M454.2,788.9 l -2.6,5.1 -2.9,4.8 M387.5,741.2 l 4.9,2.1 5.1,1.2 5.2,1.2 5.2,-0.6 M413.4,804.8 l 2.8,-1.8 M407.9,745.1 l 3.6,4.1 3.9,3.7 5.5,1 4.4,3.3 M456.3,826.2 l -1.1,-3.6 -2.4,-2.8 -2.1,-3 -1.3,-3.4 -1.5,-3.5 0.2,-3.7 -0.3,-3.7 0.9,-3.7 M456.7,826.3 l -0.4,-0.1 M491,803.6 l 0,4.4 -1.5,4.1 -0.6,4.3 0.4,4.4 M491,803.6 l -4.7,-1.7 -4.9,-0.9 -4.4,-2.4 -5,-0.8 -4.5,-2.5 -3.5,-3.8 -5,-0.8 -4.8,-1.8 M489.3,820.8 l -4,1.3 -4.2,0.2 -3.8,1.8 -4,1.4 -4.2,0.6 -4,1.1 -4.2,-1.2 -4.2,0.3 M444.1,837.1 l 1,-3.6 M444.1,837.1 l -1.6,3.8 -2.9,2.9 -3.1,2.5 -3.7,1.6 M445.1,833.5 l -3.2,0.2 -3.2,0.3 -2.9,-1.4 -3.2,-0.2 -2.4,-2.2 -3.1,-1 -3.1,-0.7 -2.7,-1.7 M432.8,847.9 l -5.2,-0.8 -5.2,0.8 M456.3,826.2 l -3.4,0.8 -2.8,2 -2.3,2.5 -2.7,2 M432.9,859.6 l 0.7,-5.8 -0.8,-5.9 M412.6,811 l 1,4.5 1.4,4.4 3.9,2.8 2.4,4.1 M419.8,859.7 l 0,-3.1 -0.1,-3.1 1.2,-2.9 1.5,-2.7 M725.5,635.2 l -5,3.2 -5.6,2 -2.9,1.1 -2.5,1.9 -3,-0.6 -3.1,0.7 M707.1,656.7 l -0.6,-3.4 -1,-3.3 -0.3,-3.5 -1.8,-3 M711.9,610.3 l -2.5,2.2 -1.9,2.8 -3.2,1.3 -2.4,2.5 M701.9,619.1 l 1.4,5.3 -1.1,5.3 -3.3,4.4 -1.3,5.3 M703.4,643.5 l -2.7,-2.3 -3.1,-1.8 M618.7,545.4 l 3.6,-0.3 3.6,-0.8 3.5,-1 3.3,-1.6 M618.7,545.4 l -0.4,4.9 M618.3,550.3 l 1.6,3.7 2.4,3.3 3.5,2 3.1,2.6 M640,547.5 l -3.5,-3 -3.8,-2.8 M640,547.5 l -2.7,3.8 -4.1,2.3 -2.1,4.1 -1.7,4.2 M629.4,561.9 l -0.5,0 M617.2,540.7 l 1.5,4.7 M635.2,536 l -0.8,3.1 -1.7,2.6 M640.9,547.3 l -0.9,0.2 M651.6,610.6 l 3.7,-3.9 2.6,-4.8 2.8,-4.7 4.5,-3.1 M660.5,624.8 l 3.7,-0.5 3.7,-0.5 3.7,0.3 3.6,0.7 M675.2,624.8 l 2.8,-3.9 0.8,-4.6 1.9,-4.2 1.3,-4.4 M665.2,594.1 l 4,0.1 3.7,1.6 3.6,1.4 3.6,1.5 M680.1,598.7 l 2.1,4.3 -0.2,4.7 M671.2,656.1 l -5.2,-1.5 -5.2,-1.3 -5.4,-0.7 -4.9,-2.5 M649.9,648.1 l 0.6,2 M687.4,639.9 l -3.8,-3.1 -3.1,-3.8 -2.3,-4.3 -3,-3.9 M649.9,648.1 l 2.5,-2.1 1.8,-2.8 2.4,-2.4 1.3,-3.1 0.5,-3.5 2.1,-2.7 0.3,-3.4 -0.3,-3.3 M687.4,639.9 l 5.2,0.9 5,-1.4 M701.9,619.1 l -5.8,-0.9 -5.1,-3.2 -4.9,-3 -4.1,-4.3 M693.7,589.4 l -3.7,2 -2.6,3.3 -3.3,2.7 -4,1.3 M668.2,571.2 l -3.1,4.1 -1.3,5 -1.1,5 0.9,5.1 M668.2,571.2 l -5.5,0.2 -5.2,-1.8 -4.7,-2.6 -5.2,-1.7 M663.6,590.4 l -5.2,-2.2 -5.6,0.3 -4.9,-2.6 -3.9,-4 M644,581.9 l -0.7,-3.5 -1.6,-3.3 0.1,-3.6 1.2,-3.4 M647.6,565.3 l -4.6,2.8 M676.3,563.1 l -3.3,4.7 -4.8,3.4 M665.2,594.1 l -1.6,-3.7 M652.8,551.8 l -1,3.5 -0.7,3.6 -2,3 -1.5,3.4 M629.4,561.9 l 3.2,2.2 3,2.2 3.5,1.8 3.9,0 M500.5,655.4 l 4.8,3.4 5.4,2.3 5.7,1.2 5.2,2.6 M548.7,645 l -0.5,4 -1.9,3.6 M521.6,664.9 l 3.4,-1 3.2,-1.5 3.3,-1.3 3.6,-0.1 3,-2.2 1.8,-3.2 3.4,-1.1 3,-1.9 M497.2,889.1 l 2.6,-5.1 0.7,-5.6 0.5,-5.6 -1.7,-5.4 M489.3,820.8 l 2.5,2.7 2.3,2.9 M499.3,867.4 l -0.8,-5.1 -1.3,-5 -1.2,-5.1 0.1,-5.2 -2.1,-4.9 -1.5,-5.1 0.5,-5.4 1.1,-5.2 M495.9,797.1 l 2.9,-0.9 2.4,-1.9 2.7,-1.4 3,-0.6 2.4,-2 2.3,-2 3,-0.5 3,-1 M517.6,786.8 l 0.4,-5.4 1.4,-5.2 -1.3,-5.3 -0.5,-5.4 M517.6,765.5 l -5.1,0.1 -4.8,-1.7 -5,-0.9 -4.1,-3.2 -3.3,-3.8 -4.4,-2.5 -4.8,-1.5 -4.4,-2.5 M470.4,756 l 2.3,-2.4 2.5,-2.2 3.1,-1.4 3.4,-0.5 M491,803.6 l 2.4,-3.3 2.5,-3.2 M465.7,757.1 l -2.4,2.2 -3.3,0.8 -2.8,1.7 -2,2.6 M465.7,757.1 l 4.7,-1.1 M517.7,786.9 l -0.1,-0.1 M517.7,786.9 l 4.5,-1.5 4.5,-1.3 4.9,0.5 4.6,-1.7 4,2.8 4.8,1.2 4.9,1.2 4.8,-1.2 M524.8,759.5 l 2.9,-1.3 3.2,0.3 2.8,1.6 3.2,0.1 2.9,0.9 2.3,2.1 2.9,1.2 3,0.4 M524.8,759.5 l -3.8,2.7 -3.4,3.3 M420.5,696.5 l 0,-4.4 1.3,-4.1 0.6,-4.3 0.2,-4.2 M420.5,696.5 l 2.8,2.3 3.3,1.6 2.3,3 3.3,1.7 2.3,3 0.8,3.7 2.1,3 2.4,2.8 M422.6,679.5 l 3.8,2.4 4.4,1.2 4.4,0.8 3.9,2.4 2,4.1 2.7,3.7 4.2,2 3.4,3 M451.4,699.1 l 1.6,5.2 -0.1,5.4 M452.9,709.7 l -2.7,3.4 -2.9,3.1 M447.3,716.2 l -3.9,0 -3.6,1.4 M391,731.4 l 1.7,-2.6 1.4,-2.6 -0.2,-3.1 1.1,-2.9 2,-2.2 2.5,-1.7 0.8,-3 2,-2.3 4.1,-4.2 5.1,-2.9 4.5,-3.8 4.5,-3.6 M421.7,676 l 0.9,3.5 M407.9,745.1 l 5.3,-1.5 4.2,-3.6 5.1,-1.9 4,-3.7 3.2,-4.4 2,-5.2 3.8,-3.9 4.3,-3.3 M458.7,687.5 l -1.3,3.2 -2.6,2.5 -0.9,3.4 -2.5,2.5 M475.3,711.3 l 1.6,-3 2,-2.8 M475.3,711.3 l -5.7,0.1 -5.5,-1.2 -5.6,-0.8 -5.6,0.3 M478.9,705.5 l -1.7,-4.7 -3.3,-3.7 -0.8,-4.8 -0.9,-4.8 M465.7,757.1 l -0.6,-5.8 -2.8,-5.1 -0.7,-5.7 -1.4,-5.5 -4.6,-3.6 -4,-4.4 -2.9,-5 -1.4,-5.8 M486.2,736.6 l -0.9,3.3 -0.3,3.5 -2.2,2.8 -1.1,3.3 M486.2,736.6 l -2.2,-2.9 -3,-2.1 -1.4,-3.3 -1.9,-3.1 -0.9,-3.4 -0.7,-3.5 -1,-3.4 0.2,-3.6 M568.8,851.2 l 3.9,-0.4 3.7,-1.2 3.8,-1.2 3.5,-1.6 M568.8,872 l 0.3,-5.3 -1,-5.1 -0.1,-5.2 0.8,-5.2 M586,913.6 l -0.1,-3.4 0.1,-3.4 0,-3.4 -1.7,-3.1 -0.4,-3.3 -0.3,-3.4 0.7,-3.4 1.5,-3.1 -0.9,-3.4 0.5,-3.6 1,-3.3 1.4,-3.2 2,-2.8 2,-2.8 1.9,-2.9 2.5,-2.4 M583.7,846.8 l 2.7,4.3 2.7,4.3 2.6,4.5 4.5,2.8 M612.1,856.8 l 3.6,3.7 3.5,3.9 4.1,3.4 5,1.8 2.9,4.4 3.8,3.6 3.8,3.7 1.7,5 M612.1,856.8 l -5.7,1.4 -5.7,0.7 M596.2,862.7 l 4.5,-3.8 M612.1,856.8 l 0.5,-4 1.6,-3.6 0.4,-3.9 -1.2,-3.9 M644.3,860.7 l -2.8,-2.9 -2.2,-3.4 -1.3,-3.8 -2.6,-3.2 -2.8,-2.9 -2.5,-3.2 -1.2,-3.9 -2.9,-3 M613.4,841.4 l 3.5,-1.2 3.6,-0.8 2.3,-3 3.2,-2 M600.7,858.9 l -0.8,-4.7 -0.9,-4.8 0.8,-4.7 0.8,-4.8 M613.4,841.4 l -3.2,0.2 -3.3,-0.4 -3.1,-0.8 -3.2,-0.5 M583.7,846.8 l 2.3,-2.8 2.9,-2.2 1.4,-3.4 2.8,-2.4 M600.6,839.9 l -3.6,-2.3 -3.9,-1.6 M632.8,812.3 l -4.2,2.3 M628.6,814.6 l -0.2,5.1 -1.4,4.8 0.6,5.1 -1.6,4.8 M478.9,705.5 l 4.8,-1.2 4,-2.9 4.8,-1.3 4.1,-2.7 M486.2,736.6 l 3.1,-1.3 2.6,-2.1 3.4,0 3.2,-1.2 2.4,-2.3 2.8,-1.8 1.6,-3 2.5,-2.2 M507.8,722.7 l -0.9,-3.5 0,-3.6 -2.2,-2.8 -0.9,-3.5 -1.2,-3.4 -1,-3.4 -1.9,-3.1 -3.1,-2 M485,670.4 l 0.4,3.6 1.3,3.3 1.6,3.3 0.7,3.5 1.9,3 2.5,2.6 2.3,2.8 1.8,3.1 M521.6,664.9 l -1.8,5.5 -0.2,5.8 1.6,5.5 0.4,5.8 M497.5,695.6 l -0.9,1.8 M778.7,707.8 l 2.6,5.3 4.4,3.9 M778.7,707.8 l 2.2,-2.1 1,-2.9 1.5,-2.7 2.3,-2 M785.7,698.1 l 4.3,3.4 5.2,1.9 M785.7,717 l 2,-0.2 M787.7,716.8 l 2.7,-1.4 2.6,-1.7 1.5,-2.8 1.7,-2.6 M795.2,703.4 l 1,4.9 M769.1,708.7 l 4.8,-0.4 4.8,-0.5 M784.6,691.5 l 0.1,3.4 1,3.2 M806.6,695.4 l -3.6,0.6 -2.8,2.3 -2.8,2.3 -2.2,2.8 M799.7,710.8 l -3.5,-2.5 M830.5,697.8 l 0.6,0.4 M831.1,698.2 l -1,3.9 0.8,3.9 -0.8,3.8 0.1,3.9 M818.4,713.6 l 5,-0.1 4.7,1.7 M830.2,713.7 l -2.1,1.5 M844.3,719.3 l 0.2,-5.1 -1.9,-4.6 -0.8,-5 1.6,-4.8 M831.1,698.2 l 2.9,1.4 3.2,0.1 3.1,-0.7 3.1,0.8 M844.3,719.3 l -1.2,0.4 M830.2,713.7 l 3.6,0.5 3.3,1.7 3.4,1.2 2.6,2.6 M818.4,720.4 l 4.4,1.5 3.8,2.7 M828.1,715.2 l -1.8,4.6 0.3,4.8 M815.5,723.3 l -0.1,1.1 M815.4,724.4 l 1.8,4.6 M817.2,729 l 3.6,1.2 M820.8,730.2 l 2.4,-3.2 3.5,-2.1 M826.6,724.6 l 0.1,0.3 M873.9,699.4 l -3.3,4.5 M873.9,699.4 l -1.7,-3.7 -1.5,-3.8 -2.3,-3.4 -2,-3.5 -2.4,-3.6 -2.7,-3.1 -0.7,-4.2 -0.6,-4.1 M870.6,703.9 l -4.2,0.9 -4,1.3 M862.4,706.1 l -4.1,-1.8 -3.6,-2.7 -4.2,-1.5 -4,-1.9 M846.5,698.2 l 1.1,-3.7 2.7,-2.8 1.6,-3.4 0.4,-3.8 0.7,-3.7 0.3,-3.8 2,-3.2 1.8,-3.3 M860,670 l -2.9,0.5 M886.8,698.2 l -3.3,0.2 -3.1,0.8 -3.2,0.9 -3.3,-0.7 M876.9,726.2 l -1.2,-5.7 -1.8,-5.5 -0.6,-5.9 -2.7,-5.2 M869.8,662.2 l -1.6,2.9 -2.7,1.7 -2.7,1.8 -2.8,1.4 M857.5,715.1 l 2.2,-4.6 2.7,-4.4 M844.3,719.3 l 4.4,1.5 M843.4,699.8 l 3.1,-1.6 M843.7,667 l 3.3,1.4 3.1,1.8 3.5,0.8 3.5,-0.5 M814.3,757.3 l -0.4,-4.1 -1.3,-3.9 1.2,-4 -0.7,-4.2 M806.6,756.3 l -1,-2.9 -2,-2.4 -1.4,-2.8 0,-3.1 M802.2,745.1 l 5.2,-2.7 5.7,-1.3 M825.6,740.9 l -2.5,-1.2 M826.4,755.5 l 0.2,-3.7 -1.3,-3.5 -0.1,-3.7 0.4,-3.7 M823.1,739.7 l -4.8,1.3 -5,-0.2 M813.1,741.1 l 0.2,-0.3 M770.7,726.8 l 3.3,0.7 3.3,0.6 M775,746.4 l 2.2,-4.5 4.1,-2.8 M781.3,739.1 l -2.4,-5.4 -1.6,-5.6 M785.7,717 l -1.5,4.8 -3.3,3.8 M780.9,725.6 l -3.6,2.5 M798.9,498.3 l -3,4.3 M798.9,498.3 l 3.1,0.6 3.2,0.4 2.6,1.7 2.8,1.4 3,-1.1 3.1,-0.7 3.1,0.9 3.2,0.2 3,-0.7 2.7,-1.5 3,-0.7 3.1,-0.1 2.8,-1.2 2.8,-1 3.1,-0.6 2.5,-1.9 M846,494 l -1.8,4.1 -0.8,4.4 -2.1,4 -3.2,3.1 1,4.3 -0.9,4.4 -0.4,4.4 -1.2,4.3 M801.1,463.9 l -2.2,3.9 -1.2,4.3 -0.5,4.4 0.6,4.5 1.7,4.1 0.9,4.4 0.1,4.5 -1.6,4.3 M790,507.4 l 2.6,-2.8 3.3,-2 M847.5,492.5 l -1.5,1.5 M836.7,528.3 l -0.1,-1.3 M728.4,713.5 l -4.1,-3.9 -2.8,-4.8 M696.3,724.8 l -0.8,-5.1 -1.8,-4.7 -2.4,-4.6 -4.1,-3.2 M707.1,656.7 l -0.4,5.8 -1.7,5.5 -3,4.8 -3,5 M733.1,679.8 l -4,3.6 -5.2,1.7 M699,677.8 l 3.3,1 3.2,1 2.2,2.6 3,1.8 3.4,0.5 3.1,1.6 3.2,-1.3 3.5,0.1 M723.9,685.1 l 0.5,5 0.2,5.1 -0.5,5.1 -2.6,4.5 M572,538.4 l 0.4,3.4 1,3.3 0.7,3.5 2.2,2.8 3,1.9 2.2,2.8 0.9,3.4 1.8,3.1 M594.7,538.4 l 0,5.9 1,5.9 M584.2,562.6 l 4,-1.7 3.1,-3.3 2.9,-3.3 1.5,-4.1 M628.9,561.9 l -4,4.2 -2.8,5.2 -2,5.5 -4,4.4 M618.3,550.3 l -4.7,1.1 -3.7,3 M616.1,581.2 l -3.6,-1.3 -3.2,-2.2 -3.5,-1.7 -2.5,-3 M603.3,573 l -0.1,-5.1 1.1,-5 2.5,-4.5 3.1,-4 M595.7,550.2 l 3.7,0.7 3.5,1 3.8,0.6 3.2,1.9 M584.2,562.6 l -0.7,4 M546.4,548.2 l 4.6,3.2 2.9,4.8 1.4,5.3 2,5.1 M557.3,566.6 l 3.2,-0.9 3.4,0.1 3.2,0.5 3.3,0.2 3.2,0.9 3.4,-0.2 3.3,-0.2 3.2,-0.4 M530.7,595 l 5.5,-1.2 4.8,-3.2 5.5,-1.7 5.7,0.5 M557.3,566.6 l -1.7,5.6 -2.7,5.4 -1.3,2.8 -0.1,3 0.3,3 0.4,3 M603.3,573 l -3.7,-1.9 -4.2,0.1 -3.7,1.5 -4.1,0.4 M583.5,566.6 l 2.8,2.7 1.3,3.8 M644,581.9 l -2.9,3.2 -3.8,1.9 -3.6,2.3 -3,2.9 M651.6,610.6 l -5.4,-0.5 -5.4,0.6 M630.7,592.2 l 0.4,5.5 2.8,4.7 3.5,4.1 3.4,4.2 M616.1,581.2 l 0.6,4.1 1.9,3.7 M630.7,592.2 l -2.7,-1.8 -3.1,-0.8 -3.2,0 -3.1,-0.6 M649.9,648.1 l -3.8,-1.5 -3.9,-1.6 -4.1,-0.9 -3.2,-2.7 -2.7,-3.4 -3.9,-1.8 -1.5,-3.9 -2.6,-3.4 M650.5,650.1 l -2.4,2.1 -2.2,2.5 -1.4,2.9 -1.3,2.9 -1.5,2.9 -2.4,2.3 -1.8,2.7 -1.2,2.9 M616.2,659.3 l 2,3.9 2.5,3.5 M616.2,659.3 l -0.2,-3.9 0.7,-3.8 0.5,-3.8 1.6,-3.6 0.5,-3.8 1.1,-3.7 0.9,-3.7 0.5,-3.8 M621.8,629.2 l 2.4,-0.3 M576.4,711.2 l 3.4,-1.4 3.6,0.4 3.5,-0.7 3.5,-0.1 M576.4,711.2 l -1.7,4.2 -2.9,3.5 -2.3,3.9 -3,3.3 M566.5,726.1 l 1.9,2.7 0.4,3.3 0.7,3.2 2,2.7 -0.2,3.2 0.3,3.2 -0.3,3.3 1.3,3.1 M573.7,770 l -0.6,-3.3 -0.7,-3.3 -1.8,-2.8 -2.3,-2.6 M572.6,750.8 l -2,3.7 -2.3,3.5 M554.7,786.9 l 3.1,3.8 4.5,2.1 M562.3,792.8 l 1.5,-3 2.6,-2 1.5,-2.9 0.8,-3.1 1.2,-3.1 1.7,-2.7 1.2,-2.9 0.9,-3.1 M548,764.8 l 3.9,-3.1 4.3,-2.7 M568.3,758 l -3,0.8 -3,-0.5 -3.1,0.4 -3,0.3 M494.1,826.4 l 3.8,-0.2 3.8,-0.9 3.5,-1.6 3.6,-1.4 3.9,-0.3 3.8,0.3 3.6,-1.5 4,0.1 M527.5,808 l -1,3.2 -0.7,3.3 -0.5,3.3 -1.2,3.1 M568.8,851.2 l -4.5,-2.4 -3.7,-3.5 -2.3,-4.5 -3.6,-3.6 M517.2,722.6 l 3.4,-1.6 2.6,-2.6 2.5,-2.7 2.2,-2.9 M517.2,722.6 l 1.1,3.5 -0.5,3.7 1.9,3 1.1,3.5 2.4,2.6 1.6,3.2 2.3,2.8 0.8,3.5 M527.9,748.4 l 3,-0.7 2.7,-1.4 2.6,-1.7 3,-0.7 2.6,-1.6 2.4,-1.9 2.1,-2.2 2.2,-2.1 M551,732.4 l -2.5,3.7 M507.8,722.7 l 4.7,0.4 4.7,-0.5 M521.6,687.5 l 3,3 3.6,2.4 2.1,3.7 1.7,3.9 M532,700.5 l -1.2,3.1 0.1,3.3 -1.9,2.8 -1.1,3.1 M524.8,759.5 l 2.9,-5.2 0.2,-5.9 M532,700.5 l 3.3,0.1 3.1,-1.4 3,-1.3 3.3,0 3.3,-0.8 3.3,0.8 3.2,-0.5 3.1,-1.2 M557.6,696.2 l 2.4,2 2.7,1.5 3,0.7 2.7,1.5 2.3,2.1 2.4,2 1.7,2.6 1.6,2.6 M566.5,726.1 l -3.2,2.9 -4.2,1.3 -4,1.3 -4.1,0.8 M628.6,814.6 l -5.1,-1 -4.9,-1.8 -5.2,-1.2 -4.7,-2.2 M842.3,720.6 l -3.7,0.4 -3.2,1.8 -3.6,1.1 -3,2.1 M842.3,720.6 l 0.3,4.5 -2,4.1 -2.2,3.8 -1.6,4.1 M828.8,726 l 2.6,5.3 2,5.5 M836.8,737.1 l -3.4,-0.3 M843.1,719.7 l -0.8,0.9 M826.7,724.9 l 2.1,1.1 M842.4,741 l -3.1,-1.6 -2.5,-2.3 M823.1,739.7 l -0.9,-4.8 -1.4,-4.7 M825.6,740.9 l 4,-1.9 3.8,-2.2 M789.7,756.4 l 1,-4.7 1.4,-4.7 M802.2,745.1 l -1,-0.5 M801.2,744.6 l -4.4,1.7 -4.7,0.7 M781.3,739.1 l 3.4,0.2 3.3,1.1 M792.1,747 l -1.6,-3.6 -2.5,-3 M790.9,729.6 l -0.2,5.5 -2.4,4.9 M790.9,729.6 l -4.8,-2.4 -5.2,-1.6 M788,740.4 l 0.3,-0.4 M788.3,740 l 5.3,-2.2 4.9,-2.9 M790.9,729.6 l 2.9,-1 M793.8,728.6 l 3.1,2.6 1.6,3.7 M787.7,716.8 l 4.7,2.6 4.2,3.5 M793.8,728.6 l 0.7,-3.2 2.1,-2.5 M801.2,744.6 l -0.3,-4.6 -0.3,-4.5 M798.5,734.9 l 2.1,0.6 M799.7,720.1 l -1.7,2.5 M796.6,722.9 l 1.4,-0.3 M671.2,656.1 l 3,2.7 2.5,3.4 1.6,3.7 1.3,3.9 1.6,3.7 0.5,4 1.1,4 -0.6,4.1 M699,677.8 l -4,2.3 -4.5,0.7 -3.5,2.8 -3.6,2.8 M682.2,685.6 l 1.2,0.8 M636.3,671.3 l 3,4.1 1.2,4.8 3.6,3.4 2.5,4.2 M682.2,685.6 l -4.3,-1.5 -4.6,-0.2 -4.5,0.3 -4.5,0.3 -4.6,-0.3 -4.5,0.6 -4.6,0.6 -4,2.4 M687.2,707.2 l -0.5,-0.4 M683.4,686.4 l 0.5,5.3 -1.1,5.3 2.6,4.6 1.3,5.2 M686.7,706.8 l -4.4,2.9 -2.9,4.3 -4.3,3.3 -5.2,0.7 M652.5,755.8 l -0.5,-4.4 0.9,-4.4 -0.5,-4.4 -0.6,-4.4 0.2,-4.5 -0.9,-4.4 1.2,-4.3 0.2,-4.5 M669.9,718 l -4.5,-0.2 -4.4,0.3 -4.2,1.2 -4.3,1.2 M602.3,675.6 l 5,-1.6 5.3,-0.5 4.5,-2.8 3.6,-4 M616.2,659.3 l -3.9,-0.5 -3.8,-0.6 -3.3,-2.2 -4,-0.6 M601.2,655.4 l -2.5,2.1 -1.3,3 -0.3,3.2 -1.1,3 M587.6,573.1 l -1,2.9 -0.3,3 -0.2,3.2 -1.6,2.7 M618.6,589 l -3.8,4 -4.6,2.9 -1.9,5.2 -3.4,4.3 M584.5,584.9 l 3.3,1.7 3,2.1 2.2,3 2.4,2.8 3.1,2.1 3.1,2.1 1.7,3.3 1.6,3.4 M621.8,629.2 l -4.8,-2 -4.6,-2.7 -5,-1.7 -5,-1.5 M600.6,654.7 l 0.6,0.7 M595.3,624.6 l 4,-0.8 3.1,-2.5 M602.4,621.3 l 2.1,-3.6 0.4,-4.1 0.7,-4.1 -0.7,-4.1 M546.3,652.6 l 1.8,2.7 1.1,3.2 2.2,2.4 2.4,2.3 M557.6,696.2 l -1.2,-5 1.1,-5.1 0.7,-5 -0.3,-5.1 M553.8,663.2 l 0,3.5 0.5,3.4 1.7,3 1.9,2.9 M590.6,821.4 l 2.8,-4.8 M593.4,816.6 l -3,-2.1 -3.5,-1.3 -3.1,-2.3 -1.8,-3.3 -1.5,-3.3 -1.3,-3.5 -2.3,-2.8 -2.5,-2.7 M560,824.8 l 0.1,-4.4 -1.1,-4.2 -0.9,-4.3 -2,-3.9 M556.1,808 l 1.7,-3.8 2.3,-3.4 0.3,-4.2 1.9,-3.8 M562.3,792.8 l 3.1,0.8 3.1,-0.2 2.7,1.7 3.2,0.2 M593.1,836 l -1.8,-3.4 0,-3.8 0.6,-3.8 -1.3,-3.6 M608.7,808.4 l -3.6,2.5 -3.6,2.5 -4.1,1.6 -4,1.6 M554.7,837.2 l 1.5,-3.1 0.7,-3.3 1.9,-2.8 1.2,-3.2 M527.5,808 l 3.8,-0.2 3.3,-1.8 3.6,1 3.6,0.7 3.8,0.2 3.3,1.7 3.6,-0.6 3.6,-1 M562.3,792.8 l 0,0 M803.9,727.2 l -0.3,3.4 -0.8,3.4 M803.9,727.2 l 3.1,-1 M808.4,726.7 l -1.4,-0.5 M808.4,726.7 l 1.8,3.1 2.1,2.8 M802.8,734 l 4.1,1.3 4.2,0.9 M812.3,732.6 l -1.2,3.6 M798,722.6 l 3.4,1.8 2.5,2.8 M800.6,735.5 l 2.2,-1.5 M808.9,718.8 l 0,3.9 -1.9,3.5 M815.4,724.4 l -3.4,1.4 -3.6,0.9 M817.2,729 l -2.4,1.9 -2.5,1.7 M813.3,740.8 l -2.2,-4.6 M649.8,718.8 l -0.6,-5.1 -1,-5.1 -3.2,-4 -2.8,-4.3 M649.8,718.8 l -3.2,1.3 -3.4,0.4 -3.5,0.2 -3.1,1.7 -2.8,2 -3,1.6 -2.7,2.1 -3.1,1.6 M642.2,700.3 l -4.7,1.3 -4.3,2.1 -4.8,0.7 -4.7,1.3 -4.8,-1.1 -4.9,0.5 -4.7,1.4 -4.7,1.4 M625,729.7 l -2.8,-2.6 -3.4,-1.9 -3.4,-1.8 -3.1,-2.2 -1.9,-3.4 -1.3,-3.6 -2,-3.4 -2.6,-2.8 M604.5,708 l 0.1,-0.1 M646.6,687.8 l -2.2,2.6 -1.5,3.1 0.3,3.4 -1,3.4 M652.5,720.5 l -2.7,-1.7 M590.4,709.4 l 2.2,-1.5 M592.6,707.9 l 2.9,-0.8 3.1,-0.5 3,0.6 2.9,0.8 M602.3,675.6 l -0.3,5.9 -2.7,5.3 -4.3,4.1 -2.4,5.5 M592.6,696.4 l 0.2,5.7 -0.2,5.8 M563.2,596.1 l 5.2,0.6 M563.2,596.1 l 0.6,4.7 -1,4.7 -0.9,4.6 -0.5,4.6 -2.2,4.3 -3.6,3.2 -1.6,4.5 -1.2,4.6 M568.4,596.7 l 2.1,4 3.3,3.1 0.4,4.5 2.4,4 3.2,2.9 3.1,3.3 2.2,3.9 3.3,2.9 M588.4,625.3 l -3.3,2.6 -3.5,2.1 -3.9,1.7 -2.8,3.2 M574.9,634.9 l -5.3,0.8 -5.4,-0.2 -4.8,2.5 -5.2,1.1 M554.2,639.1 l -1.1,-3.8 -0.3,-4 M552.2,589.4 l 2.9,1.7 3.4,0.3 2.4,2.3 2.3,2.4 M584.5,584.9 l -2.8,4.4 -4.4,2.7 -4.7,1.8 -4.2,2.9 M530.7,595.9 l 4.5,3 3.8,3.8 3.2,4.3 2.6,4.7 3.6,4.1 2.8,4.8 0.4,5.4 1.2,5.3 M595.3,624.6 l -3.4,0.5 -3.5,0.2 M586.4,656 l 3.5,-1.1 3.6,-0.1 3.5,0.6 3.6,-0.7 M548.7,645 l 2.2,-3.4 3.3,-2.5 M575.8,663.2 l -5.5,0.7 -5.5,0.3 -5.5,-1 -5.5,0 M578.7,666.2 l 1.9,4.2 0.4,4.6 M590.4,667.2 l -3.3,-4.4 M590.4,667.2 l -2.1,5.6 -4.4,4 M583.9,676.8 l -2.9,-1.8 M557.9,676 l 5.8,-1.2 5.7,-1.9 3,0.4 3,-0.8 2.7,1.5 2.9,1 M575.8,663.2 l 2.9,3 M586.4,656 l 0.4,3.4 0.3,3.4 M596,666.7 l -5.6,0.5 M592.6,696.4 l -2.6,-4.8 -3.3,-4.3 -1.3,-5.2 -1.5,-5.3" fill="none" stroke="#000" stroke-width="1.9" stroke-linecap="round" stroke-linejoin="round"/>
<path d="M548.8,421.2 l 3.5,0.2 3.2,1.6 3.6,0 3.4,0.8 3,1.9 2.5,2.6 3.4,1.3 3.6,0.4 2.8,-1.8 3.3,-0.7 3.2,-0.6 3.2,-0.7 3.6,0.5 3.5,-0.5 3.1,-1.9 3.5,-0.5 -0.3,4 0.2,4.1 0.7,4.1 0.7,4 -2.1,2.3 -2,2.4 -1.3,2.9 -2.1,2.4 -3.1,1.5 -3.4,0.4 -2.9,1.8 -3.1,1.3 -3.1,3.3 -1.9,4.2 1.1,3.8 1.4,3.7 -2.7,1.6 -2.3,2.1 -2.5,1.9 -2.5,1.9 -2.2,5.1 -2.8,4.9 -3.3,0 -2.9,-1.4 -3.2,-0.3 -3.1,-0.8 -4.4,3.6 -5.6,1.4 -1.6,-2.9 -2.5,-2 -2.9,-1.5 -3,-1.1 -2.9,-3.6 -3.9,-2.4 -2.6,-3.6 -1.9,-4.1 4.4,-3.9 3.2,-4.9 3.5,-0.8 3.5,-1.2 3.5,-1.1 3.2,-1.9 3.6,-1.1 3,-2.2 3.6,-0.8 3.5,-0.9 3.6,-3.4 2.7,-4.1 -1.3,-4.1 -2.4,-3.4 -4.7,-2 -4.1,-3 -0.8,-4.3Z" fill="#92c5de" stroke="#000" stroke-width="1.7" stroke-linejoin="round"/>
</g>
<path d="M598.1,15 l 3.6,3.9 3.1,4.4 4.4,2.2 4.6,1.6 4.3,2.5 3.3,3.7 2.6,2.4 2.3,2.7 3,2 2.1,2.9 2.6,2.5 1.5,3.3 2.2,2.9 2,2.9 2.1,3.4 0.9,3.9 0.3,3.8 0.1,3.9 1.3,5.1 -0.2,5.2 2.5,4.7 1.4,5 -1,4.1 0.5,4.2 0.1,4.2 0.4,4.2 0.6,4.3 2.2,3.9 1.8,4 0.3,4.4 1.1,3.5 0.5,3.5 2.2,2.9 1.2,3.4 2.9,2.8 2.3,3.3 1.1,3.8 2.1,3.5 1.2,4.1 1.5,4 0.1,4.2 0.5,4.3 1.4,5 1.6,4.9 1.9,4.8 0.1,5.3 3.2,2.5 2.1,3.5 2.6,2.4 3,2 2.3,2.7 2.1,2.9 3.2,2.4 3.4,2.1 3,2.7 2.9,2.8 5,2.1 5.3,0.8 4.7,2.7 5,1.9 4.5,1.2 4.6,1 4.2,2.1 4.2,1.9 3.2,3.1 3.6,2.5 4.3,1.2 3.9,2 2.4,4 1.2,4.5 3.3,3.1 3.1,3.4 2,3.7 1,4.2 2.3,3.5 2.2,3.6 3.5,2.5 3.8,2 2.2,3.6 3,3.1 2,3 2.9,2.2 2.7,2.2 2.4,2.6 2.6,1.9 2.8,1.7 2.9,1.5 2.9,1.2 -4.9,2 -5.1,1.7 -2.6,5.4 -1.1,5.9 0.4,3.3 0.4,3.3 1.3,3 1.6,2.9 2.6,3.6 3.1,3.1 1.3,4.3 1.8,4 1.2,4.5 2.3,4 3.5,3 3,3.5 3.1,3.8 3.5,3.4 3.7,3.3 2.2,4.5 2.6,5 2.4,5 -0.8,3.3 -1.7,2.9 -2.8,-1.4 -2.2,-2.3 -5.3,-1 -4.7,-2.7 -3.2,-1.5 -2.7,-2.3 -3.4,-0.9 -3.2,-1.6 -2.3,-2.1 -2.9,-1.4 -2.7,-1.6 -2.1,-2.4 -4.4,-1.4 -4.3,-1.6 -5.7,1.1 -5.6,1.4 5.5,1.4 5.8,-0.4 4,2.8 4.7,1.7 2.4,2.4 2,2.7 2.8,1.7 2.8,2 3,2.1 3.5,1.2 2.6,2.7 3.4,1.4 4.4,1.8 3.9,2.8 3.7,3 3,3.7 2.9,2.8 2.8,2.9 2,3.5 2.3,3.3 2.9,3.1 1.6,4 1.6,3.9 1.4,4 2,3.7 2.1,3.6 1,4.2 2.4,3.5 0.3,3.8 0.4,3.8 0.7,3.7 1.1,3.7 -0.3,3.2 -1.4,3 -0.9,3.1 0.1,3.2 -3.1,4.7 -1.9,5.3 -1.8,3.6 -0.7,3.9 -5.4,2.5 -4.6,3.7 3.2,1.8 3.1,2 2,4.3 1.7,4.5 4.5,-0.1 4.2,1.3 1.7,4.5 2.1,4.3 0.5,-4.6 2,-4.2 1.3,-3.4 2.4,-2.8 1.3,-4 2.3,-3.4 2.4,-3.4 2.8,-3 3.3,-2.3 3.9,-0.9 3.8,-0.8 4,0.2 5.6,-1.2 5.6,-0.5 5.8,-0.2 5.5,1.9 5.5,1.5 5.7,0.9 5.6,-1.4 5.7,0.3 5.1,0.1 5.1,0.8 5,1.2 4.8,1.6 5.1,2.2 5.6,0.7 4,3.9 5.3,2 4.4,2.7 4.4,2.8 4.8,2.2 3.9,3.5 4.4,2.3 4.1,2.8 3.6,3.4 2.9,4.1 1.6,3.4 0.6,3.8 2.7,2.9 1.4,3.6 -0.6,4.4 -0.4,4.5 1.7,4.1 0.5,4.5 1.2,5 1.3,5 -0.6,4 -0.5,4 -2.6,3.1 -1.3,3.9 -1.6,2.9 -1.2,3.1 -0.2,3.3 -0.7,3.2 -0.4,3.3 -1.2,3 -1.4,3 -0.8,3.2 -0.5,3.4 -1,3.4 0.4,3.5 -0.3,3.4 -1.4,3.3 0,3.6 -0.4,3.4 0.7,3.5 -3.7,1.7 -3.2,2.5 -3.1,2.6 -2.5,3.2 -3.4,3.5 -3.4,3.6 -4,2.9 -4.2,2.5 -2.1,2.3 -2.9,1.5 0.8,4.3 -0.8,4.4 -1.4,2.8 -1.9,2.5 -2.3,2.2 -1.9,2.5 -3.4,1.1 -3.4,0.9 -3.2,1.6 -2.5,2.7 -4,0.5 -3.5,1.9 -5,-1.2 -0.9,5 0.9,5 -0.4,5 -0.9,5 5.7,0 5.6,1.2 -1.3,2.9 -1.9,2.6 -1.9,2.5 -2.4,2 -3.9,3.6 -3.6,4 -5.4,1.6 -4.6,3.4 -3.2,-0.1 -3.1,-0.2 -3.2,0.6 -3,0.9 -5,2.5 2.1,3.4 2.9,2.9 3.9,0.5 3.9,0.1 3.3,2.1 3.9,1 2.1,2.4 2.5,1.9 2.7,1.6 2.7,1.6 2.7,1.6 2.3,2.2 3.2,-0.5 3.2,-0.1 3.2,-0.6 2.9,-1.4 3.9,0 3.8,0.2 3.6,-1.5 3.7,-1.1 3.1,0 2.9,0.9 3,-0.5 3.1,0.4 3,-0.8 2.6,-1.7 3.1,0 2.9,-0.9 1.3,4.3 0,4.5 -3.5,2.1 -2.8,2.9 -0.3,3.9 0.2,3.8 1.5,3.6 1.2,3.7 -0.1,3.8 0.1,3.7 -2.5,4.8 -3.8,3.9 -3.9,1.4 -3.1,2.6 -4,0.3 -4,0.7 -3.8,3.1 -3.7,3.2 -5.3,1 -4.7,2.7 -1.9,2.7 -1.1,3.1 -2,2.5 -1.2,3 -0.1,5.1 -1.2,4.9 -5,0.5 -5,-0.5 -4,-2.2 -3.5,-2.8 -3.6,2.5 -3.4,2.7 -3.8,2.1 -4.2,1.4 -3.3,2.9 -4.1,1.8 -4.1,1.4 -3.5,2.7 -4.3,1.3 -4.3,1.1 -4.5,0.5 -4.4,0.9 -2.8,1.8 -2.9,1.7 -2.6,2.2 -1.7,3 -3.8,3.7 -3.7,3.8 -5,-1.2 -3.7,-1.3 -3.8,-1.3 -5,-1.2 -5,-1.2 -3.4,-0.6 -3.3,-0.7 -3.2,-1.5 -2.6,-2.2 -3.9,-0.1 -3.7,0.9 -3.9,-0.6 -3.5,-1.5 -3.1,-0.2 -3.1,0.3 -3.2,-0.1 -3.1,0 -4.3,1.2 -4.3,1.3 -4.5,0.5 -4.4,0.7 -5.1,0.9 -5,-0.7 -5,1 -4.9,1.4 -3.7,1 -3.8,0.2 -4.8,2.9 -5.2,2.1 -2.5,3.8 -3.4,-3.6 -4.1,-2.7 -3.1,-0.7 -3.1,-0.6 -3.1,-0.9 -3.2,-0.3 -5,-0.8 -5,0.8 -3.7,0.7 -3.8,0.5 -4.9,-1.4 -5.1,-1 -3.7,-1.9 -3.8,-1.9 -5,-3 -2.7,2.1 -2.3,2.5 -2.5,2.4 -2.5,2.2 -5,3.1 -5,3.2 -3.7,2.5 -3.8,2.5 -2.8,-1.7 -3.1,-1.3 -3.3,-0.9 -3.3,0.2 -5.1,-0.3 -4.9,1.5 -4.9,1.7 -5.1,0.8 -5,1.1 -5,1.4 -1.9,3.5 -0.6,4 -1.2,4.3 -0.1,4.4 -4.1,1.9 -4.6,0.7 -3.3,-0.8 -3.3,-0.8 -3.3,-1.2 -2.6,-2.2 -3.2,0.2 -3.2,-0.9 -3,-1.1 -3.1,-0.8 -3.1,-0.8 -3.2,0.1 -3,0.8 -3.2,-0.1 -3.8,0.4 -3.7,0.9 -0.9,4.3 -0.4,4.4 1.1,3.1 0.2,3.2 -3.7,1.3 -0.4,-5.9 -2.2,-5.4 -2.4,-4.3 -3.8,-3.2 -3,-2.8 -3.8,-1.5 -3,-2.7 -2.7,-3 -3.5,-2.3 -4,-0.8 -3.5,-2.1 -4,-1 -3.8,0.2 -3.8,0.1 -3.7,-0.8 -3.7,-0.8 -3.6,2.7 -3.9,2.3 -3.3,1.3 -3.5,0.8 -3.6,-0.1 -3.6,0.5 -3.6,1.6 -3.5,1.7 -4,0.3 -3.9,0.2 -3.1,3.1 -3.6,2.7 -4.2,1.2 -4.1,1.7 -3.8,0.6 -3.7,0.7 -1.4,3.5 0.1,3.8 -2.2,3 -1.5,3.4 -0.4,3.9 -1.6,3.5 0.7,3.8 0,3.8 -1.3,3 -0.7,3.2 -1.9,2.7 -2.3,2.4 -5,2.4 -1.9,4.8 -3.1,4 -1.6,2.7 -0.7,3 -1.7,2.6 -1,2.9 -4.9,1.8 -5.1,0.8 -5.2,-0.6 -4.8,-2 -2.6,-3.6 -3.6,-2.6 -4.3,-3.2 -4.5,-3 -4.8,-2.3 -5.2,-1.5 -5.3,-1.1 -4.7,-2.7 -3.6,1.3 -3.9,0 -5,1.3 -3.5,-3.5 -4,-2.8 -3.8,0.4 -3.7,-0.8 -3.7,-1.1 -3.8,0.2 -3.9,0.3 -3.7,1.2 -3.5,1.8 -3.9,0.5 -3.5,0.1 -3.3,-1.1 -3.4,0 -3.3,1 -5,0.7 -5,0.5 -1,4.5 -1.5,4.3 -2.6,3.1 -2.4,3.1 -3.2,0.8 -3.4,0.1 -2.7,1.9 -3.2,1 -3.8,2.5 -3.7,2.5 -2.5,4.5 -1.3,-3.8 -0.1,-4 -0.5,-4 0.6,-3.9 -2.4,3.7 -0.3,5.8 -2.3,5.5 -0.8,3.2 -1.6,3 -5.6,1 -5.7,0.2 3,0.6 3.1,-0.1 3,0.4 2.9,0.9 0.5,5.8 -2.5,3.7 -2.5,3.7 -3.5,2.4 -4,1.4 -2.4,2 -2.6,1.8 -3.6,-1.9 -2.7,-3.1 -1,-4.4 -0.2,-4.4 -3.1,-2.6 -1.9,-3.6 -4.8,-3 -5.2,-2 -5,-1.4 -5,-1.2 -2.9,2.3 -3.3,1.5 -1.9,2.5 -1.9,2.5 -2.9,0.9 -3.1,0 -2.8,1.1 -2.4,1.8 -2.6,-2.5 -2.4,-2.5 0.6,-5.1 0.6,-4.9 4.3,-3.3 3.2,-4.3 3.1,-1.5 3,-1.6 3.3,-1.1 3.1,-1.5 4.2,1.6 4.6,-0.1 4.1,-3.2 4.6,-2.6 3.4,-0.5 3.2,-1.1 3,-1.5 2.9,-1.9 3.6,-3.8 3.9,-3.6 3.5,-4 4,-3.6 1.3,-3.4 2.5,-2.8 4,-3.1 4.7,-1.9 0.6,-4.2 -0.1,-4.2 1.2,-4.1 2,-3.7 2.4,-2.1 2.9,-1.2 3.1,-0.5 2.9,-1.2 3.3,-0.3 3.2,-0.7 2.9,-1.7 3.1,-1.1 3.5,-2.9 4,-2.1 1.5,-4.5 2.2,-4.3 2.6,-1.9 3,-1.3 2.8,-1.5 2.9,-1.5 3.1,-2.9 1.8,-3.9 3.6,-2.3 2.5,-3.4 -0.7,-4.4 0.2,-4.4 0.5,-4.4 -1.3,-4.3 0.7,-4.5 1.2,-4.4 0.7,-4.6 2.4,-4 3.5,0.1 3.5,0.2 3.4,0.5 3.4,0.5 5.1,0.6 4.9,1.8 5,-3.1 5,-3.1 -1.6,-4.2 -0.8,-4.4 -0.1,-4.6 1.3,-4.3 1.6,-4.5 2.1,-4.2 3.9,-2.6 4.5,-0.9 4.5,-0.5 4.6,0.2 4.1,-0.6 4,-0.6 4.1,-0.5 3.9,-1.3 4.1,0.7 4.1,0.1 4.1,0.5 4.1,-0.8 5.7,0 5.6,0.8 5.4,1.9 5.8,-0.2 4.5,1 4.6,0.3 4.1,2.1 4.3,1.6 3.2,0.5 3.3,-0.4 2.8,1.7 3.2,0.7 3.2,-0.5 3.1,-1.1 3.3,-0.7 2.9,-1.4 3,-1.4 3,-1.4 3.2,-0.5 3.3,-0.5 5.2,-1.4 -3,-2.9 3.7,-3.7 2,-3.8 0.9,-4.2 1.9,-3.5 1,-3.8 -3.2,1 -3.2,1.2 -3.1,1.4 -2.5,2.3 -0.7,-3.2 -1.1,-3 3.8,-2.4 4.2,-1.6 3.2,-3.3 4.1,-1.9 2.5,-2.6 2.8,-2.3 2.9,-2 3.5,-1.1 4.7,-2 4,-3.1 3.7,-1 3.7,-1.1 2.1,-2.4 1.9,-2.6 -3,2.8 -3.5,0.7 -3.5,1 -4.3,1.3 -4.3,-1.1 -4.4,-0.5 -4.4,0.7 -4.4,0.7 -4,2.7 -4.8,1 -3.2,2.2 -2.6,2.9 -2.5,2.3 -1.9,2.8 -0.4,3.2 -0.3,3.3 -4.8,0.3 -4.7,0.5 -5.5,0.2 -5.5,1 -4.5,1 -4.5,-0.5 -3.5,-1.7 -3.2,-2.3 -3.9,-0.8 -3.4,-1.9 -2.5,-2.3 -2.9,-1.7 -2.6,-2.1 -2,-2.7 -1.8,-2.9 -2.8,-2 -2.7,-1.9 -2.7,-2 -4,-4.1 -3.5,-4.6 -3.8,-2.5 -3.7,-2.5 -5,-0.4 -5,0.4 -4,1 -3.8,1.3 -3.7,1.8 -3.5,2.2 -3.6,1.4 -3.8,0.4 -3.8,0.1 -3.8,-0.7 -5.5,-1.8 -5.7,-0.7 1,-3.9 1.7,-3.6 3.9,-3.6 3.6,-3.9 -5.5,-1.5 -4.5,-3.5 -3,-1.2 -2.7,-1.7 -2,-2.4 -2.3,-2.2 -3.1,-0.8 -3.1,-0.3 -3.2,0.2 -3.1,-0.3 -5,-0.1 -5,0.1 -3.7,1.9 -3.8,1.8 -1.2,5.6 -1.3,5.7 -3.2,-0.1 -3.1,1 -3.1,-0.1 -3.1,-0.8 -3.5,0 -3.2,1.3 -2.6,2.4 -3.2,1.3 -3.1,-1 -3.2,-0.2 -3,-1.3 -3.2,-0.1 -2.6,-3.6 -2.4,-3.8 -5.2,-2.1 -4.8,-2.9 -3.1,-1.2 -3.4,0 -3.1,-1 -2.9,-1.6 -1.8,-2.6 -1.9,-2.4 3.3,-1.1 3.3,-1.1 3.6,0.5 3.5,-0.8 4.6,-3.2 5.4,-1.8 -0.6,-5.2 -1.9,-4.8 -3,-1.1 -3.2,-0.2 -3.1,-0.8 -3.2,-0.4 -5.1,-0.7 -4.9,-1.8 3,-2.7 2,-3.6 2.9,-1.8 3.3,-0.7 2.9,-1.8 3.4,-0.7 3.1,-1.6 3.1,-1.5 3,-1.8 3.3,-1.3 0.8,-3.3 1.7,-2.9 3.2,-0.2 3.1,0.4 3,0.9 3.2,0.1 3.1,-1.6 2.7,-2.1 3.4,-0.2 3.3,-1.1 3.9,-2.5 2.8,-3.6 4.3,-1.6 4,-2.3 3.2,-0.7 3.4,-0.2 2.9,-1.6 3,-1.3 3.3,-0.4 2.9,-1.7 3.2,-0.7 3.1,-0.9 2.9,-2.4 3.1,-2.3 3.1,-2.3 3.4,-1.7 3.1,-2.8 3.8,-1.7 4.2,-0.4 3.9,-1.4 2.8,-2.3 1.8,-3.1 2.5,-2.6 2.9,-2 1.6,-3.3 1.6,-3.3 1.8,-3.2 2.5,-2.7 1.4,-3.7 0.1,-3.9 1.7,-3.5 0.6,-3.9 1,-3.7 0.2,-3.8 -1.2,-3.5 -2.2,-2.9 -1.5,-3.4 -2.6,-2.7 2.6,-5 2.4,-5 1.6,-3.6 0.9,-3.9 -2.2,-3 -2.7,-2.6 -1.4,-3.4 -1.2,-3.5 -0.7,-5.1 -1.8,-4.9 -2.2,-4.5 -2.8,-4.3 -3.1,0.9 -3.1,-0.3 -3.1,-0.8 -3.2,0.2 -3.5,2.2 -3.5,2.1 -4,1.2 -4,0.8 -2.1,5.2 -2.9,4.8 -5,2.5 -4.8,-3 -5.2,-2 -3.3,0.7 -3.3,0 -3,1.3 -2.9,1.8 1.1,-2.9 1,-3 1.3,-2.7 1.6,-2.7 2.3,-3.6 3.2,-2.9 3.2,-2.8 3.8,-2 4.1,-1.5 4.1,-1.6 3.1,-3.2 3.7,-2.4 3.2,-1.2 2.5,-2.4 2.1,-2.6 2.2,-2.5 0.2,-4.1 1.2,-3.8 1.2,-3.9 2.4,-3.2 -3.4,-0.9 -3,-1.9 -3.3,-1.4 -2.8,-2.1 -2.1,-2.4 -2.1,-2.2 -1.3,-3 -2,-2.4 -4.8,-3 -5.2,-2 -3.9,-3.6 -3.6,-3.9 3.1,-1 3.1,-1.1 3.1,-1 3.2,-0.7 -0.5,-3.4 0.7,-3.5 0.2,-3.4 0.9,-3.4 3.5,-0.8 3.7,0.2 3.2,-1.6 3.3,-1.5 3.6,1.3 3.8,0.3 3.9,0 3.7,0.8 2.4,2.5 1.9,2.8 1.7,3 1.5,3 5.1,3 4.9,3.3 3,1 3.2,0.1 3.3,-0.1 3,-1 -1.3,3.4 -2.4,2.8 4.6,0.4 4.1,2.1 5.2,-2.1 4.8,-2.9 1.7,-2.9 0.8,-3.4 3.1,1.1 3.2,0.8 3.3,0.3 2.9,1.6 3.1,1 3.2,0 3,1.1 3.2,0.4 3.5,-0.2 3.1,-1.4 2.8,-2 3.1,-1.4 2.8,-1.8 3.2,-1.1 3.2,-0.4 3.3,-0.4 3.2,0.4 3.1,-0.6 3.1,-0.3 3.1,-0.8 2.6,1.7 2.9,1.5 0,-4.2 -0.8,-4.1 -1.2,-4.4 -1,-4.6 5.2,1.3 5.3,1 3.5,-1.8 4,-0.5 4.5,-1.5 -3,-4.5 -1.9,-4 -2.6,-3.5 -2.3,-0.7 2.4,-2.9 2.9,-2.4 1.8,-4.3 0.4,-4.7 0.7,-4.4 0.1,-4.5 -0.7,-3.8 -0.1,-3.7 -0.2,-3.8 1,-3.7 0.3,-4.6 1.2,-4.4 0.6,-4.5 0.1,-4.5 0.1,-5.3 -0.8,-5.2 3.4,-2.9 4.1,-1.6 2.3,-4.3 3.7,-3.2 1.1,-3.4 1.1,-3.4 -5.2,1.5 -3,-2.7 -3,-2.5 -4.5,1.3 -4.5,0.9 -4.3,2.4 -4.7,1.4 -2.9,-3.1 -3.1,-2.9 -3,-3.3 -1.5,-4.2 -1.8,-4 -1.2,-4.3 -2.3,-4 -2.2,-4.2 -1.3,-3.3 -2.5,-2.7 -1.7,-5.2 -2.2,-5.1 -1.5,-4.4 -1.4,-4.5 -3.2,-3.6 -2.3,-4.1 -2.6,-4.1 -4,-2.8 -2.2,-4.3 -2.8,-3.8 1,-4.2 2.6,-3.6 2.3,-3.6 2.4,-3.6 1,-3.3 1.1,-3.2 0.3,-3.5 0.9,-3.3 3.3,-2.7 2.2,-3.6 1.9,-3.8 2.6,-3.2 -1.7,-4.9 0.1,-5.1 2.1,-3.6 2.4,-3.4 3,-3 2.4,-3.3 2.8,-5.1 3.9,-4.3 4.5,1.3 4.6,0.3 4.6,-0.3 4.6,-0.3 3.9,-2.9 4.4,-2 1.8,-4.9 -0.1,-5.1 3.9,-1.5 3.3,-2.4 3.8,-1.8 4,-1 3.3,-2.1 2.9,-2.8 3.4,-2 3.7,-1.4 2.8,-1.2 2.8,-1.3 1.9,-2.3 2.5,-1.9 0.4,-3 0.6,-3 1.4,-2.7 0.9,-2.9 2.7,-2.1 3.1,-1.2 2,-2.6 2.2,-2.5 2.7,-1.9 1.8,-2.8 2.5,-2.2 3,-1.4 4.7,-2.6 5.3,-0.7 2.4,-2.7 2.7,-2.5 3.5,-1.1 3.1,-2 3.2,-4.7 1.8,-5.3 -0.7,-3.8 -2.1,-3.2 -1.4,-3.5 -2.5,-2.9 -2.2,-2.5 -1.5,-3.1 -1,-3.2 -2,-2.8 4,-3.3 4.9,-1.7 4.1,-3.1 3.7,-3.6 1.4,-3 1.6,-3 1.6,-2.9 2,-2.7 3,-3Z" fill="none" stroke="#000" stroke-width="2.1" stroke-linejoin="round"/>
<path d="M655,860 l 4.8,-2.2 5.2,-0.3 4,-2.8 4.4,-2.3 4.9,-1 4.2,-2.6 3.8,1 4,-0.3 3.8,1.1 3.4,1.9 2.9,2.1 3.3,1.3 2.6,2.4 3.2,1.7 -2,2.4 -2.6,1.5 -2.5,1.8 -2.4,1.8 -1.1,3.8 -1.4,3.7 -3.9,1 -4,0 -3.4,1.9 -3.7,1.6 -3.3,-2.4 -2.2,-3.3 -3.6,-1.8 -3.4,-2 -4.7,-3.1 -5.3,-1.9 -5,-0.3 -5,0.8 2,-3.2Z" fill="none" stroke="#000" stroke-width="2.1" stroke-linejoin="round"/>
<polygon points="473.9,746.4 489.2,737.2 500.9,729.2 509.6,724.1 518,721.5 524,724 515.5,726.3 509.6,729.2 503.8,735.8 498,740.9 487.7,746.7 475.7,752.6" fill="#92c5de" stroke="#000" stroke-width="1.3" stroke-linejoin="round"/>
<polyline points="347.5,453.8 355.0,447.5 365.0,440.0 378.8,430.0" fill="none" stroke="#000" stroke-width="2.6"/>
<g fill="#000"><ellipse cx="97" cy="969" rx="6" ry="3.2"/><ellipse cx="101" cy="973" rx="4" ry="3"/><ellipse cx="92" cy="977" rx="4.5" ry="2"/><circle cx="86" cy="981" r="1.5"/><circle cx="104" cy="970" r="2"/></g>
<g fill="#000"><ellipse cx="297.8" cy="775.5" rx="1.8" ry="4"/><circle cx="294.5" cy="514" r="2.2"/><circle cx="227" cy="660" r="2.5"/><ellipse cx="221" cy="657" rx="1.5" ry="3"/><circle cx="231" cy="681" r="2.5"/><circle cx="210" cy="680.5" r="1"/><circle cx="190" cy="682" r="1"/><circle cx="298" cy="699" r="2"/><ellipse cx="638" cy="43" rx="3" ry="1.3" transform="rotate(-35 638 43)"/></g>
<polygon points="231.2,78.8 236.2,76.8 242.0,78.0 241.5,83.8 239.2,80.5 233.8,80.0" fill="#fff" stroke="#000" stroke-width="1.1"/>
<clipPath id="ni"><path d="M172.5,95 l 4.5,1.6 4.2,2.2 3.6,-1.4 2.9,-2.3 3.7,-0.4 3.6,-0.9 3.8,-0.9 3.7,-1.1 3.9,-0.3 3.6,-1.5 2.2,-2.3 2.8,-1.5 5,0.4 5,0.9 3,1.2 3.1,1.1 3.2,0.7 3.2,0.7 3.2,-0.3 3.1,0.4 3.1,0.8 3.1,0.4 3.4,3.6 2.8,3.9 -1.4,4.9 0.2,5.1 2,3.5 3,2.7 1.7,4.9 3.3,3.9 3.5,3.5 2.7,4 2.6,1.9 1.8,2.5 2.3,2.1 2.1,2.2 3.7,2.6 2.5,3.7 -0.8,3.1 -0.9,3.2 -5.2,1.6 -4.3,3.4 -3.4,2.1 -2.8,2.9 2.6,2.9 2.4,3.3 4.2,-2.3 4.5,-1.5 5.7,0.4 5.6,-1.6 4.7,1.1 4,2.7 1.9,4.7 3.1,4 1.1,3.8 -0.3,4 0.8,3.8 2.1,3.4 -0.9,3.1 -1.3,3 -0.7,3.2 -0.8,3.2 -2.1,4.3 -1.6,4.5 -2,3.1 -1.8,3.1 -3.6,2.7 -2.6,3.5 -4.2,-1.9 -4.6,-0.5 -3.8,-0.4 -3.7,-0.9 -0.5,4 -2,3.5 -2.8,2.2 -2.2,2.8 1,5.1 1.5,4.9 -2.7,3.6 -2.3,3.9 -2.6,2.3 -3.2,1.3 -3.5,0.1 -3.2,1.3 -3.2,-1 -3.2,-1.2 -2.8,-2 -3.3,-0.8 -3.2,-0.7 -3.3,-0.4 -3.2,-0.8 -2.8,-1.8 -5,1.7 -5,2 -3.8,1.1 -3.9,0.1 -3.8,0.9 -3.5,1.6 -0.2,-5.8 -2.3,-5.4 1.9,-4.8 0.6,-5.2 -5,-0.6 -5,0.6 -3.9,-3.3 -4.9,-1.7 -1.4,-5.2 -2.3,-4.8 -2.4,-3.8 -2.6,-3.7 -4.6,-3.8 -5.4,-2.5 -4.1,2.7 -3.4,3.6 -3.9,2.3 -3.6,2.7 1.5,5.1 2.2,4.9 -2.6,4.2 -3.6,3.3 -2.3,3.9 -2.7,3.6 -3.7,1.5 -3.8,1 -3,-1.1 -3.2,-0.4 -3.1,0.4 -3.2,-0.1 -4.5,-3.5 -5.5,-1.5 -5.4,-1.7 -4.6,-3.3 -3.2,0.4 -3.2,0 -3.2,-0.3 -2.9,-1.4 -1.6,-5.4 -3.4,-4.6 -2.7,-2.2 -2.6,-2.5 -2,-3 -2.7,-2.3 -2.9,-3.6 -3.3,-3.4 -3.2,-3.3 -3.1,-3.4 3.4,-1.1 2.8,-2.2 3,-1.8 3.3,-1.2 3.1,-1.2 3.2,-1.2 2.9,-1.8 3.3,-0.8 2.2,-2.2 2.3,-2.3 2.9,-1.1 2.6,-1.9 4.3,-1.4 4.5,-1.1 -3.6,-1 -3.7,0.3 -3.5,-1 -3,-2 -3.2,-4.4 -4.3,-3.2 2.6,-3.6 3.7,-2.6 3.4,-0.6 3.5,0.4 3.3,-0.9 3.5,-0.1 3.2,-1.1 3,-1.6 3.1,-1.3 3.2,-1 2.4,-4.5 2.6,-4.3 1.2,-3.2 1.1,-3.1 1.1,-3.2 1.6,-3 1.2,-3.5 1.9,-3 -0.2,-3.7 0.9,-3.5 5.6,-1.8 5.6,-2 5,0.3 5,0.9 5.3,-2.6 4.7,-3.6 1.5,-4 0.9,-4.2 2.3,-3.5Z"/></clipPath>
<g clip-path="url(#ni)">
<rect x="0" y="0" width="400" height="300" fill="#4393c3"/>
<g shape-rendering="crispEdges">
<path d="M184.4,121.2 l 0,-404.9 -248,-3.9 224.6,411.7 3,-0.1 3.1,0 3,0.4 2.9,0.8 2.8,-1.3 2.9,-0.6 2.9,-0.8Z" fill="#b2182b" stroke="#b2182b" stroke-width="0.9"/>
<path d="M175.8,153.5 l -2.3,-2.2 -1.8,-2.6 -2.2,-2.3 -1.6,-2.7 -2.4,-2.1 -2.4,-1.9 -1.7,-2.8 -2.2,-2.3 1.1,-5.2 0.7,-5.3 3,-0.1 3.1,0 3,0.4 2.9,0.8 2.8,-1.3 2.9,-0.6 2.9,-0.8 2.8,-1.3 4.5,3.1 2.8,4.6 0.1,3.9 -1.1,3.6 -1.2,3.6 -2.3,3.1 -2.4,2.8 -2.9,2.4 -2.8,2.5 -1.5,3.5Z" fill="#b2182b" stroke="#b2182b" stroke-width="0.9"/>
<path d="M209.4,110.5 l 0,-394.5 -3.2,-0.5 -3.2,0.3 -3.1,-0.6 -3,-0.8 -3.2,-0.5 -3.2,0.7 -3.2,0.3 -2.9,1.4 0,404.9 4.5,3.1 2.8,4.6 4,0.5 4,-0.8 2.7,-4.4 3,-4.2 2.2,-4.7Z" fill="#4393c3" stroke="#4393c3" stroke-width="0.9"/>
<path d="M226.9,123.6 l 2.3,-3.1 2.7,-2.7 3.6,-1.3 3.4,-1.8 3.5,-1.3 3.2,-1.9 3.7,-1.1 2.9,-2.5 213.9,-404.1 -256.7,12.2 0,394.5 4.7,3 5.5,1.7 2.8,4.9Z" fill="#92c5de" stroke="#92c5de" stroke-width="0.9"/>
<path d="M226.9,123.6 l -4.5,-3.5 -2.8,-4.9 -5.5,-1.7 -4.7,-3 -1.8,4.8 -2.2,4.7 -3,4.2 -2.7,4.4 4.9,2.9 4.4,3.5 4.2,3.8 4.3,3.7 1,-5.3 2.5,-4.7 2.1,-5Z" fill="#92c5de" stroke="#92c5de" stroke-width="0.9"/>
<path d="M246.4,146.7 l -3,1.8 -3.4,0.7 -3.4,0.7 -3.5,-0.8 -3.4,0.8 -3.3,-0.9 -3.4,0.7 -3.4,-0.8 -0.2,-3.5 -1.9,-2.9 1,-5.3 2.5,-4.7 2.1,-5 3.8,-3.9 2.3,-3.1 2.7,-2.7 3.6,-1.3 3.4,-1.8 3.5,-1.3 3.2,-1.9 3.7,-1.1 2.9,-2.5 -1.6,4.6 0.3,4.8 1.3,4.6 1.9,4.4 -1.3,4.4 -1.7,4.3 -0.8,4.6 -1.2,4.5Z" fill="#2166ac" stroke="#2166ac" stroke-width="0.9"/>
<path d="M249.1,144.1 l 1.2,-4.5 0.8,-4.6 1.7,-4.3 1.3,-4.4 -1.9,-4.4 -1.3,-4.6 -0.3,-4.8 1.6,-4.6 213.9,-404.1 4.1,0.2 4.1,0 4.1,0.9 4.2,-0.7 4.1,1.2 3.7,2.1 4.3,0.6 4.2,-1.3 4,1.3 4.2,0.1 4.1,-0.8 4.2,0.5 4.2,0.4 4.1,-1 3.9,1.7 4.2,0.4 4.3,0 3.8,-1.8 4.2,-0.3 4,-1 3.4,-2.6 3.6,-2.1 4.3,-0.5 3.9,-1.6 4,-1.6 4,-1.2 4.2,0.7 4.3,-0.2 4.1,-0.9 4.2,-0.6 3.1,-3 4,-1.5 -326.4,457 -4.8,-1.9 -4.6,-2.4 -5.1,-0.1Z" fill="#2166ac" stroke="#2166ac" stroke-width="0.9"/>
<path d="M177.6,154.3 l 1.5,-3.5 2.8,-2.5 2.9,-2.4 2.4,-2.8 2.3,-3.1 1.2,-3.6 1.1,-3.6 -0.1,-3.9 4,0.5 4,-0.8 4.9,2.9 4.4,3.5 4.2,3.8 4.3,3.7 1.9,2.9 0.2,3.5 -2,5.3 -2.6,5.2 -4.8,-0.3 -4.5,1.5 -4.4,-1.7 -4.6,-1.4 -4.6,0.4 -4.6,-0.6 -4.7,0 -4.4,-1.6Z" fill="#2166ac" stroke="#2166ac" stroke-width="0.9"/>
<path d="M145.2,140.9 l -3.6,-0.7 -3.4,-1.4 -3.2,-1.8 -3.6,-0.8 -3,-2.4 -3.7,-0.9 -3.6,-0.7 -3.7,-0.4 -3.8,-0.4 -3.4,-1.7 -2.4,-3 -3.5,-1.5 -2.8,-2.6 -2.8,-2.5 -3.8,-0.1 -3.5,-1.8 -3.7,-1.1 -2.6,-2.8 -3,-2.3 -2.7,-2.6 -1.6,-3.4 -2.8,-2.8 -3,-2.5 -3.9,-0.8 -0.3,-3.9 -1.6,-3.5 -2.9,-2.6 -2.2,-3.1 -1.8,-3.3 -2.8,-2.5 -2.1,-3.1 -1.9,-3.2 -310.4,-328.7 1.5,-3.1 2.7,-2 0.8,-3.3 2,-2.7 2.3,-2.4 2.5,-2.2 2.8,-1.8 3.2,-1 1.6,-2.8 1.2,-3 0.4,-3.3 1,-3.1 0.8,-3.2 2.2,-2.5 1.5,-2.9 2,-2.5 5.1,-2 4.8,-2.5 5.1,-1.9 5,-2.2 5.1,-1.7 5.1,-1.8 4.9,-2.7 5.5,-0.3 5.6,0.7 5.5,0.2 5.5,1.3 5.1,2.4 5.6,-1.3 4.7,-3.3 5.7,0.7 5.6,-0.9 4.2,3.8 5.3,1.8 5.6,0.3 5.5,0.1 4.4,3.4 5.4,1 5.3,1.5 4.3,3.3 5.4,-0.5 5.4,1.1 5.4,0.3 5.5,-0.2 5.4,0.6 5.1,2.3 5.3,1.5 4.4,3.2 224.6,411.7 -0.7,5.3 -1.1,5.2 -3.4,2 -3.9,0.5 -3.5,1.5Z" fill="#2166ac" stroke="#2166ac" stroke-width="0.9"/>
<path d="M132.3,164.8 l -3.6,-2.2 -4.1,-1 -4.2,-0.7 -3.6,-2.3 -3.1,-2.9 -2,-3.8 -3.8,-1.9 -3.2,-2.8 -2.8,-3.3 -1.2,-4.1 -3.4,-2.5 -3.3,-2.7 -1,-4.1 -2.6,-3.3 -1.4,-3.9 -1.9,-3.7 -1,-3.6 -2.5,-2.7 -1.2,-3.4 -1.3,-3.4 -2.1,-2.9 -2.5,-2.6 -2.7,-2.4 -2.1,-3 -2.8,-2.2 -3,-2 -1.8,-3.2 -2,-3 -2.5,-2.6 -2.9,-2.1 -2,-3 -2.2,-2.8 1.9,3.2 2.1,3.1 2.8,2.5 1.8,3.3 2.2,3.1 2.9,2.6 1.6,3.5 0.3,3.9 3.9,0.8 3,2.5 2.8,2.8 1.6,3.4 2.7,2.6 3,2.3 2.6,2.8 3.7,1.1 3.5,1.8 3.8,0.1 2.8,2.5 2.8,2.6 3.5,1.5 2.4,3 3.4,1.7 3.8,0.4 3.7,0.4 3.6,0.7 3.7,0.9 3,2.4 3.6,0.8 3.2,1.8 3.4,1.4 3.6,0.7 -1.9,5.2 -2.9,4.7 -0.1,5.5 0.3,5.6 -4.5,0.4Z" fill="#2166ac" stroke="#2166ac" stroke-width="0.9"/>
<path d="M132.3,164.8 l -3.6,-2.2 -4.1,-1 -4.2,-0.7 -3.6,-2.3 -3.1,-2.9 -2,-3.8 -3.8,-1.9 -3.2,-2.8 -2.8,-3.3 -1.2,-4.1 -3.4,-2.5 -3.3,-2.7 -1,-4.1 -2.6,-3.3 -1.4,-3.9 -1.9,-3.7 1.1,4.2 0.7,4.3 0.5,4.4 1.7,4 1.2,4.4 -0.7,4.4 1.3,4.3 2.1,3.9 0.9,4.4 1.9,4.1 0.3,4.6 2.3,3.9 3.3,3.3 1.8,4.1 3.1,3.5 4.1,2.1 3.5,-3.6 3.4,-3.7 4.8,-1.7 4.5,-2.4 0.9,-4Z" fill="#2166ac" stroke="#2166ac" stroke-width="0.9"/>
<path d="M175.8,153.5 l -2.3,-2.2 -1.8,-2.6 -2.2,-2.3 -1.6,-2.7 -2.4,-2.1 -2.4,-1.9 -1.7,-2.8 -2.2,-2.3 -3.4,2 -3.9,0.5 -3.5,1.5 -3.2,2.3 -1.9,5.2 -2.9,4.7 -0.1,5.5 0.3,5.6 2.8,0.9 4.1,-1 3.8,-1.9 4.2,-0.4 4.2,-0.9 4.3,-0.2 4.2,-0.6 3.5,-2.8Z" fill="#2166ac" stroke="#2166ac" stroke-width="0.9"/>
<path d="M87.1,119.6 l 1.1,4.2 0.7,4.3 0.5,4.4 1.7,4 1.2,4.4 -0.7,4.4 1.3,4.3 2.1,3.9 0.9,4.4 1.9,4.1 0.3,4.6 2.3,3.9 3.3,3.3 1.8,4.1 3.1,3.5 4.1,2.1 -2.2,2.3 -1.3,3 -3.5,-0.5 -3.3,1.2 -3.4,0.2 -3.4,-0.9 -458.6,-305.8 3.6,-4.2 3.3,-4.5 2.3,-5.1 0.9,-5.5 2.8,-4.7 3.8,-4 2.4,-5 1.7,-5.2 3.4,-4.3 3.2,-4.4 3.7,-4 3,-4.5 4,-4 2.5,-5 3.9,-4 5.1,-2.4 4.7,-3.2 5,-2.6 4.1,-4.3 1.7,-5.5 2.4,-5.4 -0.3,-5.8 2.8,-5 4.2,-4 2.8,-4.9 4.3,-3.7 3,-4.9 1.7,-5.4 3.2,-4.9 4.9,-3.3 5.4,-2.1 5.6,-1.2 310.4,328.7 2.2,2.8 2,3 2.9,2.1 2.5,2.6 2,3 1.8,3.2 3,2 2.8,2.2 2.1,3 2.7,2.4 2.5,2.6 2.1,2.9 1.3,3.4 1.2,3.4 2.5,2.7Z" fill="#2166ac" stroke="#2166ac" stroke-width="0.9"/>
<path d="M143.4,162.8 l -2.8,-0.9 -4.5,0.4 -3.8,2.5 -2.5,3.3 -0.9,4 1.9,3.1 0.7,3.4 2,3 0.5,3.5 2.8,2.2 2.2,2.8 2.3,2.6 2.8,2.2 3.9,-1.4 3,-2.9 4.1,0 3.8,-1.6 2.1,-5.1 -2.6,-2.4 -1.6,-3.1 -2.4,-2.5 -1.9,-2.8 -3,-1.9 -2.3,-2.6 -1.7,-3Z" fill="#d6604d" stroke="#d6604d" stroke-width="0.9"/>
<path d="M128.9,172.1 l -4.5,2.4 -4.8,1.7 -3.4,3.7 -3.5,3.6 -2.2,2.3 -1.3,3 2.4,4.5 3.5,3.8 2,4.7 2.3,4.5 4.3,0.5 3.7,2.1 4.2,0.7 4.2,-0.9 2.3,-3.3 1.9,-3.6 1.5,-3.7 2.6,-3.2 -2.8,-2.2 -2.3,-2.6 -2.2,-2.8 -2.8,-2.2 -0.5,-3.5 -2,-3 -0.7,-3.4Z" fill="#d6604d" stroke="#d6604d" stroke-width="0.9"/>
<path d="M175.8,153.5 l -4.1,1.5 -3.5,2.8 -4.2,0.6 -4.3,0.2 -4.2,0.9 -4.2,0.4 -3.8,1.9 -4.1,1 2.1,2.8 1.7,3 2.3,2.6 3,1.9 1.9,2.8 2.4,2.5 1.6,3.1 2.6,2.4 4.2,-2.2 4.3,-1.8 4.1,-2.4 3.5,-3.3 -0.3,-4.7 1.4,-4.5 -0.4,-4.7 0.6,-4.6 -0.8,-1.4Z" fill="#d6604d" stroke="#d6604d" stroke-width="0.9"/>
<path d="M178.4,155.7 l 4.4,1.6 4.7,0 4.6,0.6 4.6,-0.4 4.6,1.4 4.4,1.7 4.5,-1.5 4.8,0.3 1,3.2 -0.7,3.4 0.8,3.2 1.2,3.1 -2.7,3.1 -2.6,3.4 -3.7,0.9 -3.7,0.8 -3.7,-0.9 -3.8,0.8 -3.7,-0.8 -3.7,-0.7 -3.8,-0.1 -3.7,0 -2.8,-2 -2.3,-2.6 -0.3,-4.7 1.4,-4.5 -0.4,-4.7Z" fill="#4393c3" stroke="#4393c3" stroke-width="0.9"/>
<path d="M217.3,172.3 l 4.7,2.6 5.2,1.2 4.4,2.9 5.1,1.8 3.3,-1 3.2,-1.5 2.4,-2.7 3.3,-1.5 1.6,-3.2 0.1,-3.1 0.8,-3.1 -0.2,-3.2 -0.4,-3.1 -1.2,-3.1 -2.5,-2.2 -0.1,-3.3 -0.6,-3.1 -3,1.8 -3.4,0.7 -3.4,0.7 -3.5,-0.8 -3.4,0.8 -3.3,-0.9 -3.4,0.7 -3.4,-0.8 -2,5.3 -2.6,5.2 1,3.2 -0.7,3.4 0.8,3.2Z" fill="#92c5de" stroke="#92c5de" stroke-width="0.9"/>
<path d="M246.4,146.7 l 0.6,3.1 0.1,3.3 2.5,2.2 1.2,3.1 0.4,3.1 0.2,3.2 -0.8,3.1 -0.1,3.1 5.7,-0.4 5.6,-0.5 5.1,-2.6 5.1,-2.6 0.8,-3 1.3,-2.9 -1,-2.9 -2.2,-2.1 -0.9,-2.9 -1.2,-2.8 -4.8,-1.9 -4.6,-2.4 -5.1,-0.1 -5.2,0.3Z" fill="#2166ac" stroke="#2166ac" stroke-width="0.9"/>
<path d="M268.8,148.2 l 326.4,-457 3.6,0.3 3.3,-1.2 162.3,215.8 -441.9,246.9 -3.1,-0.8 -3.1,-0.1 -2.8,-1.6 -3.2,-0.5 -3.2,0.6 -3.2,-0.8 -3.2,0.5 -2.9,1.7 -3.1,0.5 -2.9,1.1 -2.7,1.7 -2.6,1.7 -3.2,-0.7 -3.2,0.4 -3.3,0.3 -2.7,1.9 -1,-2.9 -2.2,-2.1 -0.9,-2.9Z" fill="#2166ac" stroke="#2166ac" stroke-width="0.9"/>
<path d="M177.1,174.2 l 2.3,2.6 2.8,2 1.5,3.3 1.5,3.3 1.8,3.1 1.9,3.1 0.5,3.6 -0.2,3.7 0.4,3.6 -0.6,3.7 -2.7,3.5 -3.8,2.3 -2.7,3.4 -1.9,4.1 -0.8,-4.6 -1.7,-4.3 -2.1,-4.1 -2.1,-4 -2.7,-3.8 -3.2,-3.2 -4.1,-2.5 -2.3,-4 2.1,-5.1 4.2,-2.2 4.3,-1.8 4.1,-2.4Z" fill="#4393c3" stroke="#4393c3" stroke-width="0.9"/>
<path d="M158.9,189 l 2.3,4 4.1,2.5 3.2,3.2 2.7,3.8 2.1,4 2.1,4.1 1.7,4.3 0.8,4.6 -1.8,4 -0.5,4.3 0.1,4.4 -1.9,4 -4.2,-3.2 -2.9,-4.3 -5.2,-1 -4.6,-2.6 -4.3,-2.9 -3.1,-4.2 -4.7,-2.3 -5.1,-1.1 -1.4,-3.3 -2.5,-2.6 2.3,-3.3 1.9,-3.6 1.5,-3.7 2.6,-3.2 3.9,-1.4 3,-2.9 4.1,0Z" fill="#4393c3" stroke="#4393c3" stroke-width="0.9"/>
<path d="M212,178.8 l -2.2,5 -1.5,5.3 0.7,5.6 -1.7,5.4 -4.6,1.5 -4.6,1.3 -4.1,2.7 -5,0.6 0.6,-3.7 -0.4,-3.6 0.2,-3.7 -0.5,-3.6 -1.9,-3.1 -1.8,-3.1 -1.5,-3.3 -1.5,-3.3 3.7,0 3.8,0.1 3.7,0.7 3.7,0.8 3.8,-0.8 3.7,0.9 3.7,-0.8Z" fill="#4393c3" stroke="#4393c3" stroke-width="0.9"/>
<path d="M212,178.8 l -2.2,5 -1.5,5.3 0.7,5.6 -1.7,5.4 3.9,4.2 5.5,1.8 3.3,4.7 4.8,3.1 2.3,-4.9 3.9,-3.5 4.6,-2.7 3.4,-4 -0.1,-4.7 -2.2,-4.2 0.4,-4.5 -0.4,-4.6 -5.1,-1.8 -4.4,-2.9 -5.2,-1.2 -4.7,-2.6 -2.7,3.1Z" fill="#2166ac" stroke="#2166ac" stroke-width="0.9"/>
<path d="M267.1,200.3 l -0.2,-3.5 -0.7,-3.4 -1.8,-2.9 -1.2,-3.3 -4.3,-2.5 -2.8,-4.1 -3,-3.9 -4.2,-2.6 -3.3,1.5 -2.4,2.7 -3.2,1.5 -3.3,1 0.4,4.6 -0.4,4.5 2.2,4.2 0.1,4.7 2.6,1.7 2.8,1.2 3,1 2.7,1.5 3.1,-0.4 3.2,0.2 2.8,1.4 3.1,0.7 2.5,-2.8Z" fill="#92c5de" stroke="#92c5de" stroke-width="0.9"/>
<path d="M267.1,200.3 l 5.2,-1.2 0.3,-3 0.2,-3 0.4,-3.1 1.7,-2.6 1,-2.9 1.2,-2.8 1.9,-2.6 2.6,-1.6 -3.6,-1.6 -2.6,-2.9 -2.9,3.8 -1.8,4.5 -4.2,2.4 -3.3,3.5 1.2,3.3 1.8,2.9 0.7,3.4Z" fill="#2166ac" stroke="#2166ac" stroke-width="0.9"/>
<path d="M248.9,174.1 l 1.6,-3.2 5.7,-0.4 5.6,-0.5 5.1,-2.6 5.1,-2.6 1.3,4.3 2.1,3.9 -2.9,3.8 -1.8,4.5 -4.2,2.4 -3.3,3.5 -4.3,-2.5 -2.8,-4.1 -3,-3.9Z" fill="#92c5de" stroke="#92c5de" stroke-width="0.9"/>
<path d="M272,164.8 l 1.3,4.3 2.1,3.9 2.6,2.9 3.6,1.6 3.5,0.1 3.4,0.6 3.6,-0.4 3.3,1.4 4.1,-2.3 3.7,-3.1 3.4,-3.3 3.1,-3.6 1.3,-4.8 3.4,-3.7 4.4,-2.2 3.7,-3.2 -3.1,-0.8 -3.1,-0.1 -2.8,-1.6 -3.2,-0.5 -3.2,0.6 -3.2,-0.8 -3.2,0.5 -2.9,1.7 -3.1,0.5 -2.9,1.1 -2.7,1.7 -2.6,1.7 -3.2,-0.7 -3.2,0.4 -3.3,0.3 -2.7,1.9 -1.3,2.9Z" fill="#92c5de" stroke="#92c5de" stroke-width="0.9"/>
<path d="M281.6,177.5 l 3.5,0.1 3.4,0.6 3.6,-0.4 3.3,1.4 -1.8,4.5 0.1,4.8 -0.6,4.7 0.3,4.7 -3.3,3 -4.6,-0.9 -4.4,1.5 -4.3,-1.7 -4.5,-0.7 0.3,-3 0.2,-3 0.4,-3.1 1.7,-2.6 1,-2.9 1.2,-2.8 1.9,-2.6Z" fill="#4393c3" stroke="#4393c3" stroke-width="0.9"/>
<path d="M293.4,197.9 l 561.4,105.3 -4,-292.5 -2.2,-3.9 -3.2,-3.1 -2.6,-3.6 -3.5,-2.8 -1.9,-4.1 0,-4.5 -1.7,-4.1 -1.7,-4 -3.6,-2.5 -3.3,-2.7 -3.8,-2.1 -3.7,-2.3 -2.8,-3.4 -3,-3.1 -2.4,-3.7 -3.6,-2.6 -4.3,-1.2 -3.4,-2.8 -2.5,-3.7 -3.5,-2.6 -2.8,-3.5 -1.3,-4.3 -3.6,-2.5 -3.3,-3 0.3,-4.5 -1.9,-4.2 -1.4,-4.4 -3.3,-3.1 -4,-2 -2.8,-3.5 -3.2,-3.1 -2.4,-3.7 -441.9,246.9 -3.7,3.2 -4.4,2.2 -3.4,3.7 -1.3,4.8 -3.1,3.6 -3.4,3.3 -3.7,3.1 -4.1,2.3 -1.8,4.5 0.1,4.8 -0.6,4.7Z" fill="#4393c3" stroke="#4393c3" stroke-width="0.9"/>
<path d="M290.1,200.9 l 0.1,4.9 1.9,4.6 -0.8,4.9 1,4.8 -0.8,5 -0.6,4.9 1.1,4.9 2.4,4.5 2.5,2 1.5,2.7 1.5,2.8 0.2,3.2 -0.1,3.1 1.1,3 2.1,2.4 0.7,3.1 301.4,409 250.7,-329.3 1.8,-4.5 1.1,-4.9 -0.7,-4.8 0.2,-5 -1.2,-4.9 1,-4.9 -2.8,-4.2 -0.6,-5 -561.4,-105.3Z" fill="#4393c3" stroke="#4393c3" stroke-width="0.9"/>
<path d="M267.1,200.3 l 5.2,-1.2 4.5,0.7 4.3,1.7 4.4,-1.5 4.6,0.9 0.1,4.9 1.9,4.6 -0.8,4.9 1,4.8 -0.8,5 -0.6,4.9 1.1,4.9 2.4,4.5 -4.9,-3.4 -5.6,-1.9 -5,-3.1 -4.4,-3.9 0,-3 -1.2,-2.9 -1.9,-2.3 -1.5,-2.6 -2,-2.4 -2.8,-1.3 -1.8,-2.5 -1,-2.8 0,-1.2 2.5,-2.8Z" fill="#92c5de" stroke="#92c5de" stroke-width="0.9"/>
<path d="M303.9,261.7 l -3.6,-1.6 -3.9,-0.7 -3.4,-2 -3.3,-2.2 -3,-2.5 -2.9,-2.6 -3.1,-2.4 -2.8,-2.7 -3.6,-1.7 -2.7,-3 -2.2,-3.3 -3.5,-2 -4,-0.5 -3.8,-1.2 -3.5,-2 -3.1,-2.4 0.2,-3.1 1.7,-2.7 1.8,-2.5 1.8,-2.5 2.1,-2.2 1.6,-2.7 0.3,-3.1 1.3,-2.8 1,2.8 1.8,2.5 2.8,1.3 2,2.4 1.5,2.6 1.9,2.3 1.2,2.9 0,3 4.4,3.9 5,3.1 5.6,1.9 4.9,3.4 2.5,2 1.5,2.7 1.5,2.8 0.2,3.2 -0.1,3.1 1.1,3 2.1,2.4Z" fill="#92c5de" stroke="#92c5de" stroke-width="0.9"/>
<path d="M262.3,206.1 l 0,1.2 -1.3,2.8 -0.3,3.1 -1.6,2.7 -2.1,2.2 -1.8,2.5 -1.8,2.5 -1.7,2.7 -0.2,3.1 -4.9,1.6 -4.9,1.5 -4.1,-3 -4.3,-2.9 -4.1,-3.1 -3.8,-3.5 -0.6,-5.6 2.3,-4.9 3.9,-3.5 4.6,-2.7 3.4,-4 2.6,1.7 2.8,1.2 3,1 2.7,1.5 3.1,-0.4 3.2,0.2 2.8,1.4Z" fill="#92c5de" stroke="#92c5de" stroke-width="0.9"/>
<path d="M207.3,200.1 l 3.9,4.2 5.5,1.8 3.3,4.7 4.8,3.1 0.6,5.6 -2.8,3 -2.3,3.3 -3.5,1.9 -3.9,1 -3.2,2.4 -2.5,3 -2.4,3 -2.4,3.1 -2.8,2.8 -2,3.4 -3.4,2 -2.4,3.1 -2.3,3.3 -3.1,2.5 -3.6,1.7 -3.6,1.6 -0.3,-3.2 0.9,-3.2 -0.8,-3.1 -1.3,-3 -0.5,-3.1 0,-3.3 -1.2,-3 -2.2,-2.5 1.9,-4 -0.1,-4.4 0.5,-4.3 1.8,-4 1.9,-4.1 2.7,-3.4 3.8,-2.3 2.7,-3.5 5,-0.6 4.1,-2.7 4.6,-1.3Z" fill="#92c5de" stroke="#92c5de" stroke-width="0.9"/>
<path d="M241.7,232 l -66.9,401.5 -3.4,0.1 -3.5,0.3 -3.5,0.3 -3.4,0.7 -3.5,-0.5 -3.2,-1.5 -3.4,-1.1 -3.6,0.3 31.9,-371.5 3.6,-1.6 3.6,-1.7 3.1,-2.5 2.3,-3.3 2.4,-3.1 3.4,-2 2,-3.4 2.8,-2.8 2.4,-3.1 2.4,-3 2.5,-3 3.2,-2.4 3.9,-1 3.5,-1.9 2.3,-3.3 2.8,-3 3.8,3.5 4.1,3.1 4.3,2.9Z" fill="#4393c3" stroke="#4393c3" stroke-width="0.9"/>
<path d="M605.3,670.7 l -0.7,1.1 -429.8,-38.3 66.9,-401.5 4.9,-1.5 4.9,-1.6 3.1,2.4 3.5,2 3.8,1.2 4,0.5 3.5,2 2.2,3.3 2.7,3 3.6,1.7 2.8,2.7 3.1,2.4 2.9,2.6 3,2.5 3.3,2.2 3.4,2 3.9,0.7 3.6,1.6Z" fill="#4393c3" stroke="#4393c3" stroke-width="0.9"/>
<path d="M53.9,299.9 l 2.8,-2.8 2.5,-3 1.5,-3.6 0.7,-3.9 -0.4,-3.9 -0.3,-3.9 1.2,-3.8 1.8,-3.5 1.5,-3.6 2.2,-3.2 1.6,-3.6 0.6,-3.9 -1.8,-3.5 -0.3,-4 -0.2,-4 0.9,-3.8 1.5,-3.6 2.1,-3.3 2,-3.4 1,-3.7 0.2,-3.9 0.7,-3.8 1.1,-3.8 -0.3,-3.9 2.9,-2.8 2.4,-3.3 1.4,-3.8 0.3,-4.1 2.9,-2.6 2.5,-3.1 3.7,-1.5 3,-2.5 3.4,0.9 3.4,-0.2 3.3,-1.2 3.5,0.5 2.4,4.5 3.5,3.8 2,4.7 2.3,4.5 -2.6,2.9 -1.1,3.9 -3.4,1.8 -2.8,2.7 -3,2.3 -2.3,3.1 -1.2,3.6 -2.2,3.1 -2.5,3 -2.3,3.1 -3.2,2.4 -3.9,0.9 -2.9,2.6 -3.6,1.4 -3.9,0.1 -3.5,1.7 -1.8,3.5 -2.8,2.7 0,3.9 -1.3,3.7 -2.5,2.9 -1.5,3.4 -1.8,3.4 -3,2.4 -1.9,3.3 -0.9,3.7 -1,3.7 -1.5,3.4 1.4,3.7 -0.2,3.9 -1.5,3.6Z" fill="#4393c3" stroke="#4393c3" stroke-width="0.9"/>
<path d="M135.8,208.7 l -4.2,0.9 -4.2,-0.7 -3.7,-2.1 -4.3,-0.5 -2.6,2.9 -1.1,3.9 -3.4,1.8 -2.8,2.7 -3,2.3 -2.3,3.1 -1.2,3.6 -2.2,3.1 -2.5,3 -2.3,3.1 -3.2,2.4 -3.9,0.9 -2.9,2.6 -3.6,1.4 -3.9,0.1 -3.5,1.7 -1.8,3.5 -2.8,2.7 0,3.9 -1.3,3.7 -2.5,2.9 -1.5,3.4 -1.8,3.4 -3,2.4 -1.9,3.3 -0.9,3.7 -1,3.7 -1.5,3.4 1.4,3.7 -0.2,3.9 -1.5,3.6 -0.8,3.8 -194.2,349.6 5.1,0.3 4.9,-1 4.9,-1.2 5.1,0.4 260,-433.4 -1.4,-3.3Z" fill="#4393c3" stroke="#4393c3" stroke-width="0.9"/>
<path d="M-140.3,649.5 l -2.9,-0.9 -3,-0.3 -2.9,-0.9 -2.9,-0.6 -3,-1.1 -3.1,0.4 -2.8,-1.2 -2.8,-1.1 -2.6,1.7 -2.8,1.3 -2.6,1.7 -3.1,0.5 -3,0.9 -3,0.9 -3.1,-0.6 -3.1,-0.2 -3.1,0.3 -3.1,-0.3 -2.6,1.6 -2.9,1.1 -3,-0.2 -2.9,0.7 -3.1,-0.2 -2.9,-0.8 -3,0.6 -2.8,1.4 -2.2,2.2 -2.1,2.3 -2.8,1.2 -2.9,0.6 -3.1,-0.2 -2.9,0.9 -246,-322.8 7.3,-323.8 3.7,-4.2 1.7,-5.3 1.3,-5.3 1.5,-5.2 3.1,-4.7 4.6,-3.2 2.2,-5.1 2.1,-5 4.6,-3.1 4.9,-2.4 3.1,-4.7 4.5,-3.3 4.5,-3.3 4.1,-3.8 2.7,-4.9 1.8,-5.3 2.4,-4.9 2.9,-4.6 3.2,-4.6 1.3,-5.4 4.9,-2.6 4,-3.8 4,-3.8 3.6,-4 4.9,-3 2.8,-4.9 5,-2.1 4.9,-2.5 3,-4.6 4.3,-3.3 2.3,-5.1 4.2,-3.6 458.6,305.8 -3,2.5 -3.7,1.5 -2.5,3.1 -2.9,2.6 -0.3,4.1 -1.4,3.8 -2.4,3.3 -2.9,2.8 0.3,3.9 -1.1,3.8 -0.7,3.8 -0.2,3.9 -1,3.7 -2,3.4 -2.1,3.3 -1.5,3.6 -0.9,3.8 0.2,4 0.3,4 1.8,3.5 -0.6,3.9 -1.6,3.6 -2.2,3.2 -1.5,3.6 -1.8,3.5 -1.2,3.8 0.3,3.9 0.4,3.9 -0.7,3.9 -1.5,3.6 -2.5,3 -2.8,2.8Z" fill="#4393c3" stroke="#4393c3" stroke-width="0.9"/>
<path d="M173.8,236.2 l 2.2,2.5 1.2,3 0,3.3 0.5,3.1 1.3,3 0.8,3.1 -0.9,3.2 0.3,3.2 -31.9,371.5 -267.6,15.9 260,-433.4 5.1,1.1 4.7,2.3 3.1,4.2 4.3,2.9 4.6,2.6 5.2,1 2.9,4.3Z" fill="#4393c3" stroke="#4393c3" stroke-width="0.9"/>
</g>
<path d="M-63.6,-287.6 l 224.6,411.7 M184.4,-283.7 l 0,404.9 M147.3,632.1 l 31.9,-371.5 M179.2,260.6 l 3.6,-1.6 3.6,-1.7 3.1,-2.5 2.3,-3.3 2.4,-3.1 3.4,-2 2,-3.4 2.8,-2.8 2.4,-3.1 2.4,-3 2.5,-3 3.2,-2.4 3.9,-1 3.5,-1.9 2.3,-3.3 2.8,-3 M225.4,219.5 l 3.8,3.5 4.1,3.1 4.3,2.9 4.1,3 M251.5,228.9 l 0.2,-3.1 1.7,-2.7 1.8,-2.5 1.8,-2.5 2.1,-2.2 1.6,-2.7 0.3,-3.1 1.3,-2.8 M251.5,228.9 l 3.1,2.4 3.5,2 3.8,1.2 4,0.5 3.5,2 2.2,3.3 2.7,3 3.6,1.7 2.8,2.7 3.1,2.4 2.9,2.6 3,2.5 3.3,2.2 3.4,2 3.9,0.7 3.6,1.6 M294.4,239.4 l 2.5,2 1.5,2.7 1.5,2.8 0.2,3.2 -0.1,3.1 1.1,3 2.1,2.4 0.7,3.1 M241.7,232 l 4.9,-1.5 4.9,-1.6 M303.9,261.7 l 301.4,409 M199.7,128.6 l 2.7,-4.4 3,-4.2 2.2,-4.7 1.8,-4.8 M199.7,128.6 l 4.9,2.9 4.4,3.5 4.2,3.8 4.3,3.7 M217.5,142.5 l 1,-5.3 2.5,-4.7 2.1,-5 3.8,-3.9 M209.4,-284 l 0,394.5 M184.4,121.2 l 4.5,3.1 2.8,4.6 M191.7,128.9 l 4,0.5 4,-0.8 M252.2,107.9 l 213.9,-404.1 M252.2,107.9 l -2.9,2.5 -3.7,1.1 -3.2,1.9 -3.5,1.3 -3.4,1.8 -3.6,1.3 -2.7,2.7 -2.3,3.1 M95.6,188.8 l 3.4,0.9 3.4,-0.2 3.3,-1.2 3.5,0.5 M109.2,188.8 l 2.4,4.5 3.5,3.8 2,4.7 2.3,4.5 M-363,-117 l 458.6,305.8 M109.2,188.8 l 1.3,-3 2.2,-2.3 M161,124.1 l -0.7,5.3 -1.1,5.2 M119.4,206.3 l 4.3,0.5 3.7,2.1 4.2,0.7 4.2,-0.9 M139.7,214.6 l -1.4,-3.3 -2.5,-2.6 M179.2,260.6 l -0.3,-3.2 0.9,-3.2 -0.8,-3.1 -1.3,-3 -0.5,-3.1 0,-3.3 -1.2,-3 -2.2,-2.5 M139.7,214.6 l 5.1,1.1 4.7,2.3 3.1,4.2 4.3,2.9 4.6,2.6 5.2,1 2.9,4.3 4.2,3.2 M322.5,153 l -3.7,3.2 -4.4,2.2 -3.4,3.7 -1.3,4.8 -3.1,3.6 -3.4,3.3 -3.7,3.1 -4.1,2.3 M322.5,153 l 441.9,-246.9 M294.4,239.4 l -2.4,-4.5 -1.1,-4.9 0.6,-4.9 0.8,-5 -1,-4.8 0.8,-4.9 -1.9,-4.6 -0.1,-4.9 M295.4,179.2 l -3.3,-1.4 -3.6,0.4 -3.4,-0.6 -3.5,-0.1 M290.1,200.9 l -4.6,-0.9 -4.4,1.5 -4.3,-1.7 -4.5,-0.7 M272.3,199.1 l 0.3,-3 0.2,-3 0.4,-3.1 1.7,-2.6 1,-2.9 1.2,-2.8 1.9,-2.6 2.6,-1.6 M274.1,158.9 l -1.3,2.9 -0.8,3 M274.1,158.9 l -1,-2.9 -2.2,-2.1 -0.9,-2.9 -1.2,-2.8 M272,164.8 l -5.1,2.6 -5.1,2.6 -5.6,0.5 -5.7,0.4 M268.8,148.2 l -4.8,-1.9 -4.6,-2.4 -5.1,-0.1 -5.2,0.3 M250.5,170.9 l 0.1,-3.1 0.8,-3.1 -0.2,-3.2 -0.4,-3.1 -1.2,-3.1 -2.5,-2.2 -0.1,-3.3 -0.6,-3.1 M249.1,144.1 l -2.7,2.6 M322.5,153 l -3.1,-0.8 -3.1,-0.1 -2.8,-1.6 -3.2,-0.5 -3.2,0.6 -3.2,-0.8 -3.2,0.5 -2.9,1.7 -3.1,0.5 -2.9,1.1 -2.7,1.7 -2.6,1.7 -3.2,-0.7 -3.2,0.4 -3.3,0.3 -2.7,1.9 M275.4,173 l 2.6,2.9 3.6,1.6 M275.4,173 l -2.1,-3.9 -1.3,-4.3 M595.2,-308.8 l -326.4,457 M252.2,107.9 l -1.6,4.6 0.3,4.8 1.3,4.6 1.9,4.4 -1.3,4.4 -1.7,4.3 -0.8,4.6 -1.2,4.5 M217.5,142.5 l 1.9,2.9 0.2,3.5 M219.6,148.9 l 3.4,0.8 3.4,-0.7 3.3,0.9 3.4,-0.8 3.5,0.8 3.4,-0.7 3.4,-0.7 3,-1.8 M225.4,219.5 l -0.6,-5.6 M224.8,213.9 l -4.8,-3.1 -3.3,-4.7 -5.5,-1.8 -3.9,-4.2 M173.8,236.2 l 1.9,-4 -0.1,-4.4 0.5,-4.3 1.8,-4 M177.9,219.5 l 1.9,-4.1 2.7,-3.4 3.8,-2.3 2.7,-3.5 M189,206.2 l 5,-0.6 4.1,-2.7 4.6,-1.3 4.6,-1.5 M239,198.8 l -0.1,-4.7 -2.2,-4.2 0.4,-4.5 -0.4,-4.6 M239,198.8 l 2.6,1.7 2.8,1.2 3,1 2.7,1.5 3.1,-0.4 3.2,0.2 2.8,1.4 3.1,0.7 M263.2,187.2 l 1.2,3.3 1.8,2.9 0.7,3.4 0.2,3.5 M263.2,187.2 l -4.3,-2.5 -2.8,-4.1 -3,-3.9 -4.2,-2.6 M248.9,174.1 l -3.3,1.5 -2.4,2.7 -3.2,1.5 -3.3,1 M262.3,206.1 l 2.5,-2.8 2.3,-3 M262.3,207.3 l 0,-1.2 M224.8,213.9 l 2.3,-4.9 3.9,-3.5 4.6,-2.7 3.4,-4 M272.3,199.1 l -5.2,1.2 M275.4,173 l -2.9,3.8 -1.8,4.5 -4.2,2.4 -3.3,3.5 M250.5,170.9 l -1.6,3.2 M207.3,200.1 l 1.7,-5.4 -0.7,-5.6 1.5,-5.3 2.2,-5 M182.2,178.8 l 3.7,0 3.8,0.1 3.7,0.7 3.7,0.8 3.8,-0.8 3.7,0.9 3.7,-0.8 3.7,-0.9 M219.6,148.9 l -2,5.3 -2.6,5.2 M236.7,180.8 l -5.1,-1.8 -4.4,-2.9 -5.2,-1.2 -4.7,-2.6 M215,159.4 l 1,3.2 -0.7,3.4 0.8,3.2 1.2,3.1 M217.3,172.3 l -2.7,3.1 -2.6,3.4 M135.8,208.7 l 2.3,-3.3 1.9,-3.6 1.5,-3.7 2.6,-3.2 M144.1,194.9 l 3.9,-1.4 3,-2.9 4.1,0 3.8,-1.6 M112.7,183.5 l 3.5,-3.6 3.4,-3.7 4.8,-1.7 4.5,-2.4 M140.6,161.9 l -4.5,0.4 -3.8,2.5 M128.9,172.1 l 0.9,-4 2.5,-3.3 M161,183.9 l 4.2,-2.2 4.3,-1.8 4.1,-2.4 3.5,-3.3 M143.4,162.8 l 4.1,-1 3.8,-1.9 4.2,-0.4 4.2,-0.9 4.3,-0.2 4.2,-0.6 3.5,-2.8 4.1,-1.5 M177.1,174.2 l -0.3,-4.7 1.4,-4.5 -0.4,-4.7 0.6,-4.6 M178.4,155.7 l -0.8,-1.4 M177.6,154.3 l -1.8,-0.8 M158.9,189 l 2.1,-5.1 M140.6,161.9 l 2.8,0.9 M182.2,178.8 l -2.8,-2 -2.3,-2.6 M159.2,134.6 l 2.2,2.3 1.7,2.8 2.4,1.9 2.4,2.1 1.6,2.7 2.2,2.3 1.8,2.6 2.3,2.2 M215,159.4 l -4.8,-0.3 -4.5,1.5 -4.4,-1.7 -4.6,-1.4 -4.6,0.4 -4.6,-0.6 -4.7,0 -4.4,-1.6 M191.7,128.9 l 0.1,3.9 -1.1,3.6 -1.2,3.6 -2.3,3.1 -2.4,2.8 -2.9,2.4 -2.8,2.5 -1.5,3.5" fill="none" stroke="#000" stroke-width="1.3" stroke-linecap="round" stroke-linejoin="round"/>
</g>
<path d="M172.5,95 l 4.5,1.6 4.2,2.2 3.6,-1.4 2.9,-2.3 3.7,-0.4 3.6,-0.9 3.8,-0.9 3.7,-1.1 3.9,-0.3 3.6,-1.5 2.2,-2.3 2.8,-1.5 5,0.4 5,0.9 3,1.2 3.1,1.1 3.2,0.7 3.2,0.7 3.2,-0.3 3.1,0.4 3.1,0.8 3.1,0.4 3.4,3.6 2.8,3.9 -1.4,4.9 0.2,5.1 2,3.5 3,2.7 1.7,4.9 3.3,3.9 3.5,3.5 2.7,4 2.6,1.9 1.8,2.5 2.3,2.1 2.1,2.2 3.7,2.6 2.5,3.7 -0.8,3.1 -0.9,3.2 -5.2,1.6 -4.3,3.4 -3.4,2.1 -2.8,2.9 2.6,2.9 2.4,3.3 4.2,-2.3 4.5,-1.5 5.7,0.4 5.6,-1.6 4.7,1.1 4,2.7 1.9,4.7 3.1,4 1.1,3.8 -0.3,4 0.8,3.8 2.1,3.4 -0.9,3.1 -1.3,3 -0.7,3.2 -0.8,3.2 -2.1,4.3 -1.6,4.5 -2,3.1 -1.8,3.1 -3.6,2.7 -2.6,3.5 -4.2,-1.9 -4.6,-0.5 -3.8,-0.4 -3.7,-0.9 -0.5,4 -2,3.5 -2.8,2.2 -2.2,2.8 1,5.1 1.5,4.9 -2.7,3.6 -2.3,3.9 -2.6,2.3 -3.2,1.3 -3.5,0.1 -3.2,1.3 -3.2,-1 -3.2,-1.2 -2.8,-2 -3.3,-0.8 -3.2,-0.7 -3.3,-0.4 -3.2,-0.8 -2.8,-1.8 -5,1.7 -5,2 -3.8,1.1 -3.9,0.1 -3.8,0.9 -3.5,1.6 -0.2,-5.8 -2.3,-5.4 1.9,-4.8 0.6,-5.2 -5,-0.6 -5,0.6 -3.9,-3.3 -4.9,-1.7 -1.4,-5.2 -2.3,-4.8 -2.4,-3.8 -2.6,-3.7 -4.6,-3.8 -5.4,-2.5 -4.1,2.7 -3.4,3.6 -3.9,2.3 -3.6,2.7 1.5,5.1 2.2,4.9 -2.6,4.2 -3.6,3.3 -2.3,3.9 -2.7,3.6 -3.7,1.5 -3.8,1 -3,-1.1 -3.2,-0.4 -3.1,0.4 -3.2,-0.1 -4.5,-3.5 -5.5,-1.5 -5.4,-1.7 -4.6,-3.3 -3.2,0.4 -3.2,0 -3.2,-0.3 -2.9,-1.4 -1.6,-5.4 -3.4,-4.6 -2.7,-2.2 -2.6,-2.5 -2,-3 -2.7,-2.3 -2.9,-3.6 -3.3,-3.4 -3.2,-3.3 -3.1,-3.4 3.4,-1.1 2.8,-2.2 3,-1.8 3.3,-1.2 3.1,-1.2 3.2,-1.2 2.9,-1.8 3.3,-0.8 2.2,-2.2 2.3,-2.3 2.9,-1.1 2.6,-1.9 4.3,-1.4 4.5,-1.1 -3.6,-1 -3.7,0.3 -3.5,-1 -3,-2 -3.2,-4.4 -4.3,-3.2 2.6,-3.6 3.7,-2.6 3.4,-0.6 3.5,0.4 3.3,-0.9 3.5,-0.1 3.2,-1.1 3,-1.6 3.1,-1.3 3.2,-1 2.4,-4.5 2.6,-4.3 1.2,-3.2 1.1,-3.1 1.1,-3.2 1.6,-3 1.2,-3.5 1.9,-3 -0.2,-3.7 0.9,-3.5 5.6,-1.8 5.6,-2 5,0.3 5,0.9 5.3,-2.6 4.7,-3.6 1.5,-4 0.9,-4.2 2.3,-3.5Z" fill="none" stroke="#000" stroke-width="1.5" stroke-linejoin="round"/>
<path d="M211.2,91.2 l 2.1,-2.3 1.7,-2.7 4.9,1.1 5.1,0.2 3.2,0.8 2.9,1.5 3.2,0.7 3.2,0.7 3.1,0.9 3.1,0.4 3.1,0.5 3.2,-0.5 3.7,3.2 2.5,4.3 -1.1,4.9 -0.1,5.1 3.1,2.6 1.9,3.6 -5.1,2.3 -4.9,2.7 -3.7,-3.1 -3.8,-3.1 -3.4,-4.6 -1.6,-5.4 -3.1,-0.4 -3.2,0 -3,-0.9 -3.2,0.1 -3.3,-0.5 -3.3,-0.4 -2.8,-1.8 -3.1,-1.1 -1.3,-4.3Z" fill="#fff" stroke="#000" stroke-width="1.2" stroke-linejoin="round"/>
<path d="M287.5,181.2 l 3.2,-0.1 3.1,-1.1 2.4,4.3 3.8,3.2 1.2,3 0.4,3.2 0.9,3.1 0,3.2 -2.1,3.4 -2.9,2.8 -3.7,0.8 -3.8,0.5 2.3,-4.8 1.5,-5.2 -0.4,-5.2 -2.2,-4.8 -1.8,-3.2Z" fill="#fff" stroke="#000" stroke-width="1.2" stroke-linejoin="round"/>
<clipPath id="lon"><path d="M821.4,995.6 l 5.4,0 5.4,0.2 5.3,-1.2 5.1,-1.7 3.7,-0.7 3.7,0.4 3.8,-0.5 3.7,0.5 3.6,1 3.3,1.9 3.7,0.4 3.6,1 0.3,4.6 0.3,4.7 1.1,4.5 -0.4,4.7 5.5,0.7 5.1,2 -0.8,3.2 -0.5,3.4 4,1.2 3.9,1.4 5.7,2 4.9,3.3 3.9,-1.8 4,-1.5 4.3,-1 3.7,-2.3 5.3,-1.3 2.9,-1.9 3.3,-1 3.3,-0.8 3.3,-0.9 3.4,0.7 3.5,0 3.3,-1.1 3.5,-0.3 3.3,2.5 3.2,2.9 2.9,3.1 3.8,2.1 1.7,4.1 2.3,3.8 1.7,2.9 1.4,3.2 1.8,2.9 1.7,2.9 3.9,1.4 4,1.3 2.8,4.5 2.5,4.7 -3.2,1.1 -3.4,0.1 -3.3,0.8 -3.3,0.7 -4.4,2 -3.6,3.3 -3.9,2.8 -4,2.5 -2.2,2.1 -1.8,2.5 -2.2,2.1 -1.7,2.5 1,3.4 1.6,3.2 -2.1,2.6 -1.7,2.9 -1.8,2.8 -2.3,2.3 -4.2,3.9 -3.8,4.1 -2,4.4 -3.3,3.5 -0.9,4.1 -1.7,3.8 2.3,3.2 1.7,3.5 -0.8,2.9 -0.3,3.1 -0.3,3 -1.3,2.9 -1,3.3 -1.8,3 -1.1,3.4 -0.1,3.5 -4.3,2.1 -3.6,3.2 -2.3,4.4 -1.4,4.7 -2.1,4.5 -0.8,4.9 -4.6,1.4 -4.7,1.3 -3.7,-2.5 -4.2,-1.5 -3.8,1.9 -4.2,0.7 -0.6,-5.1 -1.1,-5 -1.4,-5 -2.2,-4.7 -4.7,-0.8 -4.5,-1.9 -2.8,4.5 -3.8,3.5 -2.8,1.9 -2.5,2 -2.8,1.9 -2.5,2.1 -2.8,2.9 -2.6,3 -3.6,1.9 -2.9,2.8 -3,-2.4 -3.3,-1.7 -2.5,-3 -3.1,-2.2 1.6,-4.5 1,-4.7 -2.7,-2.6 -2.6,-2.7 -3.2,1.4 -3.3,1.4 -3.2,1.7 -3.5,0.8 -4.3,-2.1 -3.6,-3.2 1,-4.1 1.6,-3.8 -2.3,-2.8 -2.9,-2.1 -2.1,-2.7 -2,-3 -3.9,-2.7 -4.5,3.5 -3.5,4.5 -2.5,3.6 -1.6,4.2 -2.4,3.8 -1.4,4.2 -3.4,1.1 -3.2,1.6 -0.1,-5.3 0.1,-5.3 1.5,-5.5 2.4,-5.1 0.8,-5.3 0.6,-5.3 -3,-1.1 -3.1,-0.5 -3.1,-0.7 -2.7,-1.6 -3.4,-0.7 -3.2,-0.9 -3.3,-0.5 -3.4,-0.6 -1.2,-3.3 -1.4,-3.3 -5.1,-2.1 -5.5,-0.5 -2.4,-2.3 -2.3,-2.5 -2.7,-2 -3.2,-1.2 3,-1.6 2.3,-2.4 -4,0 -3.9,0 -3.8,-0.7 -3.5,-1.4 -3.5,-1.2 -3.8,-0.6 1.6,-3.2 1,-3.4 1.8,-3.2 0.9,-3.5 0.3,-5.9 -0.5,-6 -0.5,-5.9 -0.6,-6 0.4,-4.7 0.5,-4.8 0.9,-4.7 2.2,-4.3 -1.4,-5.8 -3.1,-5.1 -1.3,-5.8 -0.9,-5.8 4.2,1.1 4.2,1.3 4,1.6 3.5,2.6 4,-0.2 4,0.5 3.9,-0.5 4,0.2 3.6,-1 3.2,-2 2.9,-2.3 3.5,-1.3 4.1,-1.3 4.1,-1.4 3.8,-2 3.9,-1.9 5.3,2.6 2.8,-3.2 3.7,-2.2 3.2,-2.7 3.5,-2.4 4.6,-1.9 4.7,-1.4 4.9,-0.9 4.3,-2.5 5.3,-1.3 2.5,-4.1Z"/></clipPath>
<g clip-path="url(#lon)">
<rect x="700" y="980" width="300" height="220" fill="#d6604d"/>
<g shape-rendering="crispEdges">
<path d="M806.9,962.5 l 3,3.9 2.9,3.9 1.4,4.7 1.7,4.6 4.2,2.4 3.1,3.8 3.7,3.2 3.7,3 2.6,4.1 3.3,3.5 1.2,4.7 2.5,4.2 1.9,4.4 1.8,4.4 0.8,4.8 0.8,4.7 4,1 4.2,-0.3 2.3,-3.6 3.4,-2.6 1.3,-4 2.2,-3.6 3.7,-2.2 2.6,-3.4 2.7,-3.1 3.6,-2.3 2.5,-3.3 3,-2.9 2.6,-3.4 1.4,-4 2,-3.7 2.8,-3.2 3.3,-2.6 3.7,-2.1 2.8,-3.2 1.7,-3.9 2.5,-3.6 1,-4.1 2.9,-3.2 3.9,-1.9 2.6,-3.4 2.7,-3.2 0.1,-4.3 0.9,-4.2 2,-3.7 1.3,-4 1.6,-4 2.6,-3.3 1.5,-4 2.1,-3.6 117.8,-363.1 -343.8,-1.8 95.9,383.7 0.8,3.2 1.3,2.9 2,2.5 2,2.6 -0.7,3.2 0.5,3.3 1.4,2.9Z" fill="#d1e5f0" stroke="#d1e5f0" stroke-width="0.9"/>
<path d="M820.5,1030.5 l 2.7,2.9 3.2,2.4 4.7,-2.6 4.3,-3.1 5.1,-1.4 5,-1.9 -0.8,-4.7 -0.8,-4.8 -1.8,-4.4 -1.9,-4.4 -2.5,-4.2 -1.2,-4.7 -3.3,-3.5 -2.6,-4.1 -3.7,-3 -3.7,-3.2 -3.1,-3.8 -4.2,-2.4 -1.7,-4.6 -1.4,-4.7 -2.9,-3.9 -3,-3.9 0.6,4.3 0,4.4 0.1,4.4 0.7,4.3 1.3,4.3 -0.2,4.5 2,3.9 2,3.9 1.2,4.3 1,4.3 1.4,4.2 2.4,3.7 -0.8,4.4 0.7,4.4 0.5,4.3Z" fill="#d1e5f0" stroke="#d1e5f0" stroke-width="0.9"/>
<path d="M820.5,1030.5 l -0.7,-4.4 -0.5,-4.3 -0.7,-4.4 0.8,-4.4 -2.4,-3.7 -1.4,-4.2 -1,-4.3 -1.2,-4.3 -2,-3.9 -2,-3.9 0.2,-4.5 -1.3,-4.3 -0.7,-4.3 -0.1,-4.4 0,-4.4 -0.6,-4.3 -0.7,-3.2 -1.4,-2.9 -0.5,-3.3 0.7,-3.2 -2,-2.6 -2,-2.5 -1.3,-2.9 -0.8,-3.2 -0.4,3.2 -1.3,2.8 -1.8,2.7 -0.7,3.1 -0.3,3.2 0.7,3.2 -1.4,2.9 -0.3,3.2 -0.5,3.1 -0.1,3.2 0.5,3.2 1.1,2.9 0.9,3.1 0.2,3.1 1.3,2.9 0.3,3.1 0.2,3.1 0.4,3.1 -0.2,3.1 -0.9,3 -0.4,3.1 0.5,3.1 -0.7,3 -0.4,3.1 -0.2,3.1 -0.3,3.1 0.5,3.1 0.5,3.1 0.9,2.9 0.7,3 0.3,3.1 0.9,3 5.6,-1.2 5.7,-0.2 5.3,-1.9Z" fill="#b2182b" stroke="#b2182b" stroke-width="0.9"/>
<path d="M820.5,1030.5 l 2.7,2.9 3.2,2.4 -0.3,5.3 0.8,5.2 -5,2.4 -5.4,1.1 -3.9,3.9 -4.4,3.3 -2.6,-2.1 -2.1,-2.5 -3.1,-1.5 -2.3,-2.5 -2.2,-3.4 -1.7,-3.7 2.6,-2.1 2.1,-2.6 5.6,-1.2 5.7,-0.2 5.3,-1.9Z" fill="#b2182b" stroke="#b2182b" stroke-width="0.9"/>
<path d="M798.9,1036.6 l -2.1,2.6 -2.6,2.1 -3.3,0.5 -3.3,-0.7 -3,-1.4 -3.3,-0.5 -3.3,-4.5 -3.5,-4.5 -3.9,-4.1 -3.1,-4.6 -3.7,-4.5 -4.1,-4 -1.7,-5.4 -2.6,-5.1 -1.5,-5.5 -2.9,-4.9 -2.8,-5.1 -0.7,-5.7 -4.4,-3.8 -2.6,-5.2 -1.9,-5.3 -2.2,-5.3 -3.9,-4.2 -2.1,-5.3 -4,-4.2 -2.2,-5.2 -0.1,-5.8 -1.9,-5.5 -3.8,-4.4 -2,-5.5 -2.2,-5.1 -2.4,-5.1 -1.6,-5.5 -3,-4.8 -1.8,-5.4 -3.5,-4.5 -2.8,-4.8 -3.5,-4.4 -140.1,-336.2 4.2,-2.5 4.7,-0.7 4.8,-0.4 4.5,-1.6 4.7,0.6 4.8,0.1 4.7,0 4.7,-0.9 4.7,-0.5 4.7,-0.5 4.6,-1 4.6,-0.9 4.8,-0.4 4.6,1.2 4.7,-0.5 4.7,0.3 4.4,1.9 4.6,1.3 4.5,1.5 4.2,2.2 4.6,1.2 4.6,1.4 3.7,3 4.6,1.6 4.8,-1 4.7,-1.3 4.8,0.1 4.8,1.1 4.8,0.8 4.4,1.8 4.9,-0.1 4.6,1.4 95.9,383.7 -0.4,3.2 -1.3,2.8 -1.8,2.7 -0.7,3.1 -0.3,3.2 0.7,3.2 -1.4,2.9 -0.3,3.2 -0.5,3.1 -0.1,3.2 0.5,3.2 1.1,2.9 0.9,3.1 0.2,3.1 1.3,2.9 0.3,3.1 0.2,3.1 0.4,3.1 -0.2,3.1 -0.9,3 -0.4,3.1 0.5,3.1 -0.7,3 -0.4,3.1 -0.2,3.1 -0.3,3.1 0.5,3.1 0.5,3.1 0.9,2.9 0.7,3 0.3,3.1Z" fill="#b2182b" stroke="#b2182b" stroke-width="0.9"/>
<path d="M847.5,1052 l -4.4,-0.7 -4.4,-0.5 -4.5,-0.2 -4.3,-1.1 -3,-3.2 -0.8,-5.2 0.3,-5.3 4.7,-2.6 4.3,-3.1 5.1,-1.4 5,-1.9 4,1 4.2,-0.3 3,4.6 1.1,5.3 -0.7,3.4 -1,3.3 -4.4,3.9Z" fill="#d1e5f0" stroke="#d1e5f0" stroke-width="0.9"/>
<path d="M878.2,1040.4 l -5,-1.4 -5,-1.8 -5.2,1.1 -5.2,-0.9 -1.1,-5.3 -3,-4.6 2.3,-3.6 3.4,-2.6 1.3,-4 2.2,-3.6 3.7,-2.2 2.6,-3.4 2.7,-3.1 3.6,-2.3 2.5,-3.3 3,-2.9 2.6,-3.4 1.4,-4 2,-3.7 2.8,-3.2 3.3,-2.6 3.7,-2.1 2.8,-3.2 1.7,-3.9 2.5,-3.6 1,-4.1 2.9,-3.2 3.9,-1.9 2.6,-3.4 2.7,-3.2 0.1,-4.3 0.9,-4.2 2,-3.7 1.3,-4 1.6,-4 2.6,-3.3 1.5,-4 2.1,-3.6 -0.6,3.3 -0.4,4.1 0.1,4.1 -0.1,4.1 -1.2,3.9 -0.9,4 -1.5,3.8 -1.3,3.9 -1.2,3.9 -2.8,3 -2.1,3.4 -2.6,3.2 -2.3,3.3 -1.6,3.8 -1.1,4 -2.5,3.3 -2.6,3.2 -2.9,2.9 -2,3.6 -2.4,3.3 -3.2,2.7 -0.8,4 -2.4,3.4 -1.7,3.8 -0.7,4 -1.1,3.9 -1.1,3.8 -1,3.9 -1.4,3.8 -1.3,3.8 -0.6,4 -1.9,3.5Z" fill="#d6604d" stroke="#d6604d" stroke-width="0.9"/>
<path d="M871,1063.3 l 2.6,0.5 2,-3.4 2.5,-3 3.6,-1.7 2.8,-2.8 -1.4,-3.2 -1.2,-3.3 -1.6,-3.2 -2.1,-2.8 -5,-1.4 -5,-1.8 -5.2,1.1 -5.2,-0.9 -0.7,3.4 -1,3.3 1.1,3 2,2.3 2.7,1.6 2.1,2.3 2.3,2.1 1.8,2.5 1.5,2.7Z" fill="#d6604d" stroke="#d6604d" stroke-width="0.9"/>
<path d="M889.2,1053.1 l 3.6,1.4 3,2.5 3.7,1 3.4,1.6 1,-3.4 1.9,-2.9 2.4,-2.6 2.6,-2.2 2.5,-2.5 2.5,-2.3 3,-1.7 3.2,-1.4 1.4,-3.2 1.7,-3 0.5,-3.4 0.1,-3.4 -0.7,-3.4 -1,-3.3 0.7,-3.4 -0.3,-3.4 -0.7,-3.3 0.1,-3.5 1.3,-3.2 0.1,-3.4 -0.2,-3.4 -0.9,-3.3 -1.6,-3 -0.5,-3.4 -2.4,4.1 -1.4,4.5 -0.7,4.7 -1.4,4.4 -2.7,4 -1.9,4.4 -4.3,2.2 -3.1,3.7 -1.6,4.3 -2.1,4.1 -2.8,3.7 -1.8,4.3 -2.2,4.1 -2.7,3.8 -0.3,4.7Z" fill="#d1e5f0" stroke="#d1e5f0" stroke-width="0.9"/>
<path d="M889.2,1053.1 l 1.4,-4.5 0.3,-4.7 2.7,-3.8 2.2,-4.1 1.8,-4.3 2.8,-3.7 2.1,-4.1 1.6,-4.3 3.1,-3.7 4.3,-2.2 1.9,-4.4 2.7,-4 1.4,-4.4 0.7,-4.7 1.4,-4.5 2.4,-4.1 -1.2,-4 -0.1,-4.2 -0.2,-4.1 0.6,-4.1 -1.3,-4.1 0.4,-4.2 -1.2,-4 -0.2,-4.1 0,-4.3 1.1,-4 2.2,-3.7 2,-3.7 0.8,-4 1.5,-3.9 1.3,-3.9 0.7,-4.1 -0.4,4.1 0.1,4.1 -0.1,4.1 -1.2,3.9 -0.9,4 -1.5,3.8 -1.3,3.9 -1.2,3.9 -2.8,3 -2.1,3.4 -2.6,3.2 -2.3,3.3 -1.6,3.8 -1.1,4 -2.5,3.3 -2.6,3.2 -2.9,2.9 -2,3.6 -2.4,3.3 -3.2,2.7 -0.8,4 -2.4,3.4 -1.7,3.8 -0.7,4 -1.1,3.9 -1.1,3.8 -1,3.9 -1.4,3.8 -1.3,3.8 -0.6,4 -1.9,3.5 -1.6,3.8 2.1,2.8 1.6,3.2 1.2,3.3 1.4,3.2Z" fill="#d1e5f0" stroke="#d1e5f0" stroke-width="0.9"/>
<path d="M922,987.6 l 0.5,3.4 1.6,3 0.9,3.3 0.2,3.4 -0.1,3.4 -1.3,3.2 -0.1,3.5 0.7,3.3 0.3,3.4 -0.7,3.4 1,3.3 0.7,3.4 -0.1,3.4 -0.5,3.4 -1.7,3 -1.4,3.2 3.8,3.4 3.8,3.6 3.3,4.1 1.6,5 3.5,0.8 3.6,0.5 469,-390.9 -2.6,-4.8 -0.9,-5.5 -3,-4.6 -1.5,-5.3 -3.5,-4.3 -2.9,-4.7 -1.9,-5.1 -2.3,-5 -3,-4.5 -2.1,-5.1 -3,-4.5 -2.1,-5.1 -2.9,-4.7 -2.9,-4.6 -1.7,-5.2 -1.7,-5.2 -4.4,-3.4 -3.6,-4.3 -5.3,-1.7 -4.7,-3 -3.9,-3.8 -4,-3.8 -3.7,-4.1 -3.1,-4.5 -4.3,-3.5 -4.7,-3 -2.2,-5.1 -4,-4 -3.3,-4.5 -3.8,-4 -5.5,-1.6 -4.4,-3.6 -260.9,25.8 -117.8,363.1 -0.6,3.3 -0.7,4.1 -1.3,3.9 -1.5,3.9 -0.8,4 -2,3.7 -2.2,3.7 -1.1,4 0,4.3 0.2,4.1 1.2,4 -0.4,4.2 1.3,4.1 -0.6,4.1 0.2,4.1 0.1,4.2Z" fill="#d1e5f0" stroke="#d1e5f0" stroke-width="0.9"/>
<path d="M972.8,1101.6 l -2.4,-2.5 -1.8,-2.9 -1.8,-3 -1.3,-3.2 -3.3,-1.1 -2.7,-2.3 -2.4,-2.5 -2.3,-2.6 -1.5,-3.1 -0.4,-3.5 -2.1,-2.7 -2.1,-2.8 -1.7,-2.9 -1.5,-3 -1.9,-2.8 -2,-2.7 469,-390.9 172.3,219.9 -10,402.1 -3.5,2.7 -2.9,3.4 -1.7,4 -2.6,3.6 -1.6,4 -1.6,4.1 -1.4,4.1 -1.9,4 -3.6,2.3 -2.5,3.6 -3.4,2.8 -3,3 -4.1,1.7 -3.4,2.9 -2.1,3.9 -3.1,3.1 -3.3,2.8 -3.1,3 -3.2,2.8 -2.6,3.4 -3.4,2.8 -2.9,3.1 -3.4,2.6 -3.7,2.3 -3,3 -2.7,3.4 -3.6,2.6 -2.3,3.7 -1,4.3 -2.5,3.6 -3.1,3.1 -1.8,4 -352.5,-176.3 -3.4,-3.4 -4.2,-2.4 -3.7,-3.1 -4.5,-1.8 -3.7,-3.2 -4.5,-1.6 -4,-2.7 -3.8,-2.9 -3.8,-3.3 -3.4,-3.7 -3.6,-3.5 -3.2,-3.9 -2.7,-4.4 -3.7,-3.4 -3.7,-3.5 -2.2,-4.6 -3.1,-4.1 -3.3,-4 -3.9,-3.4 -4.2,-3 -4.7,-2.1 -5,-1.1 -4.2,-3 -4.9,-1.7 -4.9,-1.4 -4.4,-2.3 -3.8,-3.5 -4.5,-2.2 -4.3,-2.6 -4.2,-2.7 -4.4,-2.3 -4.6,-1.9 -5,-1.1 -4.9,-1.6 -3.9,-3.3 -4.1,-3 -4.2,-2.9 -4.3,-2.7 -3.6,-3.6Z" fill="#d1e5f0" stroke="#d1e5f0" stroke-width="0.9"/>
<path d="M934.5,1056.7 l 3.5,0.8 3.6,0.5 2,2.7 1.9,2.8 1.5,3 1.7,2.9 2.1,2.8 2.1,2.7 0.4,3.5 1.5,3.1 2.3,2.6 2.4,2.5 2.7,2.3 3.3,1.1 1.3,3.2 1.8,3 1.8,2.9 2.4,2.5 -3.3,-1.4 -3.4,-0.8 -3.1,-1.8 -3.3,-1.2 -3.6,0.1 -3.4,-1.1 -3.4,-1.3 -3.5,-0.4 -2.9,-2 -3.2,-1.5 -3.1,-1.7 -3.2,-1.5 -3.3,-1.5 -2.5,-2.6 -3.3,-1.7 -3.6,-0.4 2.3,-2.7 1.2,-3.3 2.5,-2.6 1.5,-3.1 1.1,-3.4 2.3,-2.7 1.6,-3.1Z" fill="#d1e5f0" stroke="#d1e5f0" stroke-width="0.9"/>
<path d="M922,1040.6 l -3.2,1.4 -3,1.7 -2.5,2.3 -2.5,2.5 -2.6,2.2 -2.4,2.6 -1.9,2.9 -1,3.4 1.6,4.7 0.2,4.9 1.3,4.7 1.1,4.8 3.1,1.5 2.4,2.3 4,-1.4 4.1,-0.3 2.3,-2.7 1.2,-3.3 2.5,-2.6 1.5,-3.1 1.1,-3.4 2.3,-2.7 1.6,-3.1 1.3,-3.2 -1.6,-5 -3.3,-4.1 -3.8,-3.6Z" fill="#d1e5f0" stroke="#d1e5f0" stroke-width="0.9"/>
<path d="M695.6,882 l 2.8,4.8 1.7,5.2 1.6,5.4 -0.2,5.6 0.7,5.5 1.2,5.4 2,5.3 3.6,4.3 0.1,5.7 1.6,5.4 -0.5,5.6 -1.5,5.4 -0.4,5.7 1.6,5.4 2.8,4.9 2.1,5.2 0.7,5.5 0.3,5.5 1,5.5 2.9,4.8 2.4,5 1.7,5.2 1.1,5.4 1.8,5.2 2.1,5.2 2.9,4.9 0,5.6 1.3,5.6 2.8,4.9 2.6,4.9 3.8,4.3 4.4,3.5 2.7,2.4 2.7,2.4 2.5,2.6 2.3,2.8 3.4,-0.4 3.4,-0.3 3.3,-1 3.4,-0.6 3,-4 3.6,-3.5 2.1,-4.6 2.3,-4.4 -3.3,-4.5 -3.5,-4.5 -3.9,-4.1 -3.1,-4.6 -3.7,-4.5 -4.1,-4 -1.7,-5.4 -2.6,-5.1 -1.5,-5.5 -2.9,-4.9 -2.8,-5.1 -0.7,-5.7 -4.4,-3.8 -2.6,-5.2 -1.9,-5.3 -2.2,-5.3 -3.9,-4.2 -2.1,-5.3 -4,-4.2 -2.2,-5.2 -0.1,-5.8 -1.9,-5.5 -3.8,-4.4 -2,-5.5 -2.2,-5.1 -2.4,-5.1 -1.6,-5.5 -3,-4.8 -1.8,-5.4 -3.5,-4.5 -2.8,-4.8Z" fill="#d1e5f0" stroke="#d1e5f0" stroke-width="0.9"/>
<path d="M695.6,882 l 2.8,4.8 1.7,5.2 1.6,5.4 -0.2,5.6 0.7,5.5 1.2,5.4 2,5.3 3.6,4.3 0.1,5.7 1.6,5.4 -0.5,5.6 -1.5,5.4 -0.4,5.7 1.6,5.4 2.8,4.9 2.1,5.2 0.7,5.5 0.3,5.5 1,5.5 2.9,4.8 2.4,5 1.7,5.2 1.1,5.4 1.8,5.2 2.1,5.2 2.9,4.9 0,5.6 1.3,5.6 2.8,4.9 2.6,4.9 3.8,4.3 4.4,3.5 -3.7,1.9 -4,1.5 -2.9,3 -3,2.9 -2.6,3.3 -3.2,2.6 -3,2.9 -3.3,2.5 -606.6,0 -0.8,-3 -1.8,-2.4 -1.9,-2.4 -1.7,-2.4 -0.9,-2.9 -1.5,-2.6 -0.9,-2.9 -0.4,-3 0.3,-3 0.3,-3 -1,-2.9 -0.6,-3 -1.3,-5.8 -1.5,-5.7 0.2,-6 -1.3,-5.8 -0.8,-2.9 -1,-2.8 0.6,-3 -0.4,-3.1 1.7,-5.7 0.2,-6 0.6,-5.9 0.3,-5.9 0.5,-5.9 2.2,-5.5 0.8,-5.9 0,-5.9 1.8,-5.6 0.5,-5.9 2.6,-5.4 1.3,-5.7 1.4,-5.8 0,-6 -1,-5.8 -1.1,-5.9 -0.5,-5.9 0.9,-5.8 -1,-5.8 -0.6,-5.9 282.5,-358.8 5.3,0.9 4.7,2.5 4.7,2.4 4.8,2.2 5.1,1.8 4.3,3.2 5.3,0.7 4.9,2.3 4.9,2 5.3,0.9 5.1,1.3 5,1.8 4.9,2.5 5.3,0.9 5.4,-0.6 5.4,0.1 5.3,0.6 5.2,-0.8 5.3,0.5 5.3,-0.3 5.3,-0.2 5.3,0.9 5.2,-1 5.2,-1.1 5.2,-1 5.3,0.9 5.3,0.3 5.2,-1.1 5.2,-1.2 5.3,0.2 5.3,0.4 5.2,-1Z" fill="#d1e5f0" stroke="#d1e5f0" stroke-width="0.9"/>
<path d="M741.8,1095.7 l -593.8,237.5 -1.9,-2.6 -1.9,-2.6 -2.6,-1.9 -2.5,-2.1 -1.3,-3 -2.1,-2.5 -1.8,-2.8 -2.7,-1.8 -1.5,-3 -2.2,-2.5 -2.5,-2.1 -2.8,-1.7 -2.5,-2.2 -1.5,-2.9 -1.7,-2.8 -1.3,-2.9 -0.9,-225.4 606.6,0 3,0.8 3,0.7 2.7,1.7 2.3,2.1 3.1,0.4 2.8,1.5 2.7,1.5 2.2,2.2 1.4,4.4 1.1,4.5 -1.2,4Z" fill="#d1e5f0" stroke="#d1e5f0" stroke-width="0.9"/>
<path d="M742.7,1079.3 l 3,-4.9 3.8,-4.3 3.9,-4.3 2.7,-5.1 0.7,-2.7 -2.3,-2.8 -2.5,-2.6 -2.7,-2.4 -2.7,-2.4 -3.7,1.9 -4,1.5 -2.9,3 -3,2.9 -2.6,3.3 -3.2,2.6 -3,2.9 -3.3,2.5 3,0.8 3,0.7 2.7,1.7 2.3,2.1 3.1,0.4 2.8,1.5 2.7,1.5Z" fill="#d1e5f0" stroke="#d1e5f0" stroke-width="0.9"/>
<path d="M794.2,1041.3 l 1.7,3.7 2.2,3.4 -1.6,3 -2.3,2.7 -0.7,3.3 -1.1,3.3 -2.1,2.8 -2.9,1.9 -2.5,2.3 -1.7,3.1 -2.6,-4.3 -3.8,-3.3 -3.8,-3.2 -2.7,-4.3 3,-4 3.6,-3.5 2.1,-4.6 2.3,-4.4 3.3,0.5 3,1.4 3.3,0.7Z" fill="#d6604d" stroke="#d6604d" stroke-width="0.9"/>
<path d="M803.7,1072.9 l 4.5,-3.5 -0.8,-3 0.3,-3.2 -0.3,-3.1 0.8,-3.1 -2.6,-2.1 -2.1,-2.5 -3.1,-1.5 -2.3,-2.5 -1.6,3 -2.3,2.7 -0.7,3.3 -1.1,3.3 -2.1,2.8 -2.9,1.9 -2.5,2.3 -1.7,3.1 2.2,5.4 2.5,0.8 4.1,-0.6 4.1,-0.3 3.8,-1.6Z" fill="#d6604d" stroke="#d6604d" stroke-width="0.9"/>
<path d="M783.2,1070.8 l 2.2,5.4 -3.9,3.1 -3.1,3.9 -4.5,2.2 -4.2,2.6 -1.5,-3.7 -0.1,-4 -1.1,-3.7 -1.6,-3.6 -2.5,-3 -1.4,-3.7 -2.3,-3.2 -3.1,-2.4 0.7,-2.7 3.4,-0.4 3.4,-0.3 3.3,-1 3.4,-0.6 2.7,4.3 3.8,3.2 3.8,3.3Z" fill="#d6604d" stroke="#d6604d" stroke-width="0.9"/>
<path d="M769.6,1088.2 l 0.1,-0.2 -1.5,-3.7 -0.1,-4 -1.1,-3.7 -1.6,-3.6 -2.5,-3 -1.4,-3.7 -2.3,-3.2 -3.1,-2.4 -2.7,5.1 -3.9,4.3 -3.8,4.3 -3,4.9 1.4,4.4 1.1,4.5 3.1,-0.3 3,0.6 3,0.2 3.1,0.4 3.1,0.1 2.9,-1 3.1,-0.1Z" fill="#d6604d" stroke="#d6604d" stroke-width="0.9"/>
<path d="M831.2,1068.5 l -0.4,-4.9 -2,-4.4 1,-4.8 0.1,-4.9 -3,-3.2 -5,2.4 -5.4,1.1 -3.9,3.9 -4.4,3.3 -0.8,3.1 0.3,3.1 -0.3,3.2 0.8,3 3.2,2 3.7,0.9 4,-1.2 3.7,-2.1 4.2,-0.1Z" fill="#b2182b" stroke="#b2182b" stroke-width="0.9"/>
<path d="M849.8,1066.9 l -3.7,0.9 -3.6,1.1 -3.2,2 -3.6,1.2 -4.5,-3.6 -0.4,-4.9 -2,-4.4 1,-4.8 0.1,-4.9 4.3,1.1 4.5,0.2 4.4,0.5 4.4,0.7 -0.3,3.9 0,3.8 0.6,3.8Z" fill="#d6604d" stroke="#d6604d" stroke-width="0.9"/>
<path d="M849.8,1066.9 l -2,-3.4 -0.6,-3.8 0,-3.8 0.3,-3.9 4.2,-4 4.4,-3.9 1.1,3 2,2.3 2.7,1.6 2.1,2.3 2.3,2.1 1.8,2.5 1.5,2.7 1.4,2.7 -4.4,1 -4.5,0.5 -4,1.9 -3.8,2.5Z" fill="#b2182b" stroke="#b2182b" stroke-width="0.9"/>
<path d="M889.2,1053.1 l 3.6,1.4 3,2.5 3.7,1 3.4,1.6 1.6,4.7 0.2,4.9 1.3,4.7 1.1,4.8 -3.4,0.9 -2.9,2 -3.5,0.3 -3.3,1.2 -3.3,1 -3.4,0.4 -3.5,-0.4 -3.4,1 0.1,-5.8 -1.7,-5.5 -2.6,-4.9 -2.6,-5.1 2,-3.4 2.5,-3 3.6,-1.7 2.8,-2.8Z" fill="#d6604d" stroke="#d6604d" stroke-width="0.9"/>
<path d="M854.3,1069.2 l 1.7,3.7 0.2,4 -0.2,4 0,4 3.5,2 3.8,1.1 3.2,2.2 3.4,2.1 3.5,-0.9 3.5,-0.8 1.6,-2.8 1.9,-2.7 0.1,-5.8 -1.7,-5.5 -2.6,-4.9 -2.6,-5.1 -2.6,-0.5 -4.4,1 -4.5,0.5 -4,1.9Z" fill="#d6604d" stroke="#d6604d" stroke-width="0.9"/>
<path d="M836.4,1089.4 l -0.5,-4.4 -1.1,-4.2 -0.2,-4.4 1.1,-4.3 -4.5,-3.6 -4.2,0.4 -4.2,0.1 -3.7,2.1 -4,1.2 2.5,4.6 3.1,4.2 0.6,5.2 1.4,5.1 4,0.9 4,0.4 3,-1.3Z" fill="#b2182b" stroke="#b2182b" stroke-width="0.9"/>
<path d="M822.7,1091.4 l -2.5,2.1 -3,1.4 -3.1,1.2 -3.2,0.8 -1.2,0.1 0.4,-3.2 -0.1,-3.2 -0.9,-3 -0.6,-3.1 -1.3,-3 -2.1,-2.4 -0.9,-3.1 -0.5,-3.1 4.5,-3.5 3.2,2 3.7,0.9 2.5,4.6 3.1,4.2 0.6,5.2Z" fill="#b2182b" stroke="#b2182b" stroke-width="0.9"/>
<path d="M809.7,1097 l 0.4,-3.2 -0.1,-3.2 -0.9,-3 -0.6,-3.1 -1.3,-3 -2.1,-2.4 -0.9,-3.1 -0.5,-3.1 -3.8,1.6 -3.8,1.6 -4.1,0.3 -4.1,0.6 1.3,4.5 0.5,4.7 2.4,4 2.4,4 5.1,2.7 5.1,2.7Z" fill="#b2182b" stroke="#b2182b" stroke-width="0.9"/>
<path d="M849.8,1066.9 l -3.7,0.9 -3.6,1.1 -3.2,2 -3.6,1.2 -1.1,4.3 0.2,4.4 1.1,4.2 0.5,4.4 4.4,1.1 3.2,-2.6 3.9,-1.5 4.1,-0.5 4,-1 0,-4 0.2,-4 -0.2,-4 -1.7,-3.7Z" fill="#b2182b" stroke="#b2182b" stroke-width="0.9"/>
<path d="M758.7,1114.2 l 2.6,-3.8 3.7,-2.7 3.6,-2.7 3.8,-2.6 -1.3,-3.4 -1.2,-3.5 -0.5,-3.6 0.2,-3.7 -3.1,-0.1 -3.1,0.1 -2.9,1 -3.1,-0.1 -3.1,-0.4 -3,-0.2 -3,-0.6 -3.1,0.3 -1.2,4 -2.2,3.5 2.2,2 2.6,1.7 2.2,2.1 1.6,2.6 1.3,2.8 1,2.8 1.5,2.6 1.4,2.8Z" fill="#b2182b" stroke="#b2182b" stroke-width="0.9"/>
<path d="M755.6,1115.1 l -1.5,3.3 -2.1,2.9 -2.5,2.7 -1.8,3.1 -0.9,3.6 0.3,3.7 -2.1,3 -0.8,3.6 -1.1,3.5 -1.3,3.4 -2,3.1 -2.9,2.4 -2.3,2.7 -2.3,2.7 -2.9,2.2 -2.8,2.3 -419.3,370 -159.3,-200.1 593.8,-237.5 2.2,2 2.6,1.7 2.2,2.1 1.6,2.6 1.3,2.8 1,2.8 1.5,2.6Z" fill="#b2182b" stroke="#b2182b" stroke-width="0.9"/>
<path d="M794.5,1094.2 l -3,3.7 -4.1,2.5 -4.4,2 -3.6,3.1 -3.8,-0.8 -3.2,-2.3 -1.3,-3.4 -1.2,-3.5 -0.5,-3.6 0.2,-3.7 0.1,-0.2 4.2,-2.6 4.5,-2.2 3.1,-3.9 3.9,-3.1 2.5,0.8 1.3,4.5 0.5,4.7 2.4,4Z" fill="#b2182b" stroke="#b2182b" stroke-width="0.9"/>
<path d="M789.9,1120.3 l -3.3,-3.2 -2.4,-3.9 -3.2,-3.4 -1.6,-4.3 -3.8,-0.8 -3.2,-2.3 -3.8,2.6 -3.6,2.7 -3.7,2.7 -2.6,3.8 1.8,2.6 2.7,1.7 2.6,1.8 2.9,1.3 2.8,1.3 2.7,1.6 2,2.5 2.3,2.1 2.4,-2.2 2.9,-1.5 2.8,-1.6 2.8,-1.5Z" fill="#b2182b" stroke="#b2182b" stroke-width="0.9"/>
<path d="M804.7,1099.6 l -1.9,3.1 -0.8,3.5 -0.4,3.5 -0.3,3.5 -2.3,2.5 -3.1,1.6 -3.1,1.1 -2.9,1.9 -3.3,-3.2 -2.4,-3.9 -3.2,-3.4 -1.6,-4.3 3.6,-3.1 4.4,-2 4.1,-2.5 3,-3.7 5.1,2.7Z" fill="#b2182b" stroke="#b2182b" stroke-width="0.9"/>
<path d="M771.6,1142.8 l -3.2,0.1 -2.9,1.2 -2.8,1.4 -3.2,0.6 -3,0.9 -2.7,1.6 -3.1,0.6 -3.2,0.3 -2.7,1.6 -2.2,2.2 -2.5,2 -2.7,1.7 -2.5,1.8 -2.7,1.6 -2.9,1.1 -2.7,1.8 2.8,-2.3 2.9,-2.2 2.3,-2.7 2.3,-2.7 2.9,-2.4 2,-3.1 1.3,-3.4 1.1,-3.5 0.8,-3.6 2.1,-3 -0.3,-3.7 0.9,-3.6 1.8,-3.1 2.5,-2.7 2.1,-2.9 1.5,-3.3 3.1,-0.9 1.8,2.6 2.7,1.7 2.6,1.8 2.9,1.3 2.8,1.3 2.7,1.6 2,2.5 2.3,2.1 -1.7,3.4 -1.7,3.5 -1.6,3.5Z" fill="#b2182b" stroke="#b2182b" stroke-width="0.9"/>
<path d="M812.8,1118.9 l -2.9,-1.6 -2.3,-2.4 -3,-1.3 -3.3,-0.4 0.3,-3.5 0.4,-3.5 0.8,-3.5 1.9,-3.1 5,-2.6 1.2,-0.1 2,2.3 1.9,2.4 2,2.4 1.1,3 1.8,2.5 2.3,2.1 1,2.9 1.5,2.8 -5.8,1.5Z" fill="#d6604d" stroke="#d6604d" stroke-width="0.9"/>
<path d="M830.7,1118.6 l -0.6,-3.2 0.4,-3.3 0.6,-3.2 0.5,-3.3 0.3,-3.2 0.4,-3.3 -0.6,-3.3 -1,-3.1 -4,-0.4 -4,-0.9 -2.5,2.1 -3,1.4 -3.1,1.2 -3.2,0.8 2,2.3 1.9,2.4 2,2.4 1.1,3 1.8,2.5 2.3,2.1 1,2.9 1.5,2.8 3,1.3Z" fill="#d6604d" stroke="#d6604d" stroke-width="0.9"/>
<path d="M840.4,1128.4 l 0.3,-0.1 0.1,-3.3 1,-3.2 1.8,-2.7 1.5,-2.9 1,-3.1 0,-3.3 0.8,-3.2 1.9,-2.7 -2,-3.5 -3.2,-2.5 -1.5,-3.7 -1.3,-3.7 -4.4,-1.1 -2.7,2 -3,1.3 1,3.1 0.6,3.3 -0.4,3.3 -0.3,3.2 -0.5,3.3 -0.6,3.2 -0.4,3.3 0.6,3.2 2.3,2.6 2.5,2.4 2.8,2Z" fill="#d6604d" stroke="#d6604d" stroke-width="0.9"/>
<path d="M840.8,1090.5 l 3.2,-2.6 3.9,-1.5 4.1,-0.5 4,-1 3.5,2 3.8,1.1 3.2,2.2 3.4,2.1 -3.3,4.1 -2.8,4.5 -3.8,0.6 -3.6,1.3 -3.8,0.1 -3.8,1 -2,-3.5 -3.2,-2.5 -1.5,-3.7Z" fill="#b2182b" stroke="#b2182b" stroke-width="0.9"/>
<path d="M848.8,1103.9 l 3.8,-1 3.8,-0.1 3.6,-1.3 3.8,-0.6 0.3,5.7 -1.2,5.7 0.5,5.6 0.4,5.7 -2.8,3.5 -3.7,2.3 -4.2,0.5 -4.2,0 -4.1,-1 -4.1,-0.6 0.1,-3.3 1,-3.2 1.8,-2.7 1.5,-2.9 1,-3.1 0,-3.3 0.8,-3.2Z" fill="#b2182b" stroke="#b2182b" stroke-width="0.9"/>
<path d="M879,1094.5 l 0.6,3.2 1.6,2.8 1.5,2.9 0.6,3.2 -0.8,3.2 -0.8,3.2 0.7,3.2 0.2,3.2 -4.7,1.3 -4.8,0.5 -4.8,0.7 -4.5,1.7 -0.4,-5.7 -0.5,-5.6 1.2,-5.7 -0.3,-5.7 2.8,-4.5 3.3,-4.1 3.5,-0.9 3.5,-0.8Z" fill="#d1e5f0" stroke="#d1e5f0" stroke-width="0.9"/>
<path d="M912.6,1082.5 l -0.6,4.6 0.7,4.6 -0.9,4.4 -0.7,4.5 -2.4,3.9 -3.1,3.3 -3,-2.3 -3.3,-1.7 -2.9,-2.5 -3.6,-1.2 -3.5,-1.3 -3.6,-0.8 -3.1,-2.1 -3.6,-1.4 -2.1,-3.9 1.6,-2.8 1.9,-2.7 3.4,-1 3.5,0.4 3.4,-0.4 3.3,-1 3.3,-1.2 3.5,-0.3 2.9,-2 3.4,-0.9 3.1,1.5Z" fill="#d6604d" stroke="#d6604d" stroke-width="0.9"/>
<path d="M879,1094.5 l 3.6,1.4 3.1,2.1 3.6,0.8 3.5,1.3 3.6,1.2 2.9,2.5 3.3,1.7 3,2.3 -2,5.2 -0.9,5.5 -4.6,2.6 -3.6,3.9 -0.6,0.1 -2.7,-1.7 -3.2,-0.7 -2.6,-1.7 -2.8,-1.6 -0.2,-3.2 -0.7,-3.2 0.8,-3.2 0.8,-3.2 -0.6,-3.2 -1.5,-2.9 -1.6,-2.8Z" fill="#d6604d" stroke="#d6604d" stroke-width="0.9"/>
<path d="M912.6,1082.5 l -0.6,4.6 0.7,4.6 -0.9,4.4 -0.7,4.5 189.5,94.8 -3.8,-3.3 -3.4,-3.7 -3.6,-3.5 -3.2,-3.9 -2.7,-4.4 -3.7,-3.4 -3.7,-3.5 -2.2,-4.6 -3.1,-4.1 -3.3,-4 -3.9,-3.4 -4.2,-3 -4.7,-2.1 -5,-1.1 -4.2,-3 -4.9,-1.7 -4.9,-1.4 -4.4,-2.3 -3.8,-3.5 -4.5,-2.2 -4.3,-2.6 -4.2,-2.7 -4.4,-2.3 -4.6,-1.9 -5,-1.1 -4.9,-1.6 -3.9,-3.3 -4.1,-3 -4.2,-2.9 -4.3,-2.7 -3.6,-3.6 -3.1,-4 -3.3,-1.4 -3.4,-0.8 -3.1,-1.8 -3.3,-1.2 -3.6,0.1 -3.4,-1.1 -3.4,-1.3 -3.5,-0.4 -2.9,-2 -3.2,-1.5 -3.1,-1.7 -3.2,-1.5 -3.3,-1.5 -2.5,-2.6 -3.3,-1.7 -3.6,-0.4 -4.1,0.3Z" fill="#92c5de" stroke="#92c5de" stroke-width="0.9"/>
<path d="M1100.6,1195.4 l 3.8,2.9 4,2.7 4.5,1.6 3.7,3.2 4.5,1.8 3.7,3.1 4.2,2.4 3.4,3.4 -4,-1.3 -225.7,-96.7 0.9,-5.5 2,-5.2 3.1,-3.3 2.4,-3.9Z" fill="#92c5de" stroke="#92c5de" stroke-width="0.9"/>
<path d="M894.5,1125 l 3.4,2.9 2.7,3.5 3.2,3 3,3.2 2.2,4 2.5,3.6 1.6,4.2 0.6,4.5 -4,0.7 -4.1,-0.1 -3.8,1.5 -3.8,1.6 -3.7,1.7 -4,0.7 -4.1,0.5 -4.1,-0.3 -2.4,-4 -0.9,-4.6 2,-3.3 2.3,-3 2.2,-3.2 1.4,-3.6 2.1,-3.1 1.6,-3.5 1.2,-3.7 2.3,-3.1Z" fill="#d6604d" stroke="#d6604d" stroke-width="0.9"/>
<path d="M863.8,1123.6 l -2.8,3.5 -3.7,2.3 1.6,4 2.6,3.4 1.9,3.8 3.3,2.9 3.4,1.5 3.2,1.7 2.4,2.8 3.1,2.1 2,-3.3 2.3,-3 2.2,-3.2 1.4,-3.6 2.1,-3.1 1.6,-3.5 1.2,-3.7 2.3,-3.1 -2.7,-1.7 -3.2,-0.7 -2.6,-1.7 -2.8,-1.6 -4.7,1.3 -4.8,0.5 -4.8,0.7Z" fill="#d6604d" stroke="#d6604d" stroke-width="0.9"/>
<path d="M894.5,1125 l 3.6,-3.9 4.6,-2.6 225.7,96.7 -214.7,-61.3 -0.6,-4.5 -1.6,-4.2 -2.5,-3.6 -2.2,-4 -3,-3.2 -3.2,-3 -2.7,-3.5Z" fill="#d6604d" stroke="#d6604d" stroke-width="0.9"/>
<path d="M882.1,1160.2 l -0.8,3.6 -0.6,3.6 -1.3,3.5 -2.5,2.7 -0.3,3.6 -1.2,3.5 -0.7,3.5 -1.7,3.2 40,439.8 394.8,22.1 177.1,-256.5 -352.5,-176.3 -4,-1.3 -214.7,-61.3 -4,0.7 -4.1,-0.1 -3.8,1.5 -3.8,1.6 -3.7,1.7 -4,0.7 -4.1,0.5Z" fill="#d6604d" stroke="#d6604d" stroke-width="0.9"/>
<path d="M840.4,1128.4 l 0.3,-0.1 4.1,0.6 4.1,1 4.2,0 4.2,-0.5 1.6,4 2.6,3.4 1.9,3.8 3.3,2.9 -2.9,1.9 -3.1,1.3 -2.5,2.4 -2.7,2 -2.3,2.5 -1.6,3 -1.4,3.2 -2.3,2.5 -3,-0.6 -3,-0.8 -2.8,-1.4 -2.5,-1.7 -0.8,-5 -0.4,-5 -0.4,-4.9 0,-5 3.1,-4.6Z" fill="#d1e5f0" stroke="#d1e5f0" stroke-width="0.9"/>
<path d="M847.9,1162.3 l 2,4.1 2.9,3.5 4.2,2 3.2,3.3 3,3.3 3.9,2.2 3.5,2.9 2.4,3.8 40,439.8 -237.2,2 128,-438.7 4,-4.2 4.9,-3.3 4.1,-4.3 5.4,-2.5 3.7,-4.6 3.2,-4.8 2.9,-5.2 4.6,-3.8 2.5,1.7 2.8,1.4 3,0.8Z" fill="#d1e5f0" stroke="#d1e5f0" stroke-width="0.9"/>
<path d="M847.9,1162.3 l 2,4.1 2.9,3.5 4.2,2 3.2,3.3 3,3.3 3.9,2.2 3.5,2.9 2.4,3.8 1.7,-3.2 0.7,-3.5 1.2,-3.5 0.3,-3.6 2.5,-2.7 1.3,-3.5 0.6,-3.6 0.8,-3.6 -2.4,-4 -0.9,-4.6 -3.1,-2.1 -2.4,-2.8 -3.2,-1.7 -3.4,-1.5 -2.9,1.9 -3.1,1.3 -2.5,2.4 -2.7,2 -2.3,2.5 -1.6,3 -1.4,3.2Z" fill="#d1e5f0" stroke="#d1e5f0" stroke-width="0.9"/>
<path d="M835,1137.9 l 0,5 0.4,4.9 0.4,5 0.8,5 -4.6,3.8 -2.9,5.2 -3.2,4.8 -3.7,4.6 -5.4,2.5 -4.1,4.3 -4.9,3.3 -4,4.2 -1.2,-4.5 -2.5,-4 -0.7,-4.6 -1.6,-4.4 -0.3,-4.6 0,-4.7 0.6,-4.6 0.9,-4.5 1.2,-3.1 1.8,-2.7 0.8,-3.2 1.2,-3 3.3,-1.7 3.4,-0.8 3.4,-0.7 3.5,0.4 3.5,-0.4 3.4,-1 3.6,0.2 3.4,-0.6Z" fill="#d1e5f0" stroke="#d1e5f0" stroke-width="0.9"/>
<path d="M840.4,1128.4 l -2.1,-2.8 -2.8,-2 -2.5,-2.4 -2.3,-2.6 -3.2,0 -3,-1.3 -5.8,1.5 -5.9,0.1 -1,5.7 -2.1,5.3 -1,5.6 -1.4,5.4 3.4,-0.8 3.4,-0.7 3.5,0.4 3.5,-0.4 3.4,-1 3.6,0.2 3.4,-0.6 3.5,-0.1 3.1,-4.6Z" fill="#d6604d" stroke="#d6604d" stroke-width="0.9"/>
<path d="M807.3,1140.9 l -3.3,1.7 -2.3,-2.3 -1.5,-2.7 -1.2,-2.9 -2.1,-2.4 -1.9,-2.6 -2.7,-1.8 -1.9,-2.6 -1,-3 0.5,-2 2.9,-1.9 3.1,-1.1 3.1,-1.6 2.3,-2.5 3.3,0.4 3,1.3 2.3,2.4 2.9,1.6 -1,5.7 -2.1,5.3 -1,5.6Z" fill="#d6604d" stroke="#d6604d" stroke-width="0.9"/>
<path d="M789.4,1122.3 l -2.8,1.5 -2.8,1.6 -2.9,1.5 -2.4,2.2 -1.7,3.4 -1.7,3.5 -1.6,3.5 -1.9,3.3 3.5,1.5 3.8,0.3 3.1,2.1 3.4,1.7 3.5,1.3 3.3,1.7 3.4,1.7 3.4,1.5 1.2,-3.1 1.8,-2.7 0.8,-3.2 1.2,-3 -2.3,-2.3 -1.5,-2.7 -1.2,-2.9 -2.1,-2.4 -1.9,-2.6 -2.7,-1.8 -1.9,-2.6Z" fill="#d6604d" stroke="#d6604d" stroke-width="0.9"/>
<path d="M771.6,1142.8 l -3.2,0.1 -2.9,1.2 -2.8,1.4 -3.2,0.6 -3,0.9 -2.7,1.6 -3.1,0.6 -3.2,0.3 -2.7,1.6 -2.2,2.2 -2.5,2 -2.7,1.7 -2.5,1.8 -2.7,1.6 -2.9,1.1 -2.7,1.8 -419.3,370 2.7,3.7 2.8,3.8 3.7,2.9 3.1,3.5 2.1,4.1 1.1,4.5 1.2,4.6 2.7,3.8 1.7,4.3 0.9,4.6 2.5,3.9 1.7,4.3 2.1,4.1 3,3.5 1.6,4.3 2.3,4 2.6,3.9 3.7,2.9 3.7,3 2.8,3.7 4.3,2.1 3.4,3.2 4.3,1.9 4,2.5 3.5,3 2.5,4 2.5,3.9 2.4,4 2.5,3.8 3.1,3.5 1.8,4.3 2.2,4.1 284,-21.8 128,-438.7 -1.2,-4.5 -2.5,-4 -0.7,-4.6 -1.6,-4.4 -0.3,-4.6 0,-4.7 0.6,-4.6 0.9,-4.5 -3.4,-1.5 -3.4,-1.7 -3.3,-1.7 -3.5,-1.3 -3.4,-1.7 -3.1,-2.1 -3.8,-0.3Z" fill="#d6604d" stroke="#d6604d" stroke-width="0.9"/>
</g>
<path d="M756.8,1058 l -2.3,-2.8 -2.5,-2.6 -2.7,-2.4 -2.7,-2.4 M756.8,1058 l -0.7,2.7 M756.1,1060.7 l -2.7,5.1 -3.9,4.3 -3.8,4.3 -3,4.9 M745.2,1088.2 l -1.2,4 -2.2,3.5 M745.2,1088.2 l 3.1,-0.3 3,0.6 3,0.2 3.1,0.4 3.1,0.1 2.9,-1 3.1,-0.1 3.1,0.1 M772.4,1102.4 l -3.8,2.6 -3.6,2.7 -3.7,2.7 -2.6,3.8 M755.6,1115.1 l 3.1,-0.9 M148,1333.2 l 593.8,-237.5 M742.7,1079.3 l 1.4,4.4 1.1,4.5 M769.7,1088 l -0.1,0.2 M307.3,1533.3 l 419.3,-370 M726.6,1163.3 l 2.8,-2.3 2.9,-2.2 2.3,-2.7 2.3,-2.7 2.9,-2.4 2,-3.1 1.3,-3.4 1.1,-3.5 0.8,-3.6 2.1,-3 -0.3,-3.7 0.9,-3.6 1.8,-3.1 2.5,-2.7 2.1,-2.9 1.5,-3.3 M726.6,1163.3 l 2.7,-1.8 2.9,-1.1 2.7,-1.6 2.5,-1.8 2.7,-1.7 2.5,-2 2.2,-2.2 2.7,-1.6 3.2,-0.3 3.1,-0.6 2.7,-1.6 3,-0.9 3.2,-0.6 2.8,-1.4 2.9,-1.2 3.2,-0.1 M675.8,1629.2 l 128,-438.7 M803.8,1190.5 l -1.2,-4.5 -2.5,-4 -0.7,-4.6 -1.6,-4.4 -0.3,-4.6 0,-4.7 0.6,-4.6 0.9,-4.5 M778.5,1129.1 l -1.7,3.4 -1.7,3.5 -1.6,3.5 -1.9,3.3 M882.1,1160.2 l -2.4,-4 -0.9,-4.6 M893.9,1125.1 l 0.6,-0.1 M1128.4,1215.2 l -225.7,-96.7 M902.7,1118.5 l -4.6,2.6 -3.6,3.9 M1484.9,1392.8 l -352.5,-176.3 M913,1627.2 l -40,-439.8 M1132.4,1216.5 l -4,-1.3 M873,1187.4 l 1.7,-3.2 0.7,-3.5 1.2,-3.5 0.3,-3.6 2.5,-2.7 1.3,-3.5 0.6,-3.6 0.8,-3.6 M799,1154.6 l 1.2,-3.1 1.8,-2.7 0.8,-3.2 1.2,-3 M778.5,1129.1 l 2.4,-2.2 2.9,-1.5 2.8,-1.6 2.8,-1.5 M804,1142.6 l -2.3,-2.3 -1.5,-2.7 -1.2,-2.9 -2.1,-2.4 -1.9,-2.6 -2.7,-1.8 -1.9,-2.6 -1,-3 M772.4,1102.4 l 3.2,2.3 3.8,0.8 M789.4,1122.3 l 0.5,-2 M756.8,1058 l 3.4,-0.4 3.4,-0.3 3.3,-1 3.4,-0.6 M769.7,1088 l 4.2,-2.6 4.5,-2.2 3.1,-3.9 3.9,-3.1 M785.4,1076.2 l -2.2,-5.4 M770.3,1055.7 l 2.7,4.3 3.8,3.2 3.8,3.3 2.6,4.3 M770.3,1055.7 l 3,-4 3.6,-3.5 2.1,-4.6 2.3,-4.4 M798.1,1048.4 l -2.2,-3.4 -1.7,-3.7 M781.3,1039.2 l 3.3,0.5 3,1.4 3.3,0.7 3.3,-0.5 M746.6,1047.8 l -4.4,-3.5 -3.8,-4.3 -2.6,-4.9 -2.8,-4.9 -1.3,-5.6 0,-5.6 -2.9,-4.9 -2.1,-5.2 -1.8,-5.2 -1.1,-5.4 -1.7,-5.2 -2.4,-5 -2.9,-4.8 -1,-5.5 -0.3,-5.5 -0.7,-5.5 -2.1,-5.2 -2.8,-4.9 -1.6,-5.4 0.4,-5.7 1.5,-5.4 0.5,-5.6 -1.6,-5.4 -0.1,-5.7 -3.6,-4.3 -2,-5.3 -1.2,-5.4 -0.7,-5.5 0.2,-5.6 -1.6,-5.4 -1.7,-5.2 -2.8,-4.8 M781.3,1039.2 l -3.3,-4.5 -3.5,-4.5 -3.9,-4.1 -3.1,-4.6 -3.7,-4.5 -4.1,-4 -1.7,-5.4 -2.6,-5.1 -1.5,-5.5 -2.9,-4.9 -2.8,-5.1 -0.7,-5.7 -4.4,-3.8 -2.6,-5.2 -1.9,-5.3 -2.2,-5.3 -3.9,-4.2 -2.1,-5.3 -4,-4.2 -2.2,-5.2 -0.1,-5.8 -1.9,-5.5 -3.8,-4.4 -2,-5.5 -2.2,-5.1 -2.4,-5.1 -1.6,-5.5 -3,-4.8 -1.8,-5.4 -3.5,-4.5 -2.8,-4.8 -3.5,-4.4 M555.5,545.8 l 140.1,336.2 M878.8,1151.6 l -3.1,-2.1 -2.4,-2.8 -3.2,-1.7 -3.4,-1.5 M803.8,1190.5 l 4,-4.2 4.9,-3.3 4.1,-4.3 5.4,-2.5 3.7,-4.6 3.2,-4.8 2.9,-5.2 4.6,-3.8 M863.8,1100.9 l 0.3,5.7 -1.2,5.7 0.5,5.6 0.4,5.7 M863.8,1100.9 l 2.8,-4.5 3.3,-4.1 M869.9,1092.3 l 3.5,-0.9 3.5,-0.8 M882.6,1119.4 l -0.2,-3.2 -0.7,-3.2 0.8,-3.2 0.8,-3.2 -0.6,-3.2 -1.5,-2.9 -1.6,-2.8 -0.6,-3.2 M882.6,1119.4 l -4.7,1.3 -4.8,0.5 -4.8,0.7 -4.5,1.7 M876.9,1090.6 l 2.1,3.9 M902.7,1118.5 l 0.9,-5.5 2,-5.2 M893.9,1125.1 l -2.7,-1.7 -3.2,-0.7 -2.6,-1.7 -2.8,-1.6 M866.7,1143.5 l -3.3,-2.9 -1.9,-3.8 -2.6,-3.4 -1.6,-4 M857.3,1129.4 l 3.7,-2.3 2.8,-3.5 M787.9,1077 l 4.1,-0.6 4.1,-0.3 3.8,-1.6 3.8,-1.6 M787.9,1077 l 1.3,4.5 0.5,4.7 2.4,4 2.4,4 M803.7,1072.9 l 0.5,3.1 0.9,3.1 2.1,2.4 1.3,3 0.6,3.1 0.9,3 0.1,3.2 -0.4,3.2 M794.5,1094.2 l 5.1,2.7 5.1,2.7 M804.7,1099.6 l 5,-2.6 M785.4,1076.2 l 2.5,0.8 M798.1,1048.4 l 2.3,2.5 3.1,1.5 2.1,2.5 2.6,2.1 M808.2,1057 l -0.8,3.1 0.3,3.1 -0.3,3.2 0.8,3 M808.2,1069.4 l -4.5,3.5 M779.4,1105.5 l 3.6,-3.1 4.4,-2 4.1,-2.5 3,-3.7 M789.9,1120.3 l 2.9,-1.9 3.1,-1.1 3.1,-1.6 2.3,-2.5 M801.3,1113.2 l 0.3,-3.5 0.4,-3.5 0.8,-3.5 1.9,-3.1 M1132.4,1216.5 l -3.4,-3.4 -4.2,-2.4 -3.7,-3.1 -4.5,-1.8 -3.7,-3.2 -4.5,-1.6 -4,-2.7 -3.8,-2.9 M905.6,1107.8 l 3.1,-3.3 2.4,-3.9 M1100.6,1195.4 l -3.8,-3.3 -3.4,-3.7 -3.6,-3.5 -3.2,-3.9 -2.7,-4.4 -3.7,-3.4 -3.7,-3.5 -2.2,-4.6 -3.1,-4.1 -3.3,-4 -3.9,-3.4 -4.2,-3 -4.7,-2.1 -5,-1.1 -4.2,-3 -4.9,-1.7 -4.9,-1.4 -4.4,-2.3 -3.8,-3.5 -4.5,-2.2 -4.3,-2.6 -4.2,-2.7 -4.4,-2.3 -4.6,-1.9 -5,-1.1 -4.9,-1.6 -3.9,-3.3 -4.1,-3 -4.2,-2.9 -4.3,-2.7 -3.6,-3.6 -3.1,-4 M907.1,1078.7 l 3.1,1.5 2.4,2.3 M907.1,1078.7 l -1.1,-4.8 -1.3,-4.7 -0.2,-4.9 -1.6,-4.7 M902.9,1059.6 l 1,-3.4 1.9,-2.9 2.4,-2.6 2.6,-2.2 2.5,-2.5 2.5,-2.3 3,-1.7 3.2,-1.4 M920.7,1080.8 l -4.1,0.3 -4,1.4 M920.7,1080.8 l 2.3,-2.7 1.2,-3.3 2.5,-2.6 1.5,-3.1 1.1,-3.4 2.3,-2.7 1.6,-3.1 1.3,-3.2 M934.5,1056.7 l -1.6,-5 -3.3,-4.1 -3.8,-3.6 -3.8,-3.4 M880.4,1085.1 l 3.4,-1 3.5,0.4 3.4,-0.4 3.3,-1 3.3,-1.2 3.5,-0.3 2.9,-2 3.4,-0.9 M880.4,1085.1 l -1.9,2.7 -1.6,2.8 M911.1,1100.6 l 0.7,-4.5 0.9,-4.4 -0.7,-4.6 0.6,-4.6 M972.8,1101.6 l -3.3,-1.4 -3.4,-0.8 -3.1,-1.8 -3.3,-1.2 -3.6,0.1 -3.4,-1.1 -3.4,-1.3 -3.5,-0.4 -2.9,-2 -3.2,-1.5 -3.1,-1.7 -3.2,-1.5 -3.3,-1.5 -2.5,-2.6 -3.3,-1.7 -3.6,-0.4 M928.4,923.2 l -0.7,4.1 -1.3,3.9 -1.5,3.9 -0.8,4 -2,3.7 -2.2,3.7 -1.1,4 0,4.3 0.2,4.1 1.2,4 -0.4,4.2 1.3,4.1 -0.6,4.1 0.2,4.1 0.1,4.2 1.2,4 M928.4,923.2 l -0.4,4.1 0.1,4.1 -0.1,4.1 -1.2,3.9 -0.9,4 -1.5,3.8 -1.3,3.9 -1.2,3.9 -2.8,3 -2.1,3.4 -2.6,3.2 -2.3,3.3 -1.6,3.8 -1.1,4 -2.5,3.3 -2.6,3.2 -2.9,2.9 -2,3.6 -2.4,3.3 -3.2,2.7 -0.8,4 -2.4,3.4 -1.7,3.8 -0.7,4 -1.1,3.9 -1.1,3.8 -1,3.9 -1.4,3.8 -1.3,3.8 -0.6,4 -1.9,3.5 -1.6,3.8 M878.2,1040.4 l 2.1,2.8 1.6,3.2 1.2,3.3 1.4,3.2 M884.5,1052.9 l 4.7,0.2 M929,919.9 l 117.8,-363.1 M929,919.9 l -0.6,3.3 M922,1040.6 l 1.4,-3.2 1.7,-3 0.5,-3.4 0.1,-3.4 -0.7,-3.4 -1,-3.3 0.7,-3.4 -0.3,-3.4 -0.7,-3.3 0.1,-3.5 1.3,-3.2 0.1,-3.4 -0.2,-3.4 -0.9,-3.3 -1.6,-3 -0.5,-3.4 M853.7,1027.5 l 2.3,-3.6 3.4,-2.6 1.3,-4 2.2,-3.6 3.7,-2.2 2.6,-3.4 2.7,-3.1 3.6,-2.3 2.5,-3.3 3,-2.9 2.6,-3.4 1.4,-4 2,-3.7 2.8,-3.2 3.3,-2.6 3.7,-2.1 2.8,-3.2 1.7,-3.9 2.5,-3.6 1,-4.1 2.9,-3.2 3.9,-1.9 2.6,-3.4 2.7,-3.2 0.1,-4.3 0.9,-4.2 2,-3.7 1.3,-4 1.6,-4 2.6,-3.3 1.5,-4 2.1,-3.6 M853.7,1027.5 l 3,4.6 1.1,5.3 M902.9,1059.6 l -3.4,-1.6 -3.7,-1 -3,-2.5 -3.6,-1.4 M873.6,1063.8 l 2,-3.4 2.5,-3 3.6,-1.7 2.8,-2.8 M873.6,1063.8 l 2.6,5.1 2.6,4.9 1.7,5.5 -0.1,5.8 M857.3,1129.4 l -4.2,0.5 -4.2,0 -4.1,-1 -4.1,-0.6 M840.7,1128.3 l 0.1,-3.3 1,-3.2 1.8,-2.7 1.5,-2.9 1,-3.1 0,-3.3 0.8,-3.2 1.9,-2.7 M856,1084.9 l -4,1 -4.1,0.5 -3.9,1.5 -3.2,2.6 M869.9,1092.3 l -3.4,-2.1 -3.2,-2.2 -3.8,-1.1 -3.5,-2 M848.8,1103.9 l -2,-3.5 -3.2,-2.5 -1.5,-3.7 -1.3,-3.7 M815.1,1072.3 l 2.5,4.6 3.1,4.2 0.6,5.2 1.4,5.1 M815.1,1072.3 l 4,-1.2 3.7,-2.1 4.2,-0.1 4.2,-0.4 M831.2,1068.5 l 4.5,3.6 M835.7,1072.1 l -1.1,4.3 0.2,4.4 1.1,4.2 0.5,4.4 M822.7,1091.4 l 4,0.9 4,0.4 M830.7,1092.7 l 3,-1.3 2.7,-2 M810.9,1096.9 l -1.2,0.1 M808.2,1069.4 l 3.2,2 3.7,0.9 M810.9,1096.9 l 3.2,-0.8 3.1,-1.2 3,-1.4 2.5,-2.1 M808.2,1057 l 4.4,-3.3 3.9,-3.9 5.4,-1.1 5,-2.4 M826.9,1046.3 l 3,3.2 M829.9,1049.5 l -0.1,4.9 -1,4.8 2,4.4 0.4,4.9 M798.9,938.7 l 0.8,3.2 1.3,2.9 2,2.5 2,2.6 -0.7,3.2 0.5,3.3 1.4,2.9 0.7,3.2 M806.9,962.5 l 0.6,4.3 0,4.4 0.1,4.4 0.7,4.3 1.3,4.3 -0.2,4.5 2,3.9 2,3.9 1.2,4.3 1,4.3 1.4,4.2 2.4,3.7 -0.8,4.4 0.7,4.4 0.5,4.3 0.7,4.4 M703,555 l 95.9,383.7 M853.7,1027.5 l -4.2,0.3 -4,-1 M826.4,1035.8 l 4.7,-2.6 4.3,-3.1 5.1,-1.4 5,-1.9 M826.4,1035.8 l -3.2,-2.4 -2.7,-2.9 M826.9,1046.3 l -0.8,-5.2 0.3,-5.3 M824.5,1117.3 l -5.8,1.5 -5.9,0.1 M824.5,1117.3 l 3,1.3 3.2,0 M830.7,1118.6 l 2.3,2.6 2.5,2.4 2.8,2 2.1,2.8 M807.3,1140.9 l 3.4,-0.8 3.4,-0.7 3.5,0.4 3.5,-0.4 3.4,-1 3.6,0.2 3.4,-0.6 3.5,-0.1 M835,1137.9 l 3.1,-4.6 2.3,-4.9 M801.3,1113.2 l 3.3,0.4 3,1.3 2.3,2.4 2.9,1.6 M830.7,1092.7 l 1,3.1 0.6,3.3 -0.4,3.3 -0.3,3.2 -0.5,3.3 -0.6,3.2 -0.4,3.3 0.6,3.2 M840.7,1128.3 l -0.3,0.1 M840.8,1090.5 l -4.4,-1.1 M804,1142.6 l 3.3,-1.7 M836.6,1157.8 l -0.8,-5 -0.4,-5 -0.4,-4.9 0,-5 M856.1,1044.1 l 1.1,3 2,2.3 2.7,1.6 2.1,2.3 2.3,2.1 1.8,2.5 1.5,2.7 1.4,2.7 M856.1,1044.1 l -4.4,3.9 -4.2,4 M847.5,1052 l -0.3,3.9 0,3.8 0.6,3.8 2,3.4 M871,1063.3 l -4.4,1 -4.5,0.5 -4,1.9 -3.8,2.5 M854.3,1069.2 l -4.5,-2.3 M857.8,1037.4 l -0.7,3.4 -1,3.3 M873.6,1063.8 l -2.6,-0.5 M829.9,1049.5 l 4.3,1.1 4.5,0.2 4.4,0.5 4.4,0.7 M835.7,1072.1 l 3.6,-1.2 3.2,-2 3.6,-1.1 3.7,-0.9 M856,1084.9 l 0,-4 0.2,-4 -0.2,-4 -1.7,-3.7" fill="none" stroke="#000" stroke-width="1.2" stroke-linecap="round" stroke-linejoin="round"/>
</g>
<path d="M821.4,995.6 l 5.4,0 5.4,0.2 5.3,-1.2 5.1,-1.7 3.7,-0.7 3.7,0.4 3.8,-0.5 3.7,0.5 3.6,1 3.3,1.9 3.7,0.4 3.6,1 0.3,4.6 0.3,4.7 1.1,4.5 -0.4,4.7 5.5,0.7 5.1,2 -0.8,3.2 -0.5,3.4 4,1.2 3.9,1.4 5.7,2 4.9,3.3 3.9,-1.8 4,-1.5 4.3,-1 3.7,-2.3 5.3,-1.3 2.9,-1.9 3.3,-1 3.3,-0.8 3.3,-0.9 3.4,0.7 3.5,0 3.3,-1.1 3.5,-0.3 3.3,2.5 3.2,2.9 2.9,3.1 3.8,2.1 1.7,4.1 2.3,3.8 1.7,2.9 1.4,3.2 1.8,2.9 1.7,2.9 3.9,1.4 4,1.3 2.8,4.5 2.5,4.7 -3.2,1.1 -3.4,0.1 -3.3,0.8 -3.3,0.7 -4.4,2 -3.6,3.3 -3.9,2.8 -4,2.5 -2.2,2.1 -1.8,2.5 -2.2,2.1 -1.7,2.5 1,3.4 1.6,3.2 -2.1,2.6 -1.7,2.9 -1.8,2.8 -2.3,2.3 -4.2,3.9 -3.8,4.1 -2,4.4 -3.3,3.5 -0.9,4.1 -1.7,3.8 2.3,3.2 1.7,3.5 -0.8,2.9 -0.3,3.1 -0.3,3 -1.3,2.9 -1,3.3 -1.8,3 -1.1,3.4 -0.1,3.5 -4.3,2.1 -3.6,3.2 -2.3,4.4 -1.4,4.7 -2.1,4.5 -0.8,4.9 -4.6,1.4 -4.7,1.3 -3.7,-2.5 -4.2,-1.5 -3.8,1.9 -4.2,0.7 -0.6,-5.1 -1.1,-5 -1.4,-5 -2.2,-4.7 -4.7,-0.8 -4.5,-1.9 -2.8,4.5 -3.8,3.5 -2.8,1.9 -2.5,2 -2.8,1.9 -2.5,2.1 -2.8,2.9 -2.6,3 -3.6,1.9 -2.9,2.8 -3,-2.4 -3.3,-1.7 -2.5,-3 -3.1,-2.2 1.6,-4.5 1,-4.7 -2.7,-2.6 -2.6,-2.7 -3.2,1.4 -3.3,1.4 -3.2,1.7 -3.5,0.8 -4.3,-2.1 -3.6,-3.2 1,-4.1 1.6,-3.8 -2.3,-2.8 -2.9,-2.1 -2.1,-2.7 -2,-3 -3.9,-2.7 -4.5,3.5 -3.5,4.5 -2.5,3.6 -1.6,4.2 -2.4,3.8 -1.4,4.2 -3.4,1.1 -3.2,1.6 -0.1,-5.3 0.1,-5.3 1.5,-5.5 2.4,-5.1 0.8,-5.3 0.6,-5.3 -3,-1.1 -3.1,-0.5 -3.1,-0.7 -2.7,-1.6 -3.4,-0.7 -3.2,-0.9 -3.3,-0.5 -3.4,-0.6 -1.2,-3.3 -1.4,-3.3 -5.1,-2.1 -5.5,-0.5 -2.4,-2.3 -2.3,-2.5 -2.7,-2 -3.2,-1.2 3,-1.6 2.3,-2.4 -4,0 -3.9,0 -3.8,-0.7 -3.5,-1.4 -3.5,-1.2 -3.8,-0.6 1.6,-3.2 1,-3.4 1.8,-3.2 0.9,-3.5 0.3,-5.9 -0.5,-6 -0.5,-5.9 -0.6,-6 0.4,-4.7 0.5,-4.8 0.9,-4.7 2.2,-4.3 -1.4,-5.8 -3.1,-5.1 -1.3,-5.8 -0.9,-5.8 4.2,1.1 4.2,1.3 4,1.6 3.5,2.6 4,-0.2 4,0.5 3.9,-0.5 4,0.2 3.6,-1 3.2,-2 2.9,-2.3 3.5,-1.3 4.1,-1.3 4.1,-1.4 3.8,-2 3.9,-1.9 5.3,2.6 2.8,-3.2 3.7,-2.2 3.2,-2.7 3.5,-2.4 4.6,-1.9 4.7,-1.4 4.9,-0.9 4.3,-2.5 5.3,-1.3 2.5,-4.1Z" fill="none" stroke="#000" stroke-width="1.3" stroke-linejoin="round"/>
<!-- legend -->
<rect x="16.5" y="995.5" width="288" height="195" fill="#fff" stroke="#222" stroke-width="1"/>
<rect x="16" y="995" width="289" height="21.5" fill="#000"/>
<text x="160.5" y="1012.3" text-anchor="middle" class="lg" fill="#fff" style="fill:#fff" textLength="69" lengthAdjust="spacingAndGlyphs">Change %</text>
<g stroke="#000" stroke-width="0">
<rect x="45" y="1019" width="36.5" height="27" fill="#000"/><rect x="46" y="1021" width="35" height="23" fill="#b2182b"/>
<rect x="45" y="1046" width="36.5" height="26" fill="#000"/><rect x="46" y="1047" width="35" height="22" fill="#d6604d"/>
<rect x="45" y="1072" width="36.5" height="26" fill="#000"/><rect x="46" y="1073.5" width="35" height="23" fill="#d1e5f0"/>
<rect x="45" y="1097" width="36.5" height="26" fill="#000"/><rect x="46" y="1098.5" width="35" height="23" fill="#92c5de"/>
<rect x="45" y="1122" width="36.5" height="26" fill="#000"/><rect x="46" y="1123.5" width="35" height="23" fill="#4393c3"/>
<rect x="45" y="1147" width="36.5" height="28" fill="#000"/><rect x="46" y="1149" width="35" height="23.5" fill="#2166ac"/>
</g>
<line x1="92" y1="1071" x2="305" y2="1071" stroke="#aaa" stroke-width="1.6" stroke-dasharray="9,3,2,3"/>
<text x="93" y="1038.5" class="lg" textLength="186" lengthAdjust="spacingAndGlyphs">Greater than 10% increase</text>
<text x="93" y="1066" class="lg" textLength="121" lengthAdjust="spacingAndGlyphs">0 to 10% increase</text>
<text x="93" y="1090.3" class="lg" textLength="125" lengthAdjust="spacingAndGlyphs">0 to 10% decrease</text>
<text x="93" y="1117" class="lg" textLength="146.5" lengthAdjust="spacingAndGlyphs">10% to 20% decrease</text>
<text x="93" y="1144" class="lg" textLength="146.5" lengthAdjust="spacingAndGlyphs">20% to 30% decrease</text>
<text x="93" y="1170.3" class="lg" textLength="190" lengthAdjust="spacingAndGlyphs">Greater than 30% decrease</text>
<!-- london box -->
<rect x="707.5" y="948" width="282" height="241" fill="none" stroke="#222" stroke-width="1"/>
<rect x="707" y="947" width="283" height="44" fill="#000"/>
<text x="746" y="979" style="font-family:'Liberation Sans',sans-serif;font-size:23px;fill:#fff" textLength="204.5" lengthAdjust="spacingAndGlyphs">London authorities</text>
<defs><linearGradient id="bg" x1="0" y1="0" x2="0" y2="1"><stop offset="0" stop-color="#fff"/><stop offset="1" stop-color="#e9e9e9"/></linearGradient></defs>
<rect x="0" y="1336" width="1096" height="12" fill="url(#bg)"/>
<!-- rule and text -->
<rect x="16" y="1207.3" width="1062" height="2.6" fill="#000"/>
<text x="20" y="1234" class="t" textLength="1037" lengthAdjust="spacingAndGlyphs">The map shows the percentage change in the average amount of SDLT (receipts) per residential transaction between the years 2014-15 and 2015-</text>
<text x="20" y="1254" class="t" id="l2">16. The data are not adjusted. The year-on-year percentage change comparison is subject to volatility in the data.</text>
<text x="20" y="1294" class="t" id="l4">Average SDLT receipts from residential properties have fallen in the majority of local authorities following the change in the residential SDLT rules in</text>
<text x="20" y="1313.7" class="t" id="l5">December 2014. The exceptions are mostly in central London and the South East of England. Falls in average residential SDLT receipts are largest</text>
<text x="20" y="1333.5" class="t" id="l6">across the North and Midlands of England and in Wales and Northern Ireland.</text>
</svg>
</body></html>
